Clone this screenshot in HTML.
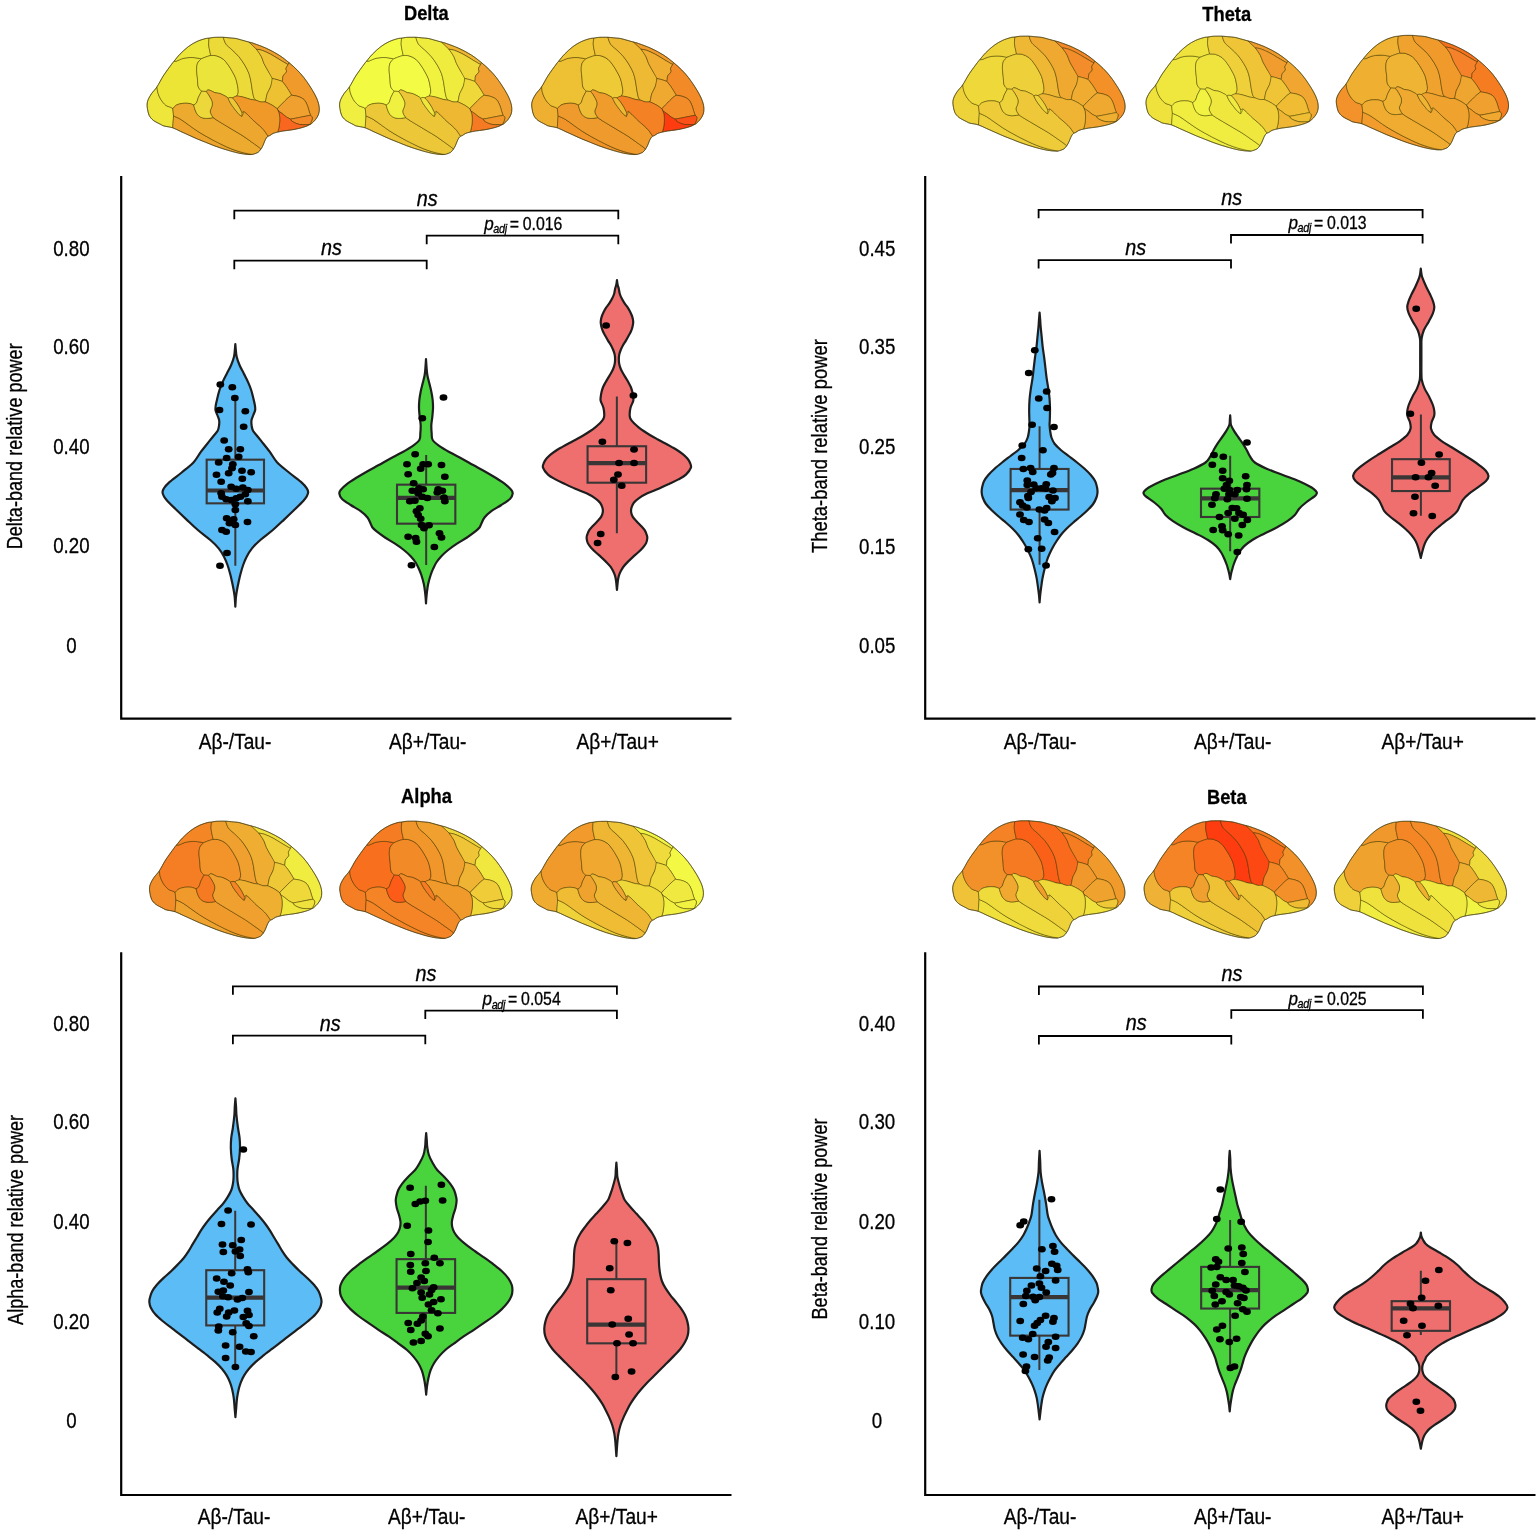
<!DOCTYPE html>
<html lang="en"><head><meta charset="utf-8"><title>Relative power by band</title>
<style>html,body{margin:0;padding:0;background:#fff}svg{display:block}text{font-family:"Liberation Sans",sans-serif;fill:#000;stroke:#000;stroke-width:0.3px;stroke-linejoin:round}</style></head><body>
<svg width="1536" height="1536" viewBox="0 0 1536 1536" style="filter:blur(0.45px)">
<rect width="1536" height="1536" fill="#fff"/>
<g>
<g transform="translate(139.93 28.26) scale(0.08333 0.08367)" stroke="#2c2a00" stroke-opacity="0.72" stroke-width="7.5" stroke-linejoin="round">
<path d="M90 960C86 937.5 84.33 923.33 86 905C87.67 886.67 91 870.83 100 850C109 829.17 122.5 805 140 780C157.5 755 181.67 735 205 700C228.33 665 250.83 615 280 570C309.17 525 358.33 459.5 380 430C401.67 400.5 393.33 413 410 393C426.67 373 451.67 338.83 480 310C508.33 281.17 546.67 245 580 220C613.33 195 646.67 175.83 680 160C713.33 144.17 755 132 780 125C805 118 813.33 120.5 830 118C846.67 115.5 865.33 111.67 880 110C894.67 108.33 898 108.33 918 108C938 107.67 975 107 1000 108C1025 109 1043 111.67 1068 114C1093 116.33 1125 117.67 1150 122C1175 126.33 1191.67 132.83 1218 140C1244.33 147.17 1283 158 1308 165C1333 172 1333 169.5 1368 182C1403 194.5 1468 217 1518 240C1568 263 1623 291.67 1668 320C1713 348.33 1751.33 380 1788 410C1824.67 440 1858 470 1888 500C1918 530 1943 558.33 1968 590C1993 621.67 2016.33 656.67 2038 690C2059.67 723.33 2081.33 758.33 2098 790C2114.67 821.67 2128.83 851.67 2138 880C2147.17 908.33 2152.17 935 2153 960C2153.83 985 2150.5 1008.33 2143 1030C2135.5 1051.67 2122.17 1071.67 2108 1090C2093.83 1108.33 2069.33 1130 2058 1140C2046.67 1150 2049.67 1145 2040 1150C2030.33 1155 2020.33 1162.5 2000 1170C1979.67 1177.5 1948.33 1187.5 1918 1195C1887.67 1202.5 1851.33 1209.5 1818 1215C1784.67 1220.5 1745.5 1223.67 1718 1228C1690.5 1232.33 1673 1236.17 1653 1241C1633 1245.83 1613.83 1250 1598 1257C1582.17 1264 1568 1277.5 1558 1283C1548 1288.5 1544.67 1285.5 1538 1290C1531.33 1294.5 1524.67 1300.33 1518 1310C1511.33 1319.67 1504.67 1333.33 1498 1348C1491.33 1362.67 1485.5 1382.17 1478 1398C1470.5 1413.83 1463 1428.83 1453 1443C1443 1457.17 1432.17 1473 1418 1483C1403.83 1493 1379.67 1498.83 1368 1503C1356.33 1507.17 1361.33 1507.17 1348 1508C1334.67 1508.83 1314.67 1510.5 1288 1508C1261.33 1505.5 1221.33 1499.67 1188 1493C1154.67 1486.33 1121.33 1477.17 1088 1468C1054.67 1458.83 1021.33 1448.83 988 1438C954.67 1427.17 921.33 1415.5 888 1403C854.67 1390.5 821.33 1376.33 788 1363C754.67 1349.67 721.33 1337.17 688 1323C654.67 1308.83 621.33 1293 588 1278C554.67 1263 520.5 1247.67 488 1233C455.5 1218.33 426.33 1200.83 393 1190C359.67 1179.17 311.83 1174.67 288 1168C264.17 1161.33 271.33 1161.33 250 1150C228.67 1138.67 183.33 1118.33 160 1100C136.67 1081.67 121.67 1063.33 110 1040C98.33 1016.67 94 982.5 90 960Z" fill="#eda62e" stroke="none"/>
<path d="M393 1190C359.67 1179.17 311.83 1174.67 288 1168C264.17 1161.33 271.33 1161.33 250 1150C228.67 1138.67 183.33 1118.33 160 1100C136.67 1081.67 121.67 1063.33 110 1040C98.33 1016.67 94 982.5 90 960C86 937.5 84.33 923.33 86 905C87.67 886.67 91 870.83 100 850C109 829.17 122.5 805 140 780C157.5 755 181.67 735 205 700L205 700C206.67 711.67 207.5 745 215 770C222.5 795 234.17 825 250 850C265.83 875 290 904.17 310 920C330 935.83 356 938.33 370 945C384 951.67 390 957.5 394 960L394 960C395.5 974.67 402.33 1021.33 403 1048C403.67 1074.67 399.67 1096.33 398 1120C396.33 1143.67 393.83 1178.33 393 1190Z" fill="#eee63a"/>
<path d="M205 700C228.33 665 250.83 615 280 570C309.17 525 358.33 459.5 380 430C401.67 400.5 393.33 413 410 393L410 393C415 392.83 425 396.5 440 392C455 387.5 480 372.5 500 366C520 359.5 536.67 355.67 560 353C583.33 350.33 610.83 348 640 350C669.17 352 719.17 362.5 735 365L735 365C727.5 374.17 699.17 397.5 690 420C680.83 442.5 680 470 680 500C680 530 686.67 566.67 690 600C693.33 633.33 691.67 674.67 700 700C708.33 725.33 733.33 743.33 740 752L740 752C733.33 765 710 807 700 830C690 853 689.17 875.5 680 890C670.83 904.5 650.83 912.5 645 917L645 917C635.5 913.83 610.83 901.17 588 898C565.17 894.83 533 894.67 508 898C483 901.33 457 907.67 438 918C419 928.33 401.33 953 394 960L394 960C390 957.5 384 951.67 370 945C356 938.33 330 935.83 310 920C290 904.17 265.83 875 250 850C234.17 825 222.5 795 215 770C207.5 745 206.67 711.67 205 700Z" fill="#ece536"/>
<path d="M410 393C426.67 373 451.67 338.83 480 310C508.33 281.17 546.67 245 580 220C613.33 195 646.67 175.83 680 160C713.33 144.17 755 132 780 125C805 118 813.33 120.5 830 118L830 118C829.17 131.67 823.33 173 825 200C826.67 227 835.83 259.17 840 280C844.17 300.83 848.33 317.5 850 325L850 325C841.67 327.5 819.17 333.33 800 340C780.83 346.67 745.83 360.83 735 365L735 365C719.17 362.5 669.17 352 640 350C610.83 348 583.33 350.33 560 353C536.67 355.67 520 359.5 500 366C480 372.5 455 387.5 440 392C425 396.5 415 392.83 410 393Z" fill="#ece63a"/>
<path d="M735 365C745.83 360.83 780.83 346.67 800 340C819.17 333.33 841.67 327.5 850 325L850 325C861.67 325.83 895 322.5 920 330C945 337.5 976.67 351.67 1000 370C1023.33 388.33 1041.67 415 1060 440C1078.33 465 1095 493.33 1110 520C1125 546.67 1140 573.33 1150 600C1160 626.67 1165 653.33 1170 680C1175 706.67 1181.17 738.33 1180 760C1178.83 781.67 1165.83 801.67 1163 810L1163 810C1153.83 813.67 1122.17 829 1108 832C1093.83 835 1086.33 827 1078 828C1069.67 829 1064.33 839.33 1058 838C1051.67 836.67 1056.33 829.67 1040 820C1023.67 810.33 983.33 788.33 960 780C936.67 771.67 918.33 775.83 900 770C881.67 764.17 864.17 750.5 850 745C835.83 739.5 824.17 735.33 815 737C805.83 738.67 807.5 752.5 795 755C782.5 757.5 749.17 752.5 740 752L740 752C733.33 743.33 708.33 725.33 700 700C691.67 674.67 693.33 633.33 690 600C686.67 566.67 680 530 680 500C680 470 680.83 442.5 690 420C699.17 397.5 727.5 374.17 735 365Z" fill="#ebe43a"/>
<path d="M830 118C846.67 115.5 865.33 111.67 880 110C894.67 108.33 898 108.33 918 108C938 107.67 975 107 1000 108L1000 108C1005.5 121.67 1015 164.67 1033 190C1051 215.33 1082.17 235 1108 260C1133.83 285 1163 310 1188 340C1213 370 1238 406.67 1258 440C1278 473.33 1295.5 506.67 1308 540C1320.5 573.33 1326.33 606.67 1333 640C1339.67 673.33 1342.17 708.33 1348 740C1353.83 771.67 1360.5 810 1368 830C1375.5 850 1388.83 855 1393 860L1393 860C1382.17 858.33 1352.17 855.83 1328 850C1303.83 844.17 1275.5 831.67 1248 825C1220.5 818.33 1177.17 812.5 1163 810L1163 810C1165.83 801.67 1178.83 781.67 1180 760C1181.17 738.33 1175 706.67 1170 680C1165 653.33 1160 626.67 1150 600C1140 573.33 1125 546.67 1110 520C1095 493.33 1078.33 465 1060 440C1041.67 415 1023.33 388.33 1000 370C976.67 351.67 945 337.5 920 330C895 322.5 861.67 325.83 850 325L850 325C848.33 317.5 844.17 300.83 840 280C835.83 259.17 826.67 227 825 200C823.33 173 829.17 131.67 830 118Z" fill="#ecda38"/>
<path d="M1000 108C1025 109 1043 111.67 1068 114C1093 116.33 1125 117.67 1150 122C1175 126.33 1191.67 132.83 1218 140C1244.33 147.17 1283 158 1308 165L1308 165C1323 179.17 1373 220.83 1398 250C1423 279.17 1443 311.67 1458 340C1473 368.33 1474.67 391.67 1488 420C1501.33 448.33 1521.33 480 1538 510C1554.67 540 1583 568.33 1588 600C1593 631.67 1578 670 1568 700C1558 730 1538 751.67 1528 780C1518 808.33 1513 853.33 1508 870C1503 886.67 1499.67 878.33 1498 880L1498 880C1489.67 880 1465.5 883.33 1448 880C1430.5 876.67 1402.17 863.33 1393 860L1393 860C1388.83 855 1375.5 850 1368 830C1360.5 810 1353.83 771.67 1348 740C1342.17 708.33 1339.67 673.33 1333 640C1326.33 606.67 1320.5 573.33 1308 540C1295.5 506.67 1278 473.33 1258 440C1238 406.67 1213 370 1188 340C1163 310 1133.83 285 1108 260C1082.17 235 1051 215.33 1033 190C1015 164.67 1005.5 121.67 1000 108Z" fill="#ecd437"/>
<path d="M1308 165C1333 172 1333 169.5 1368 182C1403 194.5 1468 217 1518 240C1568 263 1623 291.67 1668 320C1713 348.33 1751.33 380 1788 410L1778 435C1759.67 424.17 1703 390.83 1668 370C1633 349.17 1601.33 327.5 1568 310C1534.67 292.5 1496.33 275 1468 265C1439.67 255 1409.67 252.5 1398 250L1398 250L1308 165Z" fill="#ee9f30"/>
<path d="M1398 250C1409.67 252.5 1439.67 255 1468 265C1496.33 275 1534.67 292.5 1568 310C1601.33 327.5 1633 349.17 1668 370C1703 390.83 1759.67 424.17 1778 435L1778 435C1773.83 442.5 1756.33 465.83 1753 480C1749.67 494.17 1763.83 505 1758 520C1752.17 535 1725.5 555 1718 570C1710.5 585 1714.67 599.17 1713 610C1711.33 620.83 1708.83 630.83 1708 635L1708 635C1698 631.67 1668 620.83 1648 615C1628 609.17 1598 602.5 1588 600L1588 600C1579.67 585 1554.67 540 1538 510C1521.33 480 1501.33 448.33 1488 420C1474.67 391.67 1473 368.33 1458 340C1443 311.67 1408 265 1398 250Z" fill="#eec234"/>
<path d="M1778 435L1788 410L1788 410C1824.67 440 1858 470 1888 500C1918 530 1943 558.33 1968 590C1993 621.67 2016.33 656.67 2038 690C2059.67 723.33 2081.33 758.33 2098 790C2114.67 821.67 2128.83 851.67 2138 880C2147.17 908.33 2152.17 935 2153 960C2153.83 985 2150.5 1008.33 2143 1030C2135.5 1051.67 2122.17 1071.67 2108 1090C2093.83 1108.33 2069.33 1130 2058 1140C2046.67 1150 2049.67 1145 2040 1150L2040 1150C2043.83 1141.67 2058.33 1114.17 2063 1100C2067.67 1085.83 2070.5 1075 2068 1065C2065.5 1055 2051.33 1044.17 2048 1040L2048 1040C2045.5 1033.33 2039.67 1020 2033 1000C2026.33 980 2018.83 945 2008 920C1997.17 895 1986.33 867.5 1968 850C1949.67 832.5 1923 823.33 1898 815C1873 806.67 1831.33 802.5 1818 800L1818 800C1816.33 796.67 1818 796.67 1808 780C1798 763.33 1774.67 724.17 1758 700C1741.33 675.83 1716.33 645.83 1708 635L1708 635C1708.83 630.83 1711.33 620.83 1713 610C1714.67 599.17 1710.5 585 1718 570C1725.5 555 1752.17 535 1758 520C1763.83 505 1749.67 494.17 1753 480C1756.33 465.83 1773.83 442.5 1778 435Z" fill="#f09a2c"/>
<path d="M1588 600C1598 602.5 1628 609.17 1648 615C1668 620.83 1698 631.67 1708 635L1708 635C1716.33 645.83 1741.33 675.83 1758 700C1774.67 724.17 1798 763.33 1808 780C1818 796.67 1816.33 796.67 1818 800L1818 800C1809.67 806.67 1784.67 825 1768 840C1751.33 855 1734.67 873.33 1718 890C1701.33 906.67 1679.67 928 1668 940C1656.33 952 1651.33 958.33 1648 962L1648 962C1638 955 1608 932 1588 920C1568 908 1543 896.67 1528 890C1513 883.33 1503 881.67 1498 880L1498 880C1499.67 878.33 1503 886.67 1508 870C1513 853.33 1518 808.33 1528 780C1538 751.67 1558 730 1568 700C1578 670 1584.67 616.67 1588 600Z" fill="#eec133"/>
<path d="M1818 800C1831.33 802.5 1873 806.67 1898 815C1923 823.33 1949.67 832.5 1968 850C1986.33 867.5 1997.17 895 2008 920C2018.83 945 2026.33 980 2033 1000C2039.67 1020 2045.5 1033.33 2048 1040L2048 1040C2034.67 1042.5 1998 1049.17 1968 1055C1938 1060.83 1894.67 1070 1868 1075C1841.33 1080 1818 1083.33 1808 1085L1808 1085C1799.67 1080.83 1774.67 1070.83 1758 1060C1741.33 1049.17 1724.67 1032.5 1708 1020C1691.33 1007.5 1668 994.67 1658 985C1648 975.33 1649.67 965.83 1648 962L1648 962C1651.33 958.33 1656.33 952 1668 940C1679.67 928 1701.33 906.67 1718 890C1734.67 873.33 1751.33 855 1768 840C1784.67 825 1809.67 806.67 1818 800Z" fill="#f0a02e"/>
<path d="M1808 1085C1818 1083.33 1841.33 1080 1868 1075C1894.67 1070 1938 1060.83 1968 1055C1998 1049.17 2034.67 1042.5 2048 1040L2048 1040C2051.33 1044.17 2065.5 1055 2068 1065C2070.5 1075 2067.67 1085.83 2063 1100C2058.33 1114.17 2043.83 1141.67 2040 1150L2040 1150C2031.33 1150.33 2008.33 1152 1988 1152C1967.67 1152 1939.67 1153.67 1918 1150C1896.33 1146.33 1874.67 1137.5 1858 1130C1841.33 1122.5 1826.33 1112.5 1818 1105C1809.67 1097.5 1809.67 1088.33 1808 1085Z" fill="#f4892a"/>
<path d="M1648 962C1649.67 965.83 1648 975.33 1658 985C1668 994.67 1691.33 1007.5 1708 1020C1724.67 1032.5 1741.33 1049.17 1758 1060C1774.67 1070.83 1799.67 1080.83 1808 1085L1808 1085C1809.67 1088.33 1809.67 1097.5 1818 1105C1826.33 1112.5 1841.33 1122.5 1858 1130C1874.67 1137.5 1896.33 1146.33 1918 1150C1939.67 1153.67 1967.67 1152 1988 1152C2008.33 1152 2031.33 1150.33 2040 1150L2040 1150C2030.33 1155 2020.33 1162.5 2000 1170C1979.67 1177.5 1948.33 1187.5 1918 1195C1887.67 1202.5 1851.33 1209.5 1818 1215C1784.67 1220.5 1745.5 1223.67 1718 1228C1690.5 1232.33 1673 1236.17 1653 1241L1653 1241C1655.5 1232.17 1663.83 1210.17 1668 1188C1672.17 1165.83 1677.17 1134.67 1678 1108C1678.83 1081.33 1678 1052.33 1673 1028C1668 1003.67 1652.17 973 1648 962Z" fill="#f9661f"/>
<path d="M403 1048C417.17 1054.67 457.17 1069.67 488 1088C518.83 1106.33 554.67 1134.67 588 1158C621.33 1181.33 654.67 1206.33 688 1228C721.33 1249.67 754.67 1268.83 788 1288C821.33 1307.17 854.67 1325.5 888 1343C921.33 1360.5 954.67 1377.17 988 1393C1021.33 1408.83 1054.67 1424.67 1088 1438C1121.33 1451.33 1154.67 1463 1188 1473C1221.33 1483 1261.33 1492.17 1288 1498C1314.67 1503.83 1338 1506.33 1348 1508L1348 1508C1334.67 1508.83 1314.67 1510.5 1288 1508C1261.33 1505.5 1221.33 1499.67 1188 1493C1154.67 1486.33 1121.33 1477.17 1088 1468C1054.67 1458.83 1021.33 1448.83 988 1438C954.67 1427.17 921.33 1415.5 888 1403C854.67 1390.5 821.33 1376.33 788 1363C754.67 1349.67 721.33 1337.17 688 1323C654.67 1308.83 621.33 1293 588 1278C554.67 1263 520.5 1247.67 488 1233C455.5 1218.33 426.33 1200.83 393 1190L393 1190C393.83 1178.33 396.33 1143.67 398 1120C399.67 1096.33 402.17 1060 403 1048Z" fill="#eea42c"/>
<path d="M394 960C401.33 953 419 928.33 438 918C457 907.67 483 901.33 508 898C533 894.67 565.17 894.83 588 898C610.83 901.17 635.5 913.83 645 917L645 917C648 927.17 655.83 959.5 663 978C670.17 996.5 677.17 1013.83 688 1028C698.83 1042.17 711.33 1054.67 728 1063C744.67 1071.33 768 1076.33 788 1078C808 1079.67 833 1074.67 848 1073C863 1071.33 873 1068.83 878 1068L878 1068C888 1074.67 911.33 1091.33 938 1108C964.67 1124.67 1004.67 1148 1038 1168C1071.33 1188 1104.67 1208 1138 1228C1171.33 1248 1204.67 1266.33 1238 1288C1271.33 1309.67 1309.67 1338 1338 1358C1366.33 1378 1388.83 1393.83 1408 1408C1427.17 1422.17 1445.5 1437.17 1453 1443L1453 1443C1443 1457.17 1432.17 1473 1418 1483C1403.83 1493 1379.67 1498.83 1368 1503C1356.33 1507.17 1361.33 1507.17 1348 1508L1348 1508C1338 1506.33 1314.67 1503.83 1288 1498C1261.33 1492.17 1221.33 1483 1188 1473C1154.67 1463 1121.33 1451.33 1088 1438C1054.67 1424.67 1021.33 1408.83 988 1393C954.67 1377.17 921.33 1360.5 888 1343C854.67 1325.5 821.33 1307.17 788 1288C754.67 1268.83 721.33 1249.67 688 1228C654.67 1206.33 621.33 1181.33 588 1158C554.67 1134.67 518.83 1106.33 488 1088C457.17 1069.67 417.17 1054.67 403 1048L403 1048L394 960Z" fill="#ecaa2e"/>
<path d="M795 755C798.33 752 805.83 738.67 815 737C824.17 735.33 835.83 739.5 850 745C864.17 750.5 881.67 764.17 900 770C918.33 775.83 936.67 771.67 960 780C983.33 788.33 1023.67 810.33 1040 820C1056.33 829.67 1055 835 1058 838L1058 838C1063 848 1074.67 876.33 1088 898C1101.33 919.67 1121.33 946.33 1138 968C1154.67 989.67 1173.83 1013.83 1188 1028C1202.17 1042.17 1217.17 1048.83 1223 1053L1223 1053C1225.83 1047.5 1235.83 1030 1240 1020C1244.17 1010 1246.67 997.5 1248 993L1248 993C1254.67 998.83 1268 1008.83 1288 1028C1308 1047.17 1343 1084.67 1368 1108C1393 1131.33 1418 1149.67 1438 1168C1458 1186.33 1473.83 1201.33 1488 1218C1502.17 1234.67 1514.67 1256 1523 1268C1531.33 1280 1535.5 1286.33 1538 1290L1538 1290C1531.33 1294.5 1524.67 1300.33 1518 1310C1511.33 1319.67 1504.67 1333.33 1498 1348C1491.33 1362.67 1485.5 1382.17 1478 1398C1470.5 1413.83 1463 1428.83 1453 1443L1453 1443C1445.5 1437.17 1427.17 1422.17 1408 1408C1388.83 1393.83 1366.33 1378 1338 1358C1309.67 1338 1271.33 1309.67 1238 1288C1204.67 1266.33 1171.33 1248 1138 1228C1104.67 1208 1071.33 1188 1038 1168C1004.67 1148 964.67 1124.67 938 1108C911.33 1091.33 888 1074.67 878 1068L878 1068C873.83 1061.33 858.83 1041.33 853 1028C847.17 1014.67 841.33 1003 843 988C844.67 973 858.83 954.67 863 938C867.17 921.33 870.5 904.67 868 888C865.5 871.33 856.33 854.67 848 838C839.67 821.33 825.5 799.67 818 788C810.5 776.33 806.83 773.5 803 768C799.17 762.5 796.33 757.17 795 755Z" fill="#eda62e"/>
<path d="M1108 832C1117.17 828.33 1139.67 811.17 1163 810C1186.33 808.83 1220.5 818.33 1248 825C1275.5 831.67 1303.83 844.17 1328 850C1352.17 855.83 1373 855 1393 860C1413 865 1430.5 876.67 1448 880C1465.5 883.33 1484.67 878.33 1498 880C1511.33 881.67 1513 883.33 1528 890C1543 896.67 1568 908 1588 920C1608 932 1638 955 1648 962L1648 962C1652.17 973 1668 1003.67 1673 1028C1678 1052.33 1678.83 1081.33 1678 1108C1677.17 1134.67 1672.17 1165.83 1668 1188C1663.83 1210.17 1655.5 1232.17 1653 1241L1653 1241C1633 1245.83 1613.83 1250 1598 1257C1582.17 1264 1568 1277.5 1558 1283C1548 1288.5 1544.67 1285.5 1538 1290L1538 1290C1535.5 1286.33 1531.33 1280 1523 1268C1514.67 1256 1502.17 1234.67 1488 1218C1473.83 1201.33 1458 1186.33 1438 1168C1418 1149.67 1393 1131.33 1368 1108C1343 1084.67 1308 1047.17 1288 1028C1268 1008.83 1254.67 998.83 1248 993L1248 993L1223 1008L1223 1008C1217.17 996.33 1200.5 959.67 1188 938C1175.5 916.33 1161.33 895.67 1148 878C1134.67 860.33 1114.67 839.67 1108 832Z" fill="#f09828"/>
<path d="M740 752L795 755L795 755C796.33 757.17 799.17 762.5 803 768C806.83 773.5 810.5 776.33 818 788C825.5 799.67 839.67 821.33 848 838C856.33 854.67 865.5 871.33 868 888C870.5 904.67 867.17 921.33 863 938C858.83 954.67 844.67 973 843 988C841.33 1003 847.17 1014.67 853 1028C858.83 1041.33 873.83 1061.33 878 1068L878 1068C873 1068.83 863 1071.33 848 1073C833 1074.67 808 1079.67 788 1078C768 1076.33 744.67 1071.33 728 1063C711.33 1054.67 698.83 1042.17 688 1028C677.17 1013.83 670.17 996.5 663 978C655.83 959.5 648 927.17 645 917L645 917C650.83 912.5 670.83 904.5 680 890C689.17 875.5 690 853 700 830C710 807 733.33 765 740 752Z" fill="#ecd83a"/>
<path d="M1058 838C1063 848 1074.67 876.33 1088 898C1101.33 919.67 1121.33 946.33 1138 968C1154.67 989.67 1173.83 1013.83 1188 1028C1202.17 1042.17 1217.17 1048.83 1223 1053L1223 1053L1223 1008L1223 1008C1217.17 996.33 1200.5 959.67 1188 938C1175.5 916.33 1161.33 895.67 1148 878C1134.67 860.33 1114.67 839.67 1108 832L1108 832C1103 831.33 1086.33 827 1078 828C1069.67 829 1061.33 836.33 1058 838Z" fill="#ecc838"/>
<path d="M90 960C86 937.5 84.33 923.33 86 905C87.67 886.67 91 870.83 100 850C109 829.17 122.5 805 140 780C157.5 755 181.67 735 205 700C228.33 665 250.83 615 280 570C309.17 525 358.33 459.5 380 430C401.67 400.5 393.33 413 410 393C426.67 373 451.67 338.83 480 310C508.33 281.17 546.67 245 580 220C613.33 195 646.67 175.83 680 160C713.33 144.17 755 132 780 125C805 118 813.33 120.5 830 118C846.67 115.5 865.33 111.67 880 110C894.67 108.33 898 108.33 918 108C938 107.67 975 107 1000 108C1025 109 1043 111.67 1068 114C1093 116.33 1125 117.67 1150 122C1175 126.33 1191.67 132.83 1218 140C1244.33 147.17 1283 158 1308 165C1333 172 1333 169.5 1368 182C1403 194.5 1468 217 1518 240C1568 263 1623 291.67 1668 320C1713 348.33 1751.33 380 1788 410C1824.67 440 1858 470 1888 500C1918 530 1943 558.33 1968 590C1993 621.67 2016.33 656.67 2038 690C2059.67 723.33 2081.33 758.33 2098 790C2114.67 821.67 2128.83 851.67 2138 880C2147.17 908.33 2152.17 935 2153 960C2153.83 985 2150.5 1008.33 2143 1030C2135.5 1051.67 2122.17 1071.67 2108 1090C2093.83 1108.33 2069.33 1130 2058 1140C2046.67 1150 2049.67 1145 2040 1150C2030.33 1155 2020.33 1162.5 2000 1170C1979.67 1177.5 1948.33 1187.5 1918 1195C1887.67 1202.5 1851.33 1209.5 1818 1215C1784.67 1220.5 1745.5 1223.67 1718 1228C1690.5 1232.33 1673 1236.17 1653 1241C1633 1245.83 1613.83 1250 1598 1257C1582.17 1264 1568 1277.5 1558 1283C1548 1288.5 1544.67 1285.5 1538 1290C1531.33 1294.5 1524.67 1300.33 1518 1310C1511.33 1319.67 1504.67 1333.33 1498 1348C1491.33 1362.67 1485.5 1382.17 1478 1398C1470.5 1413.83 1463 1428.83 1453 1443C1443 1457.17 1432.17 1473 1418 1483C1403.83 1493 1379.67 1498.83 1368 1503C1356.33 1507.17 1361.33 1507.17 1348 1508C1334.67 1508.83 1314.67 1510.5 1288 1508C1261.33 1505.5 1221.33 1499.67 1188 1493C1154.67 1486.33 1121.33 1477.17 1088 1468C1054.67 1458.83 1021.33 1448.83 988 1438C954.67 1427.17 921.33 1415.5 888 1403C854.67 1390.5 821.33 1376.33 788 1363C754.67 1349.67 721.33 1337.17 688 1323C654.67 1308.83 621.33 1293 588 1278C554.67 1263 520.5 1247.67 488 1233C455.5 1218.33 426.33 1200.83 393 1190C359.67 1179.17 311.83 1174.67 288 1168C264.17 1161.33 271.33 1161.33 250 1150C228.67 1138.67 183.33 1118.33 160 1100C136.67 1081.67 121.67 1063.33 110 1040C98.33 1016.67 94 982.5 90 960Z" fill="none" stroke="#4a4420" stroke-opacity="0.8" stroke-width="9"/>
</g>
<g transform="translate(332.43 28.26) scale(0.08333 0.08367)" stroke="#2c2a00" stroke-opacity="0.72" stroke-width="7.5" stroke-linejoin="round">
<path d="M90 960C86 937.5 84.33 923.33 86 905C87.67 886.67 91 870.83 100 850C109 829.17 122.5 805 140 780C157.5 755 181.67 735 205 700C228.33 665 250.83 615 280 570C309.17 525 358.33 459.5 380 430C401.67 400.5 393.33 413 410 393C426.67 373 451.67 338.83 480 310C508.33 281.17 546.67 245 580 220C613.33 195 646.67 175.83 680 160C713.33 144.17 755 132 780 125C805 118 813.33 120.5 830 118C846.67 115.5 865.33 111.67 880 110C894.67 108.33 898 108.33 918 108C938 107.67 975 107 1000 108C1025 109 1043 111.67 1068 114C1093 116.33 1125 117.67 1150 122C1175 126.33 1191.67 132.83 1218 140C1244.33 147.17 1283 158 1308 165C1333 172 1333 169.5 1368 182C1403 194.5 1468 217 1518 240C1568 263 1623 291.67 1668 320C1713 348.33 1751.33 380 1788 410C1824.67 440 1858 470 1888 500C1918 530 1943 558.33 1968 590C1993 621.67 2016.33 656.67 2038 690C2059.67 723.33 2081.33 758.33 2098 790C2114.67 821.67 2128.83 851.67 2138 880C2147.17 908.33 2152.17 935 2153 960C2153.83 985 2150.5 1008.33 2143 1030C2135.5 1051.67 2122.17 1071.67 2108 1090C2093.83 1108.33 2069.33 1130 2058 1140C2046.67 1150 2049.67 1145 2040 1150C2030.33 1155 2020.33 1162.5 2000 1170C1979.67 1177.5 1948.33 1187.5 1918 1195C1887.67 1202.5 1851.33 1209.5 1818 1215C1784.67 1220.5 1745.5 1223.67 1718 1228C1690.5 1232.33 1673 1236.17 1653 1241C1633 1245.83 1613.83 1250 1598 1257C1582.17 1264 1568 1277.5 1558 1283C1548 1288.5 1544.67 1285.5 1538 1290C1531.33 1294.5 1524.67 1300.33 1518 1310C1511.33 1319.67 1504.67 1333.33 1498 1348C1491.33 1362.67 1485.5 1382.17 1478 1398C1470.5 1413.83 1463 1428.83 1453 1443C1443 1457.17 1432.17 1473 1418 1483C1403.83 1493 1379.67 1498.83 1368 1503C1356.33 1507.17 1361.33 1507.17 1348 1508C1334.67 1508.83 1314.67 1510.5 1288 1508C1261.33 1505.5 1221.33 1499.67 1188 1493C1154.67 1486.33 1121.33 1477.17 1088 1468C1054.67 1458.83 1021.33 1448.83 988 1438C954.67 1427.17 921.33 1415.5 888 1403C854.67 1390.5 821.33 1376.33 788 1363C754.67 1349.67 721.33 1337.17 688 1323C654.67 1308.83 621.33 1293 588 1278C554.67 1263 520.5 1247.67 488 1233C455.5 1218.33 426.33 1200.83 393 1190C359.67 1179.17 311.83 1174.67 288 1168C264.17 1161.33 271.33 1161.33 250 1150C228.67 1138.67 183.33 1118.33 160 1100C136.67 1081.67 121.67 1063.33 110 1040C98.33 1016.67 94 982.5 90 960Z" fill="#ecc636" stroke="none"/>
<path d="M393 1190C359.67 1179.17 311.83 1174.67 288 1168C264.17 1161.33 271.33 1161.33 250 1150C228.67 1138.67 183.33 1118.33 160 1100C136.67 1081.67 121.67 1063.33 110 1040C98.33 1016.67 94 982.5 90 960C86 937.5 84.33 923.33 86 905C87.67 886.67 91 870.83 100 850C109 829.17 122.5 805 140 780C157.5 755 181.67 735 205 700L205 700C206.67 711.67 207.5 745 215 770C222.5 795 234.17 825 250 850C265.83 875 290 904.17 310 920C330 935.83 356 938.33 370 945C384 951.67 390 957.5 394 960L394 960C395.5 974.67 402.33 1021.33 403 1048C403.67 1074.67 399.67 1096.33 398 1120C396.33 1143.67 393.83 1178.33 393 1190Z" fill="#f0ee40"/>
<path d="M205 700C228.33 665 250.83 615 280 570C309.17 525 358.33 459.5 380 430C401.67 400.5 393.33 413 410 393L410 393C415 392.83 425 396.5 440 392C455 387.5 480 372.5 500 366C520 359.5 536.67 355.67 560 353C583.33 350.33 610.83 348 640 350C669.17 352 719.17 362.5 735 365L735 365C727.5 374.17 699.17 397.5 690 420C680.83 442.5 680 470 680 500C680 530 686.67 566.67 690 600C693.33 633.33 691.67 674.67 700 700C708.33 725.33 733.33 743.33 740 752L740 752C733.33 765 710 807 700 830C690 853 689.17 875.5 680 890C670.83 904.5 650.83 912.5 645 917L645 917C635.5 913.83 610.83 901.17 588 898C565.17 894.83 533 894.67 508 898C483 901.33 457 907.67 438 918C419 928.33 401.33 953 394 960L394 960C390 957.5 384 951.67 370 945C356 938.33 330 935.83 310 920C290 904.17 265.83 875 250 850C234.17 825 222.5 795 215 770C207.5 745 206.67 711.67 205 700Z" fill="#f2fa42"/>
<path d="M410 393C426.67 373 451.67 338.83 480 310C508.33 281.17 546.67 245 580 220C613.33 195 646.67 175.83 680 160C713.33 144.17 755 132 780 125C805 118 813.33 120.5 830 118L830 118C829.17 131.67 823.33 173 825 200C826.67 227 835.83 259.17 840 280C844.17 300.83 848.33 317.5 850 325L850 325C841.67 327.5 819.17 333.33 800 340C780.83 346.67 745.83 360.83 735 365L735 365C719.17 362.5 669.17 352 640 350C610.83 348 583.33 350.33 560 353C536.67 355.67 520 359.5 500 366C480 372.5 455 387.5 440 392C425 396.5 415 392.83 410 393Z" fill="#f3fb42"/>
<path d="M735 365C745.83 360.83 780.83 346.67 800 340C819.17 333.33 841.67 327.5 850 325L850 325C861.67 325.83 895 322.5 920 330C945 337.5 976.67 351.67 1000 370C1023.33 388.33 1041.67 415 1060 440C1078.33 465 1095 493.33 1110 520C1125 546.67 1140 573.33 1150 600C1160 626.67 1165 653.33 1170 680C1175 706.67 1181.17 738.33 1180 760C1178.83 781.67 1165.83 801.67 1163 810L1163 810C1153.83 813.67 1122.17 829 1108 832C1093.83 835 1086.33 827 1078 828C1069.67 829 1064.33 839.33 1058 838C1051.67 836.67 1056.33 829.67 1040 820C1023.67 810.33 983.33 788.33 960 780C936.67 771.67 918.33 775.83 900 770C881.67 764.17 864.17 750.5 850 745C835.83 739.5 824.17 735.33 815 737C805.83 738.67 807.5 752.5 795 755C782.5 757.5 749.17 752.5 740 752L740 752C733.33 743.33 708.33 725.33 700 700C691.67 674.67 693.33 633.33 690 600C686.67 566.67 680 530 680 500C680 470 680.83 442.5 690 420C699.17 397.5 727.5 374.17 735 365Z" fill="#f3fb44"/>
<path d="M830 118C846.67 115.5 865.33 111.67 880 110C894.67 108.33 898 108.33 918 108C938 107.67 975 107 1000 108L1000 108C1005.5 121.67 1015 164.67 1033 190C1051 215.33 1082.17 235 1108 260C1133.83 285 1163 310 1188 340C1213 370 1238 406.67 1258 440C1278 473.33 1295.5 506.67 1308 540C1320.5 573.33 1326.33 606.67 1333 640C1339.67 673.33 1342.17 708.33 1348 740C1353.83 771.67 1360.5 810 1368 830C1375.5 850 1388.83 855 1393 860L1393 860C1382.17 858.33 1352.17 855.83 1328 850C1303.83 844.17 1275.5 831.67 1248 825C1220.5 818.33 1177.17 812.5 1163 810L1163 810C1165.83 801.67 1178.83 781.67 1180 760C1181.17 738.33 1175 706.67 1170 680C1165 653.33 1160 626.67 1150 600C1140 573.33 1125 546.67 1110 520C1095 493.33 1078.33 465 1060 440C1041.67 415 1023.33 388.33 1000 370C976.67 351.67 945 337.5 920 330C895 322.5 861.67 325.83 850 325L850 325C848.33 317.5 844.17 300.83 840 280C835.83 259.17 826.67 227 825 200C823.33 173 829.17 131.67 830 118Z" fill="#f1f240"/>
<path d="M1000 108C1025 109 1043 111.67 1068 114C1093 116.33 1125 117.67 1150 122C1175 126.33 1191.67 132.83 1218 140C1244.33 147.17 1283 158 1308 165L1308 165C1323 179.17 1373 220.83 1398 250C1423 279.17 1443 311.67 1458 340C1473 368.33 1474.67 391.67 1488 420C1501.33 448.33 1521.33 480 1538 510C1554.67 540 1583 568.33 1588 600C1593 631.67 1578 670 1568 700C1558 730 1538 751.67 1528 780C1518 808.33 1513 853.33 1508 870C1503 886.67 1499.67 878.33 1498 880L1498 880C1489.67 880 1465.5 883.33 1448 880C1430.5 876.67 1402.17 863.33 1393 860L1393 860C1388.83 855 1375.5 850 1368 830C1360.5 810 1353.83 771.67 1348 740C1342.17 708.33 1339.67 673.33 1333 640C1326.33 606.67 1320.5 573.33 1308 540C1295.5 506.67 1278 473.33 1258 440C1238 406.67 1213 370 1188 340C1163 310 1133.83 285 1108 260C1082.17 235 1051 215.33 1033 190C1015 164.67 1005.5 121.67 1000 108Z" fill="#f0ec3e"/>
<path d="M1308 165C1333 172 1333 169.5 1368 182C1403 194.5 1468 217 1518 240C1568 263 1623 291.67 1668 320C1713 348.33 1751.33 380 1788 410L1778 435C1759.67 424.17 1703 390.83 1668 370C1633 349.17 1601.33 327.5 1568 310C1534.67 292.5 1496.33 275 1468 265C1439.67 255 1409.67 252.5 1398 250L1398 250L1308 165Z" fill="#efb434"/>
<path d="M1398 250C1409.67 252.5 1439.67 255 1468 265C1496.33 275 1534.67 292.5 1568 310C1601.33 327.5 1633 349.17 1668 370C1703 390.83 1759.67 424.17 1778 435L1778 435C1773.83 442.5 1756.33 465.83 1753 480C1749.67 494.17 1763.83 505 1758 520C1752.17 535 1725.5 555 1718 570C1710.5 585 1714.67 599.17 1713 610C1711.33 620.83 1708.83 630.83 1708 635L1708 635C1698 631.67 1668 620.83 1648 615C1628 609.17 1598 602.5 1588 600L1588 600C1579.67 585 1554.67 540 1538 510C1521.33 480 1501.33 448.33 1488 420C1474.67 391.67 1473 368.33 1458 340C1443 311.67 1408 265 1398 250Z" fill="#efd83a"/>
<path d="M1778 435L1788 410L1788 410C1824.67 440 1858 470 1888 500C1918 530 1943 558.33 1968 590C1993 621.67 2016.33 656.67 2038 690C2059.67 723.33 2081.33 758.33 2098 790C2114.67 821.67 2128.83 851.67 2138 880C2147.17 908.33 2152.17 935 2153 960C2153.83 985 2150.5 1008.33 2143 1030C2135.5 1051.67 2122.17 1071.67 2108 1090C2093.83 1108.33 2069.33 1130 2058 1140C2046.67 1150 2049.67 1145 2040 1150L2040 1150C2043.83 1141.67 2058.33 1114.17 2063 1100C2067.67 1085.83 2070.5 1075 2068 1065C2065.5 1055 2051.33 1044.17 2048 1040L2048 1040C2045.5 1033.33 2039.67 1020 2033 1000C2026.33 980 2018.83 945 2008 920C1997.17 895 1986.33 867.5 1968 850C1949.67 832.5 1923 823.33 1898 815C1873 806.67 1831.33 802.5 1818 800L1818 800C1816.33 796.67 1818 796.67 1808 780C1798 763.33 1774.67 724.17 1758 700C1741.33 675.83 1716.33 645.83 1708 635L1708 635C1708.83 630.83 1711.33 620.83 1713 610C1714.67 599.17 1710.5 585 1718 570C1725.5 555 1752.17 535 1758 520C1763.83 505 1749.67 494.17 1753 480C1756.33 465.83 1773.83 442.5 1778 435Z" fill="#f0a030"/>
<path d="M1588 600C1598 602.5 1628 609.17 1648 615C1668 620.83 1698 631.67 1708 635L1708 635C1716.33 645.83 1741.33 675.83 1758 700C1774.67 724.17 1798 763.33 1808 780C1818 796.67 1816.33 796.67 1818 800L1818 800C1809.67 806.67 1784.67 825 1768 840C1751.33 855 1734.67 873.33 1718 890C1701.33 906.67 1679.67 928 1668 940C1656.33 952 1651.33 958.33 1648 962L1648 962C1638 955 1608 932 1588 920C1568 908 1543 896.67 1528 890C1513 883.33 1503 881.67 1498 880L1498 880C1499.67 878.33 1503 886.67 1508 870C1513 853.33 1518 808.33 1528 780C1538 751.67 1558 730 1568 700C1578 670 1584.67 616.67 1588 600Z" fill="#efd83a"/>
<path d="M1818 800C1831.33 802.5 1873 806.67 1898 815C1923 823.33 1949.67 832.5 1968 850C1986.33 867.5 1997.17 895 2008 920C2018.83 945 2026.33 980 2033 1000C2039.67 1020 2045.5 1033.33 2048 1040L2048 1040C2034.67 1042.5 1998 1049.17 1968 1055C1938 1060.83 1894.67 1070 1868 1075C1841.33 1080 1818 1083.33 1808 1085L1808 1085C1799.67 1080.83 1774.67 1070.83 1758 1060C1741.33 1049.17 1724.67 1032.5 1708 1020C1691.33 1007.5 1668 994.67 1658 985C1648 975.33 1649.67 965.83 1648 962L1648 962C1651.33 958.33 1656.33 952 1668 940C1679.67 928 1701.33 906.67 1718 890C1734.67 873.33 1751.33 855 1768 840C1784.67 825 1809.67 806.67 1818 800Z" fill="#f0ac30"/>
<path d="M1808 1085C1818 1083.33 1841.33 1080 1868 1075C1894.67 1070 1938 1060.83 1968 1055C1998 1049.17 2034.67 1042.5 2048 1040L2048 1040C2051.33 1044.17 2065.5 1055 2068 1065C2070.5 1075 2067.67 1085.83 2063 1100C2058.33 1114.17 2043.83 1141.67 2040 1150L2040 1150C2031.33 1150.33 2008.33 1152 1988 1152C1967.67 1152 1939.67 1153.67 1918 1150C1896.33 1146.33 1874.67 1137.5 1858 1130C1841.33 1122.5 1826.33 1112.5 1818 1105C1809.67 1097.5 1809.67 1088.33 1808 1085Z" fill="#f2962c"/>
<path d="M1648 962C1649.67 965.83 1648 975.33 1658 985C1668 994.67 1691.33 1007.5 1708 1020C1724.67 1032.5 1741.33 1049.17 1758 1060C1774.67 1070.83 1799.67 1080.83 1808 1085L1808 1085C1809.67 1088.33 1809.67 1097.5 1818 1105C1826.33 1112.5 1841.33 1122.5 1858 1130C1874.67 1137.5 1896.33 1146.33 1918 1150C1939.67 1153.67 1967.67 1152 1988 1152C2008.33 1152 2031.33 1150.33 2040 1150L2040 1150C2030.33 1155 2020.33 1162.5 2000 1170C1979.67 1177.5 1948.33 1187.5 1918 1195C1887.67 1202.5 1851.33 1209.5 1818 1215C1784.67 1220.5 1745.5 1223.67 1718 1228C1690.5 1232.33 1673 1236.17 1653 1241L1653 1241C1655.5 1232.17 1663.83 1210.17 1668 1188C1672.17 1165.83 1677.17 1134.67 1678 1108C1678.83 1081.33 1678 1052.33 1673 1028C1668 1003.67 1652.17 973 1648 962Z" fill="#f67a24"/>
<path d="M403 1048C417.17 1054.67 457.17 1069.67 488 1088C518.83 1106.33 554.67 1134.67 588 1158C621.33 1181.33 654.67 1206.33 688 1228C721.33 1249.67 754.67 1268.83 788 1288C821.33 1307.17 854.67 1325.5 888 1343C921.33 1360.5 954.67 1377.17 988 1393C1021.33 1408.83 1054.67 1424.67 1088 1438C1121.33 1451.33 1154.67 1463 1188 1473C1221.33 1483 1261.33 1492.17 1288 1498C1314.67 1503.83 1338 1506.33 1348 1508L1348 1508C1334.67 1508.83 1314.67 1510.5 1288 1508C1261.33 1505.5 1221.33 1499.67 1188 1493C1154.67 1486.33 1121.33 1477.17 1088 1468C1054.67 1458.83 1021.33 1448.83 988 1438C954.67 1427.17 921.33 1415.5 888 1403C854.67 1390.5 821.33 1376.33 788 1363C754.67 1349.67 721.33 1337.17 688 1323C654.67 1308.83 621.33 1293 588 1278C554.67 1263 520.5 1247.67 488 1233C455.5 1218.33 426.33 1200.83 393 1190L393 1190C393.83 1178.33 396.33 1143.67 398 1120C399.67 1096.33 402.17 1060 403 1048Z" fill="#ecc436"/>
<path d="M394 960C401.33 953 419 928.33 438 918C457 907.67 483 901.33 508 898C533 894.67 565.17 894.83 588 898C610.83 901.17 635.5 913.83 645 917L645 917C648 927.17 655.83 959.5 663 978C670.17 996.5 677.17 1013.83 688 1028C698.83 1042.17 711.33 1054.67 728 1063C744.67 1071.33 768 1076.33 788 1078C808 1079.67 833 1074.67 848 1073C863 1071.33 873 1068.83 878 1068L878 1068C888 1074.67 911.33 1091.33 938 1108C964.67 1124.67 1004.67 1148 1038 1168C1071.33 1188 1104.67 1208 1138 1228C1171.33 1248 1204.67 1266.33 1238 1288C1271.33 1309.67 1309.67 1338 1338 1358C1366.33 1378 1388.83 1393.83 1408 1408C1427.17 1422.17 1445.5 1437.17 1453 1443L1453 1443C1443 1457.17 1432.17 1473 1418 1483C1403.83 1493 1379.67 1498.83 1368 1503C1356.33 1507.17 1361.33 1507.17 1348 1508L1348 1508C1338 1506.33 1314.67 1503.83 1288 1498C1261.33 1492.17 1221.33 1483 1188 1473C1154.67 1463 1121.33 1451.33 1088 1438C1054.67 1424.67 1021.33 1408.83 988 1393C954.67 1377.17 921.33 1360.5 888 1343C854.67 1325.5 821.33 1307.17 788 1288C754.67 1268.83 721.33 1249.67 688 1228C654.67 1206.33 621.33 1181.33 588 1158C554.67 1134.67 518.83 1106.33 488 1088C457.17 1069.67 417.17 1054.67 403 1048L403 1048L394 960Z" fill="#ecc838"/>
<path d="M795 755C798.33 752 805.83 738.67 815 737C824.17 735.33 835.83 739.5 850 745C864.17 750.5 881.67 764.17 900 770C918.33 775.83 936.67 771.67 960 780C983.33 788.33 1023.67 810.33 1040 820C1056.33 829.67 1055 835 1058 838L1058 838C1063 848 1074.67 876.33 1088 898C1101.33 919.67 1121.33 946.33 1138 968C1154.67 989.67 1173.83 1013.83 1188 1028C1202.17 1042.17 1217.17 1048.83 1223 1053L1223 1053C1225.83 1047.5 1235.83 1030 1240 1020C1244.17 1010 1246.67 997.5 1248 993L1248 993C1254.67 998.83 1268 1008.83 1288 1028C1308 1047.17 1343 1084.67 1368 1108C1393 1131.33 1418 1149.67 1438 1168C1458 1186.33 1473.83 1201.33 1488 1218C1502.17 1234.67 1514.67 1256 1523 1268C1531.33 1280 1535.5 1286.33 1538 1290L1538 1290C1531.33 1294.5 1524.67 1300.33 1518 1310C1511.33 1319.67 1504.67 1333.33 1498 1348C1491.33 1362.67 1485.5 1382.17 1478 1398C1470.5 1413.83 1463 1428.83 1453 1443L1453 1443C1445.5 1437.17 1427.17 1422.17 1408 1408C1388.83 1393.83 1366.33 1378 1338 1358C1309.67 1338 1271.33 1309.67 1238 1288C1204.67 1266.33 1171.33 1248 1138 1228C1104.67 1208 1071.33 1188 1038 1168C1004.67 1148 964.67 1124.67 938 1108C911.33 1091.33 888 1074.67 878 1068L878 1068C873.83 1061.33 858.83 1041.33 853 1028C847.17 1014.67 841.33 1003 843 988C844.67 973 858.83 954.67 863 938C867.17 921.33 870.5 904.67 868 888C865.5 871.33 856.33 854.67 848 838C839.67 821.33 825.5 799.67 818 788C810.5 776.33 806.83 773.5 803 768C799.17 762.5 796.33 757.17 795 755Z" fill="#ecc636"/>
<path d="M1108 832C1117.17 828.33 1139.67 811.17 1163 810C1186.33 808.83 1220.5 818.33 1248 825C1275.5 831.67 1303.83 844.17 1328 850C1352.17 855.83 1373 855 1393 860C1413 865 1430.5 876.67 1448 880C1465.5 883.33 1484.67 878.33 1498 880C1511.33 881.67 1513 883.33 1528 890C1543 896.67 1568 908 1588 920C1608 932 1638 955 1648 962L1648 962C1652.17 973 1668 1003.67 1673 1028C1678 1052.33 1678.83 1081.33 1678 1108C1677.17 1134.67 1672.17 1165.83 1668 1188C1663.83 1210.17 1655.5 1232.17 1653 1241L1653 1241C1633 1245.83 1613.83 1250 1598 1257C1582.17 1264 1568 1277.5 1558 1283C1548 1288.5 1544.67 1285.5 1538 1290L1538 1290C1535.5 1286.33 1531.33 1280 1523 1268C1514.67 1256 1502.17 1234.67 1488 1218C1473.83 1201.33 1458 1186.33 1438 1168C1418 1149.67 1393 1131.33 1368 1108C1343 1084.67 1308 1047.17 1288 1028C1268 1008.83 1254.67 998.83 1248 993L1248 993L1223 1008L1223 1008C1217.17 996.33 1200.5 959.67 1188 938C1175.5 916.33 1161.33 895.67 1148 878C1134.67 860.33 1114.67 839.67 1108 832Z" fill="#eeb832"/>
<path d="M740 752L795 755L795 755C796.33 757.17 799.17 762.5 803 768C806.83 773.5 810.5 776.33 818 788C825.5 799.67 839.67 821.33 848 838C856.33 854.67 865.5 871.33 868 888C870.5 904.67 867.17 921.33 863 938C858.83 954.67 844.67 973 843 988C841.33 1003 847.17 1014.67 853 1028C858.83 1041.33 873.83 1061.33 878 1068L878 1068C873 1068.83 863 1071.33 848 1073C833 1074.67 808 1079.67 788 1078C768 1076.33 744.67 1071.33 728 1063C711.33 1054.67 698.83 1042.17 688 1028C677.17 1013.83 670.17 996.5 663 978C655.83 959.5 648 927.17 645 917L645 917C650.83 912.5 670.83 904.5 680 890C689.17 875.5 690 853 700 830C710 807 733.33 765 740 752Z" fill="#f0f040"/>
<path d="M1058 838C1063 848 1074.67 876.33 1088 898C1101.33 919.67 1121.33 946.33 1138 968C1154.67 989.67 1173.83 1013.83 1188 1028C1202.17 1042.17 1217.17 1048.83 1223 1053L1223 1053L1223 1008L1223 1008C1217.17 996.33 1200.5 959.67 1188 938C1175.5 916.33 1161.33 895.67 1148 878C1134.67 860.33 1114.67 839.67 1108 832L1108 832C1103 831.33 1086.33 827 1078 828C1069.67 829 1061.33 836.33 1058 838Z" fill="#efe63e"/>
<path d="M90 960C86 937.5 84.33 923.33 86 905C87.67 886.67 91 870.83 100 850C109 829.17 122.5 805 140 780C157.5 755 181.67 735 205 700C228.33 665 250.83 615 280 570C309.17 525 358.33 459.5 380 430C401.67 400.5 393.33 413 410 393C426.67 373 451.67 338.83 480 310C508.33 281.17 546.67 245 580 220C613.33 195 646.67 175.83 680 160C713.33 144.17 755 132 780 125C805 118 813.33 120.5 830 118C846.67 115.5 865.33 111.67 880 110C894.67 108.33 898 108.33 918 108C938 107.67 975 107 1000 108C1025 109 1043 111.67 1068 114C1093 116.33 1125 117.67 1150 122C1175 126.33 1191.67 132.83 1218 140C1244.33 147.17 1283 158 1308 165C1333 172 1333 169.5 1368 182C1403 194.5 1468 217 1518 240C1568 263 1623 291.67 1668 320C1713 348.33 1751.33 380 1788 410C1824.67 440 1858 470 1888 500C1918 530 1943 558.33 1968 590C1993 621.67 2016.33 656.67 2038 690C2059.67 723.33 2081.33 758.33 2098 790C2114.67 821.67 2128.83 851.67 2138 880C2147.17 908.33 2152.17 935 2153 960C2153.83 985 2150.5 1008.33 2143 1030C2135.5 1051.67 2122.17 1071.67 2108 1090C2093.83 1108.33 2069.33 1130 2058 1140C2046.67 1150 2049.67 1145 2040 1150C2030.33 1155 2020.33 1162.5 2000 1170C1979.67 1177.5 1948.33 1187.5 1918 1195C1887.67 1202.5 1851.33 1209.5 1818 1215C1784.67 1220.5 1745.5 1223.67 1718 1228C1690.5 1232.33 1673 1236.17 1653 1241C1633 1245.83 1613.83 1250 1598 1257C1582.17 1264 1568 1277.5 1558 1283C1548 1288.5 1544.67 1285.5 1538 1290C1531.33 1294.5 1524.67 1300.33 1518 1310C1511.33 1319.67 1504.67 1333.33 1498 1348C1491.33 1362.67 1485.5 1382.17 1478 1398C1470.5 1413.83 1463 1428.83 1453 1443C1443 1457.17 1432.17 1473 1418 1483C1403.83 1493 1379.67 1498.83 1368 1503C1356.33 1507.17 1361.33 1507.17 1348 1508C1334.67 1508.83 1314.67 1510.5 1288 1508C1261.33 1505.5 1221.33 1499.67 1188 1493C1154.67 1486.33 1121.33 1477.17 1088 1468C1054.67 1458.83 1021.33 1448.83 988 1438C954.67 1427.17 921.33 1415.5 888 1403C854.67 1390.5 821.33 1376.33 788 1363C754.67 1349.67 721.33 1337.17 688 1323C654.67 1308.83 621.33 1293 588 1278C554.67 1263 520.5 1247.67 488 1233C455.5 1218.33 426.33 1200.83 393 1190C359.67 1179.17 311.83 1174.67 288 1168C264.17 1161.33 271.33 1161.33 250 1150C228.67 1138.67 183.33 1118.33 160 1100C136.67 1081.67 121.67 1063.33 110 1040C98.33 1016.67 94 982.5 90 960Z" fill="none" stroke="#4a4420" stroke-opacity="0.8" stroke-width="9"/>
</g>
<g transform="translate(524.53 28.26) scale(0.08333 0.08367)" stroke="#2c2a00" stroke-opacity="0.72" stroke-width="7.5" stroke-linejoin="round">
<path d="M90 960C86 937.5 84.33 923.33 86 905C87.67 886.67 91 870.83 100 850C109 829.17 122.5 805 140 780C157.5 755 181.67 735 205 700C228.33 665 250.83 615 280 570C309.17 525 358.33 459.5 380 430C401.67 400.5 393.33 413 410 393C426.67 373 451.67 338.83 480 310C508.33 281.17 546.67 245 580 220C613.33 195 646.67 175.83 680 160C713.33 144.17 755 132 780 125C805 118 813.33 120.5 830 118C846.67 115.5 865.33 111.67 880 110C894.67 108.33 898 108.33 918 108C938 107.67 975 107 1000 108C1025 109 1043 111.67 1068 114C1093 116.33 1125 117.67 1150 122C1175 126.33 1191.67 132.83 1218 140C1244.33 147.17 1283 158 1308 165C1333 172 1333 169.5 1368 182C1403 194.5 1468 217 1518 240C1568 263 1623 291.67 1668 320C1713 348.33 1751.33 380 1788 410C1824.67 440 1858 470 1888 500C1918 530 1943 558.33 1968 590C1993 621.67 2016.33 656.67 2038 690C2059.67 723.33 2081.33 758.33 2098 790C2114.67 821.67 2128.83 851.67 2138 880C2147.17 908.33 2152.17 935 2153 960C2153.83 985 2150.5 1008.33 2143 1030C2135.5 1051.67 2122.17 1071.67 2108 1090C2093.83 1108.33 2069.33 1130 2058 1140C2046.67 1150 2049.67 1145 2040 1150C2030.33 1155 2020.33 1162.5 2000 1170C1979.67 1177.5 1948.33 1187.5 1918 1195C1887.67 1202.5 1851.33 1209.5 1818 1215C1784.67 1220.5 1745.5 1223.67 1718 1228C1690.5 1232.33 1673 1236.17 1653 1241C1633 1245.83 1613.83 1250 1598 1257C1582.17 1264 1568 1277.5 1558 1283C1548 1288.5 1544.67 1285.5 1538 1290C1531.33 1294.5 1524.67 1300.33 1518 1310C1511.33 1319.67 1504.67 1333.33 1498 1348C1491.33 1362.67 1485.5 1382.17 1478 1398C1470.5 1413.83 1463 1428.83 1453 1443C1443 1457.17 1432.17 1473 1418 1483C1403.83 1493 1379.67 1498.83 1368 1503C1356.33 1507.17 1361.33 1507.17 1348 1508C1334.67 1508.83 1314.67 1510.5 1288 1508C1261.33 1505.5 1221.33 1499.67 1188 1493C1154.67 1486.33 1121.33 1477.17 1088 1468C1054.67 1458.83 1021.33 1448.83 988 1438C954.67 1427.17 921.33 1415.5 888 1403C854.67 1390.5 821.33 1376.33 788 1363C754.67 1349.67 721.33 1337.17 688 1323C654.67 1308.83 621.33 1293 588 1278C554.67 1263 520.5 1247.67 488 1233C455.5 1218.33 426.33 1200.83 393 1190C359.67 1179.17 311.83 1174.67 288 1168C264.17 1161.33 271.33 1161.33 250 1150C228.67 1138.67 183.33 1118.33 160 1100C136.67 1081.67 121.67 1063.33 110 1040C98.33 1016.67 94 982.5 90 960Z" fill="#ef9c2c" stroke="none"/>
<path d="M393 1190C359.67 1179.17 311.83 1174.67 288 1168C264.17 1161.33 271.33 1161.33 250 1150C228.67 1138.67 183.33 1118.33 160 1100C136.67 1081.67 121.67 1063.33 110 1040C98.33 1016.67 94 982.5 90 960C86 937.5 84.33 923.33 86 905C87.67 886.67 91 870.83 100 850C109 829.17 122.5 805 140 780C157.5 755 181.67 735 205 700L205 700C206.67 711.67 207.5 745 215 770C222.5 795 234.17 825 250 850C265.83 875 290 904.17 310 920C330 935.83 356 938.33 370 945C384 951.67 390 957.5 394 960L394 960C395.5 974.67 402.33 1021.33 403 1048C403.67 1074.67 399.67 1096.33 398 1120C396.33 1143.67 393.83 1178.33 393 1190Z" fill="#efb032"/>
<path d="M205 700C228.33 665 250.83 615 280 570C309.17 525 358.33 459.5 380 430C401.67 400.5 393.33 413 410 393L410 393C415 392.83 425 396.5 440 392C455 387.5 480 372.5 500 366C520 359.5 536.67 355.67 560 353C583.33 350.33 610.83 348 640 350C669.17 352 719.17 362.5 735 365L735 365C727.5 374.17 699.17 397.5 690 420C680.83 442.5 680 470 680 500C680 530 686.67 566.67 690 600C693.33 633.33 691.67 674.67 700 700C708.33 725.33 733.33 743.33 740 752L740 752C733.33 765 710 807 700 830C690 853 689.17 875.5 680 890C670.83 904.5 650.83 912.5 645 917L645 917C635.5 913.83 610.83 901.17 588 898C565.17 894.83 533 894.67 508 898C483 901.33 457 907.67 438 918C419 928.33 401.33 953 394 960L394 960C390 957.5 384 951.67 370 945C356 938.33 330 935.83 310 920C290 904.17 265.83 875 250 850C234.17 825 222.5 795 215 770C207.5 745 206.67 711.67 205 700Z" fill="#eec034"/>
<path d="M410 393C426.67 373 451.67 338.83 480 310C508.33 281.17 546.67 245 580 220C613.33 195 646.67 175.83 680 160C713.33 144.17 755 132 780 125C805 118 813.33 120.5 830 118L830 118C829.17 131.67 823.33 173 825 200C826.67 227 835.83 259.17 840 280C844.17 300.83 848.33 317.5 850 325L850 325C841.67 327.5 819.17 333.33 800 340C780.83 346.67 745.83 360.83 735 365L735 365C719.17 362.5 669.17 352 640 350C610.83 348 583.33 350.33 560 353C536.67 355.67 520 359.5 500 366C480 372.5 455 387.5 440 392C425 396.5 415 392.83 410 393Z" fill="#eec636"/>
<path d="M735 365C745.83 360.83 780.83 346.67 800 340C819.17 333.33 841.67 327.5 850 325L850 325C861.67 325.83 895 322.5 920 330C945 337.5 976.67 351.67 1000 370C1023.33 388.33 1041.67 415 1060 440C1078.33 465 1095 493.33 1110 520C1125 546.67 1140 573.33 1150 600C1160 626.67 1165 653.33 1170 680C1175 706.67 1181.17 738.33 1180 760C1178.83 781.67 1165.83 801.67 1163 810L1163 810C1153.83 813.67 1122.17 829 1108 832C1093.83 835 1086.33 827 1078 828C1069.67 829 1064.33 839.33 1058 838C1051.67 836.67 1056.33 829.67 1040 820C1023.67 810.33 983.33 788.33 960 780C936.67 771.67 918.33 775.83 900 770C881.67 764.17 864.17 750.5 850 745C835.83 739.5 824.17 735.33 815 737C805.83 738.67 807.5 752.5 795 755C782.5 757.5 749.17 752.5 740 752L740 752C733.33 743.33 708.33 725.33 700 700C691.67 674.67 693.33 633.33 690 600C686.67 566.67 680 530 680 500C680 470 680.83 442.5 690 420C699.17 397.5 727.5 374.17 735 365Z" fill="#eeca36"/>
<path d="M830 118C846.67 115.5 865.33 111.67 880 110C894.67 108.33 898 108.33 918 108C938 107.67 975 107 1000 108L1000 108C1005.5 121.67 1015 164.67 1033 190C1051 215.33 1082.17 235 1108 260C1133.83 285 1163 310 1188 340C1213 370 1238 406.67 1258 440C1278 473.33 1295.5 506.67 1308 540C1320.5 573.33 1326.33 606.67 1333 640C1339.67 673.33 1342.17 708.33 1348 740C1353.83 771.67 1360.5 810 1368 830C1375.5 850 1388.83 855 1393 860L1393 860C1382.17 858.33 1352.17 855.83 1328 850C1303.83 844.17 1275.5 831.67 1248 825C1220.5 818.33 1177.17 812.5 1163 810L1163 810C1165.83 801.67 1178.83 781.67 1180 760C1181.17 738.33 1175 706.67 1170 680C1165 653.33 1160 626.67 1150 600C1140 573.33 1125 546.67 1110 520C1095 493.33 1078.33 465 1060 440C1041.67 415 1023.33 388.33 1000 370C976.67 351.67 945 337.5 920 330C895 322.5 861.67 325.83 850 325L850 325C848.33 317.5 844.17 300.83 840 280C835.83 259.17 826.67 227 825 200C823.33 173 829.17 131.67 830 118Z" fill="#eec234"/>
<path d="M1000 108C1025 109 1043 111.67 1068 114C1093 116.33 1125 117.67 1150 122C1175 126.33 1191.67 132.83 1218 140C1244.33 147.17 1283 158 1308 165L1308 165C1323 179.17 1373 220.83 1398 250C1423 279.17 1443 311.67 1458 340C1473 368.33 1474.67 391.67 1488 420C1501.33 448.33 1521.33 480 1538 510C1554.67 540 1583 568.33 1588 600C1593 631.67 1578 670 1568 700C1558 730 1538 751.67 1528 780C1518 808.33 1513 853.33 1508 870C1503 886.67 1499.67 878.33 1498 880L1498 880C1489.67 880 1465.5 883.33 1448 880C1430.5 876.67 1402.17 863.33 1393 860L1393 860C1388.83 855 1375.5 850 1368 830C1360.5 810 1353.83 771.67 1348 740C1342.17 708.33 1339.67 673.33 1333 640C1326.33 606.67 1320.5 573.33 1308 540C1295.5 506.67 1278 473.33 1258 440C1238 406.67 1213 370 1188 340C1163 310 1133.83 285 1108 260C1082.17 235 1051 215.33 1033 190C1015 164.67 1005.5 121.67 1000 108Z" fill="#eeba34"/>
<path d="M1308 165C1333 172 1333 169.5 1368 182C1403 194.5 1468 217 1518 240C1568 263 1623 291.67 1668 320C1713 348.33 1751.33 380 1788 410L1778 435C1759.67 424.17 1703 390.83 1668 370C1633 349.17 1601.33 327.5 1568 310C1534.67 292.5 1496.33 275 1468 265C1439.67 255 1409.67 252.5 1398 250L1398 250L1308 165Z" fill="#f09a2e"/>
<path d="M1398 250C1409.67 252.5 1439.67 255 1468 265C1496.33 275 1534.67 292.5 1568 310C1601.33 327.5 1633 349.17 1668 370C1703 390.83 1759.67 424.17 1778 435L1778 435C1773.83 442.5 1756.33 465.83 1753 480C1749.67 494.17 1763.83 505 1758 520C1752.17 535 1725.5 555 1718 570C1710.5 585 1714.67 599.17 1713 610C1711.33 620.83 1708.83 630.83 1708 635L1708 635C1698 631.67 1668 620.83 1648 615C1628 609.17 1598 602.5 1588 600L1588 600C1579.67 585 1554.67 540 1538 510C1521.33 480 1501.33 448.33 1488 420C1474.67 391.67 1473 368.33 1458 340C1443 311.67 1408 265 1398 250Z" fill="#efae32"/>
<path d="M1778 435L1788 410L1788 410C1824.67 440 1858 470 1888 500C1918 530 1943 558.33 1968 590C1993 621.67 2016.33 656.67 2038 690C2059.67 723.33 2081.33 758.33 2098 790C2114.67 821.67 2128.83 851.67 2138 880C2147.17 908.33 2152.17 935 2153 960C2153.83 985 2150.5 1008.33 2143 1030C2135.5 1051.67 2122.17 1071.67 2108 1090C2093.83 1108.33 2069.33 1130 2058 1140C2046.67 1150 2049.67 1145 2040 1150L2040 1150C2043.83 1141.67 2058.33 1114.17 2063 1100C2067.67 1085.83 2070.5 1075 2068 1065C2065.5 1055 2051.33 1044.17 2048 1040L2048 1040C2045.5 1033.33 2039.67 1020 2033 1000C2026.33 980 2018.83 945 2008 920C1997.17 895 1986.33 867.5 1968 850C1949.67 832.5 1923 823.33 1898 815C1873 806.67 1831.33 802.5 1818 800L1818 800C1816.33 796.67 1818 796.67 1808 780C1798 763.33 1774.67 724.17 1758 700C1741.33 675.83 1716.33 645.83 1708 635L1708 635C1708.83 630.83 1711.33 620.83 1713 610C1714.67 599.17 1710.5 585 1718 570C1725.5 555 1752.17 535 1758 520C1763.83 505 1749.67 494.17 1753 480C1756.33 465.83 1773.83 442.5 1778 435Z" fill="#f28a28"/>
<path d="M1588 600C1598 602.5 1628 609.17 1648 615C1668 620.83 1698 631.67 1708 635L1708 635C1716.33 645.83 1741.33 675.83 1758 700C1774.67 724.17 1798 763.33 1808 780C1818 796.67 1816.33 796.67 1818 800L1818 800C1809.67 806.67 1784.67 825 1768 840C1751.33 855 1734.67 873.33 1718 890C1701.33 906.67 1679.67 928 1668 940C1656.33 952 1651.33 958.33 1648 962L1648 962C1638 955 1608 932 1588 920C1568 908 1543 896.67 1528 890C1513 883.33 1503 881.67 1498 880L1498 880C1499.67 878.33 1503 886.67 1508 870C1513 853.33 1518 808.33 1528 780C1538 751.67 1558 730 1568 700C1578 670 1584.67 616.67 1588 600Z" fill="#efa830"/>
<path d="M1818 800C1831.33 802.5 1873 806.67 1898 815C1923 823.33 1949.67 832.5 1968 850C1986.33 867.5 1997.17 895 2008 920C2018.83 945 2026.33 980 2033 1000C2039.67 1020 2045.5 1033.33 2048 1040L2048 1040C2034.67 1042.5 1998 1049.17 1968 1055C1938 1060.83 1894.67 1070 1868 1075C1841.33 1080 1818 1083.33 1808 1085L1808 1085C1799.67 1080.83 1774.67 1070.83 1758 1060C1741.33 1049.17 1724.67 1032.5 1708 1020C1691.33 1007.5 1668 994.67 1658 985C1648 975.33 1649.67 965.83 1648 962L1648 962C1651.33 958.33 1656.33 952 1668 940C1679.67 928 1701.33 906.67 1718 890C1734.67 873.33 1751.33 855 1768 840C1784.67 825 1809.67 806.67 1818 800Z" fill="#f28c28"/>
<path d="M1808 1085C1818 1083.33 1841.33 1080 1868 1075C1894.67 1070 1938 1060.83 1968 1055C1998 1049.17 2034.67 1042.5 2048 1040L2048 1040C2051.33 1044.17 2065.5 1055 2068 1065C2070.5 1075 2067.67 1085.83 2063 1100C2058.33 1114.17 2043.83 1141.67 2040 1150L2040 1150C2031.33 1150.33 2008.33 1152 1988 1152C1967.67 1152 1939.67 1153.67 1918 1150C1896.33 1146.33 1874.67 1137.5 1858 1130C1841.33 1122.5 1826.33 1112.5 1818 1105C1809.67 1097.5 1809.67 1088.33 1808 1085Z" fill="#fb5018"/>
<path d="M1648 962C1649.67 965.83 1648 975.33 1658 985C1668 994.67 1691.33 1007.5 1708 1020C1724.67 1032.5 1741.33 1049.17 1758 1060C1774.67 1070.83 1799.67 1080.83 1808 1085L1808 1085C1809.67 1088.33 1809.67 1097.5 1818 1105C1826.33 1112.5 1841.33 1122.5 1858 1130C1874.67 1137.5 1896.33 1146.33 1918 1150C1939.67 1153.67 1967.67 1152 1988 1152C2008.33 1152 2031.33 1150.33 2040 1150L2040 1150C2030.33 1155 2020.33 1162.5 2000 1170C1979.67 1177.5 1948.33 1187.5 1918 1195C1887.67 1202.5 1851.33 1209.5 1818 1215C1784.67 1220.5 1745.5 1223.67 1718 1228C1690.5 1232.33 1673 1236.17 1653 1241L1653 1241C1655.5 1232.17 1663.83 1210.17 1668 1188C1672.17 1165.83 1677.17 1134.67 1678 1108C1678.83 1081.33 1678 1052.33 1673 1028C1668 1003.67 1652.17 973 1648 962Z" fill="#ff3c10"/>
<path d="M403 1048C417.17 1054.67 457.17 1069.67 488 1088C518.83 1106.33 554.67 1134.67 588 1158C621.33 1181.33 654.67 1206.33 688 1228C721.33 1249.67 754.67 1268.83 788 1288C821.33 1307.17 854.67 1325.5 888 1343C921.33 1360.5 954.67 1377.17 988 1393C1021.33 1408.83 1054.67 1424.67 1088 1438C1121.33 1451.33 1154.67 1463 1188 1473C1221.33 1483 1261.33 1492.17 1288 1498C1314.67 1503.83 1338 1506.33 1348 1508L1348 1508C1334.67 1508.83 1314.67 1510.5 1288 1508C1261.33 1505.5 1221.33 1499.67 1188 1493C1154.67 1486.33 1121.33 1477.17 1088 1468C1054.67 1458.83 1021.33 1448.83 988 1438C954.67 1427.17 921.33 1415.5 888 1403C854.67 1390.5 821.33 1376.33 788 1363C754.67 1349.67 721.33 1337.17 688 1323C654.67 1308.83 621.33 1293 588 1278C554.67 1263 520.5 1247.67 488 1233C455.5 1218.33 426.33 1200.83 393 1190L393 1190C393.83 1178.33 396.33 1143.67 398 1120C399.67 1096.33 402.17 1060 403 1048Z" fill="#f0942a"/>
<path d="M394 960C401.33 953 419 928.33 438 918C457 907.67 483 901.33 508 898C533 894.67 565.17 894.83 588 898C610.83 901.17 635.5 913.83 645 917L645 917C648 927.17 655.83 959.5 663 978C670.17 996.5 677.17 1013.83 688 1028C698.83 1042.17 711.33 1054.67 728 1063C744.67 1071.33 768 1076.33 788 1078C808 1079.67 833 1074.67 848 1073C863 1071.33 873 1068.83 878 1068L878 1068C888 1074.67 911.33 1091.33 938 1108C964.67 1124.67 1004.67 1148 1038 1168C1071.33 1188 1104.67 1208 1138 1228C1171.33 1248 1204.67 1266.33 1238 1288C1271.33 1309.67 1309.67 1338 1338 1358C1366.33 1378 1388.83 1393.83 1408 1408C1427.17 1422.17 1445.5 1437.17 1453 1443L1453 1443C1443 1457.17 1432.17 1473 1418 1483C1403.83 1493 1379.67 1498.83 1368 1503C1356.33 1507.17 1361.33 1507.17 1348 1508L1348 1508C1338 1506.33 1314.67 1503.83 1288 1498C1261.33 1492.17 1221.33 1483 1188 1473C1154.67 1463 1121.33 1451.33 1088 1438C1054.67 1424.67 1021.33 1408.83 988 1393C954.67 1377.17 921.33 1360.5 888 1343C854.67 1325.5 821.33 1307.17 788 1288C754.67 1268.83 721.33 1249.67 688 1228C654.67 1206.33 621.33 1181.33 588 1158C554.67 1134.67 518.83 1106.33 488 1088C457.17 1069.67 417.17 1054.67 403 1048L403 1048L394 960Z" fill="#ef9a2c"/>
<path d="M795 755C798.33 752 805.83 738.67 815 737C824.17 735.33 835.83 739.5 850 745C864.17 750.5 881.67 764.17 900 770C918.33 775.83 936.67 771.67 960 780C983.33 788.33 1023.67 810.33 1040 820C1056.33 829.67 1055 835 1058 838L1058 838C1063 848 1074.67 876.33 1088 898C1101.33 919.67 1121.33 946.33 1138 968C1154.67 989.67 1173.83 1013.83 1188 1028C1202.17 1042.17 1217.17 1048.83 1223 1053L1223 1053C1225.83 1047.5 1235.83 1030 1240 1020C1244.17 1010 1246.67 997.5 1248 993L1248 993C1254.67 998.83 1268 1008.83 1288 1028C1308 1047.17 1343 1084.67 1368 1108C1393 1131.33 1418 1149.67 1438 1168C1458 1186.33 1473.83 1201.33 1488 1218C1502.17 1234.67 1514.67 1256 1523 1268C1531.33 1280 1535.5 1286.33 1538 1290L1538 1290C1531.33 1294.5 1524.67 1300.33 1518 1310C1511.33 1319.67 1504.67 1333.33 1498 1348C1491.33 1362.67 1485.5 1382.17 1478 1398C1470.5 1413.83 1463 1428.83 1453 1443L1453 1443C1445.5 1437.17 1427.17 1422.17 1408 1408C1388.83 1393.83 1366.33 1378 1338 1358C1309.67 1338 1271.33 1309.67 1238 1288C1204.67 1266.33 1171.33 1248 1138 1228C1104.67 1208 1071.33 1188 1038 1168C1004.67 1148 964.67 1124.67 938 1108C911.33 1091.33 888 1074.67 878 1068L878 1068C873.83 1061.33 858.83 1041.33 853 1028C847.17 1014.67 841.33 1003 843 988C844.67 973 858.83 954.67 863 938C867.17 921.33 870.5 904.67 868 888C865.5 871.33 856.33 854.67 848 838C839.67 821.33 825.5 799.67 818 788C810.5 776.33 806.83 773.5 803 768C799.17 762.5 796.33 757.17 795 755Z" fill="#ef9c2c"/>
<path d="M1108 832C1117.17 828.33 1139.67 811.17 1163 810C1186.33 808.83 1220.5 818.33 1248 825C1275.5 831.67 1303.83 844.17 1328 850C1352.17 855.83 1373 855 1393 860C1413 865 1430.5 876.67 1448 880C1465.5 883.33 1484.67 878.33 1498 880C1511.33 881.67 1513 883.33 1528 890C1543 896.67 1568 908 1588 920C1608 932 1638 955 1648 962L1648 962C1652.17 973 1668 1003.67 1673 1028C1678 1052.33 1678.83 1081.33 1678 1108C1677.17 1134.67 1672.17 1165.83 1668 1188C1663.83 1210.17 1655.5 1232.17 1653 1241L1653 1241C1633 1245.83 1613.83 1250 1598 1257C1582.17 1264 1568 1277.5 1558 1283C1548 1288.5 1544.67 1285.5 1538 1290L1538 1290C1535.5 1286.33 1531.33 1280 1523 1268C1514.67 1256 1502.17 1234.67 1488 1218C1473.83 1201.33 1458 1186.33 1438 1168C1418 1149.67 1393 1131.33 1368 1108C1343 1084.67 1308 1047.17 1288 1028C1268 1008.83 1254.67 998.83 1248 993L1248 993L1223 1008L1223 1008C1217.17 996.33 1200.5 959.67 1188 938C1175.5 916.33 1161.33 895.67 1148 878C1134.67 860.33 1114.67 839.67 1108 832Z" fill="#f48224"/>
<path d="M740 752L795 755L795 755C796.33 757.17 799.17 762.5 803 768C806.83 773.5 810.5 776.33 818 788C825.5 799.67 839.67 821.33 848 838C856.33 854.67 865.5 871.33 868 888C870.5 904.67 867.17 921.33 863 938C858.83 954.67 844.67 973 843 988C841.33 1003 847.17 1014.67 853 1028C858.83 1041.33 873.83 1061.33 878 1068L878 1068C873 1068.83 863 1071.33 848 1073C833 1074.67 808 1079.67 788 1078C768 1076.33 744.67 1071.33 728 1063C711.33 1054.67 698.83 1042.17 688 1028C677.17 1013.83 670.17 996.5 663 978C655.83 959.5 648 927.17 645 917L645 917C650.83 912.5 670.83 904.5 680 890C689.17 875.5 690 853 700 830C710 807 733.33 765 740 752Z" fill="#eebc34"/>
<path d="M1058 838C1063 848 1074.67 876.33 1088 898C1101.33 919.67 1121.33 946.33 1138 968C1154.67 989.67 1173.83 1013.83 1188 1028C1202.17 1042.17 1217.17 1048.83 1223 1053L1223 1053L1223 1008L1223 1008C1217.17 996.33 1200.5 959.67 1188 938C1175.5 916.33 1161.33 895.67 1148 878C1134.67 860.33 1114.67 839.67 1108 832L1108 832C1103 831.33 1086.33 827 1078 828C1069.67 829 1061.33 836.33 1058 838Z" fill="#eeba34"/>
<path d="M90 960C86 937.5 84.33 923.33 86 905C87.67 886.67 91 870.83 100 850C109 829.17 122.5 805 140 780C157.5 755 181.67 735 205 700C228.33 665 250.83 615 280 570C309.17 525 358.33 459.5 380 430C401.67 400.5 393.33 413 410 393C426.67 373 451.67 338.83 480 310C508.33 281.17 546.67 245 580 220C613.33 195 646.67 175.83 680 160C713.33 144.17 755 132 780 125C805 118 813.33 120.5 830 118C846.67 115.5 865.33 111.67 880 110C894.67 108.33 898 108.33 918 108C938 107.67 975 107 1000 108C1025 109 1043 111.67 1068 114C1093 116.33 1125 117.67 1150 122C1175 126.33 1191.67 132.83 1218 140C1244.33 147.17 1283 158 1308 165C1333 172 1333 169.5 1368 182C1403 194.5 1468 217 1518 240C1568 263 1623 291.67 1668 320C1713 348.33 1751.33 380 1788 410C1824.67 440 1858 470 1888 500C1918 530 1943 558.33 1968 590C1993 621.67 2016.33 656.67 2038 690C2059.67 723.33 2081.33 758.33 2098 790C2114.67 821.67 2128.83 851.67 2138 880C2147.17 908.33 2152.17 935 2153 960C2153.83 985 2150.5 1008.33 2143 1030C2135.5 1051.67 2122.17 1071.67 2108 1090C2093.83 1108.33 2069.33 1130 2058 1140C2046.67 1150 2049.67 1145 2040 1150C2030.33 1155 2020.33 1162.5 2000 1170C1979.67 1177.5 1948.33 1187.5 1918 1195C1887.67 1202.5 1851.33 1209.5 1818 1215C1784.67 1220.5 1745.5 1223.67 1718 1228C1690.5 1232.33 1673 1236.17 1653 1241C1633 1245.83 1613.83 1250 1598 1257C1582.17 1264 1568 1277.5 1558 1283C1548 1288.5 1544.67 1285.5 1538 1290C1531.33 1294.5 1524.67 1300.33 1518 1310C1511.33 1319.67 1504.67 1333.33 1498 1348C1491.33 1362.67 1485.5 1382.17 1478 1398C1470.5 1413.83 1463 1428.83 1453 1443C1443 1457.17 1432.17 1473 1418 1483C1403.83 1493 1379.67 1498.83 1368 1503C1356.33 1507.17 1361.33 1507.17 1348 1508C1334.67 1508.83 1314.67 1510.5 1288 1508C1261.33 1505.5 1221.33 1499.67 1188 1493C1154.67 1486.33 1121.33 1477.17 1088 1468C1054.67 1458.83 1021.33 1448.83 988 1438C954.67 1427.17 921.33 1415.5 888 1403C854.67 1390.5 821.33 1376.33 788 1363C754.67 1349.67 721.33 1337.17 688 1323C654.67 1308.83 621.33 1293 588 1278C554.67 1263 520.5 1247.67 488 1233C455.5 1218.33 426.33 1200.83 393 1190C359.67 1179.17 311.83 1174.67 288 1168C264.17 1161.33 271.33 1161.33 250 1150C228.67 1138.67 183.33 1118.33 160 1100C136.67 1081.67 121.67 1063.33 110 1040C98.33 1016.67 94 982.5 90 960Z" fill="none" stroke="#4a4420" stroke-opacity="0.8" stroke-width="9"/>
</g>
<text transform="translate(426.3 20.3) scale(0.88 1)" font-size="20.8" text-anchor="middle" font-weight="bold">Delta</text>
<path d="M121.2 176V718.7H731.5" fill="none" stroke="#000" stroke-width="2.2" stroke-linejoin="miter"/>
<text transform="translate(71.4 256) scale(0.85 1)" font-size="22" text-anchor="middle" >0.80</text>
<text transform="translate(71.4 354.2) scale(0.85 1)" font-size="22" text-anchor="middle" >0.60</text>
<text transform="translate(71.4 454) scale(0.85 1)" font-size="22" text-anchor="middle" >0.40</text>
<text transform="translate(71.4 553) scale(0.85 1)" font-size="22" text-anchor="middle" >0.20</text>
<text transform="translate(71.4 652.5) scale(0.85 1)" font-size="22" text-anchor="middle" >0</text>
<text transform="translate(21.9 446.3) rotate(-90) scale(0.841 1)" font-size="21.5" text-anchor="middle">Delta-band relative power</text>
<text transform="translate(235 749.4) scale(0.882 1)" font-size="21.7" text-anchor="middle" >Aβ-/Tau-</text>
<text transform="translate(427.7 749.4) scale(0.882 1)" font-size="21.7" text-anchor="middle" >Aβ+/Tau-</text>
<text transform="translate(617.7 749.4) scale(0.882 1)" font-size="21.7" text-anchor="middle" >Aβ+/Tau+</text>
<path d="M234.3 219.2V210.7H618.3V219.2" fill="none" stroke="#000" stroke-width="1.8"/>
<path d="M426.7 244.2V235.7H618.3V244.2" fill="none" stroke="#000" stroke-width="1.8"/>
<path d="M234.3 269.2V260.7H426.7V269.2" fill="none" stroke="#000" stroke-width="1.8"/>
<text transform="translate(427.3 205.9) scale(0.88 1)" font-size="22.5" text-anchor="middle" font-style="italic">ns</text>
<text transform="translate(331.5 255.4) scale(0.88 1)" font-size="22.5" text-anchor="middle" font-style="italic">ns</text>
<text transform="translate(484.2 229.8) scale(0.9 1)" font-size="17.6"><tspan font-style="italic" font-size="19">p</tspan><tspan font-style="italic" font-size="12" dy="3.4" dx="-0.4" letter-spacing="-0.35">adj</tspan><tspan dy="-3.4" dx="3.3">=</tspan><tspan dx="4.2">0.016</tspan></text>
<path d="M235.33 344.17C235.42 345.14 235.61 347.92 235.83 350C236.06 352.08 236.06 354.17 236.67 356.67C237.28 359.17 238.33 362.22 239.5 365C240.67 367.78 242.28 370.56 243.67 373.33C245.06 376.11 246.58 378.89 247.83 381.67C249.08 384.44 250.25 387.22 251.17 390C252.08 392.78 252.72 395.83 253.33 398.33C253.94 400.83 254.53 403.06 254.83 405C255.14 406.94 255.42 408.33 255.17 410C254.92 411.67 253.94 413.28 253.33 415C252.72 416.72 251.78 418.53 251.5 420.33C251.22 422.14 251.42 424.08 251.67 425.83C251.92 427.58 252.08 429.14 253 430.83C253.92 432.53 255.78 434.28 257.17 436C258.56 437.72 259.25 438.56 261.33 441.17C263.42 443.78 267.06 448.17 269.67 451.67C272.28 455.17 273.78 458.69 277 462.17C280.22 465.64 284.83 469.06 289 472.5C293.17 475.94 299.06 480.22 302 482.83C304.94 485.44 305.64 486.58 306.67 488.17C307.69 489.75 308.17 490.94 308.17 492.33C308.17 493.72 307.44 495.11 306.67 496.5C305.89 497.89 305.42 498.58 303.5 500.67C301.58 502.75 298.36 505.89 295.17 509C291.97 512.11 288.06 515.83 284.33 519.33C280.61 522.83 276.83 526.56 272.83 530C268.83 533.44 263.81 536.94 260.33 540C256.86 543.06 254.28 545.56 252 548.33C249.72 551.11 248.14 553.89 246.67 556.67C245.19 559.44 244.17 562.22 243.17 565C242.17 567.78 241.42 570.56 240.67 573.33C239.92 576.11 239.28 578.89 238.67 581.67C238.06 584.44 237.44 587.5 237 590C236.56 592.5 236.28 593.89 236 596.67C235.72 599.44 235.44 605 235.33 606.67C235.22 605 234.94 599.44 234.67 596.67C234.39 593.89 234.11 592.5 233.67 590C233.22 587.5 232.61 584.44 232 581.67C231.39 578.89 230.75 576.11 230 573.33C229.25 570.56 228.5 567.78 227.5 565C226.5 562.22 225.47 559.44 224 556.67C222.53 553.89 220.94 551.11 218.67 548.33C216.39 545.56 213.81 543.06 210.33 540C206.86 536.94 201.83 533.44 197.83 530C193.83 526.56 190.06 522.83 186.33 519.33C182.61 515.83 178.69 512.11 175.5 509C172.31 505.89 169.08 502.75 167.17 500.67C165.25 498.58 164.78 497.89 164 496.5C163.22 495.11 162.5 493.72 162.5 492.33C162.5 490.94 162.97 489.75 164 488.17C165.03 486.58 165.72 485.44 168.67 482.83C171.61 480.22 177.5 475.94 181.67 472.5C185.83 469.06 190.44 465.64 193.67 462.17C196.89 458.69 198.39 455.17 201 451.67C203.61 448.17 207.25 443.78 209.33 441.17C211.42 438.56 212.11 437.72 213.5 436C214.89 434.28 216.75 432.53 217.67 430.83C218.58 429.14 218.75 427.58 219 425.83C219.25 424.08 219.44 422.14 219.17 420.33C218.89 418.53 217.94 416.72 217.33 415C216.72 413.28 215.75 411.67 215.5 410C215.25 408.33 215.53 406.94 215.83 405C216.14 403.06 216.72 400.83 217.33 398.33C217.94 395.83 218.58 392.78 219.5 390C220.42 387.22 221.58 384.44 222.83 381.67C224.08 378.89 225.61 376.11 227 373.33C228.39 370.56 230 367.78 231.17 365C232.33 362.22 233.39 359.17 234 356.67C234.61 354.17 234.61 352.08 234.83 350C235.06 347.92 235.25 345.14 235.33 344.17Z" fill="#5cbcf5" stroke="#1e1e1e" stroke-width="2.2" stroke-linejoin="round"/>
<path d="M235.33 400.83V459.67M235.33 503.33V565.83" stroke="#3a3636" stroke-width="2" fill="none"/>
<rect x="206.67" y="459.67" width="57.33" height="43.67" fill="none" stroke="#3a3636" stroke-width="2.1"/>
<path d="M206.67 490.5H264" stroke="#3a3636" stroke-width="4.2"/>
<g fill="#000"><ellipse cx="220.33" cy="384.5" rx="3.9" ry="3.25"/><ellipse cx="232.33" cy="387.17" rx="3.9" ry="3.25"/><ellipse cx="234.83" cy="398" rx="3.9" ry="3.25"/><ellipse cx="219.5" cy="410" rx="3.9" ry="3.25"/><ellipse cx="245.33" cy="411.33" rx="3.9" ry="3.25"/><ellipse cx="243.67" cy="426.67" rx="3.9" ry="3.25"/><ellipse cx="224.17" cy="440.5" rx="3.9" ry="3.25"/><ellipse cx="228.67" cy="449.17" rx="3.9" ry="3.25"/><ellipse cx="240.33" cy="449.17" rx="3.9" ry="3.25"/><ellipse cx="226.67" cy="458" rx="3.9" ry="3.25"/><ellipse cx="238.67" cy="456.67" rx="3.9" ry="3.25"/><ellipse cx="218.67" cy="462.5" rx="3.9" ry="3.25"/><ellipse cx="232.83" cy="464.17" rx="3.9" ry="3.25"/><ellipse cx="232" cy="468.33" rx="3.9" ry="3.25"/><ellipse cx="242" cy="470.83" rx="3.9" ry="3.25"/><ellipse cx="251.17" cy="472.17" rx="3.9" ry="3.25"/><ellipse cx="228.67" cy="473.33" rx="3.9" ry="3.25"/><ellipse cx="216.5" cy="474.67" rx="3.9" ry="3.25"/><ellipse cx="242.33" cy="478.67" rx="3.9" ry="3.25"/><ellipse cx="221.17" cy="481.67" rx="3.9" ry="3.25"/><ellipse cx="231.17" cy="486.67" rx="3.9" ry="3.25"/><ellipse cx="236.17" cy="488.83" rx="3.9" ry="3.25"/><ellipse cx="242.83" cy="487.5" rx="3.9" ry="3.25"/><ellipse cx="247.83" cy="490" rx="3.9" ry="3.25"/><ellipse cx="221.17" cy="493.33" rx="3.9" ry="3.25"/><ellipse cx="222" cy="496.67" rx="3.9" ry="3.25"/><ellipse cx="226.17" cy="499.17" rx="3.9" ry="3.25"/><ellipse cx="231.17" cy="500" rx="3.9" ry="3.25"/><ellipse cx="236.17" cy="498.33" rx="3.9" ry="3.25"/><ellipse cx="240.33" cy="496.67" rx="3.9" ry="3.25"/><ellipse cx="245.33" cy="494.17" rx="3.9" ry="3.25"/><ellipse cx="247.83" cy="501.33" rx="3.9" ry="3.25"/><ellipse cx="235.33" cy="504.17" rx="3.9" ry="3.25"/><ellipse cx="235.33" cy="510" rx="3.9" ry="3.25"/><ellipse cx="226.67" cy="518.33" rx="3.9" ry="3.25"/><ellipse cx="233.67" cy="519.17" rx="3.9" ry="3.25"/><ellipse cx="229.5" cy="523.33" rx="3.9" ry="3.25"/><ellipse cx="235.33" cy="525" rx="3.9" ry="3.25"/><ellipse cx="247.5" cy="522" rx="3.9" ry="3.25"/><ellipse cx="222" cy="530" rx="3.9" ry="3.25"/><ellipse cx="226.17" cy="531.67" rx="3.9" ry="3.25"/><ellipse cx="227" cy="553" rx="3.9" ry="3.25"/><ellipse cx="220" cy="565.83" rx="3.9" ry="3.25"/></g>
<path d="M426 359.17C426.08 360.42 426.28 364.03 426.5 366.67C426.72 369.31 426.86 372.22 427.33 375C427.81 377.78 428.67 380.56 429.33 383.33C430 386.11 430.78 388.89 431.33 391.67C431.89 394.44 432.39 397.22 432.67 400C432.94 402.78 433.06 405.56 433 408.33C432.94 411.11 432.61 413.89 432.33 416.67C432.06 419.44 431.44 422.22 431.33 425C431.22 427.78 431.44 430.83 431.67 433.33C431.89 435.83 431.36 437.86 432.67 440C433.97 442.14 436.58 444.08 439.5 446.17C442.42 448.25 446.42 450.42 450.17 452.5C453.92 454.58 458.17 456.58 462 458.67C465.83 460.75 469.42 462.92 473.17 465C476.92 467.08 480.83 469.08 484.5 471.17C488.17 473.25 491.83 475.42 495.17 477.5C498.5 479.58 501.81 481.58 504.5 483.67C507.19 485.75 509.97 488.33 511.33 490C512.69 491.67 512.86 492.22 512.67 493.67C512.47 495.11 512.06 496.78 510.17 498.67C508.28 500.56 504.47 502.92 501.33 505C498.19 507.08 494.14 509.08 491.33 511.17C488.53 513.25 486.17 515.42 484.5 517.5C482.83 519.58 482.17 522 481.33 523.67C480.5 525.33 480.44 526.25 479.5 527.5C478.56 528.75 477.75 529.5 475.67 531.17C473.58 532.83 470.11 535.42 467 537.5C463.89 539.58 460.14 541.58 457 543.67C453.86 545.75 450.78 547.92 448.17 550C445.56 552.08 443.31 554.08 441.33 556.17C439.36 558.25 437.69 560.42 436.33 562.5C434.97 564.58 434.11 566.58 433.17 568.67C432.22 570.75 431.5 572.44 430.67 575C429.83 577.56 428.78 581.22 428.17 584C427.56 586.78 427.31 589.28 427 591.67C426.69 594.06 426.5 596.39 426.33 598.33C426.17 600.28 426.06 602.5 426 603.33C425.94 602.5 425.83 600.28 425.67 598.33C425.5 596.39 425.31 594.06 425 591.67C424.69 589.28 424.44 586.78 423.83 584C423.22 581.22 422.17 577.56 421.33 575C420.5 572.44 419.78 570.75 418.83 568.67C417.89 566.58 417.03 564.58 415.67 562.5C414.31 560.42 412.64 558.25 410.67 556.17C408.69 554.08 406.44 552.08 403.83 550C401.22 547.92 398.14 545.75 395 543.67C391.86 541.58 388.11 539.58 385 537.5C381.89 535.42 378.42 532.83 376.33 531.17C374.25 529.5 373.44 528.75 372.5 527.5C371.56 526.25 371.5 525.33 370.67 523.67C369.83 522 369.17 519.58 367.5 517.5C365.83 515.42 363.47 513.25 360.67 511.17C357.86 509.08 353.81 507.08 350.67 505C347.53 502.92 343.72 500.56 341.83 498.67C339.94 496.78 339.53 495.11 339.33 493.67C339.14 492.22 339.31 491.67 340.67 490C342.03 488.33 344.81 485.75 347.5 483.67C350.19 481.58 353.5 479.58 356.83 477.5C360.17 475.42 363.83 473.25 367.5 471.17C371.17 469.08 375.08 467.08 378.83 465C382.58 462.92 386.17 460.75 390 458.67C393.83 456.58 398.08 454.58 401.83 452.5C405.58 450.42 409.58 448.25 412.5 446.17C415.42 444.08 418.03 442.14 419.33 440C420.64 437.86 420.11 435.83 420.33 433.33C420.56 430.83 420.78 427.78 420.67 425C420.56 422.22 419.94 419.44 419.67 416.67C419.39 413.89 419.06 411.11 419 408.33C418.94 405.56 419.06 402.78 419.33 400C419.61 397.22 420.11 394.44 420.67 391.67C421.22 388.89 422 386.11 422.67 383.33C423.33 380.56 424.19 377.78 424.67 375C425.14 372.22 425.28 369.31 425.5 366.67C425.72 364.03 425.92 360.42 426 359.17Z" fill="#49d43e" stroke="#1e1e1e" stroke-width="2.2" stroke-linejoin="round"/>
<path d="M426.17 455V484.67M426.17 523.67V565" stroke="#3a3636" stroke-width="2" fill="none"/>
<rect x="397" y="484.67" width="58.33" height="39" fill="none" stroke="#3a3636" stroke-width="2.1"/>
<path d="M397 497.83H455.33" stroke="#3a3636" stroke-width="4.2"/>
<g fill="#000"><ellipse cx="443.5" cy="397.5" rx="3.9" ry="3.25"/><ellipse cx="422.33" cy="418.33" rx="3.9" ry="3.25"/><ellipse cx="415.17" cy="454.17" rx="3.9" ry="3.25"/><ellipse cx="407" cy="464.17" rx="3.9" ry="3.25"/><ellipse cx="423.17" cy="464.17" rx="3.9" ry="3.25"/><ellipse cx="428.17" cy="464.17" rx="3.9" ry="3.25"/><ellipse cx="441.5" cy="465" rx="3.9" ry="3.25"/><ellipse cx="420.67" cy="468.67" rx="3.9" ry="3.25"/><ellipse cx="408.17" cy="474.17" rx="3.9" ry="3.25"/><ellipse cx="444.83" cy="476.67" rx="3.9" ry="3.25"/><ellipse cx="413.67" cy="483.33" rx="3.9" ry="3.25"/><ellipse cx="419" cy="488.33" rx="3.9" ry="3.25"/><ellipse cx="423.17" cy="489.17" rx="3.9" ry="3.25"/><ellipse cx="412.33" cy="490.83" rx="3.9" ry="3.25"/><ellipse cx="438.17" cy="489.17" rx="3.9" ry="3.25"/><ellipse cx="442.33" cy="490.83" rx="3.9" ry="3.25"/><ellipse cx="437.33" cy="492.5" rx="3.9" ry="3.25"/><ellipse cx="418.17" cy="493.33" rx="3.9" ry="3.25"/><ellipse cx="422.33" cy="496.67" rx="3.9" ry="3.25"/><ellipse cx="427.33" cy="498" rx="3.9" ry="3.25"/><ellipse cx="444" cy="497.5" rx="3.9" ry="3.25"/><ellipse cx="444.83" cy="501.33" rx="3.9" ry="3.25"/><ellipse cx="409.83" cy="501.33" rx="3.9" ry="3.25"/><ellipse cx="414.83" cy="500.83" rx="3.9" ry="3.25"/><ellipse cx="419.83" cy="508.33" rx="3.9" ry="3.25"/><ellipse cx="416.5" cy="511.33" rx="3.9" ry="3.25"/><ellipse cx="418.17" cy="515" rx="3.9" ry="3.25"/><ellipse cx="420.67" cy="518.67" rx="3.9" ry="3.25"/><ellipse cx="421.5" cy="525" rx="3.9" ry="3.25"/><ellipse cx="429" cy="525.33" rx="3.9" ry="3.25"/><ellipse cx="424" cy="528.33" rx="3.9" ry="3.25"/><ellipse cx="439.5" cy="533.33" rx="3.9" ry="3.25"/><ellipse cx="441.5" cy="537.5" rx="3.9" ry="3.25"/><ellipse cx="408.17" cy="536.67" rx="3.9" ry="3.25"/><ellipse cx="415.67" cy="538" rx="3.9" ry="3.25"/><ellipse cx="416.5" cy="541.67" rx="3.9" ry="3.25"/><ellipse cx="434.33" cy="547" rx="3.9" ry="3.25"/><ellipse cx="411.5" cy="565.33" rx="3.9" ry="3.25"/></g>
<path d="M616.96 280.21C617.06 280.9 617.27 282.92 617.58 284.38C617.9 285.83 618.47 287.4 618.83 288.96C619.2 290.52 619.3 292.19 619.77 293.75C620.24 295.31 620.86 296.77 621.65 298.33C622.43 299.9 623.43 301.56 624.46 303.12C625.48 304.69 626.78 306.15 627.79 307.71C628.8 309.27 629.74 310.94 630.5 312.5C631.26 314.06 631.92 315.52 632.38 317.08C632.83 318.65 633.17 320.31 633.21 321.88C633.24 323.44 632.95 324.9 632.58 326.46C632.22 328.02 631.68 329.69 631.02 331.25C630.36 332.81 629.48 334.27 628.62 335.83C627.77 337.4 626.85 339.06 625.92 340.62C624.98 342.19 623.87 343.65 623 345.21C622.13 346.77 621.33 348.44 620.71 350C620.08 351.56 619.56 353.02 619.25 354.58C618.94 356.15 618.83 357.81 618.83 359.38C618.83 360.94 618.94 362.4 619.25 363.96C619.56 365.52 620.08 367.19 620.71 368.75C621.33 370.31 622.13 371.77 623 373.33C623.87 374.9 624.98 376.56 625.92 378.12C626.85 379.69 627.77 381.15 628.62 382.71C629.48 384.27 630.4 385.94 631.02 387.5C631.65 389.06 632.01 390.52 632.38 392.08C632.74 393.65 633.07 395.38 633.21 396.88C633.35 398.37 633.66 399.24 633.21 401.04C632.76 402.85 631.09 405.28 630.5 407.71C629.91 410.14 629.6 413.65 629.67 415.62C629.74 417.6 630.19 418.3 630.92 419.58C631.65 420.87 632.76 422.05 634.04 423.33C635.33 424.62 636.96 425.97 638.62 427.29C640.29 428.61 642.1 429.93 644.04 431.25C645.99 432.57 648.07 433.89 650.29 435.21C652.51 436.53 655.01 437.88 657.38 439.17C659.74 440.45 662.1 441.63 664.46 442.92C666.82 444.2 669.46 445.69 671.54 446.88C673.63 448.06 675.08 448.78 676.96 450C678.83 451.22 681.09 452.78 682.79 454.17C684.49 455.56 685.99 456.94 687.17 458.33C688.35 459.72 689.25 460.94 689.88 462.5C690.5 464.06 691.58 465.69 690.92 467.71C690.26 469.72 688 472.64 685.92 474.58C683.83 476.53 681.23 477.81 678.42 479.38C675.6 480.94 672.34 482.4 669.04 483.96C665.74 485.52 662.24 487.19 658.62 488.75C655.01 490.31 650.64 491.77 647.38 493.33C644.11 494.9 641.3 496.56 639.04 498.12C636.78 499.69 635.08 501.15 633.83 502.71C632.58 504.27 631.99 505.94 631.54 507.5C631.09 509.06 630.92 510.52 631.12 512.08C631.33 513.65 631.85 515.31 632.79 516.88C633.73 518.44 635.33 519.9 636.75 521.46C638.17 523.02 639.94 524.69 641.33 526.25C642.72 527.81 644.15 529.27 645.08 530.83C646.02 532.4 646.59 534.38 646.96 535.62C647.32 536.88 647.41 537.08 647.27 538.33C647.13 539.58 646.87 541.56 646.12 543.12C645.38 544.69 644.15 546.15 642.79 547.71C641.44 549.27 639.67 550.94 638 552.5C636.33 554.06 634.49 555.52 632.79 557.08C631.09 558.65 629.32 560.31 627.79 561.88C626.26 563.44 624.81 564.9 623.62 566.46C622.44 568.02 621.51 569.69 620.71 571.25C619.91 572.81 619.3 574.27 618.83 575.83C618.36 577.4 618.21 578.26 617.9 580.62C617.58 582.99 617.11 588.44 616.96 590C616.8 588.44 616.33 582.99 616.02 580.62C615.71 578.26 615.55 577.4 615.08 575.83C614.61 574.27 614.01 572.81 613.21 571.25C612.41 569.69 611.47 568.02 610.29 566.46C609.11 564.9 607.65 563.44 606.12 561.88C604.6 560.31 602.83 558.65 601.12 557.08C599.42 555.52 597.58 554.06 595.92 552.5C594.25 550.94 592.48 549.27 591.12 547.71C589.77 546.15 588.54 544.69 587.79 543.12C587.05 541.56 586.78 539.58 586.65 538.33C586.51 537.08 586.59 536.88 586.96 535.62C587.32 534.38 587.9 532.4 588.83 530.83C589.77 529.27 591.19 527.81 592.58 526.25C593.97 524.69 595.74 523.02 597.17 521.46C598.59 519.9 600.19 518.44 601.12 516.88C602.06 515.31 602.58 513.65 602.79 512.08C603 510.52 602.83 509.06 602.38 507.5C601.92 505.94 601.33 504.27 600.08 502.71C598.83 501.15 597.13 499.69 594.88 498.12C592.62 496.56 589.81 494.9 586.54 493.33C583.28 491.77 578.9 490.31 575.29 488.75C571.68 487.19 568.17 485.52 564.88 483.96C561.58 482.4 558.31 480.94 555.5 479.38C552.69 477.81 550.08 476.53 548 474.58C545.92 472.64 543.66 469.72 543 467.71C542.34 465.69 543.42 464.06 544.04 462.5C544.67 460.94 545.57 459.72 546.75 458.33C547.93 456.94 549.42 455.56 551.12 454.17C552.83 452.78 555.08 451.22 556.96 450C558.83 448.78 560.29 448.06 562.38 446.88C564.46 445.69 567.1 444.2 569.46 442.92C571.82 441.63 574.18 440.45 576.54 439.17C578.9 437.88 581.4 436.53 583.62 435.21C585.85 433.89 587.93 432.57 589.88 431.25C591.82 429.93 593.63 428.61 595.29 427.29C596.96 425.97 598.59 424.62 599.88 423.33C601.16 422.05 602.27 420.87 603 419.58C603.73 418.3 604.18 417.6 604.25 415.62C604.32 413.65 604.01 410.14 603.42 407.71C602.83 405.28 601.16 402.85 600.71 401.04C600.26 399.24 600.57 398.37 600.71 396.88C600.85 395.38 601.18 393.65 601.54 392.08C601.91 390.52 602.27 389.06 602.9 387.5C603.52 385.94 604.44 384.27 605.29 382.71C606.14 381.15 607.06 379.69 608 378.12C608.94 376.56 610.05 374.9 610.92 373.33C611.78 371.77 612.58 370.31 613.21 368.75C613.83 367.19 614.35 365.52 614.67 363.96C614.98 362.4 615.08 360.94 615.08 359.38C615.08 357.81 614.98 356.15 614.67 354.58C614.35 353.02 613.83 351.56 613.21 350C612.58 348.44 611.78 346.77 610.92 345.21C610.05 343.65 608.94 342.19 608 340.62C607.06 339.06 606.14 337.4 605.29 335.83C604.44 334.27 603.56 332.81 602.9 331.25C602.24 329.69 601.7 328.02 601.33 326.46C600.97 324.9 600.67 323.44 600.71 321.88C600.74 320.31 601.09 318.65 601.54 317.08C601.99 315.52 602.65 314.06 603.42 312.5C604.18 310.94 605.12 309.27 606.12 307.71C607.13 306.15 608.43 304.69 609.46 303.12C610.48 301.56 611.49 299.9 612.27 298.33C613.05 296.77 613.68 295.31 614.15 293.75C614.61 292.19 614.72 290.52 615.08 288.96C615.45 287.4 616.02 285.83 616.33 284.38C616.65 282.92 616.85 280.9 616.96 280.21Z" fill="#ef6f6f" stroke="#1e1e1e" stroke-width="2.2" stroke-linejoin="round"/>
<path d="M616.85 396.46V446.25M616.85 482.71V533.33" stroke="#3a3636" stroke-width="2" fill="none"/>
<rect x="587.58" y="446.25" width="58.54" height="36.46" fill="none" stroke="#3a3636" stroke-width="2.1"/>
<path d="M587.58 463.12H646.12" stroke="#3a3636" stroke-width="4.2"/>
<g fill="#000"><ellipse cx="606.12" cy="325.62" rx="3.9" ry="3.25"/><ellipse cx="633.42" cy="395.42" rx="3.9" ry="3.25"/><ellipse cx="602.38" cy="441.67" rx="3.9" ry="3.25"/><ellipse cx="634.04" cy="449.58" rx="3.9" ry="3.25"/><ellipse cx="619.04" cy="463.12" rx="3.9" ry="3.25"/><ellipse cx="634.04" cy="463.12" rx="3.9" ry="3.25"/><ellipse cx="618" cy="474.38" rx="3.9" ry="3.25"/><ellipse cx="613.83" cy="479.79" rx="3.9" ry="3.25"/><ellipse cx="621.75" cy="485.83" rx="3.9" ry="3.25"/><ellipse cx="600.71" cy="533.96" rx="3.9" ry="3.25"/><ellipse cx="597.58" cy="543.12" rx="3.9" ry="3.25"/></g>
</g>
<g>
<g transform="translate(945.73 27.34) scale(0.08333 0.08200)" stroke="#2c2a00" stroke-opacity="0.72" stroke-width="7.5" stroke-linejoin="round">
<path d="M90 960C86 937.5 84.33 923.33 86 905C87.67 886.67 91 870.83 100 850C109 829.17 122.5 805 140 780C157.5 755 181.67 735 205 700C228.33 665 250.83 615 280 570C309.17 525 358.33 459.5 380 430C401.67 400.5 393.33 413 410 393C426.67 373 451.67 338.83 480 310C508.33 281.17 546.67 245 580 220C613.33 195 646.67 175.83 680 160C713.33 144.17 755 132 780 125C805 118 813.33 120.5 830 118C846.67 115.5 865.33 111.67 880 110C894.67 108.33 898 108.33 918 108C938 107.67 975 107 1000 108C1025 109 1043 111.67 1068 114C1093 116.33 1125 117.67 1150 122C1175 126.33 1191.67 132.83 1218 140C1244.33 147.17 1283 158 1308 165C1333 172 1333 169.5 1368 182C1403 194.5 1468 217 1518 240C1568 263 1623 291.67 1668 320C1713 348.33 1751.33 380 1788 410C1824.67 440 1858 470 1888 500C1918 530 1943 558.33 1968 590C1993 621.67 2016.33 656.67 2038 690C2059.67 723.33 2081.33 758.33 2098 790C2114.67 821.67 2128.83 851.67 2138 880C2147.17 908.33 2152.17 935 2153 960C2153.83 985 2150.5 1008.33 2143 1030C2135.5 1051.67 2122.17 1071.67 2108 1090C2093.83 1108.33 2069.33 1130 2058 1140C2046.67 1150 2049.67 1145 2040 1150C2030.33 1155 2020.33 1162.5 2000 1170C1979.67 1177.5 1948.33 1187.5 1918 1195C1887.67 1202.5 1851.33 1209.5 1818 1215C1784.67 1220.5 1745.5 1223.67 1718 1228C1690.5 1232.33 1673 1236.17 1653 1241C1633 1245.83 1613.83 1250 1598 1257C1582.17 1264 1568 1277.5 1558 1283C1548 1288.5 1544.67 1285.5 1538 1290C1531.33 1294.5 1524.67 1300.33 1518 1310C1511.33 1319.67 1504.67 1333.33 1498 1348C1491.33 1362.67 1485.5 1382.17 1478 1398C1470.5 1413.83 1463 1428.83 1453 1443C1443 1457.17 1432.17 1473 1418 1483C1403.83 1493 1379.67 1498.83 1368 1503C1356.33 1507.17 1361.33 1507.17 1348 1508C1334.67 1508.83 1314.67 1510.5 1288 1508C1261.33 1505.5 1221.33 1499.67 1188 1493C1154.67 1486.33 1121.33 1477.17 1088 1468C1054.67 1458.83 1021.33 1448.83 988 1438C954.67 1427.17 921.33 1415.5 888 1403C854.67 1390.5 821.33 1376.33 788 1363C754.67 1349.67 721.33 1337.17 688 1323C654.67 1308.83 621.33 1293 588 1278C554.67 1263 520.5 1247.67 488 1233C455.5 1218.33 426.33 1200.83 393 1190C359.67 1179.17 311.83 1174.67 288 1168C264.17 1161.33 271.33 1161.33 250 1150C228.67 1138.67 183.33 1118.33 160 1100C136.67 1081.67 121.67 1063.33 110 1040C98.33 1016.67 94 982.5 90 960Z" fill="#eec838" stroke="none"/>
<path d="M393 1190C359.67 1179.17 311.83 1174.67 288 1168C264.17 1161.33 271.33 1161.33 250 1150C228.67 1138.67 183.33 1118.33 160 1100C136.67 1081.67 121.67 1063.33 110 1040C98.33 1016.67 94 982.5 90 960C86 937.5 84.33 923.33 86 905C87.67 886.67 91 870.83 100 850C109 829.17 122.5 805 140 780C157.5 755 181.67 735 205 700L205 700C206.67 711.67 207.5 745 215 770C222.5 795 234.17 825 250 850C265.83 875 290 904.17 310 920C330 935.83 356 938.33 370 945C384 951.67 390 957.5 394 960L394 960C395.5 974.67 402.33 1021.33 403 1048C403.67 1074.67 399.67 1096.33 398 1120C396.33 1143.67 393.83 1178.33 393 1190Z" fill="#eed23a"/>
<path d="M205 700C228.33 665 250.83 615 280 570C309.17 525 358.33 459.5 380 430C401.67 400.5 393.33 413 410 393L410 393C415 392.83 425 396.5 440 392C455 387.5 480 372.5 500 366C520 359.5 536.67 355.67 560 353C583.33 350.33 610.83 348 640 350C669.17 352 719.17 362.5 735 365L735 365C727.5 374.17 699.17 397.5 690 420C680.83 442.5 680 470 680 500C680 530 686.67 566.67 690 600C693.33 633.33 691.67 674.67 700 700C708.33 725.33 733.33 743.33 740 752L740 752C733.33 765 710 807 700 830C690 853 689.17 875.5 680 890C670.83 904.5 650.83 912.5 645 917L645 917C635.5 913.83 610.83 901.17 588 898C565.17 894.83 533 894.67 508 898C483 901.33 457 907.67 438 918C419 928.33 401.33 953 394 960L394 960C390 957.5 384 951.67 370 945C356 938.33 330 935.83 310 920C290 904.17 265.83 875 250 850C234.17 825 222.5 795 215 770C207.5 745 206.67 711.67 205 700Z" fill="#eed83a"/>
<path d="M410 393C426.67 373 451.67 338.83 480 310C508.33 281.17 546.67 245 580 220C613.33 195 646.67 175.83 680 160C713.33 144.17 755 132 780 125C805 118 813.33 120.5 830 118L830 118C829.17 131.67 823.33 173 825 200C826.67 227 835.83 259.17 840 280C844.17 300.83 848.33 317.5 850 325L850 325C841.67 327.5 819.17 333.33 800 340C780.83 346.67 745.83 360.83 735 365L735 365C719.17 362.5 669.17 352 640 350C610.83 348 583.33 350.33 560 353C536.67 355.67 520 359.5 500 366C480 372.5 455 387.5 440 392C425 396.5 415 392.83 410 393Z" fill="#eed23a"/>
<path d="M735 365C745.83 360.83 780.83 346.67 800 340C819.17 333.33 841.67 327.5 850 325L850 325C861.67 325.83 895 322.5 920 330C945 337.5 976.67 351.67 1000 370C1023.33 388.33 1041.67 415 1060 440C1078.33 465 1095 493.33 1110 520C1125 546.67 1140 573.33 1150 600C1160 626.67 1165 653.33 1170 680C1175 706.67 1181.17 738.33 1180 760C1178.83 781.67 1165.83 801.67 1163 810L1163 810C1153.83 813.67 1122.17 829 1108 832C1093.83 835 1086.33 827 1078 828C1069.67 829 1064.33 839.33 1058 838C1051.67 836.67 1056.33 829.67 1040 820C1023.67 810.33 983.33 788.33 960 780C936.67 771.67 918.33 775.83 900 770C881.67 764.17 864.17 750.5 850 745C835.83 739.5 824.17 735.33 815 737C805.83 738.67 807.5 752.5 795 755C782.5 757.5 749.17 752.5 740 752L740 752C733.33 743.33 708.33 725.33 700 700C691.67 674.67 693.33 633.33 690 600C686.67 566.67 680 530 680 500C680 470 680.83 442.5 690 420C699.17 397.5 727.5 374.17 735 365Z" fill="#eed03a"/>
<path d="M830 118C846.67 115.5 865.33 111.67 880 110C894.67 108.33 898 108.33 918 108C938 107.67 975 107 1000 108L1000 108C1005.5 121.67 1015 164.67 1033 190C1051 215.33 1082.17 235 1108 260C1133.83 285 1163 310 1188 340C1213 370 1238 406.67 1258 440C1278 473.33 1295.5 506.67 1308 540C1320.5 573.33 1326.33 606.67 1333 640C1339.67 673.33 1342.17 708.33 1348 740C1353.83 771.67 1360.5 810 1368 830C1375.5 850 1388.83 855 1393 860L1393 860C1382.17 858.33 1352.17 855.83 1328 850C1303.83 844.17 1275.5 831.67 1248 825C1220.5 818.33 1177.17 812.5 1163 810L1163 810C1165.83 801.67 1178.83 781.67 1180 760C1181.17 738.33 1175 706.67 1170 680C1165 653.33 1160 626.67 1150 600C1140 573.33 1125 546.67 1110 520C1095 493.33 1078.33 465 1060 440C1041.67 415 1023.33 388.33 1000 370C976.67 351.67 945 337.5 920 330C895 322.5 861.67 325.83 850 325L850 325C848.33 317.5 844.17 300.83 840 280C835.83 259.17 826.67 227 825 200C823.33 173 829.17 131.67 830 118Z" fill="#efb834"/>
<path d="M1000 108C1025 109 1043 111.67 1068 114C1093 116.33 1125 117.67 1150 122C1175 126.33 1191.67 132.83 1218 140C1244.33 147.17 1283 158 1308 165L1308 165C1323 179.17 1373 220.83 1398 250C1423 279.17 1443 311.67 1458 340C1473 368.33 1474.67 391.67 1488 420C1501.33 448.33 1521.33 480 1538 510C1554.67 540 1583 568.33 1588 600C1593 631.67 1578 670 1568 700C1558 730 1538 751.67 1528 780C1518 808.33 1513 853.33 1508 870C1503 886.67 1499.67 878.33 1498 880L1498 880C1489.67 880 1465.5 883.33 1448 880C1430.5 876.67 1402.17 863.33 1393 860L1393 860C1388.83 855 1375.5 850 1368 830C1360.5 810 1353.83 771.67 1348 740C1342.17 708.33 1339.67 673.33 1333 640C1326.33 606.67 1320.5 573.33 1308 540C1295.5 506.67 1278 473.33 1258 440C1238 406.67 1213 370 1188 340C1163 310 1133.83 285 1108 260C1082.17 235 1051 215.33 1033 190C1015 164.67 1005.5 121.67 1000 108Z" fill="#efa830"/>
<path d="M1308 165C1333 172 1333 169.5 1368 182C1403 194.5 1468 217 1518 240C1568 263 1623 291.67 1668 320C1713 348.33 1751.33 380 1788 410L1778 435C1759.67 424.17 1703 390.83 1668 370C1633 349.17 1601.33 327.5 1568 310C1534.67 292.5 1496.33 275 1468 265C1439.67 255 1409.67 252.5 1398 250L1398 250L1308 165Z" fill="#f4862a"/>
<path d="M1398 250C1409.67 252.5 1439.67 255 1468 265C1496.33 275 1534.67 292.5 1568 310C1601.33 327.5 1633 349.17 1668 370C1703 390.83 1759.67 424.17 1778 435L1778 435C1773.83 442.5 1756.33 465.83 1753 480C1749.67 494.17 1763.83 505 1758 520C1752.17 535 1725.5 555 1718 570C1710.5 585 1714.67 599.17 1713 610C1711.33 620.83 1708.83 630.83 1708 635L1708 635C1698 631.67 1668 620.83 1648 615C1628 609.17 1598 602.5 1588 600L1588 600C1579.67 585 1554.67 540 1538 510C1521.33 480 1501.33 448.33 1488 420C1474.67 391.67 1473 368.33 1458 340C1443 311.67 1408 265 1398 250Z" fill="#f38c2a"/>
<path d="M1778 435L1788 410L1788 410C1824.67 440 1858 470 1888 500C1918 530 1943 558.33 1968 590C1993 621.67 2016.33 656.67 2038 690C2059.67 723.33 2081.33 758.33 2098 790C2114.67 821.67 2128.83 851.67 2138 880C2147.17 908.33 2152.17 935 2153 960C2153.83 985 2150.5 1008.33 2143 1030C2135.5 1051.67 2122.17 1071.67 2108 1090C2093.83 1108.33 2069.33 1130 2058 1140C2046.67 1150 2049.67 1145 2040 1150L2040 1150C2043.83 1141.67 2058.33 1114.17 2063 1100C2067.67 1085.83 2070.5 1075 2068 1065C2065.5 1055 2051.33 1044.17 2048 1040L2048 1040C2045.5 1033.33 2039.67 1020 2033 1000C2026.33 980 2018.83 945 2008 920C1997.17 895 1986.33 867.5 1968 850C1949.67 832.5 1923 823.33 1898 815C1873 806.67 1831.33 802.5 1818 800L1818 800C1816.33 796.67 1818 796.67 1808 780C1798 763.33 1774.67 724.17 1758 700C1741.33 675.83 1716.33 645.83 1708 635L1708 635C1708.83 630.83 1711.33 620.83 1713 610C1714.67 599.17 1710.5 585 1718 570C1725.5 555 1752.17 535 1758 520C1763.83 505 1749.67 494.17 1753 480C1756.33 465.83 1773.83 442.5 1778 435Z" fill="#f39028"/>
<path d="M1588 600C1598 602.5 1628 609.17 1648 615C1668 620.83 1698 631.67 1708 635L1708 635C1716.33 645.83 1741.33 675.83 1758 700C1774.67 724.17 1798 763.33 1808 780C1818 796.67 1816.33 796.67 1818 800L1818 800C1809.67 806.67 1784.67 825 1768 840C1751.33 855 1734.67 873.33 1718 890C1701.33 906.67 1679.67 928 1668 940C1656.33 952 1651.33 958.33 1648 962L1648 962C1638 955 1608 932 1588 920C1568 908 1543 896.67 1528 890C1513 883.33 1503 881.67 1498 880L1498 880C1499.67 878.33 1503 886.67 1508 870C1513 853.33 1518 808.33 1528 780C1538 751.67 1558 730 1568 700C1578 670 1584.67 616.67 1588 600Z" fill="#efac30"/>
<path d="M1818 800C1831.33 802.5 1873 806.67 1898 815C1923 823.33 1949.67 832.5 1968 850C1986.33 867.5 1997.17 895 2008 920C2018.83 945 2026.33 980 2033 1000C2039.67 1020 2045.5 1033.33 2048 1040L2048 1040C2034.67 1042.5 1998 1049.17 1968 1055C1938 1060.83 1894.67 1070 1868 1075C1841.33 1080 1818 1083.33 1808 1085L1808 1085C1799.67 1080.83 1774.67 1070.83 1758 1060C1741.33 1049.17 1724.67 1032.5 1708 1020C1691.33 1007.5 1668 994.67 1658 985C1648 975.33 1649.67 965.83 1648 962L1648 962C1651.33 958.33 1656.33 952 1668 940C1679.67 928 1701.33 906.67 1718 890C1734.67 873.33 1751.33 855 1768 840C1784.67 825 1809.67 806.67 1818 800Z" fill="#efa830"/>
<path d="M1808 1085C1818 1083.33 1841.33 1080 1868 1075C1894.67 1070 1938 1060.83 1968 1055C1998 1049.17 2034.67 1042.5 2048 1040L2048 1040C2051.33 1044.17 2065.5 1055 2068 1065C2070.5 1075 2067.67 1085.83 2063 1100C2058.33 1114.17 2043.83 1141.67 2040 1150L2040 1150C2031.33 1150.33 2008.33 1152 1988 1152C1967.67 1152 1939.67 1153.67 1918 1150C1896.33 1146.33 1874.67 1137.5 1858 1130C1841.33 1122.5 1826.33 1112.5 1818 1105C1809.67 1097.5 1809.67 1088.33 1808 1085Z" fill="#efb032"/>
<path d="M1648 962C1649.67 965.83 1648 975.33 1658 985C1668 994.67 1691.33 1007.5 1708 1020C1724.67 1032.5 1741.33 1049.17 1758 1060C1774.67 1070.83 1799.67 1080.83 1808 1085L1808 1085C1809.67 1088.33 1809.67 1097.5 1818 1105C1826.33 1112.5 1841.33 1122.5 1858 1130C1874.67 1137.5 1896.33 1146.33 1918 1150C1939.67 1153.67 1967.67 1152 1988 1152C2008.33 1152 2031.33 1150.33 2040 1150L2040 1150C2030.33 1155 2020.33 1162.5 2000 1170C1979.67 1177.5 1948.33 1187.5 1918 1195C1887.67 1202.5 1851.33 1209.5 1818 1215C1784.67 1220.5 1745.5 1223.67 1718 1228C1690.5 1232.33 1673 1236.17 1653 1241L1653 1241C1655.5 1232.17 1663.83 1210.17 1668 1188C1672.17 1165.83 1677.17 1134.67 1678 1108C1678.83 1081.33 1678 1052.33 1673 1028C1668 1003.67 1652.17 973 1648 962Z" fill="#efa42e"/>
<path d="M403 1048C417.17 1054.67 457.17 1069.67 488 1088C518.83 1106.33 554.67 1134.67 588 1158C621.33 1181.33 654.67 1206.33 688 1228C721.33 1249.67 754.67 1268.83 788 1288C821.33 1307.17 854.67 1325.5 888 1343C921.33 1360.5 954.67 1377.17 988 1393C1021.33 1408.83 1054.67 1424.67 1088 1438C1121.33 1451.33 1154.67 1463 1188 1473C1221.33 1483 1261.33 1492.17 1288 1498C1314.67 1503.83 1338 1506.33 1348 1508L1348 1508C1334.67 1508.83 1314.67 1510.5 1288 1508C1261.33 1505.5 1221.33 1499.67 1188 1493C1154.67 1486.33 1121.33 1477.17 1088 1468C1054.67 1458.83 1021.33 1448.83 988 1438C954.67 1427.17 921.33 1415.5 888 1403C854.67 1390.5 821.33 1376.33 788 1363C754.67 1349.67 721.33 1337.17 688 1323C654.67 1308.83 621.33 1293 588 1278C554.67 1263 520.5 1247.67 488 1233C455.5 1218.33 426.33 1200.83 393 1190L393 1190C393.83 1178.33 396.33 1143.67 398 1120C399.67 1096.33 402.17 1060 403 1048Z" fill="#eed03a"/>
<path d="M394 960C401.33 953 419 928.33 438 918C457 907.67 483 901.33 508 898C533 894.67 565.17 894.83 588 898C610.83 901.17 635.5 913.83 645 917L645 917C648 927.17 655.83 959.5 663 978C670.17 996.5 677.17 1013.83 688 1028C698.83 1042.17 711.33 1054.67 728 1063C744.67 1071.33 768 1076.33 788 1078C808 1079.67 833 1074.67 848 1073C863 1071.33 873 1068.83 878 1068L878 1068C888 1074.67 911.33 1091.33 938 1108C964.67 1124.67 1004.67 1148 1038 1168C1071.33 1188 1104.67 1208 1138 1228C1171.33 1248 1204.67 1266.33 1238 1288C1271.33 1309.67 1309.67 1338 1338 1358C1366.33 1378 1388.83 1393.83 1408 1408C1427.17 1422.17 1445.5 1437.17 1453 1443L1453 1443C1443 1457.17 1432.17 1473 1418 1483C1403.83 1493 1379.67 1498.83 1368 1503C1356.33 1507.17 1361.33 1507.17 1348 1508L1348 1508C1338 1506.33 1314.67 1503.83 1288 1498C1261.33 1492.17 1221.33 1483 1188 1473C1154.67 1463 1121.33 1451.33 1088 1438C1054.67 1424.67 1021.33 1408.83 988 1393C954.67 1377.17 921.33 1360.5 888 1343C854.67 1325.5 821.33 1307.17 788 1288C754.67 1268.83 721.33 1249.67 688 1228C654.67 1206.33 621.33 1181.33 588 1158C554.67 1134.67 518.83 1106.33 488 1088C457.17 1069.67 417.17 1054.67 403 1048L403 1048L394 960Z" fill="#eecb38"/>
<path d="M795 755C798.33 752 805.83 738.67 815 737C824.17 735.33 835.83 739.5 850 745C864.17 750.5 881.67 764.17 900 770C918.33 775.83 936.67 771.67 960 780C983.33 788.33 1023.67 810.33 1040 820C1056.33 829.67 1055 835 1058 838L1058 838C1063 848 1074.67 876.33 1088 898C1101.33 919.67 1121.33 946.33 1138 968C1154.67 989.67 1173.83 1013.83 1188 1028C1202.17 1042.17 1217.17 1048.83 1223 1053L1223 1053C1225.83 1047.5 1235.83 1030 1240 1020C1244.17 1010 1246.67 997.5 1248 993L1248 993C1254.67 998.83 1268 1008.83 1288 1028C1308 1047.17 1343 1084.67 1368 1108C1393 1131.33 1418 1149.67 1438 1168C1458 1186.33 1473.83 1201.33 1488 1218C1502.17 1234.67 1514.67 1256 1523 1268C1531.33 1280 1535.5 1286.33 1538 1290L1538 1290C1531.33 1294.5 1524.67 1300.33 1518 1310C1511.33 1319.67 1504.67 1333.33 1498 1348C1491.33 1362.67 1485.5 1382.17 1478 1398C1470.5 1413.83 1463 1428.83 1453 1443L1453 1443C1445.5 1437.17 1427.17 1422.17 1408 1408C1388.83 1393.83 1366.33 1378 1338 1358C1309.67 1338 1271.33 1309.67 1238 1288C1204.67 1266.33 1171.33 1248 1138 1228C1104.67 1208 1071.33 1188 1038 1168C1004.67 1148 964.67 1124.67 938 1108C911.33 1091.33 888 1074.67 878 1068L878 1068C873.83 1061.33 858.83 1041.33 853 1028C847.17 1014.67 841.33 1003 843 988C844.67 973 858.83 954.67 863 938C867.17 921.33 870.5 904.67 868 888C865.5 871.33 856.33 854.67 848 838C839.67 821.33 825.5 799.67 818 788C810.5 776.33 806.83 773.5 803 768C799.17 762.5 796.33 757.17 795 755Z" fill="#eec838"/>
<path d="M1108 832C1117.17 828.33 1139.67 811.17 1163 810C1186.33 808.83 1220.5 818.33 1248 825C1275.5 831.67 1303.83 844.17 1328 850C1352.17 855.83 1373 855 1393 860C1413 865 1430.5 876.67 1448 880C1465.5 883.33 1484.67 878.33 1498 880C1511.33 881.67 1513 883.33 1528 890C1543 896.67 1568 908 1588 920C1608 932 1638 955 1648 962L1648 962C1652.17 973 1668 1003.67 1673 1028C1678 1052.33 1678.83 1081.33 1678 1108C1677.17 1134.67 1672.17 1165.83 1668 1188C1663.83 1210.17 1655.5 1232.17 1653 1241L1653 1241C1633 1245.83 1613.83 1250 1598 1257C1582.17 1264 1568 1277.5 1558 1283C1548 1288.5 1544.67 1285.5 1538 1290L1538 1290C1535.5 1286.33 1531.33 1280 1523 1268C1514.67 1256 1502.17 1234.67 1488 1218C1473.83 1201.33 1458 1186.33 1438 1168C1418 1149.67 1393 1131.33 1368 1108C1343 1084.67 1308 1047.17 1288 1028C1268 1008.83 1254.67 998.83 1248 993L1248 993L1223 1008L1223 1008C1217.17 996.33 1200.5 959.67 1188 938C1175.5 916.33 1161.33 895.67 1148 878C1134.67 860.33 1114.67 839.67 1108 832Z" fill="#efb434"/>
<path d="M740 752L795 755L795 755C796.33 757.17 799.17 762.5 803 768C806.83 773.5 810.5 776.33 818 788C825.5 799.67 839.67 821.33 848 838C856.33 854.67 865.5 871.33 868 888C870.5 904.67 867.17 921.33 863 938C858.83 954.67 844.67 973 843 988C841.33 1003 847.17 1014.67 853 1028C858.83 1041.33 873.83 1061.33 878 1068L878 1068C873 1068.83 863 1071.33 848 1073C833 1074.67 808 1079.67 788 1078C768 1076.33 744.67 1071.33 728 1063C711.33 1054.67 698.83 1042.17 688 1028C677.17 1013.83 670.17 996.5 663 978C655.83 959.5 648 927.17 645 917L645 917C650.83 912.5 670.83 904.5 680 890C689.17 875.5 690 853 700 830C710 807 733.33 765 740 752Z" fill="#eed23a"/>
<path d="M1058 838C1063 848 1074.67 876.33 1088 898C1101.33 919.67 1121.33 946.33 1138 968C1154.67 989.67 1173.83 1013.83 1188 1028C1202.17 1042.17 1217.17 1048.83 1223 1053L1223 1053L1223 1008L1223 1008C1217.17 996.33 1200.5 959.67 1188 938C1175.5 916.33 1161.33 895.67 1148 878C1134.67 860.33 1114.67 839.67 1108 832L1108 832C1103 831.33 1086.33 827 1078 828C1069.67 829 1061.33 836.33 1058 838Z" fill="#eed23a"/>
<path d="M90 960C86 937.5 84.33 923.33 86 905C87.67 886.67 91 870.83 100 850C109 829.17 122.5 805 140 780C157.5 755 181.67 735 205 700C228.33 665 250.83 615 280 570C309.17 525 358.33 459.5 380 430C401.67 400.5 393.33 413 410 393C426.67 373 451.67 338.83 480 310C508.33 281.17 546.67 245 580 220C613.33 195 646.67 175.83 680 160C713.33 144.17 755 132 780 125C805 118 813.33 120.5 830 118C846.67 115.5 865.33 111.67 880 110C894.67 108.33 898 108.33 918 108C938 107.67 975 107 1000 108C1025 109 1043 111.67 1068 114C1093 116.33 1125 117.67 1150 122C1175 126.33 1191.67 132.83 1218 140C1244.33 147.17 1283 158 1308 165C1333 172 1333 169.5 1368 182C1403 194.5 1468 217 1518 240C1568 263 1623 291.67 1668 320C1713 348.33 1751.33 380 1788 410C1824.67 440 1858 470 1888 500C1918 530 1943 558.33 1968 590C1993 621.67 2016.33 656.67 2038 690C2059.67 723.33 2081.33 758.33 2098 790C2114.67 821.67 2128.83 851.67 2138 880C2147.17 908.33 2152.17 935 2153 960C2153.83 985 2150.5 1008.33 2143 1030C2135.5 1051.67 2122.17 1071.67 2108 1090C2093.83 1108.33 2069.33 1130 2058 1140C2046.67 1150 2049.67 1145 2040 1150C2030.33 1155 2020.33 1162.5 2000 1170C1979.67 1177.5 1948.33 1187.5 1918 1195C1887.67 1202.5 1851.33 1209.5 1818 1215C1784.67 1220.5 1745.5 1223.67 1718 1228C1690.5 1232.33 1673 1236.17 1653 1241C1633 1245.83 1613.83 1250 1598 1257C1582.17 1264 1568 1277.5 1558 1283C1548 1288.5 1544.67 1285.5 1538 1290C1531.33 1294.5 1524.67 1300.33 1518 1310C1511.33 1319.67 1504.67 1333.33 1498 1348C1491.33 1362.67 1485.5 1382.17 1478 1398C1470.5 1413.83 1463 1428.83 1453 1443C1443 1457.17 1432.17 1473 1418 1483C1403.83 1493 1379.67 1498.83 1368 1503C1356.33 1507.17 1361.33 1507.17 1348 1508C1334.67 1508.83 1314.67 1510.5 1288 1508C1261.33 1505.5 1221.33 1499.67 1188 1493C1154.67 1486.33 1121.33 1477.17 1088 1468C1054.67 1458.83 1021.33 1448.83 988 1438C954.67 1427.17 921.33 1415.5 888 1403C854.67 1390.5 821.33 1376.33 788 1363C754.67 1349.67 721.33 1337.17 688 1323C654.67 1308.83 621.33 1293 588 1278C554.67 1263 520.5 1247.67 488 1233C455.5 1218.33 426.33 1200.83 393 1190C359.67 1179.17 311.83 1174.67 288 1168C264.17 1161.33 271.33 1161.33 250 1150C228.67 1138.67 183.33 1118.33 160 1100C136.67 1081.67 121.67 1063.33 110 1040C98.33 1016.67 94 982.5 90 960Z" fill="none" stroke="#4a4420" stroke-opacity="0.8" stroke-width="9"/>
</g>
<g transform="translate(1138.83 27.34) scale(0.08333 0.08200)" stroke="#2c2a00" stroke-opacity="0.72" stroke-width="7.5" stroke-linejoin="round">
<path d="M90 960C86 937.5 84.33 923.33 86 905C87.67 886.67 91 870.83 100 850C109 829.17 122.5 805 140 780C157.5 755 181.67 735 205 700C228.33 665 250.83 615 280 570C309.17 525 358.33 459.5 380 430C401.67 400.5 393.33 413 410 393C426.67 373 451.67 338.83 480 310C508.33 281.17 546.67 245 580 220C613.33 195 646.67 175.83 680 160C713.33 144.17 755 132 780 125C805 118 813.33 120.5 830 118C846.67 115.5 865.33 111.67 880 110C894.67 108.33 898 108.33 918 108C938 107.67 975 107 1000 108C1025 109 1043 111.67 1068 114C1093 116.33 1125 117.67 1150 122C1175 126.33 1191.67 132.83 1218 140C1244.33 147.17 1283 158 1308 165C1333 172 1333 169.5 1368 182C1403 194.5 1468 217 1518 240C1568 263 1623 291.67 1668 320C1713 348.33 1751.33 380 1788 410C1824.67 440 1858 470 1888 500C1918 530 1943 558.33 1968 590C1993 621.67 2016.33 656.67 2038 690C2059.67 723.33 2081.33 758.33 2098 790C2114.67 821.67 2128.83 851.67 2138 880C2147.17 908.33 2152.17 935 2153 960C2153.83 985 2150.5 1008.33 2143 1030C2135.5 1051.67 2122.17 1071.67 2108 1090C2093.83 1108.33 2069.33 1130 2058 1140C2046.67 1150 2049.67 1145 2040 1150C2030.33 1155 2020.33 1162.5 2000 1170C1979.67 1177.5 1948.33 1187.5 1918 1195C1887.67 1202.5 1851.33 1209.5 1818 1215C1784.67 1220.5 1745.5 1223.67 1718 1228C1690.5 1232.33 1673 1236.17 1653 1241C1633 1245.83 1613.83 1250 1598 1257C1582.17 1264 1568 1277.5 1558 1283C1548 1288.5 1544.67 1285.5 1538 1290C1531.33 1294.5 1524.67 1300.33 1518 1310C1511.33 1319.67 1504.67 1333.33 1498 1348C1491.33 1362.67 1485.5 1382.17 1478 1398C1470.5 1413.83 1463 1428.83 1453 1443C1443 1457.17 1432.17 1473 1418 1483C1403.83 1493 1379.67 1498.83 1368 1503C1356.33 1507.17 1361.33 1507.17 1348 1508C1334.67 1508.83 1314.67 1510.5 1288 1508C1261.33 1505.5 1221.33 1499.67 1188 1493C1154.67 1486.33 1121.33 1477.17 1088 1468C1054.67 1458.83 1021.33 1448.83 988 1438C954.67 1427.17 921.33 1415.5 888 1403C854.67 1390.5 821.33 1376.33 788 1363C754.67 1349.67 721.33 1337.17 688 1323C654.67 1308.83 621.33 1293 588 1278C554.67 1263 520.5 1247.67 488 1233C455.5 1218.33 426.33 1200.83 393 1190C359.67 1179.17 311.83 1174.67 288 1168C264.17 1161.33 271.33 1161.33 250 1150C228.67 1138.67 183.33 1118.33 160 1100C136.67 1081.67 121.67 1063.33 110 1040C98.33 1016.67 94 982.5 90 960Z" fill="#efe63e" stroke="none"/>
<path d="M393 1190C359.67 1179.17 311.83 1174.67 288 1168C264.17 1161.33 271.33 1161.33 250 1150C228.67 1138.67 183.33 1118.33 160 1100C136.67 1081.67 121.67 1063.33 110 1040C98.33 1016.67 94 982.5 90 960C86 937.5 84.33 923.33 86 905C87.67 886.67 91 870.83 100 850C109 829.17 122.5 805 140 780C157.5 755 181.67 735 205 700L205 700C206.67 711.67 207.5 745 215 770C222.5 795 234.17 825 250 850C265.83 875 290 904.17 310 920C330 935.83 356 938.33 370 945C384 951.67 390 957.5 394 960L394 960C395.5 974.67 402.33 1021.33 403 1048C403.67 1074.67 399.67 1096.33 398 1120C396.33 1143.67 393.83 1178.33 393 1190Z" fill="#efe23c"/>
<path d="M205 700C228.33 665 250.83 615 280 570C309.17 525 358.33 459.5 380 430C401.67 400.5 393.33 413 410 393L410 393C415 392.83 425 396.5 440 392C455 387.5 480 372.5 500 366C520 359.5 536.67 355.67 560 353C583.33 350.33 610.83 348 640 350C669.17 352 719.17 362.5 735 365L735 365C727.5 374.17 699.17 397.5 690 420C680.83 442.5 680 470 680 500C680 530 686.67 566.67 690 600C693.33 633.33 691.67 674.67 700 700C708.33 725.33 733.33 743.33 740 752L740 752C733.33 765 710 807 700 830C690 853 689.17 875.5 680 890C670.83 904.5 650.83 912.5 645 917L645 917C635.5 913.83 610.83 901.17 588 898C565.17 894.83 533 894.67 508 898C483 901.33 457 907.67 438 918C419 928.33 401.33 953 394 960L394 960C390 957.5 384 951.67 370 945C356 938.33 330 935.83 310 920C290 904.17 265.83 875 250 850C234.17 825 222.5 795 215 770C207.5 745 206.67 711.67 205 700Z" fill="#efe63e"/>
<path d="M410 393C426.67 373 451.67 338.83 480 310C508.33 281.17 546.67 245 580 220C613.33 195 646.67 175.83 680 160C713.33 144.17 755 132 780 125C805 118 813.33 120.5 830 118L830 118C829.17 131.67 823.33 173 825 200C826.67 227 835.83 259.17 840 280C844.17 300.83 848.33 317.5 850 325L850 325C841.67 327.5 819.17 333.33 800 340C780.83 346.67 745.83 360.83 735 365L735 365C719.17 362.5 669.17 352 640 350C610.83 348 583.33 350.33 560 353C536.67 355.67 520 359.5 500 366C480 372.5 455 387.5 440 392C425 396.5 415 392.83 410 393Z" fill="#efe23c"/>
<path d="M735 365C745.83 360.83 780.83 346.67 800 340C819.17 333.33 841.67 327.5 850 325L850 325C861.67 325.83 895 322.5 920 330C945 337.5 976.67 351.67 1000 370C1023.33 388.33 1041.67 415 1060 440C1078.33 465 1095 493.33 1110 520C1125 546.67 1140 573.33 1150 600C1160 626.67 1165 653.33 1170 680C1175 706.67 1181.17 738.33 1180 760C1178.83 781.67 1165.83 801.67 1163 810L1163 810C1153.83 813.67 1122.17 829 1108 832C1093.83 835 1086.33 827 1078 828C1069.67 829 1064.33 839.33 1058 838C1051.67 836.67 1056.33 829.67 1040 820C1023.67 810.33 983.33 788.33 960 780C936.67 771.67 918.33 775.83 900 770C881.67 764.17 864.17 750.5 850 745C835.83 739.5 824.17 735.33 815 737C805.83 738.67 807.5 752.5 795 755C782.5 757.5 749.17 752.5 740 752L740 752C733.33 743.33 708.33 725.33 700 700C691.67 674.67 693.33 633.33 690 600C686.67 566.67 680 530 680 500C680 470 680.83 442.5 690 420C699.17 397.5 727.5 374.17 735 365Z" fill="#efe43e"/>
<path d="M830 118C846.67 115.5 865.33 111.67 880 110C894.67 108.33 898 108.33 918 108C938 107.67 975 107 1000 108L1000 108C1005.5 121.67 1015 164.67 1033 190C1051 215.33 1082.17 235 1108 260C1133.83 285 1163 310 1188 340C1213 370 1238 406.67 1258 440C1278 473.33 1295.5 506.67 1308 540C1320.5 573.33 1326.33 606.67 1333 640C1339.67 673.33 1342.17 708.33 1348 740C1353.83 771.67 1360.5 810 1368 830C1375.5 850 1388.83 855 1393 860L1393 860C1382.17 858.33 1352.17 855.83 1328 850C1303.83 844.17 1275.5 831.67 1248 825C1220.5 818.33 1177.17 812.5 1163 810L1163 810C1165.83 801.67 1178.83 781.67 1180 760C1181.17 738.33 1175 706.67 1170 680C1165 653.33 1160 626.67 1150 600C1140 573.33 1125 546.67 1110 520C1095 493.33 1078.33 465 1060 440C1041.67 415 1023.33 388.33 1000 370C976.67 351.67 945 337.5 920 330C895 322.5 861.67 325.83 850 325L850 325C848.33 317.5 844.17 300.83 840 280C835.83 259.17 826.67 227 825 200C823.33 173 829.17 131.67 830 118Z" fill="#efd03a"/>
<path d="M1000 108C1025 109 1043 111.67 1068 114C1093 116.33 1125 117.67 1150 122C1175 126.33 1191.67 132.83 1218 140C1244.33 147.17 1283 158 1308 165L1308 165C1323 179.17 1373 220.83 1398 250C1423 279.17 1443 311.67 1458 340C1473 368.33 1474.67 391.67 1488 420C1501.33 448.33 1521.33 480 1538 510C1554.67 540 1583 568.33 1588 600C1593 631.67 1578 670 1568 700C1558 730 1538 751.67 1528 780C1518 808.33 1513 853.33 1508 870C1503 886.67 1499.67 878.33 1498 880L1498 880C1489.67 880 1465.5 883.33 1448 880C1430.5 876.67 1402.17 863.33 1393 860L1393 860C1388.83 855 1375.5 850 1368 830C1360.5 810 1353.83 771.67 1348 740C1342.17 708.33 1339.67 673.33 1333 640C1326.33 606.67 1320.5 573.33 1308 540C1295.5 506.67 1278 473.33 1258 440C1238 406.67 1213 370 1188 340C1163 310 1133.83 285 1108 260C1082.17 235 1051 215.33 1033 190C1015 164.67 1005.5 121.67 1000 108Z" fill="#efc436"/>
<path d="M1308 165C1333 172 1333 169.5 1368 182C1403 194.5 1468 217 1518 240C1568 263 1623 291.67 1668 320C1713 348.33 1751.33 380 1788 410L1778 435C1759.67 424.17 1703 390.83 1668 370C1633 349.17 1601.33 327.5 1568 310C1534.67 292.5 1496.33 275 1468 265C1439.67 255 1409.67 252.5 1398 250L1398 250L1308 165Z" fill="#f19a2e"/>
<path d="M1398 250C1409.67 252.5 1439.67 255 1468 265C1496.33 275 1534.67 292.5 1568 310C1601.33 327.5 1633 349.17 1668 370C1703 390.83 1759.67 424.17 1778 435L1778 435C1773.83 442.5 1756.33 465.83 1753 480C1749.67 494.17 1763.83 505 1758 520C1752.17 535 1725.5 555 1718 570C1710.5 585 1714.67 599.17 1713 610C1711.33 620.83 1708.83 630.83 1708 635L1708 635C1698 631.67 1668 620.83 1648 615C1628 609.17 1598 602.5 1588 600L1588 600C1579.67 585 1554.67 540 1538 510C1521.33 480 1501.33 448.33 1488 420C1474.67 391.67 1473 368.33 1458 340C1443 311.67 1408 265 1398 250Z" fill="#f19c2e"/>
<path d="M1778 435L1788 410L1788 410C1824.67 440 1858 470 1888 500C1918 530 1943 558.33 1968 590C1993 621.67 2016.33 656.67 2038 690C2059.67 723.33 2081.33 758.33 2098 790C2114.67 821.67 2128.83 851.67 2138 880C2147.17 908.33 2152.17 935 2153 960C2153.83 985 2150.5 1008.33 2143 1030C2135.5 1051.67 2122.17 1071.67 2108 1090C2093.83 1108.33 2069.33 1130 2058 1140C2046.67 1150 2049.67 1145 2040 1150L2040 1150C2043.83 1141.67 2058.33 1114.17 2063 1100C2067.67 1085.83 2070.5 1075 2068 1065C2065.5 1055 2051.33 1044.17 2048 1040L2048 1040C2045.5 1033.33 2039.67 1020 2033 1000C2026.33 980 2018.83 945 2008 920C1997.17 895 1986.33 867.5 1968 850C1949.67 832.5 1923 823.33 1898 815C1873 806.67 1831.33 802.5 1818 800L1818 800C1816.33 796.67 1818 796.67 1808 780C1798 763.33 1774.67 724.17 1758 700C1741.33 675.83 1716.33 645.83 1708 635L1708 635C1708.83 630.83 1711.33 620.83 1713 610C1714.67 599.17 1710.5 585 1718 570C1725.5 555 1752.17 535 1758 520C1763.83 505 1749.67 494.17 1753 480C1756.33 465.83 1773.83 442.5 1778 435Z" fill="#f0a630"/>
<path d="M1588 600C1598 602.5 1628 609.17 1648 615C1668 620.83 1698 631.67 1708 635L1708 635C1716.33 645.83 1741.33 675.83 1758 700C1774.67 724.17 1798 763.33 1808 780C1818 796.67 1816.33 796.67 1818 800L1818 800C1809.67 806.67 1784.67 825 1768 840C1751.33 855 1734.67 873.33 1718 890C1701.33 906.67 1679.67 928 1668 940C1656.33 952 1651.33 958.33 1648 962L1648 962C1638 955 1608 932 1588 920C1568 908 1543 896.67 1528 890C1513 883.33 1503 881.67 1498 880L1498 880C1499.67 878.33 1503 886.67 1508 870C1513 853.33 1518 808.33 1528 780C1538 751.67 1558 730 1568 700C1578 670 1584.67 616.67 1588 600Z" fill="#efc436"/>
<path d="M1818 800C1831.33 802.5 1873 806.67 1898 815C1923 823.33 1949.67 832.5 1968 850C1986.33 867.5 1997.17 895 2008 920C2018.83 945 2026.33 980 2033 1000C2039.67 1020 2045.5 1033.33 2048 1040L2048 1040C2034.67 1042.5 1998 1049.17 1968 1055C1938 1060.83 1894.67 1070 1868 1075C1841.33 1080 1818 1083.33 1808 1085L1808 1085C1799.67 1080.83 1774.67 1070.83 1758 1060C1741.33 1049.17 1724.67 1032.5 1708 1020C1691.33 1007.5 1668 994.67 1658 985C1648 975.33 1649.67 965.83 1648 962L1648 962C1651.33 958.33 1656.33 952 1668 940C1679.67 928 1701.33 906.67 1718 890C1734.67 873.33 1751.33 855 1768 840C1784.67 825 1809.67 806.67 1818 800Z" fill="#efbc34"/>
<path d="M1808 1085C1818 1083.33 1841.33 1080 1868 1075C1894.67 1070 1938 1060.83 1968 1055C1998 1049.17 2034.67 1042.5 2048 1040L2048 1040C2051.33 1044.17 2065.5 1055 2068 1065C2070.5 1075 2067.67 1085.83 2063 1100C2058.33 1114.17 2043.83 1141.67 2040 1150L2040 1150C2031.33 1150.33 2008.33 1152 1988 1152C1967.67 1152 1939.67 1153.67 1918 1150C1896.33 1146.33 1874.67 1137.5 1858 1130C1841.33 1122.5 1826.33 1112.5 1818 1105C1809.67 1097.5 1809.67 1088.33 1808 1085Z" fill="#efbe34"/>
<path d="M1648 962C1649.67 965.83 1648 975.33 1658 985C1668 994.67 1691.33 1007.5 1708 1020C1724.67 1032.5 1741.33 1049.17 1758 1060C1774.67 1070.83 1799.67 1080.83 1808 1085L1808 1085C1809.67 1088.33 1809.67 1097.5 1818 1105C1826.33 1112.5 1841.33 1122.5 1858 1130C1874.67 1137.5 1896.33 1146.33 1918 1150C1939.67 1153.67 1967.67 1152 1988 1152C2008.33 1152 2031.33 1150.33 2040 1150L2040 1150C2030.33 1155 2020.33 1162.5 2000 1170C1979.67 1177.5 1948.33 1187.5 1918 1195C1887.67 1202.5 1851.33 1209.5 1818 1215C1784.67 1220.5 1745.5 1223.67 1718 1228C1690.5 1232.33 1673 1236.17 1653 1241L1653 1241C1655.5 1232.17 1663.83 1210.17 1668 1188C1672.17 1165.83 1677.17 1134.67 1678 1108C1678.83 1081.33 1678 1052.33 1673 1028C1668 1003.67 1652.17 973 1648 962Z" fill="#efb634"/>
<path d="M403 1048C417.17 1054.67 457.17 1069.67 488 1088C518.83 1106.33 554.67 1134.67 588 1158C621.33 1181.33 654.67 1206.33 688 1228C721.33 1249.67 754.67 1268.83 788 1288C821.33 1307.17 854.67 1325.5 888 1343C921.33 1360.5 954.67 1377.17 988 1393C1021.33 1408.83 1054.67 1424.67 1088 1438C1121.33 1451.33 1154.67 1463 1188 1473C1221.33 1483 1261.33 1492.17 1288 1498C1314.67 1503.83 1338 1506.33 1348 1508L1348 1508C1334.67 1508.83 1314.67 1510.5 1288 1508C1261.33 1505.5 1221.33 1499.67 1188 1493C1154.67 1486.33 1121.33 1477.17 1088 1468C1054.67 1458.83 1021.33 1448.83 988 1438C954.67 1427.17 921.33 1415.5 888 1403C854.67 1390.5 821.33 1376.33 788 1363C754.67 1349.67 721.33 1337.17 688 1323C654.67 1308.83 621.33 1293 588 1278C554.67 1263 520.5 1247.67 488 1233C455.5 1218.33 426.33 1200.83 393 1190L393 1190C393.83 1178.33 396.33 1143.67 398 1120C399.67 1096.33 402.17 1060 403 1048Z" fill="#f0ee40"/>
<path d="M394 960C401.33 953 419 928.33 438 918C457 907.67 483 901.33 508 898C533 894.67 565.17 894.83 588 898C610.83 901.17 635.5 913.83 645 917L645 917C648 927.17 655.83 959.5 663 978C670.17 996.5 677.17 1013.83 688 1028C698.83 1042.17 711.33 1054.67 728 1063C744.67 1071.33 768 1076.33 788 1078C808 1079.67 833 1074.67 848 1073C863 1071.33 873 1068.83 878 1068L878 1068C888 1074.67 911.33 1091.33 938 1108C964.67 1124.67 1004.67 1148 1038 1168C1071.33 1188 1104.67 1208 1138 1228C1171.33 1248 1204.67 1266.33 1238 1288C1271.33 1309.67 1309.67 1338 1338 1358C1366.33 1378 1388.83 1393.83 1408 1408C1427.17 1422.17 1445.5 1437.17 1453 1443L1453 1443C1443 1457.17 1432.17 1473 1418 1483C1403.83 1493 1379.67 1498.83 1368 1503C1356.33 1507.17 1361.33 1507.17 1348 1508L1348 1508C1338 1506.33 1314.67 1503.83 1288 1498C1261.33 1492.17 1221.33 1483 1188 1473C1154.67 1463 1121.33 1451.33 1088 1438C1054.67 1424.67 1021.33 1408.83 988 1393C954.67 1377.17 921.33 1360.5 888 1343C854.67 1325.5 821.33 1307.17 788 1288C754.67 1268.83 721.33 1249.67 688 1228C654.67 1206.33 621.33 1181.33 588 1158C554.67 1134.67 518.83 1106.33 488 1088C457.17 1069.67 417.17 1054.67 403 1048L403 1048L394 960Z" fill="#f0ec40"/>
<path d="M795 755C798.33 752 805.83 738.67 815 737C824.17 735.33 835.83 739.5 850 745C864.17 750.5 881.67 764.17 900 770C918.33 775.83 936.67 771.67 960 780C983.33 788.33 1023.67 810.33 1040 820C1056.33 829.67 1055 835 1058 838L1058 838C1063 848 1074.67 876.33 1088 898C1101.33 919.67 1121.33 946.33 1138 968C1154.67 989.67 1173.83 1013.83 1188 1028C1202.17 1042.17 1217.17 1048.83 1223 1053L1223 1053C1225.83 1047.5 1235.83 1030 1240 1020C1244.17 1010 1246.67 997.5 1248 993L1248 993C1254.67 998.83 1268 1008.83 1288 1028C1308 1047.17 1343 1084.67 1368 1108C1393 1131.33 1418 1149.67 1438 1168C1458 1186.33 1473.83 1201.33 1488 1218C1502.17 1234.67 1514.67 1256 1523 1268C1531.33 1280 1535.5 1286.33 1538 1290L1538 1290C1531.33 1294.5 1524.67 1300.33 1518 1310C1511.33 1319.67 1504.67 1333.33 1498 1348C1491.33 1362.67 1485.5 1382.17 1478 1398C1470.5 1413.83 1463 1428.83 1453 1443L1453 1443C1445.5 1437.17 1427.17 1422.17 1408 1408C1388.83 1393.83 1366.33 1378 1338 1358C1309.67 1338 1271.33 1309.67 1238 1288C1204.67 1266.33 1171.33 1248 1138 1228C1104.67 1208 1071.33 1188 1038 1168C1004.67 1148 964.67 1124.67 938 1108C911.33 1091.33 888 1074.67 878 1068L878 1068C873.83 1061.33 858.83 1041.33 853 1028C847.17 1014.67 841.33 1003 843 988C844.67 973 858.83 954.67 863 938C867.17 921.33 870.5 904.67 868 888C865.5 871.33 856.33 854.67 848 838C839.67 821.33 825.5 799.67 818 788C810.5 776.33 806.83 773.5 803 768C799.17 762.5 796.33 757.17 795 755Z" fill="#efe63e"/>
<path d="M1108 832C1117.17 828.33 1139.67 811.17 1163 810C1186.33 808.83 1220.5 818.33 1248 825C1275.5 831.67 1303.83 844.17 1328 850C1352.17 855.83 1373 855 1393 860C1413 865 1430.5 876.67 1448 880C1465.5 883.33 1484.67 878.33 1498 880C1511.33 881.67 1513 883.33 1528 890C1543 896.67 1568 908 1588 920C1608 932 1638 955 1648 962L1648 962C1652.17 973 1668 1003.67 1673 1028C1678 1052.33 1678.83 1081.33 1678 1108C1677.17 1134.67 1672.17 1165.83 1668 1188C1663.83 1210.17 1655.5 1232.17 1653 1241L1653 1241C1633 1245.83 1613.83 1250 1598 1257C1582.17 1264 1568 1277.5 1558 1283C1548 1288.5 1544.67 1285.5 1538 1290L1538 1290C1535.5 1286.33 1531.33 1280 1523 1268C1514.67 1256 1502.17 1234.67 1488 1218C1473.83 1201.33 1458 1186.33 1438 1168C1418 1149.67 1393 1131.33 1368 1108C1343 1084.67 1308 1047.17 1288 1028C1268 1008.83 1254.67 998.83 1248 993L1248 993L1223 1008L1223 1008C1217.17 996.33 1200.5 959.67 1188 938C1175.5 916.33 1161.33 895.67 1148 878C1134.67 860.33 1114.67 839.67 1108 832Z" fill="#efcc38"/>
<path d="M740 752L795 755L795 755C796.33 757.17 799.17 762.5 803 768C806.83 773.5 810.5 776.33 818 788C825.5 799.67 839.67 821.33 848 838C856.33 854.67 865.5 871.33 868 888C870.5 904.67 867.17 921.33 863 938C858.83 954.67 844.67 973 843 988C841.33 1003 847.17 1014.67 853 1028C858.83 1041.33 873.83 1061.33 878 1068L878 1068C873 1068.83 863 1071.33 848 1073C833 1074.67 808 1079.67 788 1078C768 1076.33 744.67 1071.33 728 1063C711.33 1054.67 698.83 1042.17 688 1028C677.17 1013.83 670.17 996.5 663 978C655.83 959.5 648 927.17 645 917L645 917C650.83 912.5 670.83 904.5 680 890C689.17 875.5 690 853 700 830C710 807 733.33 765 740 752Z" fill="#f1f242"/>
<path d="M1058 838C1063 848 1074.67 876.33 1088 898C1101.33 919.67 1121.33 946.33 1138 968C1154.67 989.67 1173.83 1013.83 1188 1028C1202.17 1042.17 1217.17 1048.83 1223 1053L1223 1053L1223 1008L1223 1008C1217.17 996.33 1200.5 959.67 1188 938C1175.5 916.33 1161.33 895.67 1148 878C1134.67 860.33 1114.67 839.67 1108 832L1108 832C1103 831.33 1086.33 827 1078 828C1069.67 829 1061.33 836.33 1058 838Z" fill="#f0ea40"/>
<path d="M90 960C86 937.5 84.33 923.33 86 905C87.67 886.67 91 870.83 100 850C109 829.17 122.5 805 140 780C157.5 755 181.67 735 205 700C228.33 665 250.83 615 280 570C309.17 525 358.33 459.5 380 430C401.67 400.5 393.33 413 410 393C426.67 373 451.67 338.83 480 310C508.33 281.17 546.67 245 580 220C613.33 195 646.67 175.83 680 160C713.33 144.17 755 132 780 125C805 118 813.33 120.5 830 118C846.67 115.5 865.33 111.67 880 110C894.67 108.33 898 108.33 918 108C938 107.67 975 107 1000 108C1025 109 1043 111.67 1068 114C1093 116.33 1125 117.67 1150 122C1175 126.33 1191.67 132.83 1218 140C1244.33 147.17 1283 158 1308 165C1333 172 1333 169.5 1368 182C1403 194.5 1468 217 1518 240C1568 263 1623 291.67 1668 320C1713 348.33 1751.33 380 1788 410C1824.67 440 1858 470 1888 500C1918 530 1943 558.33 1968 590C1993 621.67 2016.33 656.67 2038 690C2059.67 723.33 2081.33 758.33 2098 790C2114.67 821.67 2128.83 851.67 2138 880C2147.17 908.33 2152.17 935 2153 960C2153.83 985 2150.5 1008.33 2143 1030C2135.5 1051.67 2122.17 1071.67 2108 1090C2093.83 1108.33 2069.33 1130 2058 1140C2046.67 1150 2049.67 1145 2040 1150C2030.33 1155 2020.33 1162.5 2000 1170C1979.67 1177.5 1948.33 1187.5 1918 1195C1887.67 1202.5 1851.33 1209.5 1818 1215C1784.67 1220.5 1745.5 1223.67 1718 1228C1690.5 1232.33 1673 1236.17 1653 1241C1633 1245.83 1613.83 1250 1598 1257C1582.17 1264 1568 1277.5 1558 1283C1548 1288.5 1544.67 1285.5 1538 1290C1531.33 1294.5 1524.67 1300.33 1518 1310C1511.33 1319.67 1504.67 1333.33 1498 1348C1491.33 1362.67 1485.5 1382.17 1478 1398C1470.5 1413.83 1463 1428.83 1453 1443C1443 1457.17 1432.17 1473 1418 1483C1403.83 1493 1379.67 1498.83 1368 1503C1356.33 1507.17 1361.33 1507.17 1348 1508C1334.67 1508.83 1314.67 1510.5 1288 1508C1261.33 1505.5 1221.33 1499.67 1188 1493C1154.67 1486.33 1121.33 1477.17 1088 1468C1054.67 1458.83 1021.33 1448.83 988 1438C954.67 1427.17 921.33 1415.5 888 1403C854.67 1390.5 821.33 1376.33 788 1363C754.67 1349.67 721.33 1337.17 688 1323C654.67 1308.83 621.33 1293 588 1278C554.67 1263 520.5 1247.67 488 1233C455.5 1218.33 426.33 1200.83 393 1190C359.67 1179.17 311.83 1174.67 288 1168C264.17 1161.33 271.33 1161.33 250 1150C228.67 1138.67 183.33 1118.33 160 1100C136.67 1081.67 121.67 1063.33 110 1040C98.33 1016.67 94 982.5 90 960Z" fill="none" stroke="#4a4420" stroke-opacity="0.8" stroke-width="9"/>
</g>
<g transform="translate(1329.13 26.58) scale(0.08333 0.08167)" stroke="#2c2a00" stroke-opacity="0.72" stroke-width="7.5" stroke-linejoin="round">
<path d="M90 960C86 937.5 84.33 923.33 86 905C87.67 886.67 91 870.83 100 850C109 829.17 122.5 805 140 780C157.5 755 181.67 735 205 700C228.33 665 250.83 615 280 570C309.17 525 358.33 459.5 380 430C401.67 400.5 393.33 413 410 393C426.67 373 451.67 338.83 480 310C508.33 281.17 546.67 245 580 220C613.33 195 646.67 175.83 680 160C713.33 144.17 755 132 780 125C805 118 813.33 120.5 830 118C846.67 115.5 865.33 111.67 880 110C894.67 108.33 898 108.33 918 108C938 107.67 975 107 1000 108C1025 109 1043 111.67 1068 114C1093 116.33 1125 117.67 1150 122C1175 126.33 1191.67 132.83 1218 140C1244.33 147.17 1283 158 1308 165C1333 172 1333 169.5 1368 182C1403 194.5 1468 217 1518 240C1568 263 1623 291.67 1668 320C1713 348.33 1751.33 380 1788 410C1824.67 440 1858 470 1888 500C1918 530 1943 558.33 1968 590C1993 621.67 2016.33 656.67 2038 690C2059.67 723.33 2081.33 758.33 2098 790C2114.67 821.67 2128.83 851.67 2138 880C2147.17 908.33 2152.17 935 2153 960C2153.83 985 2150.5 1008.33 2143 1030C2135.5 1051.67 2122.17 1071.67 2108 1090C2093.83 1108.33 2069.33 1130 2058 1140C2046.67 1150 2049.67 1145 2040 1150C2030.33 1155 2020.33 1162.5 2000 1170C1979.67 1177.5 1948.33 1187.5 1918 1195C1887.67 1202.5 1851.33 1209.5 1818 1215C1784.67 1220.5 1745.5 1223.67 1718 1228C1690.5 1232.33 1673 1236.17 1653 1241C1633 1245.83 1613.83 1250 1598 1257C1582.17 1264 1568 1277.5 1558 1283C1548 1288.5 1544.67 1285.5 1538 1290C1531.33 1294.5 1524.67 1300.33 1518 1310C1511.33 1319.67 1504.67 1333.33 1498 1348C1491.33 1362.67 1485.5 1382.17 1478 1398C1470.5 1413.83 1463 1428.83 1453 1443C1443 1457.17 1432.17 1473 1418 1483C1403.83 1493 1379.67 1498.83 1368 1503C1356.33 1507.17 1361.33 1507.17 1348 1508C1334.67 1508.83 1314.67 1510.5 1288 1508C1261.33 1505.5 1221.33 1499.67 1188 1493C1154.67 1486.33 1121.33 1477.17 1088 1468C1054.67 1458.83 1021.33 1448.83 988 1438C954.67 1427.17 921.33 1415.5 888 1403C854.67 1390.5 821.33 1376.33 788 1363C754.67 1349.67 721.33 1337.17 688 1323C654.67 1308.83 621.33 1293 588 1278C554.67 1263 520.5 1247.67 488 1233C455.5 1218.33 426.33 1200.83 393 1190C359.67 1179.17 311.83 1174.67 288 1168C264.17 1161.33 271.33 1161.33 250 1150C228.67 1138.67 183.33 1118.33 160 1100C136.67 1081.67 121.67 1063.33 110 1040C98.33 1016.67 94 982.5 90 960Z" fill="#efa830" stroke="none"/>
<path d="M393 1190C359.67 1179.17 311.83 1174.67 288 1168C264.17 1161.33 271.33 1161.33 250 1150C228.67 1138.67 183.33 1118.33 160 1100C136.67 1081.67 121.67 1063.33 110 1040C98.33 1016.67 94 982.5 90 960C86 937.5 84.33 923.33 86 905C87.67 886.67 91 870.83 100 850C109 829.17 122.5 805 140 780C157.5 755 181.67 735 205 700L205 700C206.67 711.67 207.5 745 215 770C222.5 795 234.17 825 250 850C265.83 875 290 904.17 310 920C330 935.83 356 938.33 370 945C384 951.67 390 957.5 394 960L394 960C395.5 974.67 402.33 1021.33 403 1048C403.67 1074.67 399.67 1096.33 398 1120C396.33 1143.67 393.83 1178.33 393 1190Z" fill="#f3922a"/>
<path d="M205 700C228.33 665 250.83 615 280 570C309.17 525 358.33 459.5 380 430C401.67 400.5 393.33 413 410 393L410 393C415 392.83 425 396.5 440 392C455 387.5 480 372.5 500 366C520 359.5 536.67 355.67 560 353C583.33 350.33 610.83 348 640 350C669.17 352 719.17 362.5 735 365L735 365C727.5 374.17 699.17 397.5 690 420C680.83 442.5 680 470 680 500C680 530 686.67 566.67 690 600C693.33 633.33 691.67 674.67 700 700C708.33 725.33 733.33 743.33 740 752L740 752C733.33 765 710 807 700 830C690 853 689.17 875.5 680 890C670.83 904.5 650.83 912.5 645 917L645 917C635.5 913.83 610.83 901.17 588 898C565.17 894.83 533 894.67 508 898C483 901.33 457 907.67 438 918C419 928.33 401.33 953 394 960L394 960C390 957.5 384 951.67 370 945C356 938.33 330 935.83 310 920C290 904.17 265.83 875 250 850C234.17 825 222.5 795 215 770C207.5 745 206.67 711.67 205 700Z" fill="#efb032"/>
<path d="M410 393C426.67 373 451.67 338.83 480 310C508.33 281.17 546.67 245 580 220C613.33 195 646.67 175.83 680 160C713.33 144.17 755 132 780 125C805 118 813.33 120.5 830 118L830 118C829.17 131.67 823.33 173 825 200C826.67 227 835.83 259.17 840 280C844.17 300.83 848.33 317.5 850 325L850 325C841.67 327.5 819.17 333.33 800 340C780.83 346.67 745.83 360.83 735 365L735 365C719.17 362.5 669.17 352 640 350C610.83 348 583.33 350.33 560 353C536.67 355.67 520 359.5 500 366C480 372.5 455 387.5 440 392C425 396.5 415 392.83 410 393Z" fill="#efb232"/>
<path d="M735 365C745.83 360.83 780.83 346.67 800 340C819.17 333.33 841.67 327.5 850 325L850 325C861.67 325.83 895 322.5 920 330C945 337.5 976.67 351.67 1000 370C1023.33 388.33 1041.67 415 1060 440C1078.33 465 1095 493.33 1110 520C1125 546.67 1140 573.33 1150 600C1160 626.67 1165 653.33 1170 680C1175 706.67 1181.17 738.33 1180 760C1178.83 781.67 1165.83 801.67 1163 810L1163 810C1153.83 813.67 1122.17 829 1108 832C1093.83 835 1086.33 827 1078 828C1069.67 829 1064.33 839.33 1058 838C1051.67 836.67 1056.33 829.67 1040 820C1023.67 810.33 983.33 788.33 960 780C936.67 771.67 918.33 775.83 900 770C881.67 764.17 864.17 750.5 850 745C835.83 739.5 824.17 735.33 815 737C805.83 738.67 807.5 752.5 795 755C782.5 757.5 749.17 752.5 740 752L740 752C733.33 743.33 708.33 725.33 700 700C691.67 674.67 693.33 633.33 690 600C686.67 566.67 680 530 680 500C680 470 680.83 442.5 690 420C699.17 397.5 727.5 374.17 735 365Z" fill="#efb434"/>
<path d="M830 118C846.67 115.5 865.33 111.67 880 110C894.67 108.33 898 108.33 918 108C938 107.67 975 107 1000 108L1000 108C1005.5 121.67 1015 164.67 1033 190C1051 215.33 1082.17 235 1108 260C1133.83 285 1163 310 1188 340C1213 370 1238 406.67 1258 440C1278 473.33 1295.5 506.67 1308 540C1320.5 573.33 1326.33 606.67 1333 640C1339.67 673.33 1342.17 708.33 1348 740C1353.83 771.67 1360.5 810 1368 830C1375.5 850 1388.83 855 1393 860L1393 860C1382.17 858.33 1352.17 855.83 1328 850C1303.83 844.17 1275.5 831.67 1248 825C1220.5 818.33 1177.17 812.5 1163 810L1163 810C1165.83 801.67 1178.83 781.67 1180 760C1181.17 738.33 1175 706.67 1170 680C1165 653.33 1160 626.67 1150 600C1140 573.33 1125 546.67 1110 520C1095 493.33 1078.33 465 1060 440C1041.67 415 1023.33 388.33 1000 370C976.67 351.67 945 337.5 920 330C895 322.5 861.67 325.83 850 325L850 325C848.33 317.5 844.17 300.83 840 280C835.83 259.17 826.67 227 825 200C823.33 173 829.17 131.67 830 118Z" fill="#f0a22e"/>
<path d="M1000 108C1025 109 1043 111.67 1068 114C1093 116.33 1125 117.67 1150 122C1175 126.33 1191.67 132.83 1218 140C1244.33 147.17 1283 158 1308 165L1308 165C1323 179.17 1373 220.83 1398 250C1423 279.17 1443 311.67 1458 340C1473 368.33 1474.67 391.67 1488 420C1501.33 448.33 1521.33 480 1538 510C1554.67 540 1583 568.33 1588 600C1593 631.67 1578 670 1568 700C1558 730 1538 751.67 1528 780C1518 808.33 1513 853.33 1508 870C1503 886.67 1499.67 878.33 1498 880L1498 880C1489.67 880 1465.5 883.33 1448 880C1430.5 876.67 1402.17 863.33 1393 860L1393 860C1388.83 855 1375.5 850 1368 830C1360.5 810 1353.83 771.67 1348 740C1342.17 708.33 1339.67 673.33 1333 640C1326.33 606.67 1320.5 573.33 1308 540C1295.5 506.67 1278 473.33 1258 440C1238 406.67 1213 370 1188 340C1163 310 1133.83 285 1108 260C1082.17 235 1051 215.33 1033 190C1015 164.67 1005.5 121.67 1000 108Z" fill="#f19a2c"/>
<path d="M1308 165C1333 172 1333 169.5 1368 182C1403 194.5 1468 217 1518 240C1568 263 1623 291.67 1668 320C1713 348.33 1751.33 380 1788 410L1778 435C1759.67 424.17 1703 390.83 1668 370C1633 349.17 1601.33 327.5 1568 310C1534.67 292.5 1496.33 275 1468 265C1439.67 255 1409.67 252.5 1398 250L1398 250L1308 165Z" fill="#f7701e"/>
<path d="M1398 250C1409.67 252.5 1439.67 255 1468 265C1496.33 275 1534.67 292.5 1568 310C1601.33 327.5 1633 349.17 1668 370C1703 390.83 1759.67 424.17 1778 435L1778 435C1773.83 442.5 1756.33 465.83 1753 480C1749.67 494.17 1763.83 505 1758 520C1752.17 535 1725.5 555 1718 570C1710.5 585 1714.67 599.17 1713 610C1711.33 620.83 1708.83 630.83 1708 635L1708 635C1698 631.67 1668 620.83 1648 615C1628 609.17 1598 602.5 1588 600L1588 600C1579.67 585 1554.67 540 1538 510C1521.33 480 1501.33 448.33 1488 420C1474.67 391.67 1473 368.33 1458 340C1443 311.67 1408 265 1398 250Z" fill="#f5822a"/>
<path d="M1778 435L1788 410L1788 410C1824.67 440 1858 470 1888 500C1918 530 1943 558.33 1968 590C1993 621.67 2016.33 656.67 2038 690C2059.67 723.33 2081.33 758.33 2098 790C2114.67 821.67 2128.83 851.67 2138 880C2147.17 908.33 2152.17 935 2153 960C2153.83 985 2150.5 1008.33 2143 1030C2135.5 1051.67 2122.17 1071.67 2108 1090C2093.83 1108.33 2069.33 1130 2058 1140C2046.67 1150 2049.67 1145 2040 1150L2040 1150C2043.83 1141.67 2058.33 1114.17 2063 1100C2067.67 1085.83 2070.5 1075 2068 1065C2065.5 1055 2051.33 1044.17 2048 1040L2048 1040C2045.5 1033.33 2039.67 1020 2033 1000C2026.33 980 2018.83 945 2008 920C1997.17 895 1986.33 867.5 1968 850C1949.67 832.5 1923 823.33 1898 815C1873 806.67 1831.33 802.5 1818 800L1818 800C1816.33 796.67 1818 796.67 1808 780C1798 763.33 1774.67 724.17 1758 700C1741.33 675.83 1716.33 645.83 1708 635L1708 635C1708.83 630.83 1711.33 620.83 1713 610C1714.67 599.17 1710.5 585 1718 570C1725.5 555 1752.17 535 1758 520C1763.83 505 1749.67 494.17 1753 480C1756.33 465.83 1773.83 442.5 1778 435Z" fill="#f67c22"/>
<path d="M1588 600C1598 602.5 1628 609.17 1648 615C1668 620.83 1698 631.67 1708 635L1708 635C1716.33 645.83 1741.33 675.83 1758 700C1774.67 724.17 1798 763.33 1808 780C1818 796.67 1816.33 796.67 1818 800L1818 800C1809.67 806.67 1784.67 825 1768 840C1751.33 855 1734.67 873.33 1718 890C1701.33 906.67 1679.67 928 1668 940C1656.33 952 1651.33 958.33 1648 962L1648 962C1638 955 1608 932 1588 920C1568 908 1543 896.67 1528 890C1513 883.33 1503 881.67 1498 880L1498 880C1499.67 878.33 1503 886.67 1508 870C1513 853.33 1518 808.33 1528 780C1538 751.67 1558 730 1568 700C1578 670 1584.67 616.67 1588 600Z" fill="#efa630"/>
<path d="M1818 800C1831.33 802.5 1873 806.67 1898 815C1923 823.33 1949.67 832.5 1968 850C1986.33 867.5 1997.17 895 2008 920C2018.83 945 2026.33 980 2033 1000C2039.67 1020 2045.5 1033.33 2048 1040L2048 1040C2034.67 1042.5 1998 1049.17 1968 1055C1938 1060.83 1894.67 1070 1868 1075C1841.33 1080 1818 1083.33 1808 1085L1808 1085C1799.67 1080.83 1774.67 1070.83 1758 1060C1741.33 1049.17 1724.67 1032.5 1708 1020C1691.33 1007.5 1668 994.67 1658 985C1648 975.33 1649.67 965.83 1648 962L1648 962C1651.33 958.33 1656.33 952 1668 940C1679.67 928 1701.33 906.67 1718 890C1734.67 873.33 1751.33 855 1768 840C1784.67 825 1809.67 806.67 1818 800Z" fill="#f0a02e"/>
<path d="M1808 1085C1818 1083.33 1841.33 1080 1868 1075C1894.67 1070 1938 1060.83 1968 1055C1998 1049.17 2034.67 1042.5 2048 1040L2048 1040C2051.33 1044.17 2065.5 1055 2068 1065C2070.5 1075 2067.67 1085.83 2063 1100C2058.33 1114.17 2043.83 1141.67 2040 1150L2040 1150C2031.33 1150.33 2008.33 1152 1988 1152C1967.67 1152 1939.67 1153.67 1918 1150C1896.33 1146.33 1874.67 1137.5 1858 1130C1841.33 1122.5 1826.33 1112.5 1818 1105C1809.67 1097.5 1809.67 1088.33 1808 1085Z" fill="#f0a830"/>
<path d="M1648 962C1649.67 965.83 1648 975.33 1658 985C1668 994.67 1691.33 1007.5 1708 1020C1724.67 1032.5 1741.33 1049.17 1758 1060C1774.67 1070.83 1799.67 1080.83 1808 1085L1808 1085C1809.67 1088.33 1809.67 1097.5 1818 1105C1826.33 1112.5 1841.33 1122.5 1858 1130C1874.67 1137.5 1896.33 1146.33 1918 1150C1939.67 1153.67 1967.67 1152 1988 1152C2008.33 1152 2031.33 1150.33 2040 1150L2040 1150C2030.33 1155 2020.33 1162.5 2000 1170C1979.67 1177.5 1948.33 1187.5 1918 1195C1887.67 1202.5 1851.33 1209.5 1818 1215C1784.67 1220.5 1745.5 1223.67 1718 1228C1690.5 1232.33 1673 1236.17 1653 1241L1653 1241C1655.5 1232.17 1663.83 1210.17 1668 1188C1672.17 1165.83 1677.17 1134.67 1678 1108C1678.83 1081.33 1678 1052.33 1673 1028C1668 1003.67 1652.17 973 1648 962Z" fill="#f19a2c"/>
<path d="M403 1048C417.17 1054.67 457.17 1069.67 488 1088C518.83 1106.33 554.67 1134.67 588 1158C621.33 1181.33 654.67 1206.33 688 1228C721.33 1249.67 754.67 1268.83 788 1288C821.33 1307.17 854.67 1325.5 888 1343C921.33 1360.5 954.67 1377.17 988 1393C1021.33 1408.83 1054.67 1424.67 1088 1438C1121.33 1451.33 1154.67 1463 1188 1473C1221.33 1483 1261.33 1492.17 1288 1498C1314.67 1503.83 1338 1506.33 1348 1508L1348 1508C1334.67 1508.83 1314.67 1510.5 1288 1508C1261.33 1505.5 1221.33 1499.67 1188 1493C1154.67 1486.33 1121.33 1477.17 1088 1468C1054.67 1458.83 1021.33 1448.83 988 1438C954.67 1427.17 921.33 1415.5 888 1403C854.67 1390.5 821.33 1376.33 788 1363C754.67 1349.67 721.33 1337.17 688 1323C654.67 1308.83 621.33 1293 588 1278C554.67 1263 520.5 1247.67 488 1233C455.5 1218.33 426.33 1200.83 393 1190L393 1190C393.83 1178.33 396.33 1143.67 398 1120C399.67 1096.33 402.17 1060 403 1048Z" fill="#f19c2c"/>
<path d="M394 960C401.33 953 419 928.33 438 918C457 907.67 483 901.33 508 898C533 894.67 565.17 894.83 588 898C610.83 901.17 635.5 913.83 645 917L645 917C648 927.17 655.83 959.5 663 978C670.17 996.5 677.17 1013.83 688 1028C698.83 1042.17 711.33 1054.67 728 1063C744.67 1071.33 768 1076.33 788 1078C808 1079.67 833 1074.67 848 1073C863 1071.33 873 1068.83 878 1068L878 1068C888 1074.67 911.33 1091.33 938 1108C964.67 1124.67 1004.67 1148 1038 1168C1071.33 1188 1104.67 1208 1138 1228C1171.33 1248 1204.67 1266.33 1238 1288C1271.33 1309.67 1309.67 1338 1338 1358C1366.33 1378 1388.83 1393.83 1408 1408C1427.17 1422.17 1445.5 1437.17 1453 1443L1453 1443C1443 1457.17 1432.17 1473 1418 1483C1403.83 1493 1379.67 1498.83 1368 1503C1356.33 1507.17 1361.33 1507.17 1348 1508L1348 1508C1338 1506.33 1314.67 1503.83 1288 1498C1261.33 1492.17 1221.33 1483 1188 1473C1154.67 1463 1121.33 1451.33 1088 1438C1054.67 1424.67 1021.33 1408.83 988 1393C954.67 1377.17 921.33 1360.5 888 1343C854.67 1325.5 821.33 1307.17 788 1288C754.67 1268.83 721.33 1249.67 688 1228C654.67 1206.33 621.33 1181.33 588 1158C554.67 1134.67 518.83 1106.33 488 1088C457.17 1069.67 417.17 1054.67 403 1048L403 1048L394 960Z" fill="#efac30"/>
<path d="M795 755C798.33 752 805.83 738.67 815 737C824.17 735.33 835.83 739.5 850 745C864.17 750.5 881.67 764.17 900 770C918.33 775.83 936.67 771.67 960 780C983.33 788.33 1023.67 810.33 1040 820C1056.33 829.67 1055 835 1058 838L1058 838C1063 848 1074.67 876.33 1088 898C1101.33 919.67 1121.33 946.33 1138 968C1154.67 989.67 1173.83 1013.83 1188 1028C1202.17 1042.17 1217.17 1048.83 1223 1053L1223 1053C1225.83 1047.5 1235.83 1030 1240 1020C1244.17 1010 1246.67 997.5 1248 993L1248 993C1254.67 998.83 1268 1008.83 1288 1028C1308 1047.17 1343 1084.67 1368 1108C1393 1131.33 1418 1149.67 1438 1168C1458 1186.33 1473.83 1201.33 1488 1218C1502.17 1234.67 1514.67 1256 1523 1268C1531.33 1280 1535.5 1286.33 1538 1290L1538 1290C1531.33 1294.5 1524.67 1300.33 1518 1310C1511.33 1319.67 1504.67 1333.33 1498 1348C1491.33 1362.67 1485.5 1382.17 1478 1398C1470.5 1413.83 1463 1428.83 1453 1443L1453 1443C1445.5 1437.17 1427.17 1422.17 1408 1408C1388.83 1393.83 1366.33 1378 1338 1358C1309.67 1338 1271.33 1309.67 1238 1288C1204.67 1266.33 1171.33 1248 1138 1228C1104.67 1208 1071.33 1188 1038 1168C1004.67 1148 964.67 1124.67 938 1108C911.33 1091.33 888 1074.67 878 1068L878 1068C873.83 1061.33 858.83 1041.33 853 1028C847.17 1014.67 841.33 1003 843 988C844.67 973 858.83 954.67 863 938C867.17 921.33 870.5 904.67 868 888C865.5 871.33 856.33 854.67 848 838C839.67 821.33 825.5 799.67 818 788C810.5 776.33 806.83 773.5 803 768C799.17 762.5 796.33 757.17 795 755Z" fill="#efa830"/>
<path d="M1108 832C1117.17 828.33 1139.67 811.17 1163 810C1186.33 808.83 1220.5 818.33 1248 825C1275.5 831.67 1303.83 844.17 1328 850C1352.17 855.83 1373 855 1393 860C1413 865 1430.5 876.67 1448 880C1465.5 883.33 1484.67 878.33 1498 880C1511.33 881.67 1513 883.33 1528 890C1543 896.67 1568 908 1588 920C1608 932 1638 955 1648 962L1648 962C1652.17 973 1668 1003.67 1673 1028C1678 1052.33 1678.83 1081.33 1678 1108C1677.17 1134.67 1672.17 1165.83 1668 1188C1663.83 1210.17 1655.5 1232.17 1653 1241L1653 1241C1633 1245.83 1613.83 1250 1598 1257C1582.17 1264 1568 1277.5 1558 1283C1548 1288.5 1544.67 1285.5 1538 1290L1538 1290C1535.5 1286.33 1531.33 1280 1523 1268C1514.67 1256 1502.17 1234.67 1488 1218C1473.83 1201.33 1458 1186.33 1438 1168C1418 1149.67 1393 1131.33 1368 1108C1343 1084.67 1308 1047.17 1288 1028C1268 1008.83 1254.67 998.83 1248 993L1248 993L1223 1008L1223 1008C1217.17 996.33 1200.5 959.67 1188 938C1175.5 916.33 1161.33 895.67 1148 878C1134.67 860.33 1114.67 839.67 1108 832Z" fill="#f0a22e"/>
<path d="M740 752L795 755L795 755C796.33 757.17 799.17 762.5 803 768C806.83 773.5 810.5 776.33 818 788C825.5 799.67 839.67 821.33 848 838C856.33 854.67 865.5 871.33 868 888C870.5 904.67 867.17 921.33 863 938C858.83 954.67 844.67 973 843 988C841.33 1003 847.17 1014.67 853 1028C858.83 1041.33 873.83 1061.33 878 1068L878 1068C873 1068.83 863 1071.33 848 1073C833 1074.67 808 1079.67 788 1078C768 1076.33 744.67 1071.33 728 1063C711.33 1054.67 698.83 1042.17 688 1028C677.17 1013.83 670.17 996.5 663 978C655.83 959.5 648 927.17 645 917L645 917C650.83 912.5 670.83 904.5 680 890C689.17 875.5 690 853 700 830C710 807 733.33 765 740 752Z" fill="#efb232"/>
<path d="M1058 838C1063 848 1074.67 876.33 1088 898C1101.33 919.67 1121.33 946.33 1138 968C1154.67 989.67 1173.83 1013.83 1188 1028C1202.17 1042.17 1217.17 1048.83 1223 1053L1223 1053L1223 1008L1223 1008C1217.17 996.33 1200.5 959.67 1188 938C1175.5 916.33 1161.33 895.67 1148 878C1134.67 860.33 1114.67 839.67 1108 832L1108 832C1103 831.33 1086.33 827 1078 828C1069.67 829 1061.33 836.33 1058 838Z" fill="#efb434"/>
<path d="M90 960C86 937.5 84.33 923.33 86 905C87.67 886.67 91 870.83 100 850C109 829.17 122.5 805 140 780C157.5 755 181.67 735 205 700C228.33 665 250.83 615 280 570C309.17 525 358.33 459.5 380 430C401.67 400.5 393.33 413 410 393C426.67 373 451.67 338.83 480 310C508.33 281.17 546.67 245 580 220C613.33 195 646.67 175.83 680 160C713.33 144.17 755 132 780 125C805 118 813.33 120.5 830 118C846.67 115.5 865.33 111.67 880 110C894.67 108.33 898 108.33 918 108C938 107.67 975 107 1000 108C1025 109 1043 111.67 1068 114C1093 116.33 1125 117.67 1150 122C1175 126.33 1191.67 132.83 1218 140C1244.33 147.17 1283 158 1308 165C1333 172 1333 169.5 1368 182C1403 194.5 1468 217 1518 240C1568 263 1623 291.67 1668 320C1713 348.33 1751.33 380 1788 410C1824.67 440 1858 470 1888 500C1918 530 1943 558.33 1968 590C1993 621.67 2016.33 656.67 2038 690C2059.67 723.33 2081.33 758.33 2098 790C2114.67 821.67 2128.83 851.67 2138 880C2147.17 908.33 2152.17 935 2153 960C2153.83 985 2150.5 1008.33 2143 1030C2135.5 1051.67 2122.17 1071.67 2108 1090C2093.83 1108.33 2069.33 1130 2058 1140C2046.67 1150 2049.67 1145 2040 1150C2030.33 1155 2020.33 1162.5 2000 1170C1979.67 1177.5 1948.33 1187.5 1918 1195C1887.67 1202.5 1851.33 1209.5 1818 1215C1784.67 1220.5 1745.5 1223.67 1718 1228C1690.5 1232.33 1673 1236.17 1653 1241C1633 1245.83 1613.83 1250 1598 1257C1582.17 1264 1568 1277.5 1558 1283C1548 1288.5 1544.67 1285.5 1538 1290C1531.33 1294.5 1524.67 1300.33 1518 1310C1511.33 1319.67 1504.67 1333.33 1498 1348C1491.33 1362.67 1485.5 1382.17 1478 1398C1470.5 1413.83 1463 1428.83 1453 1443C1443 1457.17 1432.17 1473 1418 1483C1403.83 1493 1379.67 1498.83 1368 1503C1356.33 1507.17 1361.33 1507.17 1348 1508C1334.67 1508.83 1314.67 1510.5 1288 1508C1261.33 1505.5 1221.33 1499.67 1188 1493C1154.67 1486.33 1121.33 1477.17 1088 1468C1054.67 1458.83 1021.33 1448.83 988 1438C954.67 1427.17 921.33 1415.5 888 1403C854.67 1390.5 821.33 1376.33 788 1363C754.67 1349.67 721.33 1337.17 688 1323C654.67 1308.83 621.33 1293 588 1278C554.67 1263 520.5 1247.67 488 1233C455.5 1218.33 426.33 1200.83 393 1190C359.67 1179.17 311.83 1174.67 288 1168C264.17 1161.33 271.33 1161.33 250 1150C228.67 1138.67 183.33 1118.33 160 1100C136.67 1081.67 121.67 1063.33 110 1040C98.33 1016.67 94 982.5 90 960Z" fill="none" stroke="#4a4420" stroke-opacity="0.8" stroke-width="9"/>
</g>
<text transform="translate(1226.7 20.6) scale(0.88 1)" font-size="20.8" text-anchor="middle" font-weight="bold">Theta</text>
<path d="M925.2 176V718.7H1535.5" fill="none" stroke="#000" stroke-width="2.2" stroke-linejoin="miter"/>
<text transform="translate(877.2 256.3) scale(0.85 1)" font-size="22" text-anchor="middle" >0.45</text>
<text transform="translate(877.2 354.1) scale(0.85 1)" font-size="22" text-anchor="middle" >0.35</text>
<text transform="translate(877.2 453.9) scale(0.85 1)" font-size="22" text-anchor="middle" >0.25</text>
<text transform="translate(877.2 553.8) scale(0.85 1)" font-size="22" text-anchor="middle" >0.15</text>
<text transform="translate(877.2 652.8) scale(0.85 1)" font-size="22" text-anchor="middle" >0.05</text>
<text transform="translate(827.1 446.1) rotate(-90) scale(0.857 1)" font-size="21.5" text-anchor="middle">Theta-band relative power</text>
<text transform="translate(1040 748.6) scale(0.882 1)" font-size="21.7" text-anchor="middle" >Aβ-/Tau-</text>
<text transform="translate(1232.7 748.6) scale(0.882 1)" font-size="21.7" text-anchor="middle" >Aβ+/Tau-</text>
<text transform="translate(1422.7 748.6) scale(0.882 1)" font-size="21.7" text-anchor="middle" >Aβ+/Tau+</text>
<path d="M1038.6 218.3V209.8H1422.6V218.3" fill="none" stroke="#000" stroke-width="1.8"/>
<path d="M1231 243.5V235H1422.6V243.5" fill="none" stroke="#000" stroke-width="1.8"/>
<path d="M1038.6 268.6V260.1H1231V268.6" fill="none" stroke="#000" stroke-width="1.8"/>
<text transform="translate(1231.6 205) scale(0.88 1)" font-size="22.5" text-anchor="middle" font-style="italic">ns</text>
<text transform="translate(1135.8 254.6) scale(0.88 1)" font-size="22.5" text-anchor="middle" font-style="italic">ns</text>
<text transform="translate(1288.4 228.6) scale(0.9 1)" font-size="17.6"><tspan font-style="italic" font-size="19">p</tspan><tspan font-style="italic" font-size="12" dy="3.4" dx="-0.4" letter-spacing="-0.35">adj</tspan><tspan dy="-3.4" dx="3.3">=</tspan><tspan dx="4.2">0.013</tspan></text>
<path d="M1039.58 312.71C1039.69 313.92 1040.03 317.74 1040.21 320C1040.38 322.26 1040.38 323.47 1040.62 326.25C1040.87 329.03 1041.32 333.19 1041.67 336.67C1042.01 340.14 1042.29 343.61 1042.71 347.08C1043.12 350.56 1043.72 354.03 1044.17 357.5C1044.62 360.97 1045 364.44 1045.42 367.92C1045.83 371.39 1046.18 374.86 1046.67 378.33C1047.15 381.81 1047.85 385.28 1048.33 388.75C1048.82 392.22 1049.31 395.69 1049.58 399.17C1049.86 402.64 1049.97 406.11 1050 409.58C1050.03 413.06 1049.86 417.43 1049.79 420C1049.72 422.57 1049.51 423.12 1049.58 425C1049.65 426.88 1049.9 429.17 1050.21 431.25C1050.52 433.33 1050.73 435.42 1051.46 437.5C1052.19 439.58 1053.02 441.67 1054.58 443.75C1056.15 445.83 1058.44 447.92 1060.83 450C1063.23 452.08 1066.25 454.17 1068.96 456.25C1071.67 458.33 1074.48 460.42 1077.08 462.5C1079.69 464.58 1082.29 466.67 1084.58 468.75C1086.88 470.83 1089.06 472.92 1090.83 475C1092.6 477.08 1094.17 479.17 1095.21 481.25C1096.25 483.33 1096.7 485.62 1097.08 487.5C1097.47 489.38 1097.6 490.83 1097.5 492.5C1097.4 494.17 1097.15 495.62 1096.46 497.5C1095.76 499.38 1094.79 501.67 1093.33 503.75C1091.88 505.83 1089.79 507.92 1087.71 510C1085.62 512.08 1083.23 514.17 1080.83 516.25C1078.44 518.33 1075.73 520.42 1073.33 522.5C1070.94 524.58 1068.54 526.67 1066.46 528.75C1064.38 530.83 1062.5 532.92 1060.83 535C1059.17 537.08 1057.81 539.17 1056.46 541.25C1055.1 543.33 1053.85 545.42 1052.71 547.5C1051.56 549.58 1050.52 551.67 1049.58 553.75C1048.65 555.83 1047.92 557.47 1047.08 560C1046.25 562.53 1045.35 565.9 1044.58 568.96C1043.82 572.01 1043.06 575.38 1042.5 578.33C1041.94 581.28 1041.63 583.89 1041.25 586.67C1040.87 589.44 1040.49 592.4 1040.21 595C1039.93 597.6 1039.69 601.08 1039.58 602.29C1039.48 601.08 1039.24 597.6 1038.96 595C1038.68 592.4 1038.3 589.44 1037.92 586.67C1037.53 583.89 1037.22 581.28 1036.67 578.33C1036.11 575.38 1035.35 572.01 1034.58 568.96C1033.82 565.9 1032.92 562.53 1032.08 560C1031.25 557.47 1030.52 555.83 1029.58 553.75C1028.65 551.67 1027.6 549.58 1026.46 547.5C1025.31 545.42 1024.06 543.33 1022.71 541.25C1021.35 539.17 1020 537.08 1018.33 535C1016.67 532.92 1014.79 530.83 1012.71 528.75C1010.62 526.67 1008.23 524.58 1005.83 522.5C1003.44 520.42 1000.73 518.33 998.33 516.25C995.94 514.17 993.54 512.08 991.46 510C989.37 507.92 987.29 505.83 985.83 503.75C984.37 501.67 983.4 499.38 982.71 497.5C982.01 495.62 981.77 494.17 981.67 492.5C981.56 490.83 981.7 489.38 982.08 487.5C982.47 485.62 982.92 483.33 983.96 481.25C985 479.17 986.56 477.08 988.33 475C990.1 472.92 992.29 470.83 994.58 468.75C996.87 466.67 999.48 464.58 1002.08 462.5C1004.69 460.42 1007.5 458.33 1010.21 456.25C1012.92 454.17 1015.94 452.08 1018.33 450C1020.73 447.92 1023.02 445.83 1024.58 443.75C1026.15 441.67 1026.98 439.58 1027.71 437.5C1028.44 435.42 1028.65 433.33 1028.96 431.25C1029.27 429.17 1029.51 426.88 1029.58 425C1029.65 423.12 1029.44 422.57 1029.38 420C1029.31 417.43 1029.13 413.06 1029.17 409.58C1029.2 406.11 1029.31 402.64 1029.58 399.17C1029.86 395.69 1030.35 392.22 1030.83 388.75C1031.32 385.28 1032.01 381.81 1032.5 378.33C1032.99 374.86 1033.33 371.39 1033.75 367.92C1034.17 364.44 1034.55 360.97 1035 357.5C1035.45 354.03 1036.04 350.56 1036.46 347.08C1036.88 343.61 1037.15 340.14 1037.5 336.67C1037.85 333.19 1038.3 329.03 1038.54 326.25C1038.78 323.47 1038.78 322.26 1038.96 320C1039.13 317.74 1039.48 313.92 1039.58 312.71Z" fill="#5cbcf5" stroke="#1e1e1e" stroke-width="2.2" stroke-linejoin="round"/>
<path d="M1039.58 426.25V468.96M1039.58 509.58V564.79" stroke="#3a3636" stroke-width="2" fill="none"/>
<rect x="1010.62" y="468.96" width="57.92" height="40.62" fill="none" stroke="#3a3636" stroke-width="2.1"/>
<path d="M1010.62 490.21H1068.54" stroke="#3a3636" stroke-width="4.2"/>
<g fill="#000"><ellipse cx="1034.79" cy="350.21" rx="3.9" ry="3.25"/><ellipse cx="1028.75" cy="373.12" rx="3.9" ry="3.25"/><ellipse cx="1046.67" cy="391.46" rx="3.9" ry="3.25"/><ellipse cx="1038.75" cy="398.54" rx="3.9" ry="3.25"/><ellipse cx="1047.08" cy="407.92" rx="3.9" ry="3.25"/><ellipse cx="1032.08" cy="424.79" rx="3.9" ry="3.25"/><ellipse cx="1053.96" cy="426.88" rx="3.9" ry="3.25"/><ellipse cx="1022.29" cy="445.42" rx="3.9" ry="3.25"/><ellipse cx="1042.92" cy="450.21" rx="3.9" ry="3.25"/><ellipse cx="1021.67" cy="457.92" rx="3.9" ry="3.25"/><ellipse cx="1023.33" cy="468.96" rx="3.9" ry="3.25"/><ellipse cx="1030.62" cy="467.92" rx="3.9" ry="3.25"/><ellipse cx="1032.71" cy="472.08" rx="3.9" ry="3.25"/><ellipse cx="1053.96" cy="467.92" rx="3.9" ry="3.25"/><ellipse cx="1052.5" cy="473.12" rx="3.9" ry="3.25"/><ellipse cx="1050.83" cy="474.58" rx="3.9" ry="3.25"/><ellipse cx="1027.29" cy="480.42" rx="3.9" ry="3.25"/><ellipse cx="1027.29" cy="485" rx="3.9" ry="3.25"/><ellipse cx="1033.75" cy="484.58" rx="3.9" ry="3.25"/><ellipse cx="1046.25" cy="484.17" rx="3.9" ry="3.25"/><ellipse cx="1036.25" cy="488.33" rx="3.9" ry="3.25"/><ellipse cx="1041.46" cy="488.33" rx="3.9" ry="3.25"/><ellipse cx="1045.62" cy="488.75" rx="3.9" ry="3.25"/><ellipse cx="1031.04" cy="491.88" rx="3.9" ry="3.25"/><ellipse cx="1052.92" cy="490.42" rx="3.9" ry="3.25"/><ellipse cx="1027.92" cy="496.04" rx="3.9" ry="3.25"/><ellipse cx="1028.33" cy="498.12" rx="3.9" ry="3.25"/><ellipse cx="1049.17" cy="497.08" rx="3.9" ry="3.25"/><ellipse cx="1055" cy="498.12" rx="3.9" ry="3.25"/><ellipse cx="1051.88" cy="501.25" rx="3.9" ry="3.25"/><ellipse cx="1020" cy="502.29" rx="3.9" ry="3.25"/><ellipse cx="1022.71" cy="505.42" rx="3.9" ry="3.25"/><ellipse cx="1026.88" cy="507.5" rx="3.9" ry="3.25"/><ellipse cx="1039.38" cy="509.58" rx="3.9" ry="3.25"/><ellipse cx="1046.67" cy="507.92" rx="3.9" ry="3.25"/><ellipse cx="1044.58" cy="510.62" rx="3.9" ry="3.25"/><ellipse cx="1020" cy="514.38" rx="3.9" ry="3.25"/><ellipse cx="1023.75" cy="520" rx="3.9" ry="3.25"/><ellipse cx="1028.96" cy="522.08" rx="3.9" ry="3.25"/><ellipse cx="1044.58" cy="519.58" rx="3.9" ry="3.25"/><ellipse cx="1048.33" cy="523.12" rx="3.9" ry="3.25"/><ellipse cx="1054.58" cy="531.88" rx="3.9" ry="3.25"/><ellipse cx="1037.71" cy="538.33" rx="3.9" ry="3.25"/><ellipse cx="1028.33" cy="549.17" rx="3.9" ry="3.25"/><ellipse cx="1041.67" cy="548.75" rx="3.9" ry="3.25"/><ellipse cx="1046.04" cy="565.42" rx="3.9" ry="3.25"/></g>
<path d="M1230.17 415.33C1230.22 416.11 1230.36 418.39 1230.5 420C1230.64 421.61 1230.39 423.14 1231 425C1231.61 426.86 1232.92 429.08 1234.17 431.17C1235.42 433.25 1237.06 435.42 1238.5 437.5C1239.94 439.58 1241.47 441.58 1242.83 443.67C1244.19 445.75 1245.5 447.92 1246.67 450C1247.83 452.08 1248.47 454.08 1249.83 456.17C1251.19 458.25 1252.03 460.42 1254.83 462.5C1257.64 464.58 1262 466.58 1266.67 468.67C1271.33 470.75 1277.42 472.92 1282.83 475C1288.25 477.08 1294.36 479.08 1299.17 481.17C1303.97 483.25 1308.86 485.83 1311.67 487.5C1314.47 489.17 1315.14 490.22 1316 491.17C1316.86 492.11 1317.03 492.33 1316.83 493.17C1316.64 494 1316.64 494.61 1314.83 496.17C1313.03 497.72 1308.61 500.42 1306 502.5C1303.39 504.58 1301.03 506.58 1299.17 508.67C1297.31 510.75 1296.81 512.92 1294.83 515C1292.86 517.08 1290.36 519.08 1287.33 521.17C1284.31 523.25 1280.53 525.42 1276.67 527.5C1272.81 529.58 1268.22 531.58 1264.17 533.67C1260.11 535.75 1255.67 537.92 1252.33 540C1249 542.08 1246.36 544.08 1244.17 546.17C1241.97 548.25 1240.53 550.42 1239.17 552.5C1237.81 554.58 1236.94 556.58 1236 558.67C1235.06 560.75 1234.11 563.28 1233.5 565C1232.89 566.72 1232.75 567.47 1232.33 569C1231.92 570.53 1231.36 572.47 1231 574.17C1230.64 575.86 1230.31 578.33 1230.17 579.17C1230.03 578.33 1229.69 575.86 1229.33 574.17C1228.97 572.47 1228.42 570.53 1228 569C1227.58 567.47 1227.44 566.72 1226.83 565C1226.22 563.28 1225.28 560.75 1224.33 558.67C1223.39 556.58 1222.53 554.58 1221.17 552.5C1219.81 550.42 1218.36 548.25 1216.17 546.17C1213.97 544.08 1211.33 542.08 1208 540C1204.67 537.92 1200.22 535.75 1196.17 533.67C1192.11 531.58 1187.53 529.58 1183.67 527.5C1179.81 525.42 1176.03 523.25 1173 521.17C1169.97 519.08 1167.47 517.08 1165.5 515C1163.53 512.92 1163.03 510.75 1161.17 508.67C1159.31 506.58 1156.94 504.58 1154.33 502.5C1151.72 500.42 1147.31 497.72 1145.5 496.17C1143.69 494.61 1143.69 494 1143.5 493.17C1143.31 492.33 1143.47 492.11 1144.33 491.17C1145.19 490.22 1145.86 489.17 1148.67 487.5C1151.47 485.83 1156.36 483.25 1161.17 481.17C1165.97 479.08 1172.08 477.08 1177.5 475C1182.92 472.92 1189 470.75 1193.67 468.67C1198.33 466.58 1202.69 464.58 1205.5 462.5C1208.31 460.42 1209.14 458.25 1210.5 456.17C1211.86 454.08 1212.5 452.08 1213.67 450C1214.83 447.92 1216.14 445.75 1217.5 443.67C1218.86 441.58 1220.39 439.58 1221.83 437.5C1223.28 435.42 1224.92 433.25 1226.17 431.17C1227.42 429.08 1228.72 426.86 1229.33 425C1229.94 423.14 1229.69 421.61 1229.83 420C1229.97 418.39 1230.11 416.11 1230.17 415.33Z" fill="#49d43e" stroke="#1e1e1e" stroke-width="2.2" stroke-linejoin="round"/>
<path d="M1230.17 455.83V488.67M1230.17 517V551.33" stroke="#3a3636" stroke-width="2" fill="none"/>
<rect x="1201" y="488.67" width="58.33" height="28.33" fill="none" stroke="#3a3636" stroke-width="2.1"/>
<path d="M1201 498.33H1259.33" stroke="#3a3636" stroke-width="4.2"/>
<g fill="#000"><ellipse cx="1247" cy="442.5" rx="3.9" ry="3.25"/><ellipse cx="1214" cy="455" rx="3.9" ry="3.25"/><ellipse cx="1223.33" cy="456.67" rx="3.9" ry="3.25"/><ellipse cx="1212.33" cy="464.67" rx="3.9" ry="3.25"/><ellipse cx="1222.67" cy="470.83" rx="3.9" ry="3.25"/><ellipse cx="1245.67" cy="476.33" rx="3.9" ry="3.25"/><ellipse cx="1222.67" cy="478.33" rx="3.9" ry="3.25"/><ellipse cx="1229.33" cy="480.83" rx="3.9" ry="3.25"/><ellipse cx="1226.5" cy="485" rx="3.9" ry="3.25"/><ellipse cx="1247" cy="485" rx="3.9" ry="3.25"/><ellipse cx="1224.33" cy="488.67" rx="3.9" ry="3.25"/><ellipse cx="1229.33" cy="490" rx="3.9" ry="3.25"/><ellipse cx="1237.33" cy="490" rx="3.9" ry="3.25"/><ellipse cx="1246.5" cy="489.17" rx="3.9" ry="3.25"/><ellipse cx="1216" cy="494.17" rx="3.9" ry="3.25"/><ellipse cx="1229" cy="494.17" rx="3.9" ry="3.25"/><ellipse cx="1234.83" cy="494.17" rx="3.9" ry="3.25"/><ellipse cx="1214.83" cy="498.33" rx="3.9" ry="3.25"/><ellipse cx="1227.33" cy="499.17" rx="3.9" ry="3.25"/><ellipse cx="1247" cy="498.67" rx="3.9" ry="3.25"/><ellipse cx="1212" cy="504.67" rx="3.9" ry="3.25"/><ellipse cx="1232.33" cy="508" rx="3.9" ry="3.25"/><ellipse cx="1236.5" cy="508.33" rx="3.9" ry="3.25"/><ellipse cx="1228.17" cy="513" rx="3.9" ry="3.25"/><ellipse cx="1239" cy="513" rx="3.9" ry="3.25"/><ellipse cx="1243.17" cy="514.67" rx="3.9" ry="3.25"/><ellipse cx="1219.5" cy="517" rx="3.9" ry="3.25"/><ellipse cx="1234.83" cy="518.83" rx="3.9" ry="3.25"/><ellipse cx="1247.33" cy="520" rx="3.9" ry="3.25"/><ellipse cx="1242.33" cy="525" rx="3.9" ry="3.25"/><ellipse cx="1222" cy="526.33" rx="3.9" ry="3.25"/><ellipse cx="1213.17" cy="530" rx="3.9" ry="3.25"/><ellipse cx="1222.67" cy="530.33" rx="3.9" ry="3.25"/><ellipse cx="1228.17" cy="534.17" rx="3.9" ry="3.25"/><ellipse cx="1238.67" cy="535.5" rx="3.9" ry="3.25"/><ellipse cx="1237.33" cy="552" rx="3.9" ry="3.25"/></g>
<path d="M1420.79 268.54C1420.9 269.41 1421.14 272.19 1421.42 273.75C1421.69 275.31 1421.69 275.83 1422.46 277.92C1423.22 280 1424.72 283.47 1426 286.25C1427.28 289.03 1429.02 292.15 1430.17 294.58C1431.31 297.01 1432.18 298.75 1432.88 300.83C1433.57 302.92 1434.33 305 1434.33 307.08C1434.33 309.17 1433.81 310.9 1432.88 313.33C1431.94 315.76 1430.2 318.89 1428.71 321.67C1427.22 324.44 1425.1 327.22 1423.92 330C1422.74 332.78 1422.04 335.21 1421.62 338.33C1421.21 341.46 1421.45 345.28 1421.42 348.75C1421.38 352.22 1421.42 355.35 1421.42 359.17C1421.42 362.99 1421.35 368.19 1421.42 371.67C1421.49 375.14 1421.31 377.22 1421.83 380C1422.35 382.78 1423.33 385.56 1424.54 388.33C1425.76 391.11 1427.74 393.89 1429.12 396.67C1430.51 399.44 1432.01 402.57 1432.88 405C1433.74 407.43 1434.13 409.41 1434.33 411.25C1434.54 413.09 1434.58 414.2 1434.12 416.04C1433.67 417.88 1432.15 420.21 1431.62 422.29C1431.1 424.38 1430.58 426.46 1431 428.54C1431.42 430.62 1432.35 432.71 1434.12 434.79C1435.9 436.88 1438.71 438.96 1441.62 441.04C1444.54 443.12 1448.29 445.21 1451.62 447.29C1454.96 449.38 1458.29 451.46 1461.62 453.54C1464.96 455.62 1468.5 457.71 1471.62 459.79C1474.75 461.88 1477.98 464.17 1480.38 466.04C1482.77 467.92 1484.65 469.38 1486 471.04C1487.35 472.71 1488.5 474.38 1488.5 476.04C1488.5 477.71 1487.77 479.17 1486 481.04C1484.23 482.92 1480.69 485.21 1477.88 487.29C1475.06 489.38 1471.62 491.46 1469.12 493.54C1466.62 495.62 1464.44 497.71 1462.88 499.79C1461.31 501.88 1460.69 504.17 1459.75 506.04C1458.81 507.92 1458.5 509.38 1457.25 511.04C1456 512.71 1454.44 514.17 1452.25 516.04C1450.06 517.92 1446.73 520.21 1444.12 522.29C1441.52 524.38 1438.92 526.46 1436.62 528.54C1434.33 530.63 1432.15 532.71 1430.38 534.79C1428.6 536.88 1427.15 538.96 1426 541.04C1424.85 543.13 1424.19 545.21 1423.5 547.29C1422.81 549.38 1422.28 551.77 1421.83 553.54C1421.38 555.31 1420.97 557.19 1420.79 557.92C1420.62 557.19 1420.2 555.31 1419.75 553.54C1419.3 551.77 1418.78 549.38 1418.08 547.29C1417.39 545.21 1416.73 543.13 1415.58 541.04C1414.44 538.96 1412.98 536.88 1411.21 534.79C1409.44 532.71 1407.25 530.63 1404.96 528.54C1402.67 526.46 1400.06 524.38 1397.46 522.29C1394.85 520.21 1391.52 517.92 1389.33 516.04C1387.15 514.17 1385.58 512.71 1384.33 511.04C1383.08 509.38 1382.77 507.92 1381.83 506.04C1380.9 504.17 1380.27 501.88 1378.71 499.79C1377.15 497.71 1374.96 495.62 1372.46 493.54C1369.96 491.46 1366.52 489.38 1363.71 487.29C1360.9 485.21 1357.35 482.92 1355.58 481.04C1353.81 479.17 1353.08 477.71 1353.08 476.04C1353.08 474.38 1354.23 472.71 1355.58 471.04C1356.94 469.38 1358.81 467.92 1361.21 466.04C1363.6 464.17 1366.83 461.88 1369.96 459.79C1373.08 457.71 1376.63 455.62 1379.96 453.54C1383.29 451.46 1386.63 449.38 1389.96 447.29C1393.29 445.21 1397.04 443.12 1399.96 441.04C1402.88 438.96 1405.69 436.88 1407.46 434.79C1409.23 432.71 1410.17 430.62 1410.58 428.54C1411 426.46 1410.48 424.38 1409.96 422.29C1409.44 420.21 1407.91 417.88 1407.46 416.04C1407.01 414.2 1407.04 413.09 1407.25 411.25C1407.46 409.41 1407.84 407.43 1408.71 405C1409.58 402.57 1411.07 399.44 1412.46 396.67C1413.85 393.89 1415.83 391.11 1417.04 388.33C1418.26 385.56 1419.23 382.78 1419.75 380C1420.27 377.22 1420.1 375.14 1420.17 371.67C1420.24 368.19 1420.17 362.99 1420.17 359.17C1420.17 355.35 1420.2 352.22 1420.17 348.75C1420.13 345.28 1420.38 341.46 1419.96 338.33C1419.54 335.21 1418.85 332.78 1417.67 330C1416.49 327.22 1414.37 324.44 1412.88 321.67C1411.38 318.89 1409.65 315.76 1408.71 313.33C1407.77 310.9 1407.25 309.17 1407.25 307.08C1407.25 305 1408.01 302.92 1408.71 300.83C1409.4 298.75 1410.27 297.01 1411.42 294.58C1412.56 292.15 1414.3 289.03 1415.58 286.25C1416.87 283.47 1418.36 280 1419.12 277.92C1419.89 275.83 1419.89 275.31 1420.17 273.75C1420.44 272.19 1420.69 269.41 1420.79 268.54Z" fill="#ef6f6f" stroke="#1e1e1e" stroke-width="2.2" stroke-linejoin="round"/>
<path d="M1420.9 414.38V459.17M1420.9 491.04V515.83" stroke="#3a3636" stroke-width="2" fill="none"/>
<rect x="1392.04" y="459.17" width="57.71" height="31.88" fill="none" stroke="#3a3636" stroke-width="2.1"/>
<path d="M1392.04 477.29H1449.75" stroke="#3a3636" stroke-width="4.2"/>
<g fill="#000"><ellipse cx="1416.21" cy="308.75" rx="3.9" ry="3.25"/><ellipse cx="1410.38" cy="413.75" rx="3.9" ry="3.25"/><ellipse cx="1439.12" cy="454.58" rx="3.9" ry="3.25"/><ellipse cx="1421.42" cy="462.71" rx="3.9" ry="3.25"/><ellipse cx="1431.62" cy="473.12" rx="3.9" ry="3.25"/><ellipse cx="1415.58" cy="477.29" rx="3.9" ry="3.25"/><ellipse cx="1428.5" cy="477.29" rx="3.9" ry="3.25"/><ellipse cx="1435.17" cy="485.83" rx="3.9" ry="3.25"/><ellipse cx="1414.96" cy="496.67" rx="3.9" ry="3.25"/><ellipse cx="1413.5" cy="513.33" rx="3.9" ry="3.25"/><ellipse cx="1432.25" cy="516.04" rx="3.9" ry="3.25"/></g>
</g>
<g>
<g transform="translate(142.33 812.16) scale(0.08333 0.08367)" stroke="#2c2a00" stroke-opacity="0.72" stroke-width="7.5" stroke-linejoin="round">
<path d="M90 960C86 937.5 84.33 923.33 86 905C87.67 886.67 91 870.83 100 850C109 829.17 122.5 805 140 780C157.5 755 181.67 735 205 700C228.33 665 250.83 615 280 570C309.17 525 358.33 459.5 380 430C401.67 400.5 393.33 413 410 393C426.67 373 451.67 338.83 480 310C508.33 281.17 546.67 245 580 220C613.33 195 646.67 175.83 680 160C713.33 144.17 755 132 780 125C805 118 813.33 120.5 830 118C846.67 115.5 865.33 111.67 880 110C894.67 108.33 898 108.33 918 108C938 107.67 975 107 1000 108C1025 109 1043 111.67 1068 114C1093 116.33 1125 117.67 1150 122C1175 126.33 1191.67 132.83 1218 140C1244.33 147.17 1283 158 1308 165C1333 172 1333 169.5 1368 182C1403 194.5 1468 217 1518 240C1568 263 1623 291.67 1668 320C1713 348.33 1751.33 380 1788 410C1824.67 440 1858 470 1888 500C1918 530 1943 558.33 1968 590C1993 621.67 2016.33 656.67 2038 690C2059.67 723.33 2081.33 758.33 2098 790C2114.67 821.67 2128.83 851.67 2138 880C2147.17 908.33 2152.17 935 2153 960C2153.83 985 2150.5 1008.33 2143 1030C2135.5 1051.67 2122.17 1071.67 2108 1090C2093.83 1108.33 2069.33 1130 2058 1140C2046.67 1150 2049.67 1145 2040 1150C2030.33 1155 2020.33 1162.5 2000 1170C1979.67 1177.5 1948.33 1187.5 1918 1195C1887.67 1202.5 1851.33 1209.5 1818 1215C1784.67 1220.5 1745.5 1223.67 1718 1228C1690.5 1232.33 1673 1236.17 1653 1241C1633 1245.83 1613.83 1250 1598 1257C1582.17 1264 1568 1277.5 1558 1283C1548 1288.5 1544.67 1285.5 1538 1290C1531.33 1294.5 1524.67 1300.33 1518 1310C1511.33 1319.67 1504.67 1333.33 1498 1348C1491.33 1362.67 1485.5 1382.17 1478 1398C1470.5 1413.83 1463 1428.83 1453 1443C1443 1457.17 1432.17 1473 1418 1483C1403.83 1493 1379.67 1498.83 1368 1503C1356.33 1507.17 1361.33 1507.17 1348 1508C1334.67 1508.83 1314.67 1510.5 1288 1508C1261.33 1505.5 1221.33 1499.67 1188 1493C1154.67 1486.33 1121.33 1477.17 1088 1468C1054.67 1458.83 1021.33 1448.83 988 1438C954.67 1427.17 921.33 1415.5 888 1403C854.67 1390.5 821.33 1376.33 788 1363C754.67 1349.67 721.33 1337.17 688 1323C654.67 1308.83 621.33 1293 588 1278C554.67 1263 520.5 1247.67 488 1233C455.5 1218.33 426.33 1200.83 393 1190C359.67 1179.17 311.83 1174.67 288 1168C264.17 1161.33 271.33 1161.33 250 1150C228.67 1138.67 183.33 1118.33 160 1100C136.67 1081.67 121.67 1063.33 110 1040C98.33 1016.67 94 982.5 90 960Z" fill="#f0a02e" stroke="none"/>
<path d="M393 1190C359.67 1179.17 311.83 1174.67 288 1168C264.17 1161.33 271.33 1161.33 250 1150C228.67 1138.67 183.33 1118.33 160 1100C136.67 1081.67 121.67 1063.33 110 1040C98.33 1016.67 94 982.5 90 960C86 937.5 84.33 923.33 86 905C87.67 886.67 91 870.83 100 850C109 829.17 122.5 805 140 780C157.5 755 181.67 735 205 700L205 700C206.67 711.67 207.5 745 215 770C222.5 795 234.17 825 250 850C265.83 875 290 904.17 310 920C330 935.83 356 938.33 370 945C384 951.67 390 957.5 394 960L394 960C395.5 974.67 402.33 1021.33 403 1048C403.67 1074.67 399.67 1096.33 398 1120C396.33 1143.67 393.83 1178.33 393 1190Z" fill="#f28c28"/>
<path d="M205 700C228.33 665 250.83 615 280 570C309.17 525 358.33 459.5 380 430C401.67 400.5 393.33 413 410 393L410 393C415 392.83 425 396.5 440 392C455 387.5 480 372.5 500 366C520 359.5 536.67 355.67 560 353C583.33 350.33 610.83 348 640 350C669.17 352 719.17 362.5 735 365L735 365C727.5 374.17 699.17 397.5 690 420C680.83 442.5 680 470 680 500C680 530 686.67 566.67 690 600C693.33 633.33 691.67 674.67 700 700C708.33 725.33 733.33 743.33 740 752L740 752C733.33 765 710 807 700 830C690 853 689.17 875.5 680 890C670.83 904.5 650.83 912.5 645 917L645 917C635.5 913.83 610.83 901.17 588 898C565.17 894.83 533 894.67 508 898C483 901.33 457 907.67 438 918C419 928.33 401.33 953 394 960L394 960C390 957.5 384 951.67 370 945C356 938.33 330 935.83 310 920C290 904.17 265.83 875 250 850C234.17 825 222.5 795 215 770C207.5 745 206.67 711.67 205 700Z" fill="#f57e24"/>
<path d="M410 393C426.67 373 451.67 338.83 480 310C508.33 281.17 546.67 245 580 220C613.33 195 646.67 175.83 680 160C713.33 144.17 755 132 780 125C805 118 813.33 120.5 830 118L830 118C829.17 131.67 823.33 173 825 200C826.67 227 835.83 259.17 840 280C844.17 300.83 848.33 317.5 850 325L850 325C841.67 327.5 819.17 333.33 800 340C780.83 346.67 745.83 360.83 735 365L735 365C719.17 362.5 669.17 352 640 350C610.83 348 583.33 350.33 560 353C536.67 355.67 520 359.5 500 366C480 372.5 455 387.5 440 392C425 396.5 415 392.83 410 393Z" fill="#f48626"/>
<path d="M735 365C745.83 360.83 780.83 346.67 800 340C819.17 333.33 841.67 327.5 850 325L850 325C861.67 325.83 895 322.5 920 330C945 337.5 976.67 351.67 1000 370C1023.33 388.33 1041.67 415 1060 440C1078.33 465 1095 493.33 1110 520C1125 546.67 1140 573.33 1150 600C1160 626.67 1165 653.33 1170 680C1175 706.67 1181.17 738.33 1180 760C1178.83 781.67 1165.83 801.67 1163 810L1163 810C1153.83 813.67 1122.17 829 1108 832C1093.83 835 1086.33 827 1078 828C1069.67 829 1064.33 839.33 1058 838C1051.67 836.67 1056.33 829.67 1040 820C1023.67 810.33 983.33 788.33 960 780C936.67 771.67 918.33 775.83 900 770C881.67 764.17 864.17 750.5 850 745C835.83 739.5 824.17 735.33 815 737C805.83 738.67 807.5 752.5 795 755C782.5 757.5 749.17 752.5 740 752L740 752C733.33 743.33 708.33 725.33 700 700C691.67 674.67 693.33 633.33 690 600C686.67 566.67 680 530 680 500C680 470 680.83 442.5 690 420C699.17 397.5 727.5 374.17 735 365Z" fill="#f2942a"/>
<path d="M830 118C846.67 115.5 865.33 111.67 880 110C894.67 108.33 898 108.33 918 108C938 107.67 975 107 1000 108L1000 108C1005.5 121.67 1015 164.67 1033 190C1051 215.33 1082.17 235 1108 260C1133.83 285 1163 310 1188 340C1213 370 1238 406.67 1258 440C1278 473.33 1295.5 506.67 1308 540C1320.5 573.33 1326.33 606.67 1333 640C1339.67 673.33 1342.17 708.33 1348 740C1353.83 771.67 1360.5 810 1368 830C1375.5 850 1388.83 855 1393 860L1393 860C1382.17 858.33 1352.17 855.83 1328 850C1303.83 844.17 1275.5 831.67 1248 825C1220.5 818.33 1177.17 812.5 1163 810L1163 810C1165.83 801.67 1178.83 781.67 1180 760C1181.17 738.33 1175 706.67 1170 680C1165 653.33 1160 626.67 1150 600C1140 573.33 1125 546.67 1110 520C1095 493.33 1078.33 465 1060 440C1041.67 415 1023.33 388.33 1000 370C976.67 351.67 945 337.5 920 330C895 322.5 861.67 325.83 850 325L850 325C848.33 317.5 844.17 300.83 840 280C835.83 259.17 826.67 227 825 200C823.33 173 829.17 131.67 830 118Z" fill="#f0a02e"/>
<path d="M1000 108C1025 109 1043 111.67 1068 114C1093 116.33 1125 117.67 1150 122C1175 126.33 1191.67 132.83 1218 140C1244.33 147.17 1283 158 1308 165L1308 165C1323 179.17 1373 220.83 1398 250C1423 279.17 1443 311.67 1458 340C1473 368.33 1474.67 391.67 1488 420C1501.33 448.33 1521.33 480 1538 510C1554.67 540 1583 568.33 1588 600C1593 631.67 1578 670 1568 700C1558 730 1538 751.67 1528 780C1518 808.33 1513 853.33 1508 870C1503 886.67 1499.67 878.33 1498 880L1498 880C1489.67 880 1465.5 883.33 1448 880C1430.5 876.67 1402.17 863.33 1393 860L1393 860C1388.83 855 1375.5 850 1368 830C1360.5 810 1353.83 771.67 1348 740C1342.17 708.33 1339.67 673.33 1333 640C1326.33 606.67 1320.5 573.33 1308 540C1295.5 506.67 1278 473.33 1258 440C1238 406.67 1213 370 1188 340C1163 310 1133.83 285 1108 260C1082.17 235 1051 215.33 1033 190C1015 164.67 1005.5 121.67 1000 108Z" fill="#efae32"/>
<path d="M1308 165C1333 172 1333 169.5 1368 182C1403 194.5 1468 217 1518 240C1568 263 1623 291.67 1668 320C1713 348.33 1751.33 380 1788 410L1778 435C1759.67 424.17 1703 390.83 1668 370C1633 349.17 1601.33 327.5 1568 310C1534.67 292.5 1496.33 275 1468 265C1439.67 255 1409.67 252.5 1398 250L1398 250L1308 165Z" fill="#efe23c"/>
<path d="M1398 250C1409.67 252.5 1439.67 255 1468 265C1496.33 275 1534.67 292.5 1568 310C1601.33 327.5 1633 349.17 1668 370C1703 390.83 1759.67 424.17 1778 435L1778 435C1773.83 442.5 1756.33 465.83 1753 480C1749.67 494.17 1763.83 505 1758 520C1752.17 535 1725.5 555 1718 570C1710.5 585 1714.67 599.17 1713 610C1711.33 620.83 1708.83 630.83 1708 635L1708 635C1698 631.67 1668 620.83 1648 615C1628 609.17 1598 602.5 1588 600L1588 600C1579.67 585 1554.67 540 1538 510C1521.33 480 1501.33 448.33 1488 420C1474.67 391.67 1473 368.33 1458 340C1443 311.67 1408 265 1398 250Z" fill="#efd03a"/>
<path d="M1778 435L1788 410L1788 410C1824.67 440 1858 470 1888 500C1918 530 1943 558.33 1968 590C1993 621.67 2016.33 656.67 2038 690C2059.67 723.33 2081.33 758.33 2098 790C2114.67 821.67 2128.83 851.67 2138 880C2147.17 908.33 2152.17 935 2153 960C2153.83 985 2150.5 1008.33 2143 1030C2135.5 1051.67 2122.17 1071.67 2108 1090C2093.83 1108.33 2069.33 1130 2058 1140C2046.67 1150 2049.67 1145 2040 1150L2040 1150C2043.83 1141.67 2058.33 1114.17 2063 1100C2067.67 1085.83 2070.5 1075 2068 1065C2065.5 1055 2051.33 1044.17 2048 1040L2048 1040C2045.5 1033.33 2039.67 1020 2033 1000C2026.33 980 2018.83 945 2008 920C1997.17 895 1986.33 867.5 1968 850C1949.67 832.5 1923 823.33 1898 815C1873 806.67 1831.33 802.5 1818 800L1818 800C1816.33 796.67 1818 796.67 1808 780C1798 763.33 1774.67 724.17 1758 700C1741.33 675.83 1716.33 645.83 1708 635L1708 635C1708.83 630.83 1711.33 620.83 1713 610C1714.67 599.17 1710.5 585 1718 570C1725.5 555 1752.17 535 1758 520C1763.83 505 1749.67 494.17 1753 480C1756.33 465.83 1773.83 442.5 1778 435Z" fill="#f0ec40"/>
<path d="M1588 600C1598 602.5 1628 609.17 1648 615C1668 620.83 1698 631.67 1708 635L1708 635C1716.33 645.83 1741.33 675.83 1758 700C1774.67 724.17 1798 763.33 1808 780C1818 796.67 1816.33 796.67 1818 800L1818 800C1809.67 806.67 1784.67 825 1768 840C1751.33 855 1734.67 873.33 1718 890C1701.33 906.67 1679.67 928 1668 940C1656.33 952 1651.33 958.33 1648 962L1648 962C1638 955 1608 932 1588 920C1568 908 1543 896.67 1528 890C1513 883.33 1503 881.67 1498 880L1498 880C1499.67 878.33 1503 886.67 1508 870C1513 853.33 1518 808.33 1528 780C1538 751.67 1558 730 1568 700C1578 670 1584.67 616.67 1588 600Z" fill="#efc838"/>
<path d="M1818 800C1831.33 802.5 1873 806.67 1898 815C1923 823.33 1949.67 832.5 1968 850C1986.33 867.5 1997.17 895 2008 920C2018.83 945 2026.33 980 2033 1000C2039.67 1020 2045.5 1033.33 2048 1040L2048 1040C2034.67 1042.5 1998 1049.17 1968 1055C1938 1060.83 1894.67 1070 1868 1075C1841.33 1080 1818 1083.33 1808 1085L1808 1085C1799.67 1080.83 1774.67 1070.83 1758 1060C1741.33 1049.17 1724.67 1032.5 1708 1020C1691.33 1007.5 1668 994.67 1658 985C1648 975.33 1649.67 965.83 1648 962L1648 962C1651.33 958.33 1656.33 952 1668 940C1679.67 928 1701.33 906.67 1718 890C1734.67 873.33 1751.33 855 1768 840C1784.67 825 1809.67 806.67 1818 800Z" fill="#efd83a"/>
<path d="M1808 1085C1818 1083.33 1841.33 1080 1868 1075C1894.67 1070 1938 1060.83 1968 1055C1998 1049.17 2034.67 1042.5 2048 1040L2048 1040C2051.33 1044.17 2065.5 1055 2068 1065C2070.5 1075 2067.67 1085.83 2063 1100C2058.33 1114.17 2043.83 1141.67 2040 1150L2040 1150C2031.33 1150.33 2008.33 1152 1988 1152C1967.67 1152 1939.67 1153.67 1918 1150C1896.33 1146.33 1874.67 1137.5 1858 1130C1841.33 1122.5 1826.33 1112.5 1818 1105C1809.67 1097.5 1809.67 1088.33 1808 1085Z" fill="#efe23c"/>
<path d="M1648 962C1649.67 965.83 1648 975.33 1658 985C1668 994.67 1691.33 1007.5 1708 1020C1724.67 1032.5 1741.33 1049.17 1758 1060C1774.67 1070.83 1799.67 1080.83 1808 1085L1808 1085C1809.67 1088.33 1809.67 1097.5 1818 1105C1826.33 1112.5 1841.33 1122.5 1858 1130C1874.67 1137.5 1896.33 1146.33 1918 1150C1939.67 1153.67 1967.67 1152 1988 1152C2008.33 1152 2031.33 1150.33 2040 1150L2040 1150C2030.33 1155 2020.33 1162.5 2000 1170C1979.67 1177.5 1948.33 1187.5 1918 1195C1887.67 1202.5 1851.33 1209.5 1818 1215C1784.67 1220.5 1745.5 1223.67 1718 1228C1690.5 1232.33 1673 1236.17 1653 1241L1653 1241C1655.5 1232.17 1663.83 1210.17 1668 1188C1672.17 1165.83 1677.17 1134.67 1678 1108C1678.83 1081.33 1678 1052.33 1673 1028C1668 1003.67 1652.17 973 1648 962Z" fill="#efe63e"/>
<path d="M403 1048C417.17 1054.67 457.17 1069.67 488 1088C518.83 1106.33 554.67 1134.67 588 1158C621.33 1181.33 654.67 1206.33 688 1228C721.33 1249.67 754.67 1268.83 788 1288C821.33 1307.17 854.67 1325.5 888 1343C921.33 1360.5 954.67 1377.17 988 1393C1021.33 1408.83 1054.67 1424.67 1088 1438C1121.33 1451.33 1154.67 1463 1188 1473C1221.33 1483 1261.33 1492.17 1288 1498C1314.67 1503.83 1338 1506.33 1348 1508L1348 1508C1334.67 1508.83 1314.67 1510.5 1288 1508C1261.33 1505.5 1221.33 1499.67 1188 1493C1154.67 1486.33 1121.33 1477.17 1088 1468C1054.67 1458.83 1021.33 1448.83 988 1438C954.67 1427.17 921.33 1415.5 888 1403C854.67 1390.5 821.33 1376.33 788 1363C754.67 1349.67 721.33 1337.17 688 1323C654.67 1308.83 621.33 1293 588 1278C554.67 1263 520.5 1247.67 488 1233C455.5 1218.33 426.33 1200.83 393 1190L393 1190C393.83 1178.33 396.33 1143.67 398 1120C399.67 1096.33 402.17 1060 403 1048Z" fill="#f0a22e"/>
<path d="M394 960C401.33 953 419 928.33 438 918C457 907.67 483 901.33 508 898C533 894.67 565.17 894.83 588 898C610.83 901.17 635.5 913.83 645 917L645 917C648 927.17 655.83 959.5 663 978C670.17 996.5 677.17 1013.83 688 1028C698.83 1042.17 711.33 1054.67 728 1063C744.67 1071.33 768 1076.33 788 1078C808 1079.67 833 1074.67 848 1073C863 1071.33 873 1068.83 878 1068L878 1068C888 1074.67 911.33 1091.33 938 1108C964.67 1124.67 1004.67 1148 1038 1168C1071.33 1188 1104.67 1208 1138 1228C1171.33 1248 1204.67 1266.33 1238 1288C1271.33 1309.67 1309.67 1338 1338 1358C1366.33 1378 1388.83 1393.83 1408 1408C1427.17 1422.17 1445.5 1437.17 1453 1443L1453 1443C1443 1457.17 1432.17 1473 1418 1483C1403.83 1493 1379.67 1498.83 1368 1503C1356.33 1507.17 1361.33 1507.17 1348 1508L1348 1508C1338 1506.33 1314.67 1503.83 1288 1498C1261.33 1492.17 1221.33 1483 1188 1473C1154.67 1463 1121.33 1451.33 1088 1438C1054.67 1424.67 1021.33 1408.83 988 1393C954.67 1377.17 921.33 1360.5 888 1343C854.67 1325.5 821.33 1307.17 788 1288C754.67 1268.83 721.33 1249.67 688 1228C654.67 1206.33 621.33 1181.33 588 1158C554.67 1134.67 518.83 1106.33 488 1088C457.17 1069.67 417.17 1054.67 403 1048L403 1048L394 960Z" fill="#f19a2c"/>
<path d="M795 755C798.33 752 805.83 738.67 815 737C824.17 735.33 835.83 739.5 850 745C864.17 750.5 881.67 764.17 900 770C918.33 775.83 936.67 771.67 960 780C983.33 788.33 1023.67 810.33 1040 820C1056.33 829.67 1055 835 1058 838L1058 838C1063 848 1074.67 876.33 1088 898C1101.33 919.67 1121.33 946.33 1138 968C1154.67 989.67 1173.83 1013.83 1188 1028C1202.17 1042.17 1217.17 1048.83 1223 1053L1223 1053C1225.83 1047.5 1235.83 1030 1240 1020C1244.17 1010 1246.67 997.5 1248 993L1248 993C1254.67 998.83 1268 1008.83 1288 1028C1308 1047.17 1343 1084.67 1368 1108C1393 1131.33 1418 1149.67 1438 1168C1458 1186.33 1473.83 1201.33 1488 1218C1502.17 1234.67 1514.67 1256 1523 1268C1531.33 1280 1535.5 1286.33 1538 1290L1538 1290C1531.33 1294.5 1524.67 1300.33 1518 1310C1511.33 1319.67 1504.67 1333.33 1498 1348C1491.33 1362.67 1485.5 1382.17 1478 1398C1470.5 1413.83 1463 1428.83 1453 1443L1453 1443C1445.5 1437.17 1427.17 1422.17 1408 1408C1388.83 1393.83 1366.33 1378 1338 1358C1309.67 1338 1271.33 1309.67 1238 1288C1204.67 1266.33 1171.33 1248 1138 1228C1104.67 1208 1071.33 1188 1038 1168C1004.67 1148 964.67 1124.67 938 1108C911.33 1091.33 888 1074.67 878 1068L878 1068C873.83 1061.33 858.83 1041.33 853 1028C847.17 1014.67 841.33 1003 843 988C844.67 973 858.83 954.67 863 938C867.17 921.33 870.5 904.67 868 888C865.5 871.33 856.33 854.67 848 838C839.67 821.33 825.5 799.67 818 788C810.5 776.33 806.83 773.5 803 768C799.17 762.5 796.33 757.17 795 755Z" fill="#f0a02e"/>
<path d="M1108 832C1117.17 828.33 1139.67 811.17 1163 810C1186.33 808.83 1220.5 818.33 1248 825C1275.5 831.67 1303.83 844.17 1328 850C1352.17 855.83 1373 855 1393 860C1413 865 1430.5 876.67 1448 880C1465.5 883.33 1484.67 878.33 1498 880C1511.33 881.67 1513 883.33 1528 890C1543 896.67 1568 908 1588 920C1608 932 1638 955 1648 962L1648 962C1652.17 973 1668 1003.67 1673 1028C1678 1052.33 1678.83 1081.33 1678 1108C1677.17 1134.67 1672.17 1165.83 1668 1188C1663.83 1210.17 1655.5 1232.17 1653 1241L1653 1241C1633 1245.83 1613.83 1250 1598 1257C1582.17 1264 1568 1277.5 1558 1283C1548 1288.5 1544.67 1285.5 1538 1290L1538 1290C1535.5 1286.33 1531.33 1280 1523 1268C1514.67 1256 1502.17 1234.67 1488 1218C1473.83 1201.33 1458 1186.33 1438 1168C1418 1149.67 1393 1131.33 1368 1108C1343 1084.67 1308 1047.17 1288 1028C1268 1008.83 1254.67 998.83 1248 993L1248 993L1223 1008L1223 1008C1217.17 996.33 1200.5 959.67 1188 938C1175.5 916.33 1161.33 895.67 1148 878C1134.67 860.33 1114.67 839.67 1108 832Z" fill="#efb032"/>
<path d="M740 752L795 755L795 755C796.33 757.17 799.17 762.5 803 768C806.83 773.5 810.5 776.33 818 788C825.5 799.67 839.67 821.33 848 838C856.33 854.67 865.5 871.33 868 888C870.5 904.67 867.17 921.33 863 938C858.83 954.67 844.67 973 843 988C841.33 1003 847.17 1014.67 853 1028C858.83 1041.33 873.83 1061.33 878 1068L878 1068C873 1068.83 863 1071.33 848 1073C833 1074.67 808 1079.67 788 1078C768 1076.33 744.67 1071.33 728 1063C711.33 1054.67 698.83 1042.17 688 1028C677.17 1013.83 670.17 996.5 663 978C655.83 959.5 648 927.17 645 917L645 917C650.83 912.5 670.83 904.5 680 890C689.17 875.5 690 853 700 830C710 807 733.33 765 740 752Z" fill="#f67a22"/>
<path d="M1058 838C1063 848 1074.67 876.33 1088 898C1101.33 919.67 1121.33 946.33 1138 968C1154.67 989.67 1173.83 1013.83 1188 1028C1202.17 1042.17 1217.17 1048.83 1223 1053L1223 1053L1223 1008L1223 1008C1217.17 996.33 1200.5 959.67 1188 938C1175.5 916.33 1161.33 895.67 1148 878C1134.67 860.33 1114.67 839.67 1108 832L1108 832C1103 831.33 1086.33 827 1078 828C1069.67 829 1061.33 836.33 1058 838Z" fill="#f48426"/>
<path d="M90 960C86 937.5 84.33 923.33 86 905C87.67 886.67 91 870.83 100 850C109 829.17 122.5 805 140 780C157.5 755 181.67 735 205 700C228.33 665 250.83 615 280 570C309.17 525 358.33 459.5 380 430C401.67 400.5 393.33 413 410 393C426.67 373 451.67 338.83 480 310C508.33 281.17 546.67 245 580 220C613.33 195 646.67 175.83 680 160C713.33 144.17 755 132 780 125C805 118 813.33 120.5 830 118C846.67 115.5 865.33 111.67 880 110C894.67 108.33 898 108.33 918 108C938 107.67 975 107 1000 108C1025 109 1043 111.67 1068 114C1093 116.33 1125 117.67 1150 122C1175 126.33 1191.67 132.83 1218 140C1244.33 147.17 1283 158 1308 165C1333 172 1333 169.5 1368 182C1403 194.5 1468 217 1518 240C1568 263 1623 291.67 1668 320C1713 348.33 1751.33 380 1788 410C1824.67 440 1858 470 1888 500C1918 530 1943 558.33 1968 590C1993 621.67 2016.33 656.67 2038 690C2059.67 723.33 2081.33 758.33 2098 790C2114.67 821.67 2128.83 851.67 2138 880C2147.17 908.33 2152.17 935 2153 960C2153.83 985 2150.5 1008.33 2143 1030C2135.5 1051.67 2122.17 1071.67 2108 1090C2093.83 1108.33 2069.33 1130 2058 1140C2046.67 1150 2049.67 1145 2040 1150C2030.33 1155 2020.33 1162.5 2000 1170C1979.67 1177.5 1948.33 1187.5 1918 1195C1887.67 1202.5 1851.33 1209.5 1818 1215C1784.67 1220.5 1745.5 1223.67 1718 1228C1690.5 1232.33 1673 1236.17 1653 1241C1633 1245.83 1613.83 1250 1598 1257C1582.17 1264 1568 1277.5 1558 1283C1548 1288.5 1544.67 1285.5 1538 1290C1531.33 1294.5 1524.67 1300.33 1518 1310C1511.33 1319.67 1504.67 1333.33 1498 1348C1491.33 1362.67 1485.5 1382.17 1478 1398C1470.5 1413.83 1463 1428.83 1453 1443C1443 1457.17 1432.17 1473 1418 1483C1403.83 1493 1379.67 1498.83 1368 1503C1356.33 1507.17 1361.33 1507.17 1348 1508C1334.67 1508.83 1314.67 1510.5 1288 1508C1261.33 1505.5 1221.33 1499.67 1188 1493C1154.67 1486.33 1121.33 1477.17 1088 1468C1054.67 1458.83 1021.33 1448.83 988 1438C954.67 1427.17 921.33 1415.5 888 1403C854.67 1390.5 821.33 1376.33 788 1363C754.67 1349.67 721.33 1337.17 688 1323C654.67 1308.83 621.33 1293 588 1278C554.67 1263 520.5 1247.67 488 1233C455.5 1218.33 426.33 1200.83 393 1190C359.67 1179.17 311.83 1174.67 288 1168C264.17 1161.33 271.33 1161.33 250 1150C228.67 1138.67 183.33 1118.33 160 1100C136.67 1081.67 121.67 1063.33 110 1040C98.33 1016.67 94 982.5 90 960Z" fill="none" stroke="#4a4420" stroke-opacity="0.8" stroke-width="9"/>
</g>
<g transform="translate(332.63 812.16) scale(0.08333 0.08367)" stroke="#2c2a00" stroke-opacity="0.72" stroke-width="7.5" stroke-linejoin="round">
<path d="M90 960C86 937.5 84.33 923.33 86 905C87.67 886.67 91 870.83 100 850C109 829.17 122.5 805 140 780C157.5 755 181.67 735 205 700C228.33 665 250.83 615 280 570C309.17 525 358.33 459.5 380 430C401.67 400.5 393.33 413 410 393C426.67 373 451.67 338.83 480 310C508.33 281.17 546.67 245 580 220C613.33 195 646.67 175.83 680 160C713.33 144.17 755 132 780 125C805 118 813.33 120.5 830 118C846.67 115.5 865.33 111.67 880 110C894.67 108.33 898 108.33 918 108C938 107.67 975 107 1000 108C1025 109 1043 111.67 1068 114C1093 116.33 1125 117.67 1150 122C1175 126.33 1191.67 132.83 1218 140C1244.33 147.17 1283 158 1308 165C1333 172 1333 169.5 1368 182C1403 194.5 1468 217 1518 240C1568 263 1623 291.67 1668 320C1713 348.33 1751.33 380 1788 410C1824.67 440 1858 470 1888 500C1918 530 1943 558.33 1968 590C1993 621.67 2016.33 656.67 2038 690C2059.67 723.33 2081.33 758.33 2098 790C2114.67 821.67 2128.83 851.67 2138 880C2147.17 908.33 2152.17 935 2153 960C2153.83 985 2150.5 1008.33 2143 1030C2135.5 1051.67 2122.17 1071.67 2108 1090C2093.83 1108.33 2069.33 1130 2058 1140C2046.67 1150 2049.67 1145 2040 1150C2030.33 1155 2020.33 1162.5 2000 1170C1979.67 1177.5 1948.33 1187.5 1918 1195C1887.67 1202.5 1851.33 1209.5 1818 1215C1784.67 1220.5 1745.5 1223.67 1718 1228C1690.5 1232.33 1673 1236.17 1653 1241C1633 1245.83 1613.83 1250 1598 1257C1582.17 1264 1568 1277.5 1558 1283C1548 1288.5 1544.67 1285.5 1538 1290C1531.33 1294.5 1524.67 1300.33 1518 1310C1511.33 1319.67 1504.67 1333.33 1498 1348C1491.33 1362.67 1485.5 1382.17 1478 1398C1470.5 1413.83 1463 1428.83 1453 1443C1443 1457.17 1432.17 1473 1418 1483C1403.83 1493 1379.67 1498.83 1368 1503C1356.33 1507.17 1361.33 1507.17 1348 1508C1334.67 1508.83 1314.67 1510.5 1288 1508C1261.33 1505.5 1221.33 1499.67 1188 1493C1154.67 1486.33 1121.33 1477.17 1088 1468C1054.67 1458.83 1021.33 1448.83 988 1438C954.67 1427.17 921.33 1415.5 888 1403C854.67 1390.5 821.33 1376.33 788 1363C754.67 1349.67 721.33 1337.17 688 1323C654.67 1308.83 621.33 1293 588 1278C554.67 1263 520.5 1247.67 488 1233C455.5 1218.33 426.33 1200.83 393 1190C359.67 1179.17 311.83 1174.67 288 1168C264.17 1161.33 271.33 1161.33 250 1150C228.67 1138.67 183.33 1118.33 160 1100C136.67 1081.67 121.67 1063.33 110 1040C98.33 1016.67 94 982.5 90 960Z" fill="#f38a28" stroke="none"/>
<path d="M393 1190C359.67 1179.17 311.83 1174.67 288 1168C264.17 1161.33 271.33 1161.33 250 1150C228.67 1138.67 183.33 1118.33 160 1100C136.67 1081.67 121.67 1063.33 110 1040C98.33 1016.67 94 982.5 90 960C86 937.5 84.33 923.33 86 905C87.67 886.67 91 870.83 100 850C109 829.17 122.5 805 140 780C157.5 755 181.67 735 205 700L205 700C206.67 711.67 207.5 745 215 770C222.5 795 234.17 825 250 850C265.83 875 290 904.17 310 920C330 935.83 356 938.33 370 945C384 951.67 390 957.5 394 960L394 960C395.5 974.67 402.33 1021.33 403 1048C403.67 1074.67 399.67 1096.33 398 1120C396.33 1143.67 393.83 1178.33 393 1190Z" fill="#f57e24"/>
<path d="M205 700C228.33 665 250.83 615 280 570C309.17 525 358.33 459.5 380 430C401.67 400.5 393.33 413 410 393L410 393C415 392.83 425 396.5 440 392C455 387.5 480 372.5 500 366C520 359.5 536.67 355.67 560 353C583.33 350.33 610.83 348 640 350C669.17 352 719.17 362.5 735 365L735 365C727.5 374.17 699.17 397.5 690 420C680.83 442.5 680 470 680 500C680 530 686.67 566.67 690 600C693.33 633.33 691.67 674.67 700 700C708.33 725.33 733.33 743.33 740 752L740 752C733.33 765 710 807 700 830C690 853 689.17 875.5 680 890C670.83 904.5 650.83 912.5 645 917L645 917C635.5 913.83 610.83 901.17 588 898C565.17 894.83 533 894.67 508 898C483 901.33 457 907.67 438 918C419 928.33 401.33 953 394 960L394 960C390 957.5 384 951.67 370 945C356 938.33 330 935.83 310 920C290 904.17 265.83 875 250 850C234.17 825 222.5 795 215 770C207.5 745 206.67 711.67 205 700Z" fill="#f8701e"/>
<path d="M410 393C426.67 373 451.67 338.83 480 310C508.33 281.17 546.67 245 580 220C613.33 195 646.67 175.83 680 160C713.33 144.17 755 132 780 125C805 118 813.33 120.5 830 118L830 118C829.17 131.67 823.33 173 825 200C826.67 227 835.83 259.17 840 280C844.17 300.83 848.33 317.5 850 325L850 325C841.67 327.5 819.17 333.33 800 340C780.83 346.67 745.83 360.83 735 365L735 365C719.17 362.5 669.17 352 640 350C610.83 348 583.33 350.33 560 353C536.67 355.67 520 359.5 500 366C480 372.5 455 387.5 440 392C425 396.5 415 392.83 410 393Z" fill="#f57c22"/>
<path d="M735 365C745.83 360.83 780.83 346.67 800 340C819.17 333.33 841.67 327.5 850 325L850 325C861.67 325.83 895 322.5 920 330C945 337.5 976.67 351.67 1000 370C1023.33 388.33 1041.67 415 1060 440C1078.33 465 1095 493.33 1110 520C1125 546.67 1140 573.33 1150 600C1160 626.67 1165 653.33 1170 680C1175 706.67 1181.17 738.33 1180 760C1178.83 781.67 1165.83 801.67 1163 810L1163 810C1153.83 813.67 1122.17 829 1108 832C1093.83 835 1086.33 827 1078 828C1069.67 829 1064.33 839.33 1058 838C1051.67 836.67 1056.33 829.67 1040 820C1023.67 810.33 983.33 788.33 960 780C936.67 771.67 918.33 775.83 900 770C881.67 764.17 864.17 750.5 850 745C835.83 739.5 824.17 735.33 815 737C805.83 738.67 807.5 752.5 795 755C782.5 757.5 749.17 752.5 740 752L740 752C733.33 743.33 708.33 725.33 700 700C691.67 674.67 693.33 633.33 690 600C686.67 566.67 680 530 680 500C680 470 680.83 442.5 690 420C699.17 397.5 727.5 374.17 735 365Z" fill="#f38a28"/>
<path d="M830 118C846.67 115.5 865.33 111.67 880 110C894.67 108.33 898 108.33 918 108C938 107.67 975 107 1000 108L1000 108C1005.5 121.67 1015 164.67 1033 190C1051 215.33 1082.17 235 1108 260C1133.83 285 1163 310 1188 340C1213 370 1238 406.67 1258 440C1278 473.33 1295.5 506.67 1308 540C1320.5 573.33 1326.33 606.67 1333 640C1339.67 673.33 1342.17 708.33 1348 740C1353.83 771.67 1360.5 810 1368 830C1375.5 850 1388.83 855 1393 860L1393 860C1382.17 858.33 1352.17 855.83 1328 850C1303.83 844.17 1275.5 831.67 1248 825C1220.5 818.33 1177.17 812.5 1163 810L1163 810C1165.83 801.67 1178.83 781.67 1180 760C1181.17 738.33 1175 706.67 1170 680C1165 653.33 1160 626.67 1150 600C1140 573.33 1125 546.67 1110 520C1095 493.33 1078.33 465 1060 440C1041.67 415 1023.33 388.33 1000 370C976.67 351.67 945 337.5 920 330C895 322.5 861.67 325.83 850 325L850 325C848.33 317.5 844.17 300.83 840 280C835.83 259.17 826.67 227 825 200C823.33 173 829.17 131.67 830 118Z" fill="#f1962a"/>
<path d="M1000 108C1025 109 1043 111.67 1068 114C1093 116.33 1125 117.67 1150 122C1175 126.33 1191.67 132.83 1218 140C1244.33 147.17 1283 158 1308 165L1308 165C1323 179.17 1373 220.83 1398 250C1423 279.17 1443 311.67 1458 340C1473 368.33 1474.67 391.67 1488 420C1501.33 448.33 1521.33 480 1538 510C1554.67 540 1583 568.33 1588 600C1593 631.67 1578 670 1568 700C1558 730 1538 751.67 1528 780C1518 808.33 1513 853.33 1508 870C1503 886.67 1499.67 878.33 1498 880L1498 880C1489.67 880 1465.5 883.33 1448 880C1430.5 876.67 1402.17 863.33 1393 860L1393 860C1388.83 855 1375.5 850 1368 830C1360.5 810 1353.83 771.67 1348 740C1342.17 708.33 1339.67 673.33 1333 640C1326.33 606.67 1320.5 573.33 1308 540C1295.5 506.67 1278 473.33 1258 440C1238 406.67 1213 370 1188 340C1163 310 1133.83 285 1108 260C1082.17 235 1051 215.33 1033 190C1015 164.67 1005.5 121.67 1000 108Z" fill="#f0a02e"/>
<path d="M1308 165C1333 172 1333 169.5 1368 182C1403 194.5 1468 217 1518 240C1568 263 1623 291.67 1668 320C1713 348.33 1751.33 380 1788 410L1778 435C1759.67 424.17 1703 390.83 1668 370C1633 349.17 1601.33 327.5 1568 310C1534.67 292.5 1496.33 275 1468 265C1439.67 255 1409.67 252.5 1398 250L1398 250L1308 165Z" fill="#efd83a"/>
<path d="M1398 250C1409.67 252.5 1439.67 255 1468 265C1496.33 275 1534.67 292.5 1568 310C1601.33 327.5 1633 349.17 1668 370C1703 390.83 1759.67 424.17 1778 435L1778 435C1773.83 442.5 1756.33 465.83 1753 480C1749.67 494.17 1763.83 505 1758 520C1752.17 535 1725.5 555 1718 570C1710.5 585 1714.67 599.17 1713 610C1711.33 620.83 1708.83 630.83 1708 635L1708 635C1698 631.67 1668 620.83 1648 615C1628 609.17 1598 602.5 1588 600L1588 600C1579.67 585 1554.67 540 1538 510C1521.33 480 1501.33 448.33 1488 420C1474.67 391.67 1473 368.33 1458 340C1443 311.67 1408 265 1398 250Z" fill="#efc436"/>
<path d="M1778 435L1788 410L1788 410C1824.67 440 1858 470 1888 500C1918 530 1943 558.33 1968 590C1993 621.67 2016.33 656.67 2038 690C2059.67 723.33 2081.33 758.33 2098 790C2114.67 821.67 2128.83 851.67 2138 880C2147.17 908.33 2152.17 935 2153 960C2153.83 985 2150.5 1008.33 2143 1030C2135.5 1051.67 2122.17 1071.67 2108 1090C2093.83 1108.33 2069.33 1130 2058 1140C2046.67 1150 2049.67 1145 2040 1150L2040 1150C2043.83 1141.67 2058.33 1114.17 2063 1100C2067.67 1085.83 2070.5 1075 2068 1065C2065.5 1055 2051.33 1044.17 2048 1040L2048 1040C2045.5 1033.33 2039.67 1020 2033 1000C2026.33 980 2018.83 945 2008 920C1997.17 895 1986.33 867.5 1968 850C1949.67 832.5 1923 823.33 1898 815C1873 806.67 1831.33 802.5 1818 800L1818 800C1816.33 796.67 1818 796.67 1808 780C1798 763.33 1774.67 724.17 1758 700C1741.33 675.83 1716.33 645.83 1708 635L1708 635C1708.83 630.83 1711.33 620.83 1713 610C1714.67 599.17 1710.5 585 1718 570C1725.5 555 1752.17 535 1758 520C1763.83 505 1749.67 494.17 1753 480C1756.33 465.83 1773.83 442.5 1778 435Z" fill="#f0e83e"/>
<path d="M1588 600C1598 602.5 1628 609.17 1648 615C1668 620.83 1698 631.67 1708 635L1708 635C1716.33 645.83 1741.33 675.83 1758 700C1774.67 724.17 1798 763.33 1808 780C1818 796.67 1816.33 796.67 1818 800L1818 800C1809.67 806.67 1784.67 825 1768 840C1751.33 855 1734.67 873.33 1718 890C1701.33 906.67 1679.67 928 1668 940C1656.33 952 1651.33 958.33 1648 962L1648 962C1638 955 1608 932 1588 920C1568 908 1543 896.67 1528 890C1513 883.33 1503 881.67 1498 880L1498 880C1499.67 878.33 1503 886.67 1508 870C1513 853.33 1518 808.33 1528 780C1538 751.67 1558 730 1568 700C1578 670 1584.67 616.67 1588 600Z" fill="#efb434"/>
<path d="M1818 800C1831.33 802.5 1873 806.67 1898 815C1923 823.33 1949.67 832.5 1968 850C1986.33 867.5 1997.17 895 2008 920C2018.83 945 2026.33 980 2033 1000C2039.67 1020 2045.5 1033.33 2048 1040L2048 1040C2034.67 1042.5 1998 1049.17 1968 1055C1938 1060.83 1894.67 1070 1868 1075C1841.33 1080 1818 1083.33 1808 1085L1808 1085C1799.67 1080.83 1774.67 1070.83 1758 1060C1741.33 1049.17 1724.67 1032.5 1708 1020C1691.33 1007.5 1668 994.67 1658 985C1648 975.33 1649.67 965.83 1648 962L1648 962C1651.33 958.33 1656.33 952 1668 940C1679.67 928 1701.33 906.67 1718 890C1734.67 873.33 1751.33 855 1768 840C1784.67 825 1809.67 806.67 1818 800Z" fill="#efcc38"/>
<path d="M1808 1085C1818 1083.33 1841.33 1080 1868 1075C1894.67 1070 1938 1060.83 1968 1055C1998 1049.17 2034.67 1042.5 2048 1040L2048 1040C2051.33 1044.17 2065.5 1055 2068 1065C2070.5 1075 2067.67 1085.83 2063 1100C2058.33 1114.17 2043.83 1141.67 2040 1150L2040 1150C2031.33 1150.33 2008.33 1152 1988 1152C1967.67 1152 1939.67 1153.67 1918 1150C1896.33 1146.33 1874.67 1137.5 1858 1130C1841.33 1122.5 1826.33 1112.5 1818 1105C1809.67 1097.5 1809.67 1088.33 1808 1085Z" fill="#efd83a"/>
<path d="M1648 962C1649.67 965.83 1648 975.33 1658 985C1668 994.67 1691.33 1007.5 1708 1020C1724.67 1032.5 1741.33 1049.17 1758 1060C1774.67 1070.83 1799.67 1080.83 1808 1085L1808 1085C1809.67 1088.33 1809.67 1097.5 1818 1105C1826.33 1112.5 1841.33 1122.5 1858 1130C1874.67 1137.5 1896.33 1146.33 1918 1150C1939.67 1153.67 1967.67 1152 1988 1152C2008.33 1152 2031.33 1150.33 2040 1150L2040 1150C2030.33 1155 2020.33 1162.5 2000 1170C1979.67 1177.5 1948.33 1187.5 1918 1195C1887.67 1202.5 1851.33 1209.5 1818 1215C1784.67 1220.5 1745.5 1223.67 1718 1228C1690.5 1232.33 1673 1236.17 1653 1241L1653 1241C1655.5 1232.17 1663.83 1210.17 1668 1188C1672.17 1165.83 1677.17 1134.67 1678 1108C1678.83 1081.33 1678 1052.33 1673 1028C1668 1003.67 1652.17 973 1648 962Z" fill="#efd83a"/>
<path d="M403 1048C417.17 1054.67 457.17 1069.67 488 1088C518.83 1106.33 554.67 1134.67 588 1158C621.33 1181.33 654.67 1206.33 688 1228C721.33 1249.67 754.67 1268.83 788 1288C821.33 1307.17 854.67 1325.5 888 1343C921.33 1360.5 954.67 1377.17 988 1393C1021.33 1408.83 1054.67 1424.67 1088 1438C1121.33 1451.33 1154.67 1463 1188 1473C1221.33 1483 1261.33 1492.17 1288 1498C1314.67 1503.83 1338 1506.33 1348 1508L1348 1508C1334.67 1508.83 1314.67 1510.5 1288 1508C1261.33 1505.5 1221.33 1499.67 1188 1493C1154.67 1486.33 1121.33 1477.17 1088 1468C1054.67 1458.83 1021.33 1448.83 988 1438C954.67 1427.17 921.33 1415.5 888 1403C854.67 1390.5 821.33 1376.33 788 1363C754.67 1349.67 721.33 1337.17 688 1323C654.67 1308.83 621.33 1293 588 1278C554.67 1263 520.5 1247.67 488 1233C455.5 1218.33 426.33 1200.83 393 1190L393 1190C393.83 1178.33 396.33 1143.67 398 1120C399.67 1096.33 402.17 1060 403 1048Z" fill="#f48426"/>
<path d="M394 960C401.33 953 419 928.33 438 918C457 907.67 483 901.33 508 898C533 894.67 565.17 894.83 588 898C610.83 901.17 635.5 913.83 645 917L645 917C648 927.17 655.83 959.5 663 978C670.17 996.5 677.17 1013.83 688 1028C698.83 1042.17 711.33 1054.67 728 1063C744.67 1071.33 768 1076.33 788 1078C808 1079.67 833 1074.67 848 1073C863 1071.33 873 1068.83 878 1068L878 1068C888 1074.67 911.33 1091.33 938 1108C964.67 1124.67 1004.67 1148 1038 1168C1071.33 1188 1104.67 1208 1138 1228C1171.33 1248 1204.67 1266.33 1238 1288C1271.33 1309.67 1309.67 1338 1338 1358C1366.33 1378 1388.83 1393.83 1408 1408C1427.17 1422.17 1445.5 1437.17 1453 1443L1453 1443C1443 1457.17 1432.17 1473 1418 1483C1403.83 1493 1379.67 1498.83 1368 1503C1356.33 1507.17 1361.33 1507.17 1348 1508L1348 1508C1338 1506.33 1314.67 1503.83 1288 1498C1261.33 1492.17 1221.33 1483 1188 1473C1154.67 1463 1121.33 1451.33 1088 1438C1054.67 1424.67 1021.33 1408.83 988 1393C954.67 1377.17 921.33 1360.5 888 1343C854.67 1325.5 821.33 1307.17 788 1288C754.67 1268.83 721.33 1249.67 688 1228C654.67 1206.33 621.33 1181.33 588 1158C554.67 1134.67 518.83 1106.33 488 1088C457.17 1069.67 417.17 1054.67 403 1048L403 1048L394 960Z" fill="#f48426"/>
<path d="M795 755C798.33 752 805.83 738.67 815 737C824.17 735.33 835.83 739.5 850 745C864.17 750.5 881.67 764.17 900 770C918.33 775.83 936.67 771.67 960 780C983.33 788.33 1023.67 810.33 1040 820C1056.33 829.67 1055 835 1058 838L1058 838C1063 848 1074.67 876.33 1088 898C1101.33 919.67 1121.33 946.33 1138 968C1154.67 989.67 1173.83 1013.83 1188 1028C1202.17 1042.17 1217.17 1048.83 1223 1053L1223 1053C1225.83 1047.5 1235.83 1030 1240 1020C1244.17 1010 1246.67 997.5 1248 993L1248 993C1254.67 998.83 1268 1008.83 1288 1028C1308 1047.17 1343 1084.67 1368 1108C1393 1131.33 1418 1149.67 1438 1168C1458 1186.33 1473.83 1201.33 1488 1218C1502.17 1234.67 1514.67 1256 1523 1268C1531.33 1280 1535.5 1286.33 1538 1290L1538 1290C1531.33 1294.5 1524.67 1300.33 1518 1310C1511.33 1319.67 1504.67 1333.33 1498 1348C1491.33 1362.67 1485.5 1382.17 1478 1398C1470.5 1413.83 1463 1428.83 1453 1443L1453 1443C1445.5 1437.17 1427.17 1422.17 1408 1408C1388.83 1393.83 1366.33 1378 1338 1358C1309.67 1338 1271.33 1309.67 1238 1288C1204.67 1266.33 1171.33 1248 1138 1228C1104.67 1208 1071.33 1188 1038 1168C1004.67 1148 964.67 1124.67 938 1108C911.33 1091.33 888 1074.67 878 1068L878 1068C873.83 1061.33 858.83 1041.33 853 1028C847.17 1014.67 841.33 1003 843 988C844.67 973 858.83 954.67 863 938C867.17 921.33 870.5 904.67 868 888C865.5 871.33 856.33 854.67 848 838C839.67 821.33 825.5 799.67 818 788C810.5 776.33 806.83 773.5 803 768C799.17 762.5 796.33 757.17 795 755Z" fill="#f38a28"/>
<path d="M1108 832C1117.17 828.33 1139.67 811.17 1163 810C1186.33 808.83 1220.5 818.33 1248 825C1275.5 831.67 1303.83 844.17 1328 850C1352.17 855.83 1373 855 1393 860C1413 865 1430.5 876.67 1448 880C1465.5 883.33 1484.67 878.33 1498 880C1511.33 881.67 1513 883.33 1528 890C1543 896.67 1568 908 1588 920C1608 932 1638 955 1648 962L1648 962C1652.17 973 1668 1003.67 1673 1028C1678 1052.33 1678.83 1081.33 1678 1108C1677.17 1134.67 1672.17 1165.83 1668 1188C1663.83 1210.17 1655.5 1232.17 1653 1241L1653 1241C1633 1245.83 1613.83 1250 1598 1257C1582.17 1264 1568 1277.5 1558 1283C1548 1288.5 1544.67 1285.5 1538 1290L1538 1290C1535.5 1286.33 1531.33 1280 1523 1268C1514.67 1256 1502.17 1234.67 1488 1218C1473.83 1201.33 1458 1186.33 1438 1168C1418 1149.67 1393 1131.33 1368 1108C1343 1084.67 1308 1047.17 1288 1028C1268 1008.83 1254.67 998.83 1248 993L1248 993L1223 1008L1223 1008C1217.17 996.33 1200.5 959.67 1188 938C1175.5 916.33 1161.33 895.67 1148 878C1134.67 860.33 1114.67 839.67 1108 832Z" fill="#f19a2c"/>
<path d="M740 752L795 755L795 755C796.33 757.17 799.17 762.5 803 768C806.83 773.5 810.5 776.33 818 788C825.5 799.67 839.67 821.33 848 838C856.33 854.67 865.5 871.33 868 888C870.5 904.67 867.17 921.33 863 938C858.83 954.67 844.67 973 843 988C841.33 1003 847.17 1014.67 853 1028C858.83 1041.33 873.83 1061.33 878 1068L878 1068C873 1068.83 863 1071.33 848 1073C833 1074.67 808 1079.67 788 1078C768 1076.33 744.67 1071.33 728 1063C711.33 1054.67 698.83 1042.17 688 1028C677.17 1013.83 670.17 996.5 663 978C655.83 959.5 648 927.17 645 917L645 917C650.83 912.5 670.83 904.5 680 890C689.17 875.5 690 853 700 830C710 807 733.33 765 740 752Z" fill="#fc5c18"/>
<path d="M1058 838C1063 848 1074.67 876.33 1088 898C1101.33 919.67 1121.33 946.33 1138 968C1154.67 989.67 1173.83 1013.83 1188 1028C1202.17 1042.17 1217.17 1048.83 1223 1053L1223 1053L1223 1008L1223 1008C1217.17 996.33 1200.5 959.67 1188 938C1175.5 916.33 1161.33 895.67 1148 878C1134.67 860.33 1114.67 839.67 1108 832L1108 832C1103 831.33 1086.33 827 1078 828C1069.67 829 1061.33 836.33 1058 838Z" fill="#f57c22"/>
<path d="M90 960C86 937.5 84.33 923.33 86 905C87.67 886.67 91 870.83 100 850C109 829.17 122.5 805 140 780C157.5 755 181.67 735 205 700C228.33 665 250.83 615 280 570C309.17 525 358.33 459.5 380 430C401.67 400.5 393.33 413 410 393C426.67 373 451.67 338.83 480 310C508.33 281.17 546.67 245 580 220C613.33 195 646.67 175.83 680 160C713.33 144.17 755 132 780 125C805 118 813.33 120.5 830 118C846.67 115.5 865.33 111.67 880 110C894.67 108.33 898 108.33 918 108C938 107.67 975 107 1000 108C1025 109 1043 111.67 1068 114C1093 116.33 1125 117.67 1150 122C1175 126.33 1191.67 132.83 1218 140C1244.33 147.17 1283 158 1308 165C1333 172 1333 169.5 1368 182C1403 194.5 1468 217 1518 240C1568 263 1623 291.67 1668 320C1713 348.33 1751.33 380 1788 410C1824.67 440 1858 470 1888 500C1918 530 1943 558.33 1968 590C1993 621.67 2016.33 656.67 2038 690C2059.67 723.33 2081.33 758.33 2098 790C2114.67 821.67 2128.83 851.67 2138 880C2147.17 908.33 2152.17 935 2153 960C2153.83 985 2150.5 1008.33 2143 1030C2135.5 1051.67 2122.17 1071.67 2108 1090C2093.83 1108.33 2069.33 1130 2058 1140C2046.67 1150 2049.67 1145 2040 1150C2030.33 1155 2020.33 1162.5 2000 1170C1979.67 1177.5 1948.33 1187.5 1918 1195C1887.67 1202.5 1851.33 1209.5 1818 1215C1784.67 1220.5 1745.5 1223.67 1718 1228C1690.5 1232.33 1673 1236.17 1653 1241C1633 1245.83 1613.83 1250 1598 1257C1582.17 1264 1568 1277.5 1558 1283C1548 1288.5 1544.67 1285.5 1538 1290C1531.33 1294.5 1524.67 1300.33 1518 1310C1511.33 1319.67 1504.67 1333.33 1498 1348C1491.33 1362.67 1485.5 1382.17 1478 1398C1470.5 1413.83 1463 1428.83 1453 1443C1443 1457.17 1432.17 1473 1418 1483C1403.83 1493 1379.67 1498.83 1368 1503C1356.33 1507.17 1361.33 1507.17 1348 1508C1334.67 1508.83 1314.67 1510.5 1288 1508C1261.33 1505.5 1221.33 1499.67 1188 1493C1154.67 1486.33 1121.33 1477.17 1088 1468C1054.67 1458.83 1021.33 1448.83 988 1438C954.67 1427.17 921.33 1415.5 888 1403C854.67 1390.5 821.33 1376.33 788 1363C754.67 1349.67 721.33 1337.17 688 1323C654.67 1308.83 621.33 1293 588 1278C554.67 1263 520.5 1247.67 488 1233C455.5 1218.33 426.33 1200.83 393 1190C359.67 1179.17 311.83 1174.67 288 1168C264.17 1161.33 271.33 1161.33 250 1150C228.67 1138.67 183.33 1118.33 160 1100C136.67 1081.67 121.67 1063.33 110 1040C98.33 1016.67 94 982.5 90 960Z" fill="none" stroke="#4a4420" stroke-opacity="0.8" stroke-width="9"/>
</g>
<g transform="translate(524.03 812.36) scale(0.08333 0.08367)" stroke="#2c2a00" stroke-opacity="0.72" stroke-width="7.5" stroke-linejoin="round">
<path d="M90 960C86 937.5 84.33 923.33 86 905C87.67 886.67 91 870.83 100 850C109 829.17 122.5 805 140 780C157.5 755 181.67 735 205 700C228.33 665 250.83 615 280 570C309.17 525 358.33 459.5 380 430C401.67 400.5 393.33 413 410 393C426.67 373 451.67 338.83 480 310C508.33 281.17 546.67 245 580 220C613.33 195 646.67 175.83 680 160C713.33 144.17 755 132 780 125C805 118 813.33 120.5 830 118C846.67 115.5 865.33 111.67 880 110C894.67 108.33 898 108.33 918 108C938 107.67 975 107 1000 108C1025 109 1043 111.67 1068 114C1093 116.33 1125 117.67 1150 122C1175 126.33 1191.67 132.83 1218 140C1244.33 147.17 1283 158 1308 165C1333 172 1333 169.5 1368 182C1403 194.5 1468 217 1518 240C1568 263 1623 291.67 1668 320C1713 348.33 1751.33 380 1788 410C1824.67 440 1858 470 1888 500C1918 530 1943 558.33 1968 590C1993 621.67 2016.33 656.67 2038 690C2059.67 723.33 2081.33 758.33 2098 790C2114.67 821.67 2128.83 851.67 2138 880C2147.17 908.33 2152.17 935 2153 960C2153.83 985 2150.5 1008.33 2143 1030C2135.5 1051.67 2122.17 1071.67 2108 1090C2093.83 1108.33 2069.33 1130 2058 1140C2046.67 1150 2049.67 1145 2040 1150C2030.33 1155 2020.33 1162.5 2000 1170C1979.67 1177.5 1948.33 1187.5 1918 1195C1887.67 1202.5 1851.33 1209.5 1818 1215C1784.67 1220.5 1745.5 1223.67 1718 1228C1690.5 1232.33 1673 1236.17 1653 1241C1633 1245.83 1613.83 1250 1598 1257C1582.17 1264 1568 1277.5 1558 1283C1548 1288.5 1544.67 1285.5 1538 1290C1531.33 1294.5 1524.67 1300.33 1518 1310C1511.33 1319.67 1504.67 1333.33 1498 1348C1491.33 1362.67 1485.5 1382.17 1478 1398C1470.5 1413.83 1463 1428.83 1453 1443C1443 1457.17 1432.17 1473 1418 1483C1403.83 1493 1379.67 1498.83 1368 1503C1356.33 1507.17 1361.33 1507.17 1348 1508C1334.67 1508.83 1314.67 1510.5 1288 1508C1261.33 1505.5 1221.33 1499.67 1188 1493C1154.67 1486.33 1121.33 1477.17 1088 1468C1054.67 1458.83 1021.33 1448.83 988 1438C954.67 1427.17 921.33 1415.5 888 1403C854.67 1390.5 821.33 1376.33 788 1363C754.67 1349.67 721.33 1337.17 688 1323C654.67 1308.83 621.33 1293 588 1278C554.67 1263 520.5 1247.67 488 1233C455.5 1218.33 426.33 1200.83 393 1190C359.67 1179.17 311.83 1174.67 288 1168C264.17 1161.33 271.33 1161.33 250 1150C228.67 1138.67 183.33 1118.33 160 1100C136.67 1081.67 121.67 1063.33 110 1040C98.33 1016.67 94 982.5 90 960Z" fill="#efb634" stroke="none"/>
<path d="M393 1190C359.67 1179.17 311.83 1174.67 288 1168C264.17 1161.33 271.33 1161.33 250 1150C228.67 1138.67 183.33 1118.33 160 1100C136.67 1081.67 121.67 1063.33 110 1040C98.33 1016.67 94 982.5 90 960C86 937.5 84.33 923.33 86 905C87.67 886.67 91 870.83 100 850C109 829.17 122.5 805 140 780C157.5 755 181.67 735 205 700L205 700C206.67 711.67 207.5 745 215 770C222.5 795 234.17 825 250 850C265.83 875 290 904.17 310 920C330 935.83 356 938.33 370 945C384 951.67 390 957.5 394 960L394 960C395.5 974.67 402.33 1021.33 403 1048C403.67 1074.67 399.67 1096.33 398 1120C396.33 1143.67 393.83 1178.33 393 1190Z" fill="#efac30"/>
<path d="M205 700C228.33 665 250.83 615 280 570C309.17 525 358.33 459.5 380 430C401.67 400.5 393.33 413 410 393L410 393C415 392.83 425 396.5 440 392C455 387.5 480 372.5 500 366C520 359.5 536.67 355.67 560 353C583.33 350.33 610.83 348 640 350C669.17 352 719.17 362.5 735 365L735 365C727.5 374.17 699.17 397.5 690 420C680.83 442.5 680 470 680 500C680 530 686.67 566.67 690 600C693.33 633.33 691.67 674.67 700 700C708.33 725.33 733.33 743.33 740 752L740 752C733.33 765 710 807 700 830C690 853 689.17 875.5 680 890C670.83 904.5 650.83 912.5 645 917L645 917C635.5 913.83 610.83 901.17 588 898C565.17 894.83 533 894.67 508 898C483 901.33 457 907.67 438 918C419 928.33 401.33 953 394 960L394 960C390 957.5 384 951.67 370 945C356 938.33 330 935.83 310 920C290 904.17 265.83 875 250 850C234.17 825 222.5 795 215 770C207.5 745 206.67 711.67 205 700Z" fill="#f19a2c"/>
<path d="M410 393C426.67 373 451.67 338.83 480 310C508.33 281.17 546.67 245 580 220C613.33 195 646.67 175.83 680 160C713.33 144.17 755 132 780 125C805 118 813.33 120.5 830 118L830 118C829.17 131.67 823.33 173 825 200C826.67 227 835.83 259.17 840 280C844.17 300.83 848.33 317.5 850 325L850 325C841.67 327.5 819.17 333.33 800 340C780.83 346.67 745.83 360.83 735 365L735 365C719.17 362.5 669.17 352 640 350C610.83 348 583.33 350.33 560 353C536.67 355.67 520 359.5 500 366C480 372.5 455 387.5 440 392C425 396.5 415 392.83 410 393Z" fill="#f29a2c"/>
<path d="M735 365C745.83 360.83 780.83 346.67 800 340C819.17 333.33 841.67 327.5 850 325L850 325C861.67 325.83 895 322.5 920 330C945 337.5 976.67 351.67 1000 370C1023.33 388.33 1041.67 415 1060 440C1078.33 465 1095 493.33 1110 520C1125 546.67 1140 573.33 1150 600C1160 626.67 1165 653.33 1170 680C1175 706.67 1181.17 738.33 1180 760C1178.83 781.67 1165.83 801.67 1163 810L1163 810C1153.83 813.67 1122.17 829 1108 832C1093.83 835 1086.33 827 1078 828C1069.67 829 1064.33 839.33 1058 838C1051.67 836.67 1056.33 829.67 1040 820C1023.67 810.33 983.33 788.33 960 780C936.67 771.67 918.33 775.83 900 770C881.67 764.17 864.17 750.5 850 745C835.83 739.5 824.17 735.33 815 737C805.83 738.67 807.5 752.5 795 755C782.5 757.5 749.17 752.5 740 752L740 752C733.33 743.33 708.33 725.33 700 700C691.67 674.67 693.33 633.33 690 600C686.67 566.67 680 530 680 500C680 470 680.83 442.5 690 420C699.17 397.5 727.5 374.17 735 365Z" fill="#f0a830"/>
<path d="M830 118C846.67 115.5 865.33 111.67 880 110C894.67 108.33 898 108.33 918 108C938 107.67 975 107 1000 108L1000 108C1005.5 121.67 1015 164.67 1033 190C1051 215.33 1082.17 235 1108 260C1133.83 285 1163 310 1188 340C1213 370 1238 406.67 1258 440C1278 473.33 1295.5 506.67 1308 540C1320.5 573.33 1326.33 606.67 1333 640C1339.67 673.33 1342.17 708.33 1348 740C1353.83 771.67 1360.5 810 1368 830C1375.5 850 1388.83 855 1393 860L1393 860C1382.17 858.33 1352.17 855.83 1328 850C1303.83 844.17 1275.5 831.67 1248 825C1220.5 818.33 1177.17 812.5 1163 810L1163 810C1165.83 801.67 1178.83 781.67 1180 760C1181.17 738.33 1175 706.67 1170 680C1165 653.33 1160 626.67 1150 600C1140 573.33 1125 546.67 1110 520C1095 493.33 1078.33 465 1060 440C1041.67 415 1023.33 388.33 1000 370C976.67 351.67 945 337.5 920 330C895 322.5 861.67 325.83 850 325L850 325C848.33 317.5 844.17 300.83 840 280C835.83 259.17 826.67 227 825 200C823.33 173 829.17 131.67 830 118Z" fill="#efb634"/>
<path d="M1000 108C1025 109 1043 111.67 1068 114C1093 116.33 1125 117.67 1150 122C1175 126.33 1191.67 132.83 1218 140C1244.33 147.17 1283 158 1308 165L1308 165C1323 179.17 1373 220.83 1398 250C1423 279.17 1443 311.67 1458 340C1473 368.33 1474.67 391.67 1488 420C1501.33 448.33 1521.33 480 1538 510C1554.67 540 1583 568.33 1588 600C1593 631.67 1578 670 1568 700C1558 730 1538 751.67 1528 780C1518 808.33 1513 853.33 1508 870C1503 886.67 1499.67 878.33 1498 880L1498 880C1489.67 880 1465.5 883.33 1448 880C1430.5 876.67 1402.17 863.33 1393 860L1393 860C1388.83 855 1375.5 850 1368 830C1360.5 810 1353.83 771.67 1348 740C1342.17 708.33 1339.67 673.33 1333 640C1326.33 606.67 1320.5 573.33 1308 540C1295.5 506.67 1278 473.33 1258 440C1238 406.67 1213 370 1188 340C1163 310 1133.83 285 1108 260C1082.17 235 1051 215.33 1033 190C1015 164.67 1005.5 121.67 1000 108Z" fill="#efc436"/>
<path d="M1308 165C1333 172 1333 169.5 1368 182C1403 194.5 1468 217 1518 240C1568 263 1623 291.67 1668 320C1713 348.33 1751.33 380 1788 410L1778 435C1759.67 424.17 1703 390.83 1668 370C1633 349.17 1601.33 327.5 1568 310C1534.67 292.5 1496.33 275 1468 265C1439.67 255 1409.67 252.5 1398 250L1398 250L1308 165Z" fill="#f1f442"/>
<path d="M1398 250C1409.67 252.5 1439.67 255 1468 265C1496.33 275 1534.67 292.5 1568 310C1601.33 327.5 1633 349.17 1668 370C1703 390.83 1759.67 424.17 1778 435L1778 435C1773.83 442.5 1756.33 465.83 1753 480C1749.67 494.17 1763.83 505 1758 520C1752.17 535 1725.5 555 1718 570C1710.5 585 1714.67 599.17 1713 610C1711.33 620.83 1708.83 630.83 1708 635L1708 635C1698 631.67 1668 620.83 1648 615C1628 609.17 1598 602.5 1588 600L1588 600C1579.67 585 1554.67 540 1538 510C1521.33 480 1501.33 448.33 1488 420C1474.67 391.67 1473 368.33 1458 340C1443 311.67 1408 265 1398 250Z" fill="#efdc3c"/>
<path d="M1778 435L1788 410L1788 410C1824.67 440 1858 470 1888 500C1918 530 1943 558.33 1968 590C1993 621.67 2016.33 656.67 2038 690C2059.67 723.33 2081.33 758.33 2098 790C2114.67 821.67 2128.83 851.67 2138 880C2147.17 908.33 2152.17 935 2153 960C2153.83 985 2150.5 1008.33 2143 1030C2135.5 1051.67 2122.17 1071.67 2108 1090C2093.83 1108.33 2069.33 1130 2058 1140C2046.67 1150 2049.67 1145 2040 1150L2040 1150C2043.83 1141.67 2058.33 1114.17 2063 1100C2067.67 1085.83 2070.5 1075 2068 1065C2065.5 1055 2051.33 1044.17 2048 1040L2048 1040C2045.5 1033.33 2039.67 1020 2033 1000C2026.33 980 2018.83 945 2008 920C1997.17 895 1986.33 867.5 1968 850C1949.67 832.5 1923 823.33 1898 815C1873 806.67 1831.33 802.5 1818 800L1818 800C1816.33 796.67 1818 796.67 1808 780C1798 763.33 1774.67 724.17 1758 700C1741.33 675.83 1716.33 645.83 1708 635L1708 635C1708.83 630.83 1711.33 620.83 1713 610C1714.67 599.17 1710.5 585 1718 570C1725.5 555 1752.17 535 1758 520C1763.83 505 1749.67 494.17 1753 480C1756.33 465.83 1773.83 442.5 1778 435Z" fill="#f2f844"/>
<path d="M1588 600C1598 602.5 1628 609.17 1648 615C1668 620.83 1698 631.67 1708 635L1708 635C1716.33 645.83 1741.33 675.83 1758 700C1774.67 724.17 1798 763.33 1808 780C1818 796.67 1816.33 796.67 1818 800L1818 800C1809.67 806.67 1784.67 825 1768 840C1751.33 855 1734.67 873.33 1718 890C1701.33 906.67 1679.67 928 1668 940C1656.33 952 1651.33 958.33 1648 962L1648 962C1638 955 1608 932 1588 920C1568 908 1543 896.67 1528 890C1513 883.33 1503 881.67 1498 880L1498 880C1499.67 878.33 1503 886.67 1508 870C1513 853.33 1518 808.33 1528 780C1538 751.67 1558 730 1568 700C1578 670 1584.67 616.67 1588 600Z" fill="#efd83a"/>
<path d="M1818 800C1831.33 802.5 1873 806.67 1898 815C1923 823.33 1949.67 832.5 1968 850C1986.33 867.5 1997.17 895 2008 920C2018.83 945 2026.33 980 2033 1000C2039.67 1020 2045.5 1033.33 2048 1040L2048 1040C2034.67 1042.5 1998 1049.17 1968 1055C1938 1060.83 1894.67 1070 1868 1075C1841.33 1080 1818 1083.33 1808 1085L1808 1085C1799.67 1080.83 1774.67 1070.83 1758 1060C1741.33 1049.17 1724.67 1032.5 1708 1020C1691.33 1007.5 1668 994.67 1658 985C1648 975.33 1649.67 965.83 1648 962L1648 962C1651.33 958.33 1656.33 952 1668 940C1679.67 928 1701.33 906.67 1718 890C1734.67 873.33 1751.33 855 1768 840C1784.67 825 1809.67 806.67 1818 800Z" fill="#f0ea40"/>
<path d="M1808 1085C1818 1083.33 1841.33 1080 1868 1075C1894.67 1070 1938 1060.83 1968 1055C1998 1049.17 2034.67 1042.5 2048 1040L2048 1040C2051.33 1044.17 2065.5 1055 2068 1065C2070.5 1075 2067.67 1085.83 2063 1100C2058.33 1114.17 2043.83 1141.67 2040 1150L2040 1150C2031.33 1150.33 2008.33 1152 1988 1152C1967.67 1152 1939.67 1153.67 1918 1150C1896.33 1146.33 1874.67 1137.5 1858 1130C1841.33 1122.5 1826.33 1112.5 1818 1105C1809.67 1097.5 1809.67 1088.33 1808 1085Z" fill="#f1f242"/>
<path d="M1648 962C1649.67 965.83 1648 975.33 1658 985C1668 994.67 1691.33 1007.5 1708 1020C1724.67 1032.5 1741.33 1049.17 1758 1060C1774.67 1070.83 1799.67 1080.83 1808 1085L1808 1085C1809.67 1088.33 1809.67 1097.5 1818 1105C1826.33 1112.5 1841.33 1122.5 1858 1130C1874.67 1137.5 1896.33 1146.33 1918 1150C1939.67 1153.67 1967.67 1152 1988 1152C2008.33 1152 2031.33 1150.33 2040 1150L2040 1150C2030.33 1155 2020.33 1162.5 2000 1170C1979.67 1177.5 1948.33 1187.5 1918 1195C1887.67 1202.5 1851.33 1209.5 1818 1215C1784.67 1220.5 1745.5 1223.67 1718 1228C1690.5 1232.33 1673 1236.17 1653 1241L1653 1241C1655.5 1232.17 1663.83 1210.17 1668 1188C1672.17 1165.83 1677.17 1134.67 1678 1108C1678.83 1081.33 1678 1052.33 1673 1028C1668 1003.67 1652.17 973 1648 962Z" fill="#f1f040"/>
<path d="M403 1048C417.17 1054.67 457.17 1069.67 488 1088C518.83 1106.33 554.67 1134.67 588 1158C621.33 1181.33 654.67 1206.33 688 1228C721.33 1249.67 754.67 1268.83 788 1288C821.33 1307.17 854.67 1325.5 888 1343C921.33 1360.5 954.67 1377.17 988 1393C1021.33 1408.83 1054.67 1424.67 1088 1438C1121.33 1451.33 1154.67 1463 1188 1473C1221.33 1483 1261.33 1492.17 1288 1498C1314.67 1503.83 1338 1506.33 1348 1508L1348 1508C1334.67 1508.83 1314.67 1510.5 1288 1508C1261.33 1505.5 1221.33 1499.67 1188 1493C1154.67 1486.33 1121.33 1477.17 1088 1468C1054.67 1458.83 1021.33 1448.83 988 1438C954.67 1427.17 921.33 1415.5 888 1403C854.67 1390.5 821.33 1376.33 788 1363C754.67 1349.67 721.33 1337.17 688 1323C654.67 1308.83 621.33 1293 588 1278C554.67 1263 520.5 1247.67 488 1233C455.5 1218.33 426.33 1200.83 393 1190L393 1190C393.83 1178.33 396.33 1143.67 398 1120C399.67 1096.33 402.17 1060 403 1048Z" fill="#efd23a"/>
<path d="M394 960C401.33 953 419 928.33 438 918C457 907.67 483 901.33 508 898C533 894.67 565.17 894.83 588 898C610.83 901.17 635.5 913.83 645 917L645 917C648 927.17 655.83 959.5 663 978C670.17 996.5 677.17 1013.83 688 1028C698.83 1042.17 711.33 1054.67 728 1063C744.67 1071.33 768 1076.33 788 1078C808 1079.67 833 1074.67 848 1073C863 1071.33 873 1068.83 878 1068L878 1068C888 1074.67 911.33 1091.33 938 1108C964.67 1124.67 1004.67 1148 1038 1168C1071.33 1188 1104.67 1208 1138 1228C1171.33 1248 1204.67 1266.33 1238 1288C1271.33 1309.67 1309.67 1338 1338 1358C1366.33 1378 1388.83 1393.83 1408 1408C1427.17 1422.17 1445.5 1437.17 1453 1443L1453 1443C1443 1457.17 1432.17 1473 1418 1483C1403.83 1493 1379.67 1498.83 1368 1503C1356.33 1507.17 1361.33 1507.17 1348 1508L1348 1508C1338 1506.33 1314.67 1503.83 1288 1498C1261.33 1492.17 1221.33 1483 1188 1473C1154.67 1463 1121.33 1451.33 1088 1438C1054.67 1424.67 1021.33 1408.83 988 1393C954.67 1377.17 921.33 1360.5 888 1343C854.67 1325.5 821.33 1307.17 788 1288C754.67 1268.83 721.33 1249.67 688 1228C654.67 1206.33 621.33 1181.33 588 1158C554.67 1134.67 518.83 1106.33 488 1088C457.17 1069.67 417.17 1054.67 403 1048L403 1048L394 960Z" fill="#efbc34"/>
<path d="M795 755C798.33 752 805.83 738.67 815 737C824.17 735.33 835.83 739.5 850 745C864.17 750.5 881.67 764.17 900 770C918.33 775.83 936.67 771.67 960 780C983.33 788.33 1023.67 810.33 1040 820C1056.33 829.67 1055 835 1058 838L1058 838C1063 848 1074.67 876.33 1088 898C1101.33 919.67 1121.33 946.33 1138 968C1154.67 989.67 1173.83 1013.83 1188 1028C1202.17 1042.17 1217.17 1048.83 1223 1053L1223 1053C1225.83 1047.5 1235.83 1030 1240 1020C1244.17 1010 1246.67 997.5 1248 993L1248 993C1254.67 998.83 1268 1008.83 1288 1028C1308 1047.17 1343 1084.67 1368 1108C1393 1131.33 1418 1149.67 1438 1168C1458 1186.33 1473.83 1201.33 1488 1218C1502.17 1234.67 1514.67 1256 1523 1268C1531.33 1280 1535.5 1286.33 1538 1290L1538 1290C1531.33 1294.5 1524.67 1300.33 1518 1310C1511.33 1319.67 1504.67 1333.33 1498 1348C1491.33 1362.67 1485.5 1382.17 1478 1398C1470.5 1413.83 1463 1428.83 1453 1443L1453 1443C1445.5 1437.17 1427.17 1422.17 1408 1408C1388.83 1393.83 1366.33 1378 1338 1358C1309.67 1338 1271.33 1309.67 1238 1288C1204.67 1266.33 1171.33 1248 1138 1228C1104.67 1208 1071.33 1188 1038 1168C1004.67 1148 964.67 1124.67 938 1108C911.33 1091.33 888 1074.67 878 1068L878 1068C873.83 1061.33 858.83 1041.33 853 1028C847.17 1014.67 841.33 1003 843 988C844.67 973 858.83 954.67 863 938C867.17 921.33 870.5 904.67 868 888C865.5 871.33 856.33 854.67 848 838C839.67 821.33 825.5 799.67 818 788C810.5 776.33 806.83 773.5 803 768C799.17 762.5 796.33 757.17 795 755Z" fill="#efb634"/>
<path d="M1108 832C1117.17 828.33 1139.67 811.17 1163 810C1186.33 808.83 1220.5 818.33 1248 825C1275.5 831.67 1303.83 844.17 1328 850C1352.17 855.83 1373 855 1393 860C1413 865 1430.5 876.67 1448 880C1465.5 883.33 1484.67 878.33 1498 880C1511.33 881.67 1513 883.33 1528 890C1543 896.67 1568 908 1588 920C1608 932 1638 955 1648 962L1648 962C1652.17 973 1668 1003.67 1673 1028C1678 1052.33 1678.83 1081.33 1678 1108C1677.17 1134.67 1672.17 1165.83 1668 1188C1663.83 1210.17 1655.5 1232.17 1653 1241L1653 1241C1633 1245.83 1613.83 1250 1598 1257C1582.17 1264 1568 1277.5 1558 1283C1548 1288.5 1544.67 1285.5 1538 1290L1538 1290C1535.5 1286.33 1531.33 1280 1523 1268C1514.67 1256 1502.17 1234.67 1488 1218C1473.83 1201.33 1458 1186.33 1438 1168C1418 1149.67 1393 1131.33 1368 1108C1343 1084.67 1308 1047.17 1288 1028C1268 1008.83 1254.67 998.83 1248 993L1248 993L1223 1008L1223 1008C1217.17 996.33 1200.5 959.67 1188 938C1175.5 916.33 1161.33 895.67 1148 878C1134.67 860.33 1114.67 839.67 1108 832Z" fill="#efd83a"/>
<path d="M740 752L795 755L795 755C796.33 757.17 799.17 762.5 803 768C806.83 773.5 810.5 776.33 818 788C825.5 799.67 839.67 821.33 848 838C856.33 854.67 865.5 871.33 868 888C870.5 904.67 867.17 921.33 863 938C858.83 954.67 844.67 973 843 988C841.33 1003 847.17 1014.67 853 1028C858.83 1041.33 873.83 1061.33 878 1068L878 1068C873 1068.83 863 1071.33 848 1073C833 1074.67 808 1079.67 788 1078C768 1076.33 744.67 1071.33 728 1063C711.33 1054.67 698.83 1042.17 688 1028C677.17 1013.83 670.17 996.5 663 978C655.83 959.5 648 927.17 645 917L645 917C650.83 912.5 670.83 904.5 680 890C689.17 875.5 690 853 700 830C710 807 733.33 765 740 752Z" fill="#f0a22e"/>
<path d="M1058 838C1063 848 1074.67 876.33 1088 898C1101.33 919.67 1121.33 946.33 1138 968C1154.67 989.67 1173.83 1013.83 1188 1028C1202.17 1042.17 1217.17 1048.83 1223 1053L1223 1053L1223 1008L1223 1008C1217.17 996.33 1200.5 959.67 1188 938C1175.5 916.33 1161.33 895.67 1148 878C1134.67 860.33 1114.67 839.67 1108 832L1108 832C1103 831.33 1086.33 827 1078 828C1069.67 829 1061.33 836.33 1058 838Z" fill="#f0a630"/>
<path d="M90 960C86 937.5 84.33 923.33 86 905C87.67 886.67 91 870.83 100 850C109 829.17 122.5 805 140 780C157.5 755 181.67 735 205 700C228.33 665 250.83 615 280 570C309.17 525 358.33 459.5 380 430C401.67 400.5 393.33 413 410 393C426.67 373 451.67 338.83 480 310C508.33 281.17 546.67 245 580 220C613.33 195 646.67 175.83 680 160C713.33 144.17 755 132 780 125C805 118 813.33 120.5 830 118C846.67 115.5 865.33 111.67 880 110C894.67 108.33 898 108.33 918 108C938 107.67 975 107 1000 108C1025 109 1043 111.67 1068 114C1093 116.33 1125 117.67 1150 122C1175 126.33 1191.67 132.83 1218 140C1244.33 147.17 1283 158 1308 165C1333 172 1333 169.5 1368 182C1403 194.5 1468 217 1518 240C1568 263 1623 291.67 1668 320C1713 348.33 1751.33 380 1788 410C1824.67 440 1858 470 1888 500C1918 530 1943 558.33 1968 590C1993 621.67 2016.33 656.67 2038 690C2059.67 723.33 2081.33 758.33 2098 790C2114.67 821.67 2128.83 851.67 2138 880C2147.17 908.33 2152.17 935 2153 960C2153.83 985 2150.5 1008.33 2143 1030C2135.5 1051.67 2122.17 1071.67 2108 1090C2093.83 1108.33 2069.33 1130 2058 1140C2046.67 1150 2049.67 1145 2040 1150C2030.33 1155 2020.33 1162.5 2000 1170C1979.67 1177.5 1948.33 1187.5 1918 1195C1887.67 1202.5 1851.33 1209.5 1818 1215C1784.67 1220.5 1745.5 1223.67 1718 1228C1690.5 1232.33 1673 1236.17 1653 1241C1633 1245.83 1613.83 1250 1598 1257C1582.17 1264 1568 1277.5 1558 1283C1548 1288.5 1544.67 1285.5 1538 1290C1531.33 1294.5 1524.67 1300.33 1518 1310C1511.33 1319.67 1504.67 1333.33 1498 1348C1491.33 1362.67 1485.5 1382.17 1478 1398C1470.5 1413.83 1463 1428.83 1453 1443C1443 1457.17 1432.17 1473 1418 1483C1403.83 1493 1379.67 1498.83 1368 1503C1356.33 1507.17 1361.33 1507.17 1348 1508C1334.67 1508.83 1314.67 1510.5 1288 1508C1261.33 1505.5 1221.33 1499.67 1188 1493C1154.67 1486.33 1121.33 1477.17 1088 1468C1054.67 1458.83 1021.33 1448.83 988 1438C954.67 1427.17 921.33 1415.5 888 1403C854.67 1390.5 821.33 1376.33 788 1363C754.67 1349.67 721.33 1337.17 688 1323C654.67 1308.83 621.33 1293 588 1278C554.67 1263 520.5 1247.67 488 1233C455.5 1218.33 426.33 1200.83 393 1190C359.67 1179.17 311.83 1174.67 288 1168C264.17 1161.33 271.33 1161.33 250 1150C228.67 1138.67 183.33 1118.33 160 1100C136.67 1081.67 121.67 1063.33 110 1040C98.33 1016.67 94 982.5 90 960Z" fill="none" stroke="#4a4420" stroke-opacity="0.8" stroke-width="9"/>
</g>
<text transform="translate(426.5 803) scale(0.88 1)" font-size="20.8" text-anchor="middle" font-weight="bold">Alpha</text>
<path d="M121.2 952.3V1495H731.5" fill="none" stroke="#000" stroke-width="2.2" stroke-linejoin="miter"/>
<text transform="translate(71.4 1031.2) scale(0.85 1)" font-size="22" text-anchor="middle" >0.80</text>
<text transform="translate(71.4 1129.2) scale(0.85 1)" font-size="22" text-anchor="middle" >0.60</text>
<text transform="translate(71.4 1229) scale(0.85 1)" font-size="22" text-anchor="middle" >0.40</text>
<text transform="translate(71.4 1328.9) scale(0.85 1)" font-size="22" text-anchor="middle" >0.20</text>
<text transform="translate(71.4 1427.8) scale(0.85 1)" font-size="22" text-anchor="middle" >0</text>
<text transform="translate(22.6 1219.9) rotate(-90) scale(0.841 1)" font-size="21.5" text-anchor="middle">Alpha-band relative power</text>
<text transform="translate(234 1523.7) scale(0.882 1)" font-size="21.7" text-anchor="middle" >Aβ-/Tau-</text>
<text transform="translate(426.7 1523.7) scale(0.882 1)" font-size="21.7" text-anchor="middle" >Aβ+/Tau-</text>
<text transform="translate(616.7 1523.7) scale(0.882 1)" font-size="21.7" text-anchor="middle" >Aβ+/Tau+</text>
<path d="M232.9 994.8V986.3H616.9V994.8" fill="none" stroke="#000" stroke-width="1.8"/>
<path d="M425.3 1019.1V1010.6H616.9V1019.1" fill="none" stroke="#000" stroke-width="1.8"/>
<path d="M232.9 1044.2V1035.7H425.3V1044.2" fill="none" stroke="#000" stroke-width="1.8"/>
<text transform="translate(425.9 981) scale(0.88 1)" font-size="22.5" text-anchor="middle" font-style="italic">ns</text>
<text transform="translate(330.1 1030.5) scale(0.88 1)" font-size="22.5" text-anchor="middle" font-style="italic">ns</text>
<text transform="translate(482.5 1005.2) scale(0.9 1)" font-size="17.6"><tspan font-style="italic" font-size="19">p</tspan><tspan font-style="italic" font-size="12" dy="3.4" dx="-0.4" letter-spacing="-0.35">adj</tspan><tspan dy="-3.4" dx="3.3">=</tspan><tspan dx="4.2">0.054</tspan></text>
<path d="M235.42 1098.33C235.52 1099.72 235.87 1103.89 236.04 1106.67C236.22 1109.44 236.15 1111.53 236.46 1115C236.77 1118.47 237.4 1123.68 237.92 1127.5C238.44 1131.32 239.24 1134.44 239.58 1137.92C239.93 1141.39 240.07 1144.86 240 1148.33C239.93 1151.81 239.58 1155.28 239.17 1158.75C238.75 1162.22 237.81 1166.04 237.5 1169.17C237.19 1172.29 237.22 1175.07 237.29 1177.5C237.36 1179.93 237.55 1181.67 237.92 1183.75C238.28 1185.83 238.65 1187.85 239.48 1190C240.31 1192.15 241.56 1194.41 242.92 1196.67C244.27 1198.92 245.8 1201.28 247.6 1203.54C249.41 1205.8 251.72 1207.95 253.75 1210.21C255.78 1212.47 257.88 1214.83 259.79 1217.08C261.7 1219.34 263.51 1221.49 265.21 1223.75C266.91 1226.01 268.54 1228.37 270 1230.62C271.46 1232.88 272.6 1235.03 273.96 1237.29C275.31 1239.55 276.77 1241.91 278.12 1244.17C279.48 1246.42 280.63 1248.58 282.08 1250.83C283.54 1253.09 285.07 1255.45 286.88 1257.71C288.68 1259.97 290.76 1262.12 292.92 1264.38C295.07 1266.63 297.41 1268.99 299.79 1271.25C302.17 1273.51 304.83 1275.66 307.19 1277.92C309.55 1280.17 312.03 1282.53 313.96 1284.79C315.89 1287.05 317.57 1289.2 318.75 1291.46C319.93 1293.72 320.59 1296.53 321.04 1298.33C321.49 1300.14 321.63 1300.73 321.46 1302.29C321.28 1303.85 321.02 1305.66 320 1307.71C318.98 1309.76 317.33 1312.33 315.31 1314.58C313.3 1316.84 310.62 1318.99 307.92 1321.25C305.21 1323.51 302.01 1325.87 299.06 1328.12C296.11 1330.38 293.14 1332.53 290.21 1334.79C287.27 1337.05 284.38 1339.41 281.46 1341.67C278.54 1343.92 275.64 1346.08 272.71 1348.33C269.77 1350.59 266.68 1352.95 263.85 1355.21C261.02 1357.47 258.21 1359.62 255.73 1361.88C253.25 1364.13 250.89 1366.49 248.96 1368.75C247.03 1371.01 245.52 1373.16 244.17 1375.42C242.81 1377.67 241.74 1380.03 240.83 1382.29C239.93 1384.55 239.38 1386.35 238.75 1388.96C238.13 1391.56 237.53 1394.41 237.08 1397.92C236.63 1401.42 236.32 1406.81 236.04 1410C235.76 1413.19 235.52 1415.9 235.42 1417.08C235.31 1415.9 235.07 1413.19 234.79 1410C234.51 1406.81 234.2 1401.42 233.75 1397.92C233.3 1394.41 232.71 1391.56 232.08 1388.96C231.46 1386.35 230.9 1384.55 230 1382.29C229.1 1380.03 228.02 1377.67 226.67 1375.42C225.31 1373.16 223.8 1371.01 221.88 1368.75C219.95 1366.49 217.59 1364.13 215.1 1361.88C212.62 1359.62 209.81 1357.47 206.98 1355.21C204.15 1352.95 201.06 1350.59 198.12 1348.33C195.19 1346.08 192.29 1343.92 189.38 1341.67C186.46 1339.41 183.56 1337.05 180.62 1334.79C177.69 1332.53 174.72 1330.38 171.77 1328.12C168.82 1325.87 165.63 1323.51 162.92 1321.25C160.21 1318.99 157.53 1316.84 155.52 1314.58C153.51 1312.33 151.86 1309.76 150.83 1307.71C149.81 1305.66 149.55 1303.85 149.38 1302.29C149.2 1300.73 149.34 1300.14 149.79 1298.33C150.24 1296.53 150.9 1293.72 152.08 1291.46C153.26 1289.2 154.95 1287.05 156.88 1284.79C158.8 1282.53 161.28 1280.17 163.65 1277.92C166.01 1275.66 168.66 1273.51 171.04 1271.25C173.42 1268.99 175.76 1266.63 177.92 1264.38C180.07 1262.12 182.15 1259.97 183.96 1257.71C185.76 1255.45 187.29 1253.09 188.75 1250.83C190.21 1248.58 191.35 1246.42 192.71 1244.17C194.06 1241.91 195.52 1239.55 196.88 1237.29C198.23 1235.03 199.38 1232.88 200.83 1230.62C202.29 1228.37 203.92 1226.01 205.63 1223.75C207.33 1221.49 209.13 1219.34 211.04 1217.08C212.95 1214.83 215.05 1212.47 217.08 1210.21C219.11 1207.95 221.42 1205.8 223.23 1203.54C225.03 1201.28 226.56 1198.92 227.92 1196.67C229.27 1194.41 230.52 1192.15 231.35 1190C232.19 1187.85 232.55 1185.83 232.92 1183.75C233.28 1181.67 233.47 1179.93 233.54 1177.5C233.61 1175.07 233.65 1172.29 233.33 1169.17C233.02 1166.04 232.08 1162.22 231.67 1158.75C231.25 1155.28 230.9 1151.81 230.83 1148.33C230.76 1144.86 230.9 1141.39 231.25 1137.92C231.6 1134.44 232.4 1131.32 232.92 1127.5C233.44 1123.68 234.06 1118.47 234.38 1115C234.69 1111.53 234.62 1109.44 234.79 1106.67C234.97 1103.89 235.31 1099.72 235.42 1098.33Z" fill="#5cbcf5" stroke="#1e1e1e" stroke-width="2.2" stroke-linejoin="round"/>
<path d="M235.21 1210.83V1270.21M235.21 1325.42V1367.08" stroke="#3a3636" stroke-width="2" fill="none"/>
<rect x="206.25" y="1270.21" width="57.92" height="55.21" fill="none" stroke="#3a3636" stroke-width="2.1"/>
<path d="M206.25 1297.71H264.17" stroke="#3a3636" stroke-width="4.2"/>
<g fill="#000"><ellipse cx="243.33" cy="1149.38" rx="3.9" ry="3.25"/><ellipse cx="228.12" cy="1210.42" rx="3.9" ry="3.25"/><ellipse cx="221.46" cy="1223.96" rx="3.9" ry="3.25"/><ellipse cx="251.04" cy="1224.38" rx="3.9" ry="3.25"/><ellipse cx="222.5" cy="1244.58" rx="3.9" ry="3.25"/><ellipse cx="232.71" cy="1245.21" rx="3.9" ry="3.25"/><ellipse cx="241.25" cy="1240" rx="3.9" ry="3.25"/><ellipse cx="223.33" cy="1252.08" rx="3.9" ry="3.25"/><ellipse cx="235.42" cy="1251.46" rx="3.9" ry="3.25"/><ellipse cx="239.58" cy="1249.38" rx="3.9" ry="3.25"/><ellipse cx="240.21" cy="1256.04" rx="3.9" ry="3.25"/><ellipse cx="247.5" cy="1269.17" rx="3.9" ry="3.25"/><ellipse cx="248.33" cy="1272.29" rx="3.9" ry="3.25"/><ellipse cx="231.67" cy="1273.33" rx="3.9" ry="3.25"/><ellipse cx="216.67" cy="1278.54" rx="3.9" ry="3.25"/><ellipse cx="223.96" cy="1281.67" rx="3.9" ry="3.25"/><ellipse cx="230.21" cy="1285.42" rx="3.9" ry="3.25"/><ellipse cx="218.33" cy="1291.67" rx="3.9" ry="3.25"/><ellipse cx="223.33" cy="1290.62" rx="3.9" ry="3.25"/><ellipse cx="248.96" cy="1292.08" rx="3.9" ry="3.25"/><ellipse cx="222.92" cy="1296.25" rx="3.9" ry="3.25"/><ellipse cx="228.12" cy="1297.29" rx="3.9" ry="3.25"/><ellipse cx="237.5" cy="1299.38" rx="3.9" ry="3.25"/><ellipse cx="242.29" cy="1297.92" rx="3.9" ry="3.25"/><ellipse cx="219.79" cy="1308.75" rx="3.9" ry="3.25"/><ellipse cx="217.29" cy="1312.5" rx="3.9" ry="3.25"/><ellipse cx="234.38" cy="1310.42" rx="3.9" ry="3.25"/><ellipse cx="228.75" cy="1312.5" rx="3.9" ry="3.25"/><ellipse cx="226.67" cy="1316.46" rx="3.9" ry="3.25"/><ellipse cx="247.5" cy="1310.83" rx="3.9" ry="3.25"/><ellipse cx="248.96" cy="1315" rx="3.9" ry="3.25"/><ellipse cx="243.33" cy="1317.08" rx="3.9" ry="3.25"/><ellipse cx="246.25" cy="1323.33" rx="3.9" ry="3.25"/><ellipse cx="248.96" cy="1326.04" rx="3.9" ry="3.25"/><ellipse cx="218.75" cy="1326.46" rx="3.9" ry="3.25"/><ellipse cx="218.33" cy="1330.62" rx="3.9" ry="3.25"/><ellipse cx="232.71" cy="1332.29" rx="3.9" ry="3.25"/><ellipse cx="253.75" cy="1336.25" rx="3.9" ry="3.25"/><ellipse cx="225.62" cy="1345.62" rx="3.9" ry="3.25"/><ellipse cx="239.58" cy="1346.67" rx="3.9" ry="3.25"/><ellipse cx="245.83" cy="1351.46" rx="3.9" ry="3.25"/><ellipse cx="251.04" cy="1352.08" rx="3.9" ry="3.25"/><ellipse cx="225.62" cy="1358.12" rx="3.9" ry="3.25"/><ellipse cx="235.42" cy="1367.08" rx="3.9" ry="3.25"/></g>
<path d="M426.17 1133.12C426.27 1134.34 426.62 1138.16 426.79 1140.42C426.97 1142.67 426.86 1144.24 427.21 1146.67C427.56 1149.1 427.94 1152.22 428.88 1155C429.81 1157.78 431.44 1160.83 432.83 1163.33C434.22 1165.83 435.33 1167.78 437.21 1170C439.08 1172.22 441.93 1174.41 444.08 1176.67C446.24 1178.92 448.44 1181.28 450.12 1183.54C451.81 1185.8 453.18 1187.95 454.19 1190.21C455.19 1192.47 455.77 1195.28 456.17 1197.08C456.57 1198.89 456.69 1199.24 456.58 1201.04C456.48 1202.85 456.06 1205.66 455.54 1207.92C455.02 1210.17 454.07 1212.33 453.46 1214.58C452.85 1216.84 452.1 1219.41 451.9 1221.46C451.69 1223.51 451.83 1225.07 452.21 1226.88C452.59 1228.68 453.18 1230.49 454.19 1232.29C455.19 1234.1 456.32 1235.69 458.25 1237.71C460.18 1239.72 462.94 1242.12 465.75 1244.38C468.56 1246.63 471.97 1248.99 475.12 1251.25C478.28 1253.51 481.55 1255.66 484.71 1257.92C487.87 1260.17 491.17 1262.53 494.08 1264.79C497 1267.05 499.83 1269.2 502.21 1271.46C504.59 1273.72 506.76 1276.08 508.35 1278.33C509.95 1280.59 511.11 1282.99 511.79 1285C512.47 1287.01 512.47 1288.61 512.42 1290.42C512.36 1292.22 512.28 1293.78 511.48 1295.83C510.68 1297.88 509.27 1300.45 507.62 1302.71C505.98 1304.97 503.94 1307.12 501.58 1309.38C499.22 1311.63 496.39 1313.99 493.46 1316.25C490.52 1318.51 487.24 1320.66 483.98 1322.92C480.72 1325.17 477.26 1327.53 473.88 1329.79C470.49 1332.05 466.95 1334.2 463.67 1336.46C460.39 1338.72 457.24 1341.08 454.19 1343.33C451.13 1345.59 447.92 1347.74 445.33 1350C442.75 1352.26 440.58 1354.62 438.67 1356.88C436.76 1359.13 435.23 1361.28 433.88 1363.54C432.52 1365.8 431.44 1368.02 430.54 1370.42C429.64 1372.81 429.05 1375.28 428.46 1377.92C427.87 1380.56 427.38 1383.47 427 1386.25C426.62 1389.03 426.31 1393.19 426.17 1394.58C426.03 1393.19 425.72 1389.03 425.33 1386.25C424.95 1383.47 424.47 1380.56 423.88 1377.92C423.28 1375.28 422.69 1372.81 421.79 1370.42C420.89 1368.02 419.81 1365.8 418.46 1363.54C417.1 1361.28 415.58 1359.13 413.67 1356.88C411.76 1354.62 409.59 1352.26 407 1350C404.41 1347.74 401.2 1345.59 398.15 1343.33C395.09 1341.08 391.95 1338.72 388.67 1336.46C385.39 1334.2 381.84 1332.05 378.46 1329.79C375.07 1327.53 371.62 1325.17 368.35 1322.92C365.09 1320.66 361.81 1318.51 358.88 1316.25C355.94 1313.99 353.11 1311.63 350.75 1309.38C348.39 1307.12 346.36 1304.97 344.71 1302.71C343.06 1300.45 341.65 1297.88 340.85 1295.83C340.06 1293.78 339.97 1292.22 339.92 1290.42C339.86 1288.61 339.86 1287.01 340.54 1285C341.22 1282.99 342.38 1280.59 343.98 1278.33C345.58 1276.08 347.75 1273.72 350.12 1271.46C352.5 1269.2 355.33 1267.05 358.25 1264.79C361.17 1262.53 364.47 1260.17 367.62 1257.92C370.78 1255.66 374.05 1253.51 377.21 1251.25C380.37 1248.99 383.77 1246.63 386.58 1244.38C389.4 1242.12 392.16 1239.72 394.08 1237.71C396.01 1235.69 397.14 1234.1 398.15 1232.29C399.15 1230.49 399.74 1228.68 400.12 1226.88C400.51 1225.07 400.65 1223.51 400.44 1221.46C400.23 1219.41 399.48 1216.84 398.88 1214.58C398.27 1212.33 397.31 1210.17 396.79 1207.92C396.27 1205.66 395.85 1202.85 395.75 1201.04C395.65 1199.24 395.77 1198.89 396.17 1197.08C396.57 1195.28 397.14 1192.47 398.15 1190.21C399.15 1187.95 400.52 1185.8 402.21 1183.54C403.89 1181.28 406.1 1178.92 408.25 1176.67C410.4 1174.41 413.25 1172.22 415.12 1170C417 1167.78 418.11 1165.83 419.5 1163.33C420.89 1160.83 422.52 1157.78 423.46 1155C424.4 1152.22 424.78 1149.1 425.12 1146.67C425.47 1144.24 425.37 1142.67 425.54 1140.42C425.72 1138.16 426.06 1134.34 426.17 1133.12Z" fill="#49d43e" stroke="#1e1e1e" stroke-width="2.2" stroke-linejoin="round"/>
<path d="M425.85 1185.83V1259.17M425.85 1312.92V1338.33" stroke="#3a3636" stroke-width="2" fill="none"/>
<rect x="396.58" y="1259.17" width="58.54" height="53.75" fill="none" stroke="#3a3636" stroke-width="2.1"/>
<path d="M396.58 1287.71H455.12" stroke="#3a3636" stroke-width="4.2"/>
<g fill="#000"><ellipse cx="410.12" cy="1187.71" rx="3.9" ry="3.25"/><ellipse cx="441.38" cy="1184.79" rx="3.9" ry="3.25"/><ellipse cx="442.62" cy="1200.42" rx="3.9" ry="3.25"/><ellipse cx="415.33" cy="1203.96" rx="3.9" ry="3.25"/><ellipse cx="420.12" cy="1201.46" rx="3.9" ry="3.25"/><ellipse cx="425.33" cy="1200.83" rx="3.9" ry="3.25"/><ellipse cx="407.21" cy="1225.83" rx="3.9" ry="3.25"/><ellipse cx="428.46" cy="1230.62" rx="3.9" ry="3.25"/><ellipse cx="428.04" cy="1242.08" rx="3.9" ry="3.25"/><ellipse cx="410.75" cy="1253.96" rx="3.9" ry="3.25"/><ellipse cx="434.29" cy="1257.71" rx="3.9" ry="3.25"/><ellipse cx="439.92" cy="1263.33" rx="3.9" ry="3.25"/><ellipse cx="410.33" cy="1265" rx="3.9" ry="3.25"/><ellipse cx="425.33" cy="1263.33" rx="3.9" ry="3.25"/><ellipse cx="410.75" cy="1271.67" rx="3.9" ry="3.25"/><ellipse cx="425.96" cy="1271.04" rx="3.9" ry="3.25"/><ellipse cx="421.17" cy="1277.5" rx="3.9" ry="3.25"/><ellipse cx="424.29" cy="1281.04" rx="3.9" ry="3.25"/><ellipse cx="417" cy="1283.12" rx="3.9" ry="3.25"/><ellipse cx="412.42" cy="1288.33" rx="3.9" ry="3.25"/><ellipse cx="433.67" cy="1287.29" rx="3.9" ry="3.25"/><ellipse cx="431.58" cy="1290" rx="3.9" ry="3.25"/><ellipse cx="421.17" cy="1292.5" rx="3.9" ry="3.25"/><ellipse cx="429.5" cy="1294.58" rx="3.9" ry="3.25"/><ellipse cx="422.21" cy="1297.71" rx="3.9" ry="3.25"/><ellipse cx="440.96" cy="1299.17" rx="3.9" ry="3.25"/><ellipse cx="433.67" cy="1301.88" rx="3.9" ry="3.25"/><ellipse cx="428.46" cy="1304.58" rx="3.9" ry="3.25"/><ellipse cx="431.58" cy="1310.21" rx="3.9" ry="3.25"/><ellipse cx="437.83" cy="1313.33" rx="3.9" ry="3.25"/><ellipse cx="422.83" cy="1316.46" rx="3.9" ry="3.25"/><ellipse cx="421.17" cy="1320.62" rx="3.9" ry="3.25"/><ellipse cx="417.42" cy="1323.75" rx="3.9" ry="3.25"/><ellipse cx="408.25" cy="1323.12" rx="3.9" ry="3.25"/><ellipse cx="439.92" cy="1328.54" rx="3.9" ry="3.25"/><ellipse cx="410.75" cy="1330" rx="3.9" ry="3.25"/><ellipse cx="425.33" cy="1333.75" rx="3.9" ry="3.25"/><ellipse cx="428.04" cy="1336.25" rx="3.9" ry="3.25"/><ellipse cx="421.17" cy="1341.04" rx="3.9" ry="3.25"/><ellipse cx="413.46" cy="1342.5" rx="3.9" ry="3.25"/></g>
<path d="M616.38 1162.5C616.48 1163.89 616.83 1168.4 617 1170.83C617.17 1173.26 616.9 1174.31 617.42 1177.08C617.94 1179.86 619.33 1184.72 620.12 1187.5C620.92 1190.28 621.44 1191.67 622.21 1193.75C622.97 1195.83 623.39 1197.85 624.71 1200C626.03 1202.15 628.2 1204.41 630.12 1206.67C632.05 1208.92 634.22 1211.28 636.27 1213.54C638.32 1215.8 640.49 1217.95 642.42 1220.21C644.34 1222.47 646.15 1224.83 647.83 1227.08C649.52 1229.34 651.17 1231.49 652.52 1233.75C653.88 1236.01 655.06 1238.37 655.96 1240.62C656.86 1242.88 657.49 1245.03 657.94 1247.29C658.39 1249.55 658.51 1251.91 658.67 1254.17C658.82 1256.42 658.77 1258.58 658.88 1260.83C658.98 1263.09 659.07 1265.45 659.29 1267.71C659.52 1269.97 659.78 1272.12 660.23 1274.38C660.68 1276.63 661.15 1278.99 662 1281.25C662.85 1283.51 663.98 1285.66 665.33 1287.92C666.69 1290.17 668.42 1292.53 670.12 1294.79C671.83 1297.05 673.74 1299.2 675.54 1301.46C677.35 1303.72 679.38 1306.08 680.96 1308.33C682.54 1310.59 683.94 1312.74 685.02 1315C686.1 1317.26 686.84 1319.62 687.42 1321.88C687.99 1324.13 688.41 1326.28 688.46 1328.54C688.51 1330.8 688.3 1333.16 687.73 1335.42C687.16 1337.67 686.25 1339.83 685.02 1342.08C683.79 1344.34 682.14 1346.7 680.33 1348.96C678.53 1351.22 676.34 1353.37 674.19 1355.62C672.03 1357.88 669.67 1360.24 667.42 1362.5C665.16 1364.76 662.9 1366.91 660.65 1369.17C658.39 1371.42 656.13 1373.78 653.88 1376.04C651.62 1378.3 649.26 1380.45 647.1 1382.71C644.95 1384.97 642.89 1387.33 640.96 1389.58C639.03 1391.84 637.23 1393.99 635.54 1396.25C633.86 1398.51 632.09 1401.18 630.85 1403.12C629.62 1405.07 629.31 1405.66 628.15 1407.92C626.98 1410.17 625.14 1413.82 623.88 1416.67C622.61 1419.51 621.44 1422.22 620.54 1425C619.64 1427.78 618.98 1430.56 618.46 1433.33C617.94 1436.11 617.76 1437.85 617.42 1441.67C617.07 1445.49 616.55 1453.82 616.38 1456.25C616.2 1453.82 615.68 1445.49 615.33 1441.67C614.99 1437.85 614.81 1436.11 614.29 1433.33C613.77 1430.56 613.11 1427.78 612.21 1425C611.31 1422.22 610.14 1419.51 608.88 1416.67C607.61 1413.82 605.77 1410.17 604.6 1407.92C603.44 1405.66 603.13 1405.07 601.9 1403.12C600.66 1401.18 598.89 1398.51 597.21 1396.25C595.52 1393.99 593.72 1391.84 591.79 1389.58C589.86 1387.33 587.8 1384.97 585.65 1382.71C583.49 1380.45 581.13 1378.3 578.88 1376.04C576.62 1373.78 574.36 1371.42 572.1 1369.17C569.85 1366.91 567.59 1364.76 565.33 1362.5C563.08 1360.24 560.72 1357.88 558.56 1355.62C556.41 1353.37 554.22 1351.22 552.42 1348.96C550.61 1346.7 548.96 1344.34 547.73 1342.08C546.5 1339.83 545.59 1337.67 545.02 1335.42C544.45 1333.16 544.24 1330.8 544.29 1328.54C544.34 1326.28 544.76 1324.13 545.33 1321.88C545.91 1319.62 546.65 1317.26 547.73 1315C548.81 1312.74 550.21 1310.59 551.79 1308.33C553.37 1306.08 555.4 1303.72 557.21 1301.46C559.01 1299.2 560.92 1297.05 562.62 1294.79C564.33 1292.53 566.06 1290.17 567.42 1287.92C568.77 1285.66 569.9 1283.51 570.75 1281.25C571.6 1278.99 572.07 1276.63 572.52 1274.38C572.97 1272.12 573.23 1269.97 573.46 1267.71C573.68 1265.45 573.77 1263.09 573.88 1260.83C573.98 1258.58 573.93 1256.42 574.08 1254.17C574.24 1251.91 574.36 1249.55 574.81 1247.29C575.26 1245.03 575.89 1242.88 576.79 1240.62C577.69 1238.37 578.88 1236.01 580.23 1233.75C581.58 1231.49 583.23 1229.34 584.92 1227.08C586.6 1224.83 588.41 1222.47 590.33 1220.21C592.26 1217.95 594.43 1215.8 596.48 1213.54C598.53 1211.28 600.7 1208.92 602.62 1206.67C604.55 1204.41 606.72 1202.15 608.04 1200C609.36 1197.85 609.78 1195.83 610.54 1193.75C611.31 1191.67 611.83 1190.28 612.62 1187.5C613.42 1184.72 614.81 1179.86 615.33 1177.08C615.85 1174.31 615.58 1173.26 615.75 1170.83C615.92 1168.4 616.27 1163.89 616.38 1162.5Z" fill="#ef6f6f" stroke="#1e1e1e" stroke-width="2.2" stroke-linejoin="round"/>
<path d="M616.38 1241.67V1279.17M616.38 1343.33V1377.08" stroke="#3a3636" stroke-width="2" fill="none"/>
<rect x="587.21" y="1279.17" width="58.33" height="64.17" fill="none" stroke="#3a3636" stroke-width="2.1"/>
<path d="M587.21 1324.58H645.54" stroke="#3a3636" stroke-width="4.2"/>
<g fill="#000"><ellipse cx="614.29" cy="1241.25" rx="3.9" ry="3.25"/><ellipse cx="627.42" cy="1243.12" rx="3.9" ry="3.25"/><ellipse cx="609.71" cy="1268.33" rx="3.9" ry="3.25"/><ellipse cx="610.75" cy="1290.21" rx="3.9" ry="3.25"/><ellipse cx="628.25" cy="1318.75" rx="3.9" ry="3.25"/><ellipse cx="612.21" cy="1324.58" rx="3.9" ry="3.25"/><ellipse cx="629.08" cy="1334.38" rx="3.9" ry="3.25"/><ellipse cx="617" cy="1343.33" rx="3.9" ry="3.25"/><ellipse cx="633.04" cy="1343.33" rx="3.9" ry="3.25"/><ellipse cx="631.58" cy="1371.46" rx="3.9" ry="3.25"/><ellipse cx="615.33" cy="1377.08" rx="3.9" ry="3.25"/></g>
</g>
<g>
<g transform="translate(945.53 811.76) scale(0.08333 0.08367)" stroke="#2c2a00" stroke-opacity="0.72" stroke-width="7.5" stroke-linejoin="round">
<path d="M90 960C86 937.5 84.33 923.33 86 905C87.67 886.67 91 870.83 100 850C109 829.17 122.5 805 140 780C157.5 755 181.67 735 205 700C228.33 665 250.83 615 280 570C309.17 525 358.33 459.5 380 430C401.67 400.5 393.33 413 410 393C426.67 373 451.67 338.83 480 310C508.33 281.17 546.67 245 580 220C613.33 195 646.67 175.83 680 160C713.33 144.17 755 132 780 125C805 118 813.33 120.5 830 118C846.67 115.5 865.33 111.67 880 110C894.67 108.33 898 108.33 918 108C938 107.67 975 107 1000 108C1025 109 1043 111.67 1068 114C1093 116.33 1125 117.67 1150 122C1175 126.33 1191.67 132.83 1218 140C1244.33 147.17 1283 158 1308 165C1333 172 1333 169.5 1368 182C1403 194.5 1468 217 1518 240C1568 263 1623 291.67 1668 320C1713 348.33 1751.33 380 1788 410C1824.67 440 1858 470 1888 500C1918 530 1943 558.33 1968 590C1993 621.67 2016.33 656.67 2038 690C2059.67 723.33 2081.33 758.33 2098 790C2114.67 821.67 2128.83 851.67 2138 880C2147.17 908.33 2152.17 935 2153 960C2153.83 985 2150.5 1008.33 2143 1030C2135.5 1051.67 2122.17 1071.67 2108 1090C2093.83 1108.33 2069.33 1130 2058 1140C2046.67 1150 2049.67 1145 2040 1150C2030.33 1155 2020.33 1162.5 2000 1170C1979.67 1177.5 1948.33 1187.5 1918 1195C1887.67 1202.5 1851.33 1209.5 1818 1215C1784.67 1220.5 1745.5 1223.67 1718 1228C1690.5 1232.33 1673 1236.17 1653 1241C1633 1245.83 1613.83 1250 1598 1257C1582.17 1264 1568 1277.5 1558 1283C1548 1288.5 1544.67 1285.5 1538 1290C1531.33 1294.5 1524.67 1300.33 1518 1310C1511.33 1319.67 1504.67 1333.33 1498 1348C1491.33 1362.67 1485.5 1382.17 1478 1398C1470.5 1413.83 1463 1428.83 1453 1443C1443 1457.17 1432.17 1473 1418 1483C1403.83 1493 1379.67 1498.83 1368 1503C1356.33 1507.17 1361.33 1507.17 1348 1508C1334.67 1508.83 1314.67 1510.5 1288 1508C1261.33 1505.5 1221.33 1499.67 1188 1493C1154.67 1486.33 1121.33 1477.17 1088 1468C1054.67 1458.83 1021.33 1448.83 988 1438C954.67 1427.17 921.33 1415.5 888 1403C854.67 1390.5 821.33 1376.33 788 1363C754.67 1349.67 721.33 1337.17 688 1323C654.67 1308.83 621.33 1293 588 1278C554.67 1263 520.5 1247.67 488 1233C455.5 1218.33 426.33 1200.83 393 1190C359.67 1179.17 311.83 1174.67 288 1168C264.17 1161.33 271.33 1161.33 250 1150C228.67 1138.67 183.33 1118.33 160 1100C136.67 1081.67 121.67 1063.33 110 1040C98.33 1016.67 94 982.5 90 960Z" fill="#efd23a" stroke="none"/>
<path d="M393 1190C359.67 1179.17 311.83 1174.67 288 1168C264.17 1161.33 271.33 1161.33 250 1150C228.67 1138.67 183.33 1118.33 160 1100C136.67 1081.67 121.67 1063.33 110 1040C98.33 1016.67 94 982.5 90 960C86 937.5 84.33 923.33 86 905C87.67 886.67 91 870.83 100 850C109 829.17 122.5 805 140 780C157.5 755 181.67 735 205 700L205 700C206.67 711.67 207.5 745 215 770C222.5 795 234.17 825 250 850C265.83 875 290 904.17 310 920C330 935.83 356 938.33 370 945C384 951.67 390 957.5 394 960L394 960C395.5 974.67 402.33 1021.33 403 1048C403.67 1074.67 399.67 1096.33 398 1120C396.33 1143.67 393.83 1178.33 393 1190Z" fill="#efc238"/>
<path d="M205 700C228.33 665 250.83 615 280 570C309.17 525 358.33 459.5 380 430C401.67 400.5 393.33 413 410 393L410 393C415 392.83 425 396.5 440 392C455 387.5 480 372.5 500 366C520 359.5 536.67 355.67 560 353C583.33 350.33 610.83 348 640 350C669.17 352 719.17 362.5 735 365L735 365C727.5 374.17 699.17 397.5 690 420C680.83 442.5 680 470 680 500C680 530 686.67 566.67 690 600C693.33 633.33 691.67 674.67 700 700C708.33 725.33 733.33 743.33 740 752L740 752C733.33 765 710 807 700 830C690 853 689.17 875.5 680 890C670.83 904.5 650.83 912.5 645 917L645 917C635.5 913.83 610.83 901.17 588 898C565.17 894.83 533 894.67 508 898C483 901.33 457 907.67 438 918C419 928.33 401.33 953 394 960L394 960C390 957.5 384 951.67 370 945C356 938.33 330 935.83 310 920C290 904.17 265.83 875 250 850C234.17 825 222.5 795 215 770C207.5 745 206.67 711.67 205 700Z" fill="#f2902a"/>
<path d="M410 393C426.67 373 451.67 338.83 480 310C508.33 281.17 546.67 245 580 220C613.33 195 646.67 175.83 680 160C713.33 144.17 755 132 780 125C805 118 813.33 120.5 830 118L830 118C829.17 131.67 823.33 173 825 200C826.67 227 835.83 259.17 840 280C844.17 300.83 848.33 317.5 850 325L850 325C841.67 327.5 819.17 333.33 800 340C780.83 346.67 745.83 360.83 735 365L735 365C719.17 362.5 669.17 352 640 350C610.83 348 583.33 350.33 560 353C536.67 355.67 520 359.5 500 366C480 372.5 455 387.5 440 392C425 396.5 415 392.83 410 393Z" fill="#f58224"/>
<path d="M735 365C745.83 360.83 780.83 346.67 800 340C819.17 333.33 841.67 327.5 850 325L850 325C861.67 325.83 895 322.5 920 330C945 337.5 976.67 351.67 1000 370C1023.33 388.33 1041.67 415 1060 440C1078.33 465 1095 493.33 1110 520C1125 546.67 1140 573.33 1150 600C1160 626.67 1165 653.33 1170 680C1175 706.67 1181.17 738.33 1180 760C1178.83 781.67 1165.83 801.67 1163 810L1163 810C1153.83 813.67 1122.17 829 1108 832C1093.83 835 1086.33 827 1078 828C1069.67 829 1064.33 839.33 1058 838C1051.67 836.67 1056.33 829.67 1040 820C1023.67 810.33 983.33 788.33 960 780C936.67 771.67 918.33 775.83 900 770C881.67 764.17 864.17 750.5 850 745C835.83 739.5 824.17 735.33 815 737C805.83 738.67 807.5 752.5 795 755C782.5 757.5 749.17 752.5 740 752L740 752C733.33 743.33 708.33 725.33 700 700C691.67 674.67 693.33 633.33 690 600C686.67 566.67 680 530 680 500C680 470 680.83 442.5 690 420C699.17 397.5 727.5 374.17 735 365Z" fill="#f67a22"/>
<path d="M830 118C846.67 115.5 865.33 111.67 880 110C894.67 108.33 898 108.33 918 108C938 107.67 975 107 1000 108L1000 108C1005.5 121.67 1015 164.67 1033 190C1051 215.33 1082.17 235 1108 260C1133.83 285 1163 310 1188 340C1213 370 1238 406.67 1258 440C1278 473.33 1295.5 506.67 1308 540C1320.5 573.33 1326.33 606.67 1333 640C1339.67 673.33 1342.17 708.33 1348 740C1353.83 771.67 1360.5 810 1368 830C1375.5 850 1388.83 855 1393 860L1393 860C1382.17 858.33 1352.17 855.83 1328 850C1303.83 844.17 1275.5 831.67 1248 825C1220.5 818.33 1177.17 812.5 1163 810L1163 810C1165.83 801.67 1178.83 781.67 1180 760C1181.17 738.33 1175 706.67 1170 680C1165 653.33 1160 626.67 1150 600C1140 573.33 1125 546.67 1110 520C1095 493.33 1078.33 465 1060 440C1041.67 415 1023.33 388.33 1000 370C976.67 351.67 945 337.5 920 330C895 322.5 861.67 325.83 850 325L850 325C848.33 317.5 844.17 300.83 840 280C835.83 259.17 826.67 227 825 200C823.33 173 829.17 131.67 830 118Z" fill="#fb6018"/>
<path d="M1000 108C1025 109 1043 111.67 1068 114C1093 116.33 1125 117.67 1150 122C1175 126.33 1191.67 132.83 1218 140C1244.33 147.17 1283 158 1308 165L1308 165C1323 179.17 1373 220.83 1398 250C1423 279.17 1443 311.67 1458 340C1473 368.33 1474.67 391.67 1488 420C1501.33 448.33 1521.33 480 1538 510C1554.67 540 1583 568.33 1588 600C1593 631.67 1578 670 1568 700C1558 730 1538 751.67 1528 780C1518 808.33 1513 853.33 1508 870C1503 886.67 1499.67 878.33 1498 880L1498 880C1489.67 880 1465.5 883.33 1448 880C1430.5 876.67 1402.17 863.33 1393 860L1393 860C1388.83 855 1375.5 850 1368 830C1360.5 810 1353.83 771.67 1348 740C1342.17 708.33 1339.67 673.33 1333 640C1326.33 606.67 1320.5 573.33 1308 540C1295.5 506.67 1278 473.33 1258 440C1238 406.67 1213 370 1188 340C1163 310 1133.83 285 1108 260C1082.17 235 1051 215.33 1033 190C1015 164.67 1005.5 121.67 1000 108Z" fill="#f96a1c"/>
<path d="M1308 165C1333 172 1333 169.5 1368 182C1403 194.5 1468 217 1518 240C1568 263 1623 291.67 1668 320C1713 348.33 1751.33 380 1788 410L1778 435C1759.67 424.17 1703 390.83 1668 370C1633 349.17 1601.33 327.5 1568 310C1534.67 292.5 1496.33 275 1468 265C1439.67 255 1409.67 252.5 1398 250L1398 250L1308 165Z" fill="#f38a28"/>
<path d="M1398 250C1409.67 252.5 1439.67 255 1468 265C1496.33 275 1534.67 292.5 1568 310C1601.33 327.5 1633 349.17 1668 370C1703 390.83 1759.67 424.17 1778 435L1778 435C1773.83 442.5 1756.33 465.83 1753 480C1749.67 494.17 1763.83 505 1758 520C1752.17 535 1725.5 555 1718 570C1710.5 585 1714.67 599.17 1713 610C1711.33 620.83 1708.83 630.83 1708 635L1708 635C1698 631.67 1668 620.83 1648 615C1628 609.17 1598 602.5 1588 600L1588 600C1579.67 585 1554.67 540 1538 510C1521.33 480 1501.33 448.33 1488 420C1474.67 391.67 1473 368.33 1458 340C1443 311.67 1408 265 1398 250Z" fill="#f67c22"/>
<path d="M1778 435L1788 410L1788 410C1824.67 440 1858 470 1888 500C1918 530 1943 558.33 1968 590C1993 621.67 2016.33 656.67 2038 690C2059.67 723.33 2081.33 758.33 2098 790C2114.67 821.67 2128.83 851.67 2138 880C2147.17 908.33 2152.17 935 2153 960C2153.83 985 2150.5 1008.33 2143 1030C2135.5 1051.67 2122.17 1071.67 2108 1090C2093.83 1108.33 2069.33 1130 2058 1140C2046.67 1150 2049.67 1145 2040 1150L2040 1150C2043.83 1141.67 2058.33 1114.17 2063 1100C2067.67 1085.83 2070.5 1075 2068 1065C2065.5 1055 2051.33 1044.17 2048 1040L2048 1040C2045.5 1033.33 2039.67 1020 2033 1000C2026.33 980 2018.83 945 2008 920C1997.17 895 1986.33 867.5 1968 850C1949.67 832.5 1923 823.33 1898 815C1873 806.67 1831.33 802.5 1818 800L1818 800C1816.33 796.67 1818 796.67 1808 780C1798 763.33 1774.67 724.17 1758 700C1741.33 675.83 1716.33 645.83 1708 635L1708 635C1708.83 630.83 1711.33 620.83 1713 610C1714.67 599.17 1710.5 585 1718 570C1725.5 555 1752.17 535 1758 520C1763.83 505 1749.67 494.17 1753 480C1756.33 465.83 1773.83 442.5 1778 435Z" fill="#f19a2c"/>
<path d="M1588 600C1598 602.5 1628 609.17 1648 615C1668 620.83 1698 631.67 1708 635L1708 635C1716.33 645.83 1741.33 675.83 1758 700C1774.67 724.17 1798 763.33 1808 780C1818 796.67 1816.33 796.67 1818 800L1818 800C1809.67 806.67 1784.67 825 1768 840C1751.33 855 1734.67 873.33 1718 890C1701.33 906.67 1679.67 928 1668 940C1656.33 952 1651.33 958.33 1648 962L1648 962C1638 955 1608 932 1588 920C1568 908 1543 896.67 1528 890C1513 883.33 1503 881.67 1498 880L1498 880C1499.67 878.33 1503 886.67 1508 870C1513 853.33 1518 808.33 1528 780C1538 751.67 1558 730 1568 700C1578 670 1584.67 616.67 1588 600Z" fill="#f1982c"/>
<path d="M1818 800C1831.33 802.5 1873 806.67 1898 815C1923 823.33 1949.67 832.5 1968 850C1986.33 867.5 1997.17 895 2008 920C2018.83 945 2026.33 980 2033 1000C2039.67 1020 2045.5 1033.33 2048 1040L2048 1040C2034.67 1042.5 1998 1049.17 1968 1055C1938 1060.83 1894.67 1070 1868 1075C1841.33 1080 1818 1083.33 1808 1085L1808 1085C1799.67 1080.83 1774.67 1070.83 1758 1060C1741.33 1049.17 1724.67 1032.5 1708 1020C1691.33 1007.5 1668 994.67 1658 985C1648 975.33 1649.67 965.83 1648 962L1648 962C1651.33 958.33 1656.33 952 1668 940C1679.67 928 1701.33 906.67 1718 890C1734.67 873.33 1751.33 855 1768 840C1784.67 825 1809.67 806.67 1818 800Z" fill="#f0a22e"/>
<path d="M1808 1085C1818 1083.33 1841.33 1080 1868 1075C1894.67 1070 1938 1060.83 1968 1055C1998 1049.17 2034.67 1042.5 2048 1040L2048 1040C2051.33 1044.17 2065.5 1055 2068 1065C2070.5 1075 2067.67 1085.83 2063 1100C2058.33 1114.17 2043.83 1141.67 2040 1150L2040 1150C2031.33 1150.33 2008.33 1152 1988 1152C1967.67 1152 1939.67 1153.67 1918 1150C1896.33 1146.33 1874.67 1137.5 1858 1130C1841.33 1122.5 1826.33 1112.5 1818 1105C1809.67 1097.5 1809.67 1088.33 1808 1085Z" fill="#efc838"/>
<path d="M1648 962C1649.67 965.83 1648 975.33 1658 985C1668 994.67 1691.33 1007.5 1708 1020C1724.67 1032.5 1741.33 1049.17 1758 1060C1774.67 1070.83 1799.67 1080.83 1808 1085L1808 1085C1809.67 1088.33 1809.67 1097.5 1818 1105C1826.33 1112.5 1841.33 1122.5 1858 1130C1874.67 1137.5 1896.33 1146.33 1918 1150C1939.67 1153.67 1967.67 1152 1988 1152C2008.33 1152 2031.33 1150.33 2040 1150L2040 1150C2030.33 1155 2020.33 1162.5 2000 1170C1979.67 1177.5 1948.33 1187.5 1918 1195C1887.67 1202.5 1851.33 1209.5 1818 1215C1784.67 1220.5 1745.5 1223.67 1718 1228C1690.5 1232.33 1673 1236.17 1653 1241L1653 1241C1655.5 1232.17 1663.83 1210.17 1668 1188C1672.17 1165.83 1677.17 1134.67 1678 1108C1678.83 1081.33 1678 1052.33 1673 1028C1668 1003.67 1652.17 973 1648 962Z" fill="#efe23c"/>
<path d="M403 1048C417.17 1054.67 457.17 1069.67 488 1088C518.83 1106.33 554.67 1134.67 588 1158C621.33 1181.33 654.67 1206.33 688 1228C721.33 1249.67 754.67 1268.83 788 1288C821.33 1307.17 854.67 1325.5 888 1343C921.33 1360.5 954.67 1377.17 988 1393C1021.33 1408.83 1054.67 1424.67 1088 1438C1121.33 1451.33 1154.67 1463 1188 1473C1221.33 1483 1261.33 1492.17 1288 1498C1314.67 1503.83 1338 1506.33 1348 1508L1348 1508C1334.67 1508.83 1314.67 1510.5 1288 1508C1261.33 1505.5 1221.33 1499.67 1188 1493C1154.67 1486.33 1121.33 1477.17 1088 1468C1054.67 1458.83 1021.33 1448.83 988 1438C954.67 1427.17 921.33 1415.5 888 1403C854.67 1390.5 821.33 1376.33 788 1363C754.67 1349.67 721.33 1337.17 688 1323C654.67 1308.83 621.33 1293 588 1278C554.67 1263 520.5 1247.67 488 1233C455.5 1218.33 426.33 1200.83 393 1190L393 1190C393.83 1178.33 396.33 1143.67 398 1120C399.67 1096.33 402.17 1060 403 1048Z" fill="#efe03c"/>
<path d="M394 960C401.33 953 419 928.33 438 918C457 907.67 483 901.33 508 898C533 894.67 565.17 894.83 588 898C610.83 901.17 635.5 913.83 645 917L645 917C648 927.17 655.83 959.5 663 978C670.17 996.5 677.17 1013.83 688 1028C698.83 1042.17 711.33 1054.67 728 1063C744.67 1071.33 768 1076.33 788 1078C808 1079.67 833 1074.67 848 1073C863 1071.33 873 1068.83 878 1068L878 1068C888 1074.67 911.33 1091.33 938 1108C964.67 1124.67 1004.67 1148 1038 1168C1071.33 1188 1104.67 1208 1138 1228C1171.33 1248 1204.67 1266.33 1238 1288C1271.33 1309.67 1309.67 1338 1338 1358C1366.33 1378 1388.83 1393.83 1408 1408C1427.17 1422.17 1445.5 1437.17 1453 1443L1453 1443C1443 1457.17 1432.17 1473 1418 1483C1403.83 1493 1379.67 1498.83 1368 1503C1356.33 1507.17 1361.33 1507.17 1348 1508L1348 1508C1338 1506.33 1314.67 1503.83 1288 1498C1261.33 1492.17 1221.33 1483 1188 1473C1154.67 1463 1121.33 1451.33 1088 1438C1054.67 1424.67 1021.33 1408.83 988 1393C954.67 1377.17 921.33 1360.5 888 1343C854.67 1325.5 821.33 1307.17 788 1288C754.67 1268.83 721.33 1249.67 688 1228C654.67 1206.33 621.33 1181.33 588 1158C554.67 1134.67 518.83 1106.33 488 1088C457.17 1069.67 417.17 1054.67 403 1048L403 1048L394 960Z" fill="#efdc3c"/>
<path d="M795 755C798.33 752 805.83 738.67 815 737C824.17 735.33 835.83 739.5 850 745C864.17 750.5 881.67 764.17 900 770C918.33 775.83 936.67 771.67 960 780C983.33 788.33 1023.67 810.33 1040 820C1056.33 829.67 1055 835 1058 838L1058 838C1063 848 1074.67 876.33 1088 898C1101.33 919.67 1121.33 946.33 1138 968C1154.67 989.67 1173.83 1013.83 1188 1028C1202.17 1042.17 1217.17 1048.83 1223 1053L1223 1053C1225.83 1047.5 1235.83 1030 1240 1020C1244.17 1010 1246.67 997.5 1248 993L1248 993C1254.67 998.83 1268 1008.83 1288 1028C1308 1047.17 1343 1084.67 1368 1108C1393 1131.33 1418 1149.67 1438 1168C1458 1186.33 1473.83 1201.33 1488 1218C1502.17 1234.67 1514.67 1256 1523 1268C1531.33 1280 1535.5 1286.33 1538 1290L1538 1290C1531.33 1294.5 1524.67 1300.33 1518 1310C1511.33 1319.67 1504.67 1333.33 1498 1348C1491.33 1362.67 1485.5 1382.17 1478 1398C1470.5 1413.83 1463 1428.83 1453 1443L1453 1443C1445.5 1437.17 1427.17 1422.17 1408 1408C1388.83 1393.83 1366.33 1378 1338 1358C1309.67 1338 1271.33 1309.67 1238 1288C1204.67 1266.33 1171.33 1248 1138 1228C1104.67 1208 1071.33 1188 1038 1168C1004.67 1148 964.67 1124.67 938 1108C911.33 1091.33 888 1074.67 878 1068L878 1068C873.83 1061.33 858.83 1041.33 853 1028C847.17 1014.67 841.33 1003 843 988C844.67 973 858.83 954.67 863 938C867.17 921.33 870.5 904.67 868 888C865.5 871.33 856.33 854.67 848 838C839.67 821.33 825.5 799.67 818 788C810.5 776.33 806.83 773.5 803 768C799.17 762.5 796.33 757.17 795 755Z" fill="#efd23a"/>
<path d="M1108 832C1117.17 828.33 1139.67 811.17 1163 810C1186.33 808.83 1220.5 818.33 1248 825C1275.5 831.67 1303.83 844.17 1328 850C1352.17 855.83 1373 855 1393 860C1413 865 1430.5 876.67 1448 880C1465.5 883.33 1484.67 878.33 1498 880C1511.33 881.67 1513 883.33 1528 890C1543 896.67 1568 908 1588 920C1608 932 1638 955 1648 962L1648 962C1652.17 973 1668 1003.67 1673 1028C1678 1052.33 1678.83 1081.33 1678 1108C1677.17 1134.67 1672.17 1165.83 1668 1188C1663.83 1210.17 1655.5 1232.17 1653 1241L1653 1241C1633 1245.83 1613.83 1250 1598 1257C1582.17 1264 1568 1277.5 1558 1283C1548 1288.5 1544.67 1285.5 1538 1290L1538 1290C1535.5 1286.33 1531.33 1280 1523 1268C1514.67 1256 1502.17 1234.67 1488 1218C1473.83 1201.33 1458 1186.33 1438 1168C1418 1149.67 1393 1131.33 1368 1108C1343 1084.67 1308 1047.17 1288 1028C1268 1008.83 1254.67 998.83 1248 993L1248 993L1223 1008L1223 1008C1217.17 996.33 1200.5 959.67 1188 938C1175.5 916.33 1161.33 895.67 1148 878C1134.67 860.33 1114.67 839.67 1108 832Z" fill="#efd83a"/>
<path d="M740 752L795 755L795 755C796.33 757.17 799.17 762.5 803 768C806.83 773.5 810.5 776.33 818 788C825.5 799.67 839.67 821.33 848 838C856.33 854.67 865.5 871.33 868 888C870.5 904.67 867.17 921.33 863 938C858.83 954.67 844.67 973 843 988C841.33 1003 847.17 1014.67 853 1028C858.83 1041.33 873.83 1061.33 878 1068L878 1068C873 1068.83 863 1071.33 848 1073C833 1074.67 808 1079.67 788 1078C768 1076.33 744.67 1071.33 728 1063C711.33 1054.67 698.83 1042.17 688 1028C677.17 1013.83 670.17 996.5 663 978C655.83 959.5 648 927.17 645 917L645 917C650.83 912.5 670.83 904.5 680 890C689.17 875.5 690 853 700 830C710 807 733.33 765 740 752Z" fill="#f0a830"/>
<path d="M1058 838C1063 848 1074.67 876.33 1088 898C1101.33 919.67 1121.33 946.33 1138 968C1154.67 989.67 1173.83 1013.83 1188 1028C1202.17 1042.17 1217.17 1048.83 1223 1053L1223 1053L1223 1008L1223 1008C1217.17 996.33 1200.5 959.67 1188 938C1175.5 916.33 1161.33 895.67 1148 878C1134.67 860.33 1114.67 839.67 1108 832L1108 832C1103 831.33 1086.33 827 1078 828C1069.67 829 1061.33 836.33 1058 838Z" fill="#f19c2c"/>
<path d="M90 960C86 937.5 84.33 923.33 86 905C87.67 886.67 91 870.83 100 850C109 829.17 122.5 805 140 780C157.5 755 181.67 735 205 700C228.33 665 250.83 615 280 570C309.17 525 358.33 459.5 380 430C401.67 400.5 393.33 413 410 393C426.67 373 451.67 338.83 480 310C508.33 281.17 546.67 245 580 220C613.33 195 646.67 175.83 680 160C713.33 144.17 755 132 780 125C805 118 813.33 120.5 830 118C846.67 115.5 865.33 111.67 880 110C894.67 108.33 898 108.33 918 108C938 107.67 975 107 1000 108C1025 109 1043 111.67 1068 114C1093 116.33 1125 117.67 1150 122C1175 126.33 1191.67 132.83 1218 140C1244.33 147.17 1283 158 1308 165C1333 172 1333 169.5 1368 182C1403 194.5 1468 217 1518 240C1568 263 1623 291.67 1668 320C1713 348.33 1751.33 380 1788 410C1824.67 440 1858 470 1888 500C1918 530 1943 558.33 1968 590C1993 621.67 2016.33 656.67 2038 690C2059.67 723.33 2081.33 758.33 2098 790C2114.67 821.67 2128.83 851.67 2138 880C2147.17 908.33 2152.17 935 2153 960C2153.83 985 2150.5 1008.33 2143 1030C2135.5 1051.67 2122.17 1071.67 2108 1090C2093.83 1108.33 2069.33 1130 2058 1140C2046.67 1150 2049.67 1145 2040 1150C2030.33 1155 2020.33 1162.5 2000 1170C1979.67 1177.5 1948.33 1187.5 1918 1195C1887.67 1202.5 1851.33 1209.5 1818 1215C1784.67 1220.5 1745.5 1223.67 1718 1228C1690.5 1232.33 1673 1236.17 1653 1241C1633 1245.83 1613.83 1250 1598 1257C1582.17 1264 1568 1277.5 1558 1283C1548 1288.5 1544.67 1285.5 1538 1290C1531.33 1294.5 1524.67 1300.33 1518 1310C1511.33 1319.67 1504.67 1333.33 1498 1348C1491.33 1362.67 1485.5 1382.17 1478 1398C1470.5 1413.83 1463 1428.83 1453 1443C1443 1457.17 1432.17 1473 1418 1483C1403.83 1493 1379.67 1498.83 1368 1503C1356.33 1507.17 1361.33 1507.17 1348 1508C1334.67 1508.83 1314.67 1510.5 1288 1508C1261.33 1505.5 1221.33 1499.67 1188 1493C1154.67 1486.33 1121.33 1477.17 1088 1468C1054.67 1458.83 1021.33 1448.83 988 1438C954.67 1427.17 921.33 1415.5 888 1403C854.67 1390.5 821.33 1376.33 788 1363C754.67 1349.67 721.33 1337.17 688 1323C654.67 1308.83 621.33 1293 588 1278C554.67 1263 520.5 1247.67 488 1233C455.5 1218.33 426.33 1200.83 393 1190C359.67 1179.17 311.83 1174.67 288 1168C264.17 1161.33 271.33 1161.33 250 1150C228.67 1138.67 183.33 1118.33 160 1100C136.67 1081.67 121.67 1063.33 110 1040C98.33 1016.67 94 982.5 90 960Z" fill="none" stroke="#4a4420" stroke-opacity="0.8" stroke-width="9"/>
</g>
<g transform="translate(1136.93 811.76) scale(0.08333 0.08367)" stroke="#2c2a00" stroke-opacity="0.72" stroke-width="7.5" stroke-linejoin="round">
<path d="M90 960C86 937.5 84.33 923.33 86 905C87.67 886.67 91 870.83 100 850C109 829.17 122.5 805 140 780C157.5 755 181.67 735 205 700C228.33 665 250.83 615 280 570C309.17 525 358.33 459.5 380 430C401.67 400.5 393.33 413 410 393C426.67 373 451.67 338.83 480 310C508.33 281.17 546.67 245 580 220C613.33 195 646.67 175.83 680 160C713.33 144.17 755 132 780 125C805 118 813.33 120.5 830 118C846.67 115.5 865.33 111.67 880 110C894.67 108.33 898 108.33 918 108C938 107.67 975 107 1000 108C1025 109 1043 111.67 1068 114C1093 116.33 1125 117.67 1150 122C1175 126.33 1191.67 132.83 1218 140C1244.33 147.17 1283 158 1308 165C1333 172 1333 169.5 1368 182C1403 194.5 1468 217 1518 240C1568 263 1623 291.67 1668 320C1713 348.33 1751.33 380 1788 410C1824.67 440 1858 470 1888 500C1918 530 1943 558.33 1968 590C1993 621.67 2016.33 656.67 2038 690C2059.67 723.33 2081.33 758.33 2098 790C2114.67 821.67 2128.83 851.67 2138 880C2147.17 908.33 2152.17 935 2153 960C2153.83 985 2150.5 1008.33 2143 1030C2135.5 1051.67 2122.17 1071.67 2108 1090C2093.83 1108.33 2069.33 1130 2058 1140C2046.67 1150 2049.67 1145 2040 1150C2030.33 1155 2020.33 1162.5 2000 1170C1979.67 1177.5 1948.33 1187.5 1918 1195C1887.67 1202.5 1851.33 1209.5 1818 1215C1784.67 1220.5 1745.5 1223.67 1718 1228C1690.5 1232.33 1673 1236.17 1653 1241C1633 1245.83 1613.83 1250 1598 1257C1582.17 1264 1568 1277.5 1558 1283C1548 1288.5 1544.67 1285.5 1538 1290C1531.33 1294.5 1524.67 1300.33 1518 1310C1511.33 1319.67 1504.67 1333.33 1498 1348C1491.33 1362.67 1485.5 1382.17 1478 1398C1470.5 1413.83 1463 1428.83 1453 1443C1443 1457.17 1432.17 1473 1418 1483C1403.83 1493 1379.67 1498.83 1368 1503C1356.33 1507.17 1361.33 1507.17 1348 1508C1334.67 1508.83 1314.67 1510.5 1288 1508C1261.33 1505.5 1221.33 1499.67 1188 1493C1154.67 1486.33 1121.33 1477.17 1088 1468C1054.67 1458.83 1021.33 1448.83 988 1438C954.67 1427.17 921.33 1415.5 888 1403C854.67 1390.5 821.33 1376.33 788 1363C754.67 1349.67 721.33 1337.17 688 1323C654.67 1308.83 621.33 1293 588 1278C554.67 1263 520.5 1247.67 488 1233C455.5 1218.33 426.33 1200.83 393 1190C359.67 1179.17 311.83 1174.67 288 1168C264.17 1161.33 271.33 1161.33 250 1150C228.67 1138.67 183.33 1118.33 160 1100C136.67 1081.67 121.67 1063.33 110 1040C98.33 1016.67 94 982.5 90 960Z" fill="#efc236" stroke="none"/>
<path d="M393 1190C359.67 1179.17 311.83 1174.67 288 1168C264.17 1161.33 271.33 1161.33 250 1150C228.67 1138.67 183.33 1118.33 160 1100C136.67 1081.67 121.67 1063.33 110 1040C98.33 1016.67 94 982.5 90 960C86 937.5 84.33 923.33 86 905C87.67 886.67 91 870.83 100 850C109 829.17 122.5 805 140 780C157.5 755 181.67 735 205 700L205 700C206.67 711.67 207.5 745 215 770C222.5 795 234.17 825 250 850C265.83 875 290 904.17 310 920C330 935.83 356 938.33 370 945C384 951.67 390 957.5 394 960L394 960C395.5 974.67 402.33 1021.33 403 1048C403.67 1074.67 399.67 1096.33 398 1120C396.33 1143.67 393.83 1178.33 393 1190Z" fill="#f0b236"/>
<path d="M205 700C228.33 665 250.83 615 280 570C309.17 525 358.33 459.5 380 430C401.67 400.5 393.33 413 410 393L410 393C415 392.83 425 396.5 440 392C455 387.5 480 372.5 500 366C520 359.5 536.67 355.67 560 353C583.33 350.33 610.83 348 640 350C669.17 352 719.17 362.5 735 365L735 365C727.5 374.17 699.17 397.5 690 420C680.83 442.5 680 470 680 500C680 530 686.67 566.67 690 600C693.33 633.33 691.67 674.67 700 700C708.33 725.33 733.33 743.33 740 752L740 752C733.33 765 710 807 700 830C690 853 689.17 875.5 680 890C670.83 904.5 650.83 912.5 645 917L645 917C635.5 913.83 610.83 901.17 588 898C565.17 894.83 533 894.67 508 898C483 901.33 457 907.67 438 918C419 928.33 401.33 953 394 960L394 960C390 957.5 384 951.67 370 945C356 938.33 330 935.83 310 920C290 904.17 265.83 875 250 850C234.17 825 222.5 795 215 770C207.5 745 206.67 711.67 205 700Z" fill="#f48426"/>
<path d="M410 393C426.67 373 451.67 338.83 480 310C508.33 281.17 546.67 245 580 220C613.33 195 646.67 175.83 680 160C713.33 144.17 755 132 780 125C805 118 813.33 120.5 830 118L830 118C829.17 131.67 823.33 173 825 200C826.67 227 835.83 259.17 840 280C844.17 300.83 848.33 317.5 850 325L850 325C841.67 327.5 819.17 333.33 800 340C780.83 346.67 745.83 360.83 735 365L735 365C719.17 362.5 669.17 352 640 350C610.83 348 583.33 350.33 560 353C536.67 355.67 520 359.5 500 366C480 372.5 455 387.5 440 392C425 396.5 415 392.83 410 393Z" fill="#f77420"/>
<path d="M735 365C745.83 360.83 780.83 346.67 800 340C819.17 333.33 841.67 327.5 850 325L850 325C861.67 325.83 895 322.5 920 330C945 337.5 976.67 351.67 1000 370C1023.33 388.33 1041.67 415 1060 440C1078.33 465 1095 493.33 1110 520C1125 546.67 1140 573.33 1150 600C1160 626.67 1165 653.33 1170 680C1175 706.67 1181.17 738.33 1180 760C1178.83 781.67 1165.83 801.67 1163 810L1163 810C1153.83 813.67 1122.17 829 1108 832C1093.83 835 1086.33 827 1078 828C1069.67 829 1064.33 839.33 1058 838C1051.67 836.67 1056.33 829.67 1040 820C1023.67 810.33 983.33 788.33 960 780C936.67 771.67 918.33 775.83 900 770C881.67 764.17 864.17 750.5 850 745C835.83 739.5 824.17 735.33 815 737C805.83 738.67 807.5 752.5 795 755C782.5 757.5 749.17 752.5 740 752L740 752C733.33 743.33 708.33 725.33 700 700C691.67 674.67 693.33 633.33 690 600C686.67 566.67 680 530 680 500C680 470 680.83 442.5 690 420C699.17 397.5 727.5 374.17 735 365Z" fill="#f96a1c"/>
<path d="M830 118C846.67 115.5 865.33 111.67 880 110C894.67 108.33 898 108.33 918 108C938 107.67 975 107 1000 108L1000 108C1005.5 121.67 1015 164.67 1033 190C1051 215.33 1082.17 235 1108 260C1133.83 285 1163 310 1188 340C1213 370 1238 406.67 1258 440C1278 473.33 1295.5 506.67 1308 540C1320.5 573.33 1326.33 606.67 1333 640C1339.67 673.33 1342.17 708.33 1348 740C1353.83 771.67 1360.5 810 1368 830C1375.5 850 1388.83 855 1393 860L1393 860C1382.17 858.33 1352.17 855.83 1328 850C1303.83 844.17 1275.5 831.67 1248 825C1220.5 818.33 1177.17 812.5 1163 810L1163 810C1165.83 801.67 1178.83 781.67 1180 760C1181.17 738.33 1175 706.67 1170 680C1165 653.33 1160 626.67 1150 600C1140 573.33 1125 546.67 1110 520C1095 493.33 1078.33 465 1060 440C1041.67 415 1023.33 388.33 1000 370C976.67 351.67 945 337.5 920 330C895 322.5 861.67 325.83 850 325L850 325C848.33 317.5 844.17 300.83 840 280C835.83 259.17 826.67 227 825 200C823.33 173 829.17 131.67 830 118Z" fill="#ff3c10"/>
<path d="M1000 108C1025 109 1043 111.67 1068 114C1093 116.33 1125 117.67 1150 122C1175 126.33 1191.67 132.83 1218 140C1244.33 147.17 1283 158 1308 165L1308 165C1323 179.17 1373 220.83 1398 250C1423 279.17 1443 311.67 1458 340C1473 368.33 1474.67 391.67 1488 420C1501.33 448.33 1521.33 480 1538 510C1554.67 540 1583 568.33 1588 600C1593 631.67 1578 670 1568 700C1558 730 1538 751.67 1528 780C1518 808.33 1513 853.33 1508 870C1503 886.67 1499.67 878.33 1498 880L1498 880C1489.67 880 1465.5 883.33 1448 880C1430.5 876.67 1402.17 863.33 1393 860L1393 860C1388.83 855 1375.5 850 1368 830C1360.5 810 1353.83 771.67 1348 740C1342.17 708.33 1339.67 673.33 1333 640C1326.33 606.67 1320.5 573.33 1308 540C1295.5 506.67 1278 473.33 1258 440C1238 406.67 1213 370 1188 340C1163 310 1133.83 285 1108 260C1082.17 235 1051 215.33 1033 190C1015 164.67 1005.5 121.67 1000 108Z" fill="#fe4814"/>
<path d="M1308 165C1333 172 1333 169.5 1368 182C1403 194.5 1468 217 1518 240C1568 263 1623 291.67 1668 320C1713 348.33 1751.33 380 1788 410L1778 435C1759.67 424.17 1703 390.83 1668 370C1633 349.17 1601.33 327.5 1568 310C1534.67 292.5 1496.33 275 1468 265C1439.67 255 1409.67 252.5 1398 250L1398 250L1308 165Z" fill="#f67a22"/>
<path d="M1398 250C1409.67 252.5 1439.67 255 1468 265C1496.33 275 1534.67 292.5 1568 310C1601.33 327.5 1633 349.17 1668 370C1703 390.83 1759.67 424.17 1778 435L1778 435C1773.83 442.5 1756.33 465.83 1753 480C1749.67 494.17 1763.83 505 1758 520C1752.17 535 1725.5 555 1718 570C1710.5 585 1714.67 599.17 1713 610C1711.33 620.83 1708.83 630.83 1708 635L1708 635C1698 631.67 1668 620.83 1648 615C1628 609.17 1598 602.5 1588 600L1588 600C1579.67 585 1554.67 540 1538 510C1521.33 480 1501.33 448.33 1488 420C1474.67 391.67 1473 368.33 1458 340C1443 311.67 1408 265 1398 250Z" fill="#f96c1c"/>
<path d="M1778 435L1788 410L1788 410C1824.67 440 1858 470 1888 500C1918 530 1943 558.33 1968 590C1993 621.67 2016.33 656.67 2038 690C2059.67 723.33 2081.33 758.33 2098 790C2114.67 821.67 2128.83 851.67 2138 880C2147.17 908.33 2152.17 935 2153 960C2153.83 985 2150.5 1008.33 2143 1030C2135.5 1051.67 2122.17 1071.67 2108 1090C2093.83 1108.33 2069.33 1130 2058 1140C2046.67 1150 2049.67 1145 2040 1150L2040 1150C2043.83 1141.67 2058.33 1114.17 2063 1100C2067.67 1085.83 2070.5 1075 2068 1065C2065.5 1055 2051.33 1044.17 2048 1040L2048 1040C2045.5 1033.33 2039.67 1020 2033 1000C2026.33 980 2018.83 945 2008 920C1997.17 895 1986.33 867.5 1968 850C1949.67 832.5 1923 823.33 1898 815C1873 806.67 1831.33 802.5 1818 800L1818 800C1816.33 796.67 1818 796.67 1808 780C1798 763.33 1774.67 724.17 1758 700C1741.33 675.83 1716.33 645.83 1708 635L1708 635C1708.83 630.83 1711.33 620.83 1713 610C1714.67 599.17 1710.5 585 1718 570C1725.5 555 1752.17 535 1758 520C1763.83 505 1749.67 494.17 1753 480C1756.33 465.83 1773.83 442.5 1778 435Z" fill="#f2902a"/>
<path d="M1588 600C1598 602.5 1628 609.17 1648 615C1668 620.83 1698 631.67 1708 635L1708 635C1716.33 645.83 1741.33 675.83 1758 700C1774.67 724.17 1798 763.33 1808 780C1818 796.67 1816.33 796.67 1818 800L1818 800C1809.67 806.67 1784.67 825 1768 840C1751.33 855 1734.67 873.33 1718 890C1701.33 906.67 1679.67 928 1668 940C1656.33 952 1651.33 958.33 1648 962L1648 962C1638 955 1608 932 1588 920C1568 908 1543 896.67 1528 890C1513 883.33 1503 881.67 1498 880L1498 880C1499.67 878.33 1503 886.67 1508 870C1513 853.33 1518 808.33 1528 780C1538 751.67 1558 730 1568 700C1578 670 1584.67 616.67 1588 600Z" fill="#f48626"/>
<path d="M1818 800C1831.33 802.5 1873 806.67 1898 815C1923 823.33 1949.67 832.5 1968 850C1986.33 867.5 1997.17 895 2008 920C2018.83 945 2026.33 980 2033 1000C2039.67 1020 2045.5 1033.33 2048 1040L2048 1040C2034.67 1042.5 1998 1049.17 1968 1055C1938 1060.83 1894.67 1070 1868 1075C1841.33 1080 1818 1083.33 1808 1085L1808 1085C1799.67 1080.83 1774.67 1070.83 1758 1060C1741.33 1049.17 1724.67 1032.5 1708 1020C1691.33 1007.5 1668 994.67 1658 985C1648 975.33 1649.67 965.83 1648 962L1648 962C1651.33 958.33 1656.33 952 1668 940C1679.67 928 1701.33 906.67 1718 890C1734.67 873.33 1751.33 855 1768 840C1784.67 825 1809.67 806.67 1818 800Z" fill="#f3902a"/>
<path d="M1808 1085C1818 1083.33 1841.33 1080 1868 1075C1894.67 1070 1938 1060.83 1968 1055C1998 1049.17 2034.67 1042.5 2048 1040L2048 1040C2051.33 1044.17 2065.5 1055 2068 1065C2070.5 1075 2067.67 1085.83 2063 1100C2058.33 1114.17 2043.83 1141.67 2040 1150L2040 1150C2031.33 1150.33 2008.33 1152 1988 1152C1967.67 1152 1939.67 1153.67 1918 1150C1896.33 1146.33 1874.67 1137.5 1858 1130C1841.33 1122.5 1826.33 1112.5 1818 1105C1809.67 1097.5 1809.67 1088.33 1808 1085Z" fill="#efbc34"/>
<path d="M1648 962C1649.67 965.83 1648 975.33 1658 985C1668 994.67 1691.33 1007.5 1708 1020C1724.67 1032.5 1741.33 1049.17 1758 1060C1774.67 1070.83 1799.67 1080.83 1808 1085L1808 1085C1809.67 1088.33 1809.67 1097.5 1818 1105C1826.33 1112.5 1841.33 1122.5 1858 1130C1874.67 1137.5 1896.33 1146.33 1918 1150C1939.67 1153.67 1967.67 1152 1988 1152C2008.33 1152 2031.33 1150.33 2040 1150L2040 1150C2030.33 1155 2020.33 1162.5 2000 1170C1979.67 1177.5 1948.33 1187.5 1918 1195C1887.67 1202.5 1851.33 1209.5 1818 1215C1784.67 1220.5 1745.5 1223.67 1718 1228C1690.5 1232.33 1673 1236.17 1653 1241L1653 1241C1655.5 1232.17 1663.83 1210.17 1668 1188C1672.17 1165.83 1677.17 1134.67 1678 1108C1678.83 1081.33 1678 1052.33 1673 1028C1668 1003.67 1652.17 973 1648 962Z" fill="#efd83a"/>
<path d="M403 1048C417.17 1054.67 457.17 1069.67 488 1088C518.83 1106.33 554.67 1134.67 588 1158C621.33 1181.33 654.67 1206.33 688 1228C721.33 1249.67 754.67 1268.83 788 1288C821.33 1307.17 854.67 1325.5 888 1343C921.33 1360.5 954.67 1377.17 988 1393C1021.33 1408.83 1054.67 1424.67 1088 1438C1121.33 1451.33 1154.67 1463 1188 1473C1221.33 1483 1261.33 1492.17 1288 1498C1314.67 1503.83 1338 1506.33 1348 1508L1348 1508C1334.67 1508.83 1314.67 1510.5 1288 1508C1261.33 1505.5 1221.33 1499.67 1188 1493C1154.67 1486.33 1121.33 1477.17 1088 1468C1054.67 1458.83 1021.33 1448.83 988 1438C954.67 1427.17 921.33 1415.5 888 1403C854.67 1390.5 821.33 1376.33 788 1363C754.67 1349.67 721.33 1337.17 688 1323C654.67 1308.83 621.33 1293 588 1278C554.67 1263 520.5 1247.67 488 1233C455.5 1218.33 426.33 1200.83 393 1190L393 1190C393.83 1178.33 396.33 1143.67 398 1120C399.67 1096.33 402.17 1060 403 1048Z" fill="#f0d03a"/>
<path d="M394 960C401.33 953 419 928.33 438 918C457 907.67 483 901.33 508 898C533 894.67 565.17 894.83 588 898C610.83 901.17 635.5 913.83 645 917L645 917C648 927.17 655.83 959.5 663 978C670.17 996.5 677.17 1013.83 688 1028C698.83 1042.17 711.33 1054.67 728 1063C744.67 1071.33 768 1076.33 788 1078C808 1079.67 833 1074.67 848 1073C863 1071.33 873 1068.83 878 1068L878 1068C888 1074.67 911.33 1091.33 938 1108C964.67 1124.67 1004.67 1148 1038 1168C1071.33 1188 1104.67 1208 1138 1228C1171.33 1248 1204.67 1266.33 1238 1288C1271.33 1309.67 1309.67 1338 1338 1358C1366.33 1378 1388.83 1393.83 1408 1408C1427.17 1422.17 1445.5 1437.17 1453 1443L1453 1443C1443 1457.17 1432.17 1473 1418 1483C1403.83 1493 1379.67 1498.83 1368 1503C1356.33 1507.17 1361.33 1507.17 1348 1508L1348 1508C1338 1506.33 1314.67 1503.83 1288 1498C1261.33 1492.17 1221.33 1483 1188 1473C1154.67 1463 1121.33 1451.33 1088 1438C1054.67 1424.67 1021.33 1408.83 988 1393C954.67 1377.17 921.33 1360.5 888 1343C854.67 1325.5 821.33 1307.17 788 1288C754.67 1268.83 721.33 1249.67 688 1228C654.67 1206.33 621.33 1181.33 588 1158C554.67 1134.67 518.83 1106.33 488 1088C457.17 1069.67 417.17 1054.67 403 1048L403 1048L394 960Z" fill="#efc838"/>
<path d="M795 755C798.33 752 805.83 738.67 815 737C824.17 735.33 835.83 739.5 850 745C864.17 750.5 881.67 764.17 900 770C918.33 775.83 936.67 771.67 960 780C983.33 788.33 1023.67 810.33 1040 820C1056.33 829.67 1055 835 1058 838L1058 838C1063 848 1074.67 876.33 1088 898C1101.33 919.67 1121.33 946.33 1138 968C1154.67 989.67 1173.83 1013.83 1188 1028C1202.17 1042.17 1217.17 1048.83 1223 1053L1223 1053C1225.83 1047.5 1235.83 1030 1240 1020C1244.17 1010 1246.67 997.5 1248 993L1248 993C1254.67 998.83 1268 1008.83 1288 1028C1308 1047.17 1343 1084.67 1368 1108C1393 1131.33 1418 1149.67 1438 1168C1458 1186.33 1473.83 1201.33 1488 1218C1502.17 1234.67 1514.67 1256 1523 1268C1531.33 1280 1535.5 1286.33 1538 1290L1538 1290C1531.33 1294.5 1524.67 1300.33 1518 1310C1511.33 1319.67 1504.67 1333.33 1498 1348C1491.33 1362.67 1485.5 1382.17 1478 1398C1470.5 1413.83 1463 1428.83 1453 1443L1453 1443C1445.5 1437.17 1427.17 1422.17 1408 1408C1388.83 1393.83 1366.33 1378 1338 1358C1309.67 1338 1271.33 1309.67 1238 1288C1204.67 1266.33 1171.33 1248 1138 1228C1104.67 1208 1071.33 1188 1038 1168C1004.67 1148 964.67 1124.67 938 1108C911.33 1091.33 888 1074.67 878 1068L878 1068C873.83 1061.33 858.83 1041.33 853 1028C847.17 1014.67 841.33 1003 843 988C844.67 973 858.83 954.67 863 938C867.17 921.33 870.5 904.67 868 888C865.5 871.33 856.33 854.67 848 838C839.67 821.33 825.5 799.67 818 788C810.5 776.33 806.83 773.5 803 768C799.17 762.5 796.33 757.17 795 755Z" fill="#efc236"/>
<path d="M1108 832C1117.17 828.33 1139.67 811.17 1163 810C1186.33 808.83 1220.5 818.33 1248 825C1275.5 831.67 1303.83 844.17 1328 850C1352.17 855.83 1373 855 1393 860C1413 865 1430.5 876.67 1448 880C1465.5 883.33 1484.67 878.33 1498 880C1511.33 881.67 1513 883.33 1528 890C1543 896.67 1568 908 1588 920C1608 932 1638 955 1648 962L1648 962C1652.17 973 1668 1003.67 1673 1028C1678 1052.33 1678.83 1081.33 1678 1108C1677.17 1134.67 1672.17 1165.83 1668 1188C1663.83 1210.17 1655.5 1232.17 1653 1241L1653 1241C1633 1245.83 1613.83 1250 1598 1257C1582.17 1264 1568 1277.5 1558 1283C1548 1288.5 1544.67 1285.5 1538 1290L1538 1290C1535.5 1286.33 1531.33 1280 1523 1268C1514.67 1256 1502.17 1234.67 1488 1218C1473.83 1201.33 1458 1186.33 1438 1168C1418 1149.67 1393 1131.33 1368 1108C1343 1084.67 1308 1047.17 1288 1028C1268 1008.83 1254.67 998.83 1248 993L1248 993L1223 1008L1223 1008C1217.17 996.33 1200.5 959.67 1188 938C1175.5 916.33 1161.33 895.67 1148 878C1134.67 860.33 1114.67 839.67 1108 832Z" fill="#efc838"/>
<path d="M740 752L795 755L795 755C796.33 757.17 799.17 762.5 803 768C806.83 773.5 810.5 776.33 818 788C825.5 799.67 839.67 821.33 848 838C856.33 854.67 865.5 871.33 868 888C870.5 904.67 867.17 921.33 863 938C858.83 954.67 844.67 973 843 988C841.33 1003 847.17 1014.67 853 1028C858.83 1041.33 873.83 1061.33 878 1068L878 1068C873 1068.83 863 1071.33 848 1073C833 1074.67 808 1079.67 788 1078C768 1076.33 744.67 1071.33 728 1063C711.33 1054.67 698.83 1042.17 688 1028C677.17 1013.83 670.17 996.5 663 978C655.83 959.5 648 927.17 645 917L645 917C650.83 912.5 670.83 904.5 680 890C689.17 875.5 690 853 700 830C710 807 733.33 765 740 752Z" fill="#f0a02e"/>
<path d="M1058 838C1063 848 1074.67 876.33 1088 898C1101.33 919.67 1121.33 946.33 1138 968C1154.67 989.67 1173.83 1013.83 1188 1028C1202.17 1042.17 1217.17 1048.83 1223 1053L1223 1053L1223 1008L1223 1008C1217.17 996.33 1200.5 959.67 1188 938C1175.5 916.33 1161.33 895.67 1148 878C1134.67 860.33 1114.67 839.67 1108 832L1108 832C1103 831.33 1086.33 827 1078 828C1069.67 829 1061.33 836.33 1058 838Z" fill="#f2962a"/>
<path d="M90 960C86 937.5 84.33 923.33 86 905C87.67 886.67 91 870.83 100 850C109 829.17 122.5 805 140 780C157.5 755 181.67 735 205 700C228.33 665 250.83 615 280 570C309.17 525 358.33 459.5 380 430C401.67 400.5 393.33 413 410 393C426.67 373 451.67 338.83 480 310C508.33 281.17 546.67 245 580 220C613.33 195 646.67 175.83 680 160C713.33 144.17 755 132 780 125C805 118 813.33 120.5 830 118C846.67 115.5 865.33 111.67 880 110C894.67 108.33 898 108.33 918 108C938 107.67 975 107 1000 108C1025 109 1043 111.67 1068 114C1093 116.33 1125 117.67 1150 122C1175 126.33 1191.67 132.83 1218 140C1244.33 147.17 1283 158 1308 165C1333 172 1333 169.5 1368 182C1403 194.5 1468 217 1518 240C1568 263 1623 291.67 1668 320C1713 348.33 1751.33 380 1788 410C1824.67 440 1858 470 1888 500C1918 530 1943 558.33 1968 590C1993 621.67 2016.33 656.67 2038 690C2059.67 723.33 2081.33 758.33 2098 790C2114.67 821.67 2128.83 851.67 2138 880C2147.17 908.33 2152.17 935 2153 960C2153.83 985 2150.5 1008.33 2143 1030C2135.5 1051.67 2122.17 1071.67 2108 1090C2093.83 1108.33 2069.33 1130 2058 1140C2046.67 1150 2049.67 1145 2040 1150C2030.33 1155 2020.33 1162.5 2000 1170C1979.67 1177.5 1948.33 1187.5 1918 1195C1887.67 1202.5 1851.33 1209.5 1818 1215C1784.67 1220.5 1745.5 1223.67 1718 1228C1690.5 1232.33 1673 1236.17 1653 1241C1633 1245.83 1613.83 1250 1598 1257C1582.17 1264 1568 1277.5 1558 1283C1548 1288.5 1544.67 1285.5 1538 1290C1531.33 1294.5 1524.67 1300.33 1518 1310C1511.33 1319.67 1504.67 1333.33 1498 1348C1491.33 1362.67 1485.5 1382.17 1478 1398C1470.5 1413.83 1463 1428.83 1453 1443C1443 1457.17 1432.17 1473 1418 1483C1403.83 1493 1379.67 1498.83 1368 1503C1356.33 1507.17 1361.33 1507.17 1348 1508C1334.67 1508.83 1314.67 1510.5 1288 1508C1261.33 1505.5 1221.33 1499.67 1188 1493C1154.67 1486.33 1121.33 1477.17 1088 1468C1054.67 1458.83 1021.33 1448.83 988 1438C954.67 1427.17 921.33 1415.5 888 1403C854.67 1390.5 821.33 1376.33 788 1363C754.67 1349.67 721.33 1337.17 688 1323C654.67 1308.83 621.33 1293 588 1278C554.67 1263 520.5 1247.67 488 1233C455.5 1218.33 426.33 1200.83 393 1190C359.67 1179.17 311.83 1174.67 288 1168C264.17 1161.33 271.33 1161.33 250 1150C228.67 1138.67 183.33 1118.33 160 1100C136.67 1081.67 121.67 1063.33 110 1040C98.33 1016.67 94 982.5 90 960Z" fill="none" stroke="#4a4420" stroke-opacity="0.8" stroke-width="9"/>
</g>
<g transform="translate(1327.13 812.26) scale(0.08333 0.08367)" stroke="#2c2a00" stroke-opacity="0.72" stroke-width="7.5" stroke-linejoin="round">
<path d="M90 960C86 937.5 84.33 923.33 86 905C87.67 886.67 91 870.83 100 850C109 829.17 122.5 805 140 780C157.5 755 181.67 735 205 700C228.33 665 250.83 615 280 570C309.17 525 358.33 459.5 380 430C401.67 400.5 393.33 413 410 393C426.67 373 451.67 338.83 480 310C508.33 281.17 546.67 245 580 220C613.33 195 646.67 175.83 680 160C713.33 144.17 755 132 780 125C805 118 813.33 120.5 830 118C846.67 115.5 865.33 111.67 880 110C894.67 108.33 898 108.33 918 108C938 107.67 975 107 1000 108C1025 109 1043 111.67 1068 114C1093 116.33 1125 117.67 1150 122C1175 126.33 1191.67 132.83 1218 140C1244.33 147.17 1283 158 1308 165C1333 172 1333 169.5 1368 182C1403 194.5 1468 217 1518 240C1568 263 1623 291.67 1668 320C1713 348.33 1751.33 380 1788 410C1824.67 440 1858 470 1888 500C1918 530 1943 558.33 1968 590C1993 621.67 2016.33 656.67 2038 690C2059.67 723.33 2081.33 758.33 2098 790C2114.67 821.67 2128.83 851.67 2138 880C2147.17 908.33 2152.17 935 2153 960C2153.83 985 2150.5 1008.33 2143 1030C2135.5 1051.67 2122.17 1071.67 2108 1090C2093.83 1108.33 2069.33 1130 2058 1140C2046.67 1150 2049.67 1145 2040 1150C2030.33 1155 2020.33 1162.5 2000 1170C1979.67 1177.5 1948.33 1187.5 1918 1195C1887.67 1202.5 1851.33 1209.5 1818 1215C1784.67 1220.5 1745.5 1223.67 1718 1228C1690.5 1232.33 1673 1236.17 1653 1241C1633 1245.83 1613.83 1250 1598 1257C1582.17 1264 1568 1277.5 1558 1283C1548 1288.5 1544.67 1285.5 1538 1290C1531.33 1294.5 1524.67 1300.33 1518 1310C1511.33 1319.67 1504.67 1333.33 1498 1348C1491.33 1362.67 1485.5 1382.17 1478 1398C1470.5 1413.83 1463 1428.83 1453 1443C1443 1457.17 1432.17 1473 1418 1483C1403.83 1493 1379.67 1498.83 1368 1503C1356.33 1507.17 1361.33 1507.17 1348 1508C1334.67 1508.83 1314.67 1510.5 1288 1508C1261.33 1505.5 1221.33 1499.67 1188 1493C1154.67 1486.33 1121.33 1477.17 1088 1468C1054.67 1458.83 1021.33 1448.83 988 1438C954.67 1427.17 921.33 1415.5 888 1403C854.67 1390.5 821.33 1376.33 788 1363C754.67 1349.67 721.33 1337.17 688 1323C654.67 1308.83 621.33 1293 588 1278C554.67 1263 520.5 1247.67 488 1233C455.5 1218.33 426.33 1200.83 393 1190C359.67 1179.17 311.83 1174.67 288 1168C264.17 1161.33 271.33 1161.33 250 1150C228.67 1138.67 183.33 1118.33 160 1100C136.67 1081.67 121.67 1063.33 110 1040C98.33 1016.67 94 982.5 90 960Z" fill="#efe03c" stroke="none"/>
<path d="M393 1190C359.67 1179.17 311.83 1174.67 288 1168C264.17 1161.33 271.33 1161.33 250 1150C228.67 1138.67 183.33 1118.33 160 1100C136.67 1081.67 121.67 1063.33 110 1040C98.33 1016.67 94 982.5 90 960C86 937.5 84.33 923.33 86 905C87.67 886.67 91 870.83 100 850C109 829.17 122.5 805 140 780C157.5 755 181.67 735 205 700L205 700C206.67 711.67 207.5 745 215 770C222.5 795 234.17 825 250 850C265.83 875 290 904.17 310 920C330 935.83 356 938.33 370 945C384 951.67 390 957.5 394 960L394 960C395.5 974.67 402.33 1021.33 403 1048C403.67 1074.67 399.67 1096.33 398 1120C396.33 1143.67 393.83 1178.33 393 1190Z" fill="#efd03a"/>
<path d="M205 700C228.33 665 250.83 615 280 570C309.17 525 358.33 459.5 380 430C401.67 400.5 393.33 413 410 393L410 393C415 392.83 425 396.5 440 392C455 387.5 480 372.5 500 366C520 359.5 536.67 355.67 560 353C583.33 350.33 610.83 348 640 350C669.17 352 719.17 362.5 735 365L735 365C727.5 374.17 699.17 397.5 690 420C680.83 442.5 680 470 680 500C680 530 686.67 566.67 690 600C693.33 633.33 691.67 674.67 700 700C708.33 725.33 733.33 743.33 740 752L740 752C733.33 765 710 807 700 830C690 853 689.17 875.5 680 890C670.83 904.5 650.83 912.5 645 917L645 917C635.5 913.83 610.83 901.17 588 898C565.17 894.83 533 894.67 508 898C483 901.33 457 907.67 438 918C419 928.33 401.33 953 394 960L394 960C390 957.5 384 951.67 370 945C356 938.33 330 935.83 310 920C290 904.17 265.83 875 250 850C234.17 825 222.5 795 215 770C207.5 745 206.67 711.67 205 700Z" fill="#f0a22e"/>
<path d="M410 393C426.67 373 451.67 338.83 480 310C508.33 281.17 546.67 245 580 220C613.33 195 646.67 175.83 680 160C713.33 144.17 755 132 780 125C805 118 813.33 120.5 830 118L830 118C829.17 131.67 823.33 173 825 200C826.67 227 835.83 259.17 840 280C844.17 300.83 848.33 317.5 850 325L850 325C841.67 327.5 819.17 333.33 800 340C780.83 346.67 745.83 360.83 735 365L735 365C719.17 362.5 669.17 352 640 350C610.83 348 583.33 350.33 560 353C536.67 355.67 520 359.5 500 366C480 372.5 455 387.5 440 392C425 396.5 415 392.83 410 393Z" fill="#f1982c"/>
<path d="M735 365C745.83 360.83 780.83 346.67 800 340C819.17 333.33 841.67 327.5 850 325L850 325C861.67 325.83 895 322.5 920 330C945 337.5 976.67 351.67 1000 370C1023.33 388.33 1041.67 415 1060 440C1078.33 465 1095 493.33 1110 520C1125 546.67 1140 573.33 1150 600C1160 626.67 1165 653.33 1170 680C1175 706.67 1181.17 738.33 1180 760C1178.83 781.67 1165.83 801.67 1163 810L1163 810C1153.83 813.67 1122.17 829 1108 832C1093.83 835 1086.33 827 1078 828C1069.67 829 1064.33 839.33 1058 838C1051.67 836.67 1056.33 829.67 1040 820C1023.67 810.33 983.33 788.33 960 780C936.67 771.67 918.33 775.83 900 770C881.67 764.17 864.17 750.5 850 745C835.83 739.5 824.17 735.33 815 737C805.83 738.67 807.5 752.5 795 755C782.5 757.5 749.17 752.5 740 752L740 752C733.33 743.33 708.33 725.33 700 700C691.67 674.67 693.33 633.33 690 600C686.67 566.67 680 530 680 500C680 470 680.83 442.5 690 420C699.17 397.5 727.5 374.17 735 365Z" fill="#f29028"/>
<path d="M830 118C846.67 115.5 865.33 111.67 880 110C894.67 108.33 898 108.33 918 108C938 107.67 975 107 1000 108L1000 108C1005.5 121.67 1015 164.67 1033 190C1051 215.33 1082.17 235 1108 260C1133.83 285 1163 310 1188 340C1213 370 1238 406.67 1258 440C1278 473.33 1295.5 506.67 1308 540C1320.5 573.33 1326.33 606.67 1333 640C1339.67 673.33 1342.17 708.33 1348 740C1353.83 771.67 1360.5 810 1368 830C1375.5 850 1388.83 855 1393 860L1393 860C1382.17 858.33 1352.17 855.83 1328 850C1303.83 844.17 1275.5 831.67 1248 825C1220.5 818.33 1177.17 812.5 1163 810L1163 810C1165.83 801.67 1178.83 781.67 1180 760C1181.17 738.33 1175 706.67 1170 680C1165 653.33 1160 626.67 1150 600C1140 573.33 1125 546.67 1110 520C1095 493.33 1078.33 465 1060 440C1041.67 415 1023.33 388.33 1000 370C976.67 351.67 945 337.5 920 330C895 322.5 861.67 325.83 850 325L850 325C848.33 317.5 844.17 300.83 840 280C835.83 259.17 826.67 227 825 200C823.33 173 829.17 131.67 830 118Z" fill="#f48626"/>
<path d="M1000 108C1025 109 1043 111.67 1068 114C1093 116.33 1125 117.67 1150 122C1175 126.33 1191.67 132.83 1218 140C1244.33 147.17 1283 158 1308 165L1308 165C1323 179.17 1373 220.83 1398 250C1423 279.17 1443 311.67 1458 340C1473 368.33 1474.67 391.67 1488 420C1501.33 448.33 1521.33 480 1538 510C1554.67 540 1583 568.33 1588 600C1593 631.67 1578 670 1568 700C1558 730 1538 751.67 1528 780C1518 808.33 1513 853.33 1508 870C1503 886.67 1499.67 878.33 1498 880L1498 880C1489.67 880 1465.5 883.33 1448 880C1430.5 876.67 1402.17 863.33 1393 860L1393 860C1388.83 855 1375.5 850 1368 830C1360.5 810 1353.83 771.67 1348 740C1342.17 708.33 1339.67 673.33 1333 640C1326.33 606.67 1320.5 573.33 1308 540C1295.5 506.67 1278 473.33 1258 440C1238 406.67 1213 370 1188 340C1163 310 1133.83 285 1108 260C1082.17 235 1051 215.33 1033 190C1015 164.67 1005.5 121.67 1000 108Z" fill="#f38c28"/>
<path d="M1308 165C1333 172 1333 169.5 1368 182C1403 194.5 1468 217 1518 240C1568 263 1623 291.67 1668 320C1713 348.33 1751.33 380 1788 410L1778 435C1759.67 424.17 1703 390.83 1668 370C1633 349.17 1601.33 327.5 1568 310C1534.67 292.5 1496.33 275 1468 265C1439.67 255 1409.67 252.5 1398 250L1398 250L1308 165Z" fill="#efe03c"/>
<path d="M1398 250C1409.67 252.5 1439.67 255 1468 265C1496.33 275 1534.67 292.5 1568 310C1601.33 327.5 1633 349.17 1668 370C1703 390.83 1759.67 424.17 1778 435L1778 435C1773.83 442.5 1756.33 465.83 1753 480C1749.67 494.17 1763.83 505 1758 520C1752.17 535 1725.5 555 1718 570C1710.5 585 1714.67 599.17 1713 610C1711.33 620.83 1708.83 630.83 1708 635L1708 635C1698 631.67 1668 620.83 1648 615C1628 609.17 1598 602.5 1588 600L1588 600C1579.67 585 1554.67 540 1538 510C1521.33 480 1501.33 448.33 1488 420C1474.67 391.67 1473 368.33 1458 340C1443 311.67 1408 265 1398 250Z" fill="#f0a630"/>
<path d="M1778 435L1788 410L1788 410C1824.67 440 1858 470 1888 500C1918 530 1943 558.33 1968 590C1993 621.67 2016.33 656.67 2038 690C2059.67 723.33 2081.33 758.33 2098 790C2114.67 821.67 2128.83 851.67 2138 880C2147.17 908.33 2152.17 935 2153 960C2153.83 985 2150.5 1008.33 2143 1030C2135.5 1051.67 2122.17 1071.67 2108 1090C2093.83 1108.33 2069.33 1130 2058 1140C2046.67 1150 2049.67 1145 2040 1150L2040 1150C2043.83 1141.67 2058.33 1114.17 2063 1100C2067.67 1085.83 2070.5 1075 2068 1065C2065.5 1055 2051.33 1044.17 2048 1040L2048 1040C2045.5 1033.33 2039.67 1020 2033 1000C2026.33 980 2018.83 945 2008 920C1997.17 895 1986.33 867.5 1968 850C1949.67 832.5 1923 823.33 1898 815C1873 806.67 1831.33 802.5 1818 800L1818 800C1816.33 796.67 1818 796.67 1808 780C1798 763.33 1774.67 724.17 1758 700C1741.33 675.83 1716.33 645.83 1708 635L1708 635C1708.83 630.83 1711.33 620.83 1713 610C1714.67 599.17 1710.5 585 1718 570C1725.5 555 1752.17 535 1758 520C1763.83 505 1749.67 494.17 1753 480C1756.33 465.83 1773.83 442.5 1778 435Z" fill="#efdc3c"/>
<path d="M1588 600C1598 602.5 1628 609.17 1648 615C1668 620.83 1698 631.67 1708 635L1708 635C1716.33 645.83 1741.33 675.83 1758 700C1774.67 724.17 1798 763.33 1808 780C1818 796.67 1816.33 796.67 1818 800L1818 800C1809.67 806.67 1784.67 825 1768 840C1751.33 855 1734.67 873.33 1718 890C1701.33 906.67 1679.67 928 1668 940C1656.33 952 1651.33 958.33 1648 962L1648 962C1638 955 1608 932 1588 920C1568 908 1543 896.67 1528 890C1513 883.33 1503 881.67 1498 880L1498 880C1499.67 878.33 1503 886.67 1508 870C1513 853.33 1518 808.33 1528 780C1538 751.67 1558 730 1568 700C1578 670 1584.67 616.67 1588 600Z" fill="#efb032"/>
<path d="M1818 800C1831.33 802.5 1873 806.67 1898 815C1923 823.33 1949.67 832.5 1968 850C1986.33 867.5 1997.17 895 2008 920C2018.83 945 2026.33 980 2033 1000C2039.67 1020 2045.5 1033.33 2048 1040L2048 1040C2034.67 1042.5 1998 1049.17 1968 1055C1938 1060.83 1894.67 1070 1868 1075C1841.33 1080 1818 1083.33 1808 1085L1808 1085C1799.67 1080.83 1774.67 1070.83 1758 1060C1741.33 1049.17 1724.67 1032.5 1708 1020C1691.33 1007.5 1668 994.67 1658 985C1648 975.33 1649.67 965.83 1648 962L1648 962C1651.33 958.33 1656.33 952 1668 940C1679.67 928 1701.33 906.67 1718 890C1734.67 873.33 1751.33 855 1768 840C1784.67 825 1809.67 806.67 1818 800Z" fill="#efb834"/>
<path d="M1808 1085C1818 1083.33 1841.33 1080 1868 1075C1894.67 1070 1938 1060.83 1968 1055C1998 1049.17 2034.67 1042.5 2048 1040L2048 1040C2051.33 1044.17 2065.5 1055 2068 1065C2070.5 1075 2067.67 1085.83 2063 1100C2058.33 1114.17 2043.83 1141.67 2040 1150L2040 1150C2031.33 1150.33 2008.33 1152 1988 1152C1967.67 1152 1939.67 1153.67 1918 1150C1896.33 1146.33 1874.67 1137.5 1858 1130C1841.33 1122.5 1826.33 1112.5 1818 1105C1809.67 1097.5 1809.67 1088.33 1808 1085Z" fill="#efe63e"/>
<path d="M1648 962C1649.67 965.83 1648 975.33 1658 985C1668 994.67 1691.33 1007.5 1708 1020C1724.67 1032.5 1741.33 1049.17 1758 1060C1774.67 1070.83 1799.67 1080.83 1808 1085L1808 1085C1809.67 1088.33 1809.67 1097.5 1818 1105C1826.33 1112.5 1841.33 1122.5 1858 1130C1874.67 1137.5 1896.33 1146.33 1918 1150C1939.67 1153.67 1967.67 1152 1988 1152C2008.33 1152 2031.33 1150.33 2040 1150L2040 1150C2030.33 1155 2020.33 1162.5 2000 1170C1979.67 1177.5 1948.33 1187.5 1918 1195C1887.67 1202.5 1851.33 1209.5 1818 1215C1784.67 1220.5 1745.5 1223.67 1718 1228C1690.5 1232.33 1673 1236.17 1653 1241L1653 1241C1655.5 1232.17 1663.83 1210.17 1668 1188C1672.17 1165.83 1677.17 1134.67 1678 1108C1678.83 1081.33 1678 1052.33 1673 1028C1668 1003.67 1652.17 973 1648 962Z" fill="#f1f442"/>
<path d="M403 1048C417.17 1054.67 457.17 1069.67 488 1088C518.83 1106.33 554.67 1134.67 588 1158C621.33 1181.33 654.67 1206.33 688 1228C721.33 1249.67 754.67 1268.83 788 1288C821.33 1307.17 854.67 1325.5 888 1343C921.33 1360.5 954.67 1377.17 988 1393C1021.33 1408.83 1054.67 1424.67 1088 1438C1121.33 1451.33 1154.67 1463 1188 1473C1221.33 1483 1261.33 1492.17 1288 1498C1314.67 1503.83 1338 1506.33 1348 1508L1348 1508C1334.67 1508.83 1314.67 1510.5 1288 1508C1261.33 1505.5 1221.33 1499.67 1188 1493C1154.67 1486.33 1121.33 1477.17 1088 1468C1054.67 1458.83 1021.33 1448.83 988 1438C954.67 1427.17 921.33 1415.5 888 1403C854.67 1390.5 821.33 1376.33 788 1363C754.67 1349.67 721.33 1337.17 688 1323C654.67 1308.83 621.33 1293 588 1278C554.67 1263 520.5 1247.67 488 1233C455.5 1218.33 426.33 1200.83 393 1190L393 1190C393.83 1178.33 396.33 1143.67 398 1120C399.67 1096.33 402.17 1060 403 1048Z" fill="#f0ec40"/>
<path d="M394 960C401.33 953 419 928.33 438 918C457 907.67 483 901.33 508 898C533 894.67 565.17 894.83 588 898C610.83 901.17 635.5 913.83 645 917L645 917C648 927.17 655.83 959.5 663 978C670.17 996.5 677.17 1013.83 688 1028C698.83 1042.17 711.33 1054.67 728 1063C744.67 1071.33 768 1076.33 788 1078C808 1079.67 833 1074.67 848 1073C863 1071.33 873 1068.83 878 1068L878 1068C888 1074.67 911.33 1091.33 938 1108C964.67 1124.67 1004.67 1148 1038 1168C1071.33 1188 1104.67 1208 1138 1228C1171.33 1248 1204.67 1266.33 1238 1288C1271.33 1309.67 1309.67 1338 1338 1358C1366.33 1378 1388.83 1393.83 1408 1408C1427.17 1422.17 1445.5 1437.17 1453 1443L1453 1443C1443 1457.17 1432.17 1473 1418 1483C1403.83 1493 1379.67 1498.83 1368 1503C1356.33 1507.17 1361.33 1507.17 1348 1508L1348 1508C1338 1506.33 1314.67 1503.83 1288 1498C1261.33 1492.17 1221.33 1483 1188 1473C1154.67 1463 1121.33 1451.33 1088 1438C1054.67 1424.67 1021.33 1408.83 988 1393C954.67 1377.17 921.33 1360.5 888 1343C854.67 1325.5 821.33 1307.17 788 1288C754.67 1268.83 721.33 1249.67 688 1228C654.67 1206.33 621.33 1181.33 588 1158C554.67 1134.67 518.83 1106.33 488 1088C457.17 1069.67 417.17 1054.67 403 1048L403 1048L394 960Z" fill="#efe23c"/>
<path d="M795 755C798.33 752 805.83 738.67 815 737C824.17 735.33 835.83 739.5 850 745C864.17 750.5 881.67 764.17 900 770C918.33 775.83 936.67 771.67 960 780C983.33 788.33 1023.67 810.33 1040 820C1056.33 829.67 1055 835 1058 838L1058 838C1063 848 1074.67 876.33 1088 898C1101.33 919.67 1121.33 946.33 1138 968C1154.67 989.67 1173.83 1013.83 1188 1028C1202.17 1042.17 1217.17 1048.83 1223 1053L1223 1053C1225.83 1047.5 1235.83 1030 1240 1020C1244.17 1010 1246.67 997.5 1248 993L1248 993C1254.67 998.83 1268 1008.83 1288 1028C1308 1047.17 1343 1084.67 1368 1108C1393 1131.33 1418 1149.67 1438 1168C1458 1186.33 1473.83 1201.33 1488 1218C1502.17 1234.67 1514.67 1256 1523 1268C1531.33 1280 1535.5 1286.33 1538 1290L1538 1290C1531.33 1294.5 1524.67 1300.33 1518 1310C1511.33 1319.67 1504.67 1333.33 1498 1348C1491.33 1362.67 1485.5 1382.17 1478 1398C1470.5 1413.83 1463 1428.83 1453 1443L1453 1443C1445.5 1437.17 1427.17 1422.17 1408 1408C1388.83 1393.83 1366.33 1378 1338 1358C1309.67 1338 1271.33 1309.67 1238 1288C1204.67 1266.33 1171.33 1248 1138 1228C1104.67 1208 1071.33 1188 1038 1168C1004.67 1148 964.67 1124.67 938 1108C911.33 1091.33 888 1074.67 878 1068L878 1068C873.83 1061.33 858.83 1041.33 853 1028C847.17 1014.67 841.33 1003 843 988C844.67 973 858.83 954.67 863 938C867.17 921.33 870.5 904.67 868 888C865.5 871.33 856.33 854.67 848 838C839.67 821.33 825.5 799.67 818 788C810.5 776.33 806.83 773.5 803 768C799.17 762.5 796.33 757.17 795 755Z" fill="#efe03c"/>
<path d="M1108 832C1117.17 828.33 1139.67 811.17 1163 810C1186.33 808.83 1220.5 818.33 1248 825C1275.5 831.67 1303.83 844.17 1328 850C1352.17 855.83 1373 855 1393 860C1413 865 1430.5 876.67 1448 880C1465.5 883.33 1484.67 878.33 1498 880C1511.33 881.67 1513 883.33 1528 890C1543 896.67 1568 908 1588 920C1608 932 1638 955 1648 962L1648 962C1652.17 973 1668 1003.67 1673 1028C1678 1052.33 1678.83 1081.33 1678 1108C1677.17 1134.67 1672.17 1165.83 1668 1188C1663.83 1210.17 1655.5 1232.17 1653 1241L1653 1241C1633 1245.83 1613.83 1250 1598 1257C1582.17 1264 1568 1277.5 1558 1283C1548 1288.5 1544.67 1285.5 1538 1290L1538 1290C1535.5 1286.33 1531.33 1280 1523 1268C1514.67 1256 1502.17 1234.67 1488 1218C1473.83 1201.33 1458 1186.33 1438 1168C1418 1149.67 1393 1131.33 1368 1108C1343 1084.67 1308 1047.17 1288 1028C1268 1008.83 1254.67 998.83 1248 993L1248 993L1223 1008L1223 1008C1217.17 996.33 1200.5 959.67 1188 938C1175.5 916.33 1161.33 895.67 1148 878C1134.67 860.33 1114.67 839.67 1108 832Z" fill="#f0ea40"/>
<path d="M740 752L795 755L795 755C796.33 757.17 799.17 762.5 803 768C806.83 773.5 810.5 776.33 818 788C825.5 799.67 839.67 821.33 848 838C856.33 854.67 865.5 871.33 868 888C870.5 904.67 867.17 921.33 863 938C858.83 954.67 844.67 973 843 988C841.33 1003 847.17 1014.67 853 1028C858.83 1041.33 873.83 1061.33 878 1068L878 1068C873 1068.83 863 1071.33 848 1073C833 1074.67 808 1079.67 788 1078C768 1076.33 744.67 1071.33 728 1063C711.33 1054.67 698.83 1042.17 688 1028C677.17 1013.83 670.17 996.5 663 978C655.83 959.5 648 927.17 645 917L645 917C650.83 912.5 670.83 904.5 680 890C689.17 875.5 690 853 700 830C710 807 733.33 765 740 752Z" fill="#efb032"/>
<path d="M1058 838C1063 848 1074.67 876.33 1088 898C1101.33 919.67 1121.33 946.33 1138 968C1154.67 989.67 1173.83 1013.83 1188 1028C1202.17 1042.17 1217.17 1048.83 1223 1053L1223 1053L1223 1008L1223 1008C1217.17 996.33 1200.5 959.67 1188 938C1175.5 916.33 1161.33 895.67 1148 878C1134.67 860.33 1114.67 839.67 1108 832L1108 832C1103 831.33 1086.33 827 1078 828C1069.67 829 1061.33 836.33 1058 838Z" fill="#efb032"/>
<path d="M90 960C86 937.5 84.33 923.33 86 905C87.67 886.67 91 870.83 100 850C109 829.17 122.5 805 140 780C157.5 755 181.67 735 205 700C228.33 665 250.83 615 280 570C309.17 525 358.33 459.5 380 430C401.67 400.5 393.33 413 410 393C426.67 373 451.67 338.83 480 310C508.33 281.17 546.67 245 580 220C613.33 195 646.67 175.83 680 160C713.33 144.17 755 132 780 125C805 118 813.33 120.5 830 118C846.67 115.5 865.33 111.67 880 110C894.67 108.33 898 108.33 918 108C938 107.67 975 107 1000 108C1025 109 1043 111.67 1068 114C1093 116.33 1125 117.67 1150 122C1175 126.33 1191.67 132.83 1218 140C1244.33 147.17 1283 158 1308 165C1333 172 1333 169.5 1368 182C1403 194.5 1468 217 1518 240C1568 263 1623 291.67 1668 320C1713 348.33 1751.33 380 1788 410C1824.67 440 1858 470 1888 500C1918 530 1943 558.33 1968 590C1993 621.67 2016.33 656.67 2038 690C2059.67 723.33 2081.33 758.33 2098 790C2114.67 821.67 2128.83 851.67 2138 880C2147.17 908.33 2152.17 935 2153 960C2153.83 985 2150.5 1008.33 2143 1030C2135.5 1051.67 2122.17 1071.67 2108 1090C2093.83 1108.33 2069.33 1130 2058 1140C2046.67 1150 2049.67 1145 2040 1150C2030.33 1155 2020.33 1162.5 2000 1170C1979.67 1177.5 1948.33 1187.5 1918 1195C1887.67 1202.5 1851.33 1209.5 1818 1215C1784.67 1220.5 1745.5 1223.67 1718 1228C1690.5 1232.33 1673 1236.17 1653 1241C1633 1245.83 1613.83 1250 1598 1257C1582.17 1264 1568 1277.5 1558 1283C1548 1288.5 1544.67 1285.5 1538 1290C1531.33 1294.5 1524.67 1300.33 1518 1310C1511.33 1319.67 1504.67 1333.33 1498 1348C1491.33 1362.67 1485.5 1382.17 1478 1398C1470.5 1413.83 1463 1428.83 1453 1443C1443 1457.17 1432.17 1473 1418 1483C1403.83 1493 1379.67 1498.83 1368 1503C1356.33 1507.17 1361.33 1507.17 1348 1508C1334.67 1508.83 1314.67 1510.5 1288 1508C1261.33 1505.5 1221.33 1499.67 1188 1493C1154.67 1486.33 1121.33 1477.17 1088 1468C1054.67 1458.83 1021.33 1448.83 988 1438C954.67 1427.17 921.33 1415.5 888 1403C854.67 1390.5 821.33 1376.33 788 1363C754.67 1349.67 721.33 1337.17 688 1323C654.67 1308.83 621.33 1293 588 1278C554.67 1263 520.5 1247.67 488 1233C455.5 1218.33 426.33 1200.83 393 1190C359.67 1179.17 311.83 1174.67 288 1168C264.17 1161.33 271.33 1161.33 250 1150C228.67 1138.67 183.33 1118.33 160 1100C136.67 1081.67 121.67 1063.33 110 1040C98.33 1016.67 94 982.5 90 960Z" fill="none" stroke="#4a4420" stroke-opacity="0.8" stroke-width="9"/>
</g>
<text transform="translate(1226.8 803.5) scale(0.88 1)" font-size="20.8" text-anchor="middle" font-weight="bold">Beta</text>
<path d="M925.2 952.3V1495H1535.5" fill="none" stroke="#000" stroke-width="2.2" stroke-linejoin="miter"/>
<text transform="translate(877 1031) scale(0.85 1)" font-size="22" text-anchor="middle" >0.40</text>
<text transform="translate(877 1129.2) scale(0.85 1)" font-size="22" text-anchor="middle" >0.30</text>
<text transform="translate(877 1229) scale(0.85 1)" font-size="22" text-anchor="middle" >0.20</text>
<text transform="translate(877 1328.9) scale(0.85 1)" font-size="22" text-anchor="middle" >0.10</text>
<text transform="translate(877 1427.8) scale(0.85 1)" font-size="22" text-anchor="middle" >0</text>
<text transform="translate(827.1 1219) rotate(-90) scale(0.841 1)" font-size="21.5" text-anchor="middle">Beta-band relative power</text>
<text transform="translate(1040 1523.7) scale(0.882 1)" font-size="21.7" text-anchor="middle" >Aβ-/Tau-</text>
<text transform="translate(1232.7 1523.7) scale(0.882 1)" font-size="21.7" text-anchor="middle" >Aβ+/Tau-</text>
<text transform="translate(1422.7 1523.7) scale(0.882 1)" font-size="21.7" text-anchor="middle" >Aβ+/Tau+</text>
<path d="M1038.9 995V986.5H1422.9V995" fill="none" stroke="#000" stroke-width="1.8"/>
<path d="M1231.3 1018.7V1010.2H1422.9V1018.7" fill="none" stroke="#000" stroke-width="1.8"/>
<path d="M1038.9 1044.5V1036H1231.3V1044.5" fill="none" stroke="#000" stroke-width="1.8"/>
<text transform="translate(1231.9 981) scale(0.88 1)" font-size="22.5" text-anchor="middle" font-style="italic">ns</text>
<text transform="translate(1136.1 1030.3) scale(0.88 1)" font-size="22.5" text-anchor="middle" font-style="italic">ns</text>
<text transform="translate(1288.4 1004.9) scale(0.9 1)" font-size="17.6"><tspan font-style="italic" font-size="19">p</tspan><tspan font-style="italic" font-size="12" dy="3.4" dx="-0.4" letter-spacing="-0.35">adj</tspan><tspan dy="-3.4" dx="3.3">=</tspan><tspan dx="4.2">0.025</tspan></text>
<path d="M1039.58 1150.83C1039.69 1152.64 1040.03 1158.12 1040.21 1161.67C1040.38 1165.21 1040.31 1168.61 1040.62 1172.08C1040.94 1175.56 1041.49 1179.03 1042.08 1182.5C1042.67 1185.97 1043.51 1189.44 1044.17 1192.92C1044.83 1196.39 1045.45 1199.65 1046.04 1203.33C1046.63 1207.01 1047.08 1211.94 1047.71 1215C1048.33 1218.06 1048.99 1219.41 1049.79 1221.67C1050.59 1223.92 1051.49 1226.28 1052.5 1228.54C1053.51 1230.8 1054.48 1232.95 1055.83 1235.21C1057.19 1237.47 1058.82 1239.83 1060.62 1242.08C1062.43 1244.34 1064.53 1246.49 1066.67 1248.75C1068.8 1251.01 1071.18 1253.37 1073.44 1255.62C1075.69 1257.88 1077.95 1260.03 1080.21 1262.29C1082.47 1264.55 1084.95 1266.91 1086.98 1269.17C1089.01 1271.42 1090.82 1273.58 1092.4 1275.83C1093.98 1278.09 1095.56 1280.66 1096.46 1282.71C1097.36 1284.76 1097.52 1286.56 1097.81 1288.12C1098.11 1289.69 1098.35 1290.73 1098.23 1292.08C1098.11 1293.44 1097.83 1294.44 1097.08 1296.25C1096.34 1298.06 1094.98 1300.66 1093.75 1302.92C1092.52 1305.17 1090.82 1307.53 1089.69 1309.79C1088.56 1312.05 1087.66 1314.2 1086.98 1316.46C1086.3 1318.72 1086.08 1321.08 1085.62 1323.33C1085.17 1325.59 1084.95 1327.74 1084.27 1330C1083.59 1332.26 1082.69 1334.62 1081.56 1336.88C1080.43 1339.13 1079.08 1341.28 1077.5 1343.54C1075.92 1345.8 1073.99 1348.16 1072.08 1350.42C1070.17 1352.67 1068.07 1354.83 1066.04 1357.08C1064.01 1359.34 1061.82 1361.7 1059.9 1363.96C1057.97 1366.22 1056.06 1368.37 1054.48 1370.62C1052.9 1372.88 1051.65 1375.24 1050.42 1377.5C1049.18 1379.76 1048.09 1381.91 1047.08 1384.17C1046.08 1386.42 1045.14 1388.78 1044.38 1391.04C1043.61 1393.3 1043 1395.45 1042.5 1397.71C1042 1399.97 1041.68 1402.33 1041.35 1404.58C1041.02 1406.84 1040.82 1408.78 1040.52 1411.25C1040.23 1413.72 1039.74 1418.02 1039.58 1419.38C1039.43 1418.02 1038.94 1413.72 1038.65 1411.25C1038.35 1408.78 1038.14 1406.84 1037.81 1404.58C1037.48 1402.33 1037.17 1399.97 1036.67 1397.71C1036.16 1395.45 1035.56 1393.3 1034.79 1391.04C1034.03 1388.78 1033.09 1386.42 1032.08 1384.17C1031.08 1381.91 1029.98 1379.76 1028.75 1377.5C1027.52 1375.24 1026.27 1372.88 1024.69 1370.62C1023.11 1368.37 1021.2 1366.22 1019.27 1363.96C1017.34 1361.7 1015.16 1359.34 1013.12 1357.08C1011.09 1354.83 1008.99 1352.67 1007.08 1350.42C1005.17 1348.16 1003.25 1345.8 1001.67 1343.54C1000.09 1341.28 998.73 1339.13 997.6 1336.88C996.48 1334.62 995.57 1332.26 994.9 1330C994.22 1327.74 993.99 1325.59 993.54 1323.33C993.09 1321.08 992.86 1318.72 992.19 1316.46C991.51 1314.2 990.61 1312.05 989.48 1309.79C988.35 1307.53 986.65 1305.17 985.42 1302.92C984.18 1300.66 982.83 1298.06 982.08 1296.25C981.34 1294.44 981.06 1293.44 980.94 1292.08C980.82 1290.73 981.06 1289.69 981.35 1288.12C981.65 1286.56 981.81 1284.76 982.71 1282.71C983.61 1280.66 985.19 1278.09 986.77 1275.83C988.35 1273.58 990.16 1271.42 992.19 1269.17C994.22 1266.91 996.7 1264.55 998.96 1262.29C1001.22 1260.03 1003.47 1257.88 1005.73 1255.62C1007.99 1253.37 1010.36 1251.01 1012.5 1248.75C1014.64 1246.49 1016.74 1244.34 1018.54 1242.08C1020.35 1239.83 1021.98 1237.47 1023.33 1235.21C1024.69 1232.95 1025.66 1230.8 1026.67 1228.54C1027.67 1226.28 1028.58 1223.92 1029.38 1221.67C1030.17 1219.41 1030.83 1218.06 1031.46 1215C1032.08 1211.94 1032.53 1207.01 1033.12 1203.33C1033.72 1199.65 1034.34 1196.39 1035 1192.92C1035.66 1189.44 1036.49 1185.97 1037.08 1182.5C1037.67 1179.03 1038.23 1175.56 1038.54 1172.08C1038.85 1168.61 1038.78 1165.21 1038.96 1161.67C1039.13 1158.12 1039.48 1152.64 1039.58 1150.83Z" fill="#5cbcf5" stroke="#1e1e1e" stroke-width="2.2" stroke-linejoin="round"/>
<path d="M1039.38 1199.79V1277.92M1039.38 1335.62V1370" stroke="#3a3636" stroke-width="2" fill="none"/>
<rect x="1010.21" y="1277.92" width="58.33" height="57.71" fill="none" stroke="#3a3636" stroke-width="2.1"/>
<path d="M1010.21 1297.08H1068.54" stroke="#3a3636" stroke-width="4.2"/>
<g fill="#000"><ellipse cx="1051.46" cy="1199.17" rx="3.9" ry="3.25"/><ellipse cx="1023.75" cy="1221.46" rx="3.9" ry="3.25"/><ellipse cx="1020.21" cy="1225.21" rx="3.9" ry="3.25"/><ellipse cx="1041.88" cy="1249.17" rx="3.9" ry="3.25"/><ellipse cx="1052.92" cy="1246.04" rx="3.9" ry="3.25"/><ellipse cx="1054.58" cy="1251.67" rx="3.9" ry="3.25"/><ellipse cx="1036.67" cy="1268.54" rx="3.9" ry="3.25"/><ellipse cx="1045.62" cy="1271.04" rx="3.9" ry="3.25"/><ellipse cx="1051.88" cy="1263.75" rx="3.9" ry="3.25"/><ellipse cx="1056.67" cy="1265.83" rx="3.9" ry="3.25"/><ellipse cx="1057.71" cy="1270" rx="3.9" ry="3.25"/><ellipse cx="1040.42" cy="1276.25" rx="3.9" ry="3.25"/><ellipse cx="1055.62" cy="1280.42" rx="3.9" ry="3.25"/><ellipse cx="1039.38" cy="1283.54" rx="3.9" ry="3.25"/><ellipse cx="1031.46" cy="1285.62" rx="3.9" ry="3.25"/><ellipse cx="1041.46" cy="1287.71" rx="3.9" ry="3.25"/><ellipse cx="1026.88" cy="1290.83" rx="3.9" ry="3.25"/><ellipse cx="1046.25" cy="1292.5" rx="3.9" ry="3.25"/><ellipse cx="1025.83" cy="1296.04" rx="3.9" ry="3.25"/><ellipse cx="1033.12" cy="1296.67" rx="3.9" ry="3.25"/><ellipse cx="1039.38" cy="1297.08" rx="3.9" ry="3.25"/><ellipse cx="1035.21" cy="1300.21" rx="3.9" ry="3.25"/><ellipse cx="1023.33" cy="1303.96" rx="3.9" ry="3.25"/><ellipse cx="1045.62" cy="1315.83" rx="3.9" ry="3.25"/><ellipse cx="1053.96" cy="1317.92" rx="3.9" ry="3.25"/><ellipse cx="1040.42" cy="1320" rx="3.9" ry="3.25"/><ellipse cx="1052.92" cy="1321.67" rx="3.9" ry="3.25"/><ellipse cx="1020.21" cy="1321.04" rx="3.9" ry="3.25"/><ellipse cx="1037.29" cy="1323.12" rx="3.9" ry="3.25"/><ellipse cx="1034.58" cy="1325.83" rx="3.9" ry="3.25"/><ellipse cx="1032.71" cy="1333.96" rx="3.9" ry="3.25"/><ellipse cx="1055.62" cy="1336.67" rx="3.9" ry="3.25"/><ellipse cx="1022.71" cy="1337.71" rx="3.9" ry="3.25"/><ellipse cx="1028.33" cy="1339.17" rx="3.9" ry="3.25"/><ellipse cx="1048.33" cy="1341.88" rx="3.9" ry="3.25"/><ellipse cx="1046.04" cy="1346.67" rx="3.9" ry="3.25"/><ellipse cx="1055.62" cy="1348.12" rx="3.9" ry="3.25"/><ellipse cx="1023.12" cy="1354.38" rx="3.9" ry="3.25"/><ellipse cx="1034.58" cy="1356.88" rx="3.9" ry="3.25"/><ellipse cx="1049.17" cy="1357.5" rx="3.9" ry="3.25"/><ellipse cx="1047.71" cy="1360.62" rx="3.9" ry="3.25"/><ellipse cx="1026.46" cy="1366.46" rx="3.9" ry="3.25"/><ellipse cx="1025.42" cy="1371.04" rx="3.9" ry="3.25"/></g>
<path d="M1229.71 1150.83C1229.81 1152.29 1230.19 1156.74 1230.33 1159.58C1230.47 1162.43 1230.3 1164.79 1230.54 1167.92C1230.78 1171.04 1231.24 1174.86 1231.79 1178.33C1232.35 1181.81 1233.15 1185.28 1233.88 1188.75C1234.6 1192.22 1235.58 1196.46 1236.17 1199.17C1236.76 1201.88 1236.86 1202.92 1237.42 1205C1237.97 1207.08 1238.82 1209.41 1239.5 1211.67C1240.18 1213.92 1240.7 1216.28 1241.48 1218.54C1242.26 1220.8 1243.06 1222.95 1244.19 1225.21C1245.32 1227.47 1246.57 1229.83 1248.25 1232.08C1249.93 1234.34 1252.03 1236.49 1254.29 1238.75C1256.55 1241.01 1259.19 1243.37 1261.79 1245.62C1264.4 1247.88 1267.21 1250.03 1269.92 1252.29C1272.62 1254.55 1275.33 1256.91 1278.04 1259.17C1280.75 1261.42 1283.46 1263.58 1286.17 1265.83C1288.87 1268.09 1291.69 1270.45 1294.29 1272.71C1296.9 1274.97 1299.76 1277.36 1301.79 1279.38C1303.82 1281.39 1305.47 1283.19 1306.48 1284.79C1307.49 1286.39 1307.71 1287.6 1307.83 1288.96C1307.95 1290.31 1308.22 1291.35 1307.21 1292.92C1306.2 1294.48 1304.05 1296.53 1301.79 1298.33C1299.53 1300.14 1296.72 1301.7 1293.67 1303.75C1290.61 1305.8 1286.86 1308.37 1283.46 1310.62C1280.06 1312.88 1276.31 1315.03 1273.25 1317.29C1270.19 1319.55 1267.49 1321.91 1265.12 1324.17C1262.76 1326.42 1260.89 1328.58 1259.08 1330.83C1257.28 1333.09 1255.75 1335.45 1254.29 1337.71C1252.83 1339.97 1251.57 1342.12 1250.33 1344.38C1249.1 1346.63 1247.92 1348.99 1246.9 1351.25C1245.87 1353.51 1244.97 1355.66 1244.19 1357.92C1243.41 1360.17 1242.89 1362.53 1242.21 1364.79C1241.53 1367.05 1240.92 1369.2 1240.12 1371.46C1239.33 1373.72 1238.32 1376.08 1237.42 1378.33C1236.51 1380.59 1235.51 1382.74 1234.71 1385C1233.91 1387.26 1233.18 1389.62 1232.62 1391.88C1232.07 1394.13 1231.76 1396.28 1231.38 1398.54C1230.99 1400.8 1230.61 1403.26 1230.33 1405.42C1230.06 1407.57 1229.81 1410.45 1229.71 1411.46C1229.6 1410.45 1229.36 1407.57 1229.08 1405.42C1228.81 1403.26 1228.42 1400.8 1228.04 1398.54C1227.66 1396.28 1227.35 1394.13 1226.79 1391.88C1226.24 1389.62 1225.51 1387.26 1224.71 1385C1223.91 1382.74 1222.9 1380.59 1222 1378.33C1221.1 1376.08 1220.09 1373.72 1219.29 1371.46C1218.49 1369.2 1217.89 1367.05 1217.21 1364.79C1216.53 1362.53 1216.01 1360.17 1215.23 1357.92C1214.45 1355.66 1213.55 1353.51 1212.52 1351.25C1211.5 1348.99 1210.32 1346.63 1209.08 1344.38C1207.85 1342.12 1206.58 1339.97 1205.12 1337.71C1203.67 1335.45 1202.14 1333.09 1200.33 1330.83C1198.53 1328.58 1196.65 1326.42 1194.29 1324.17C1191.93 1321.91 1189.22 1319.55 1186.17 1317.29C1183.11 1315.03 1179.36 1312.88 1175.96 1310.62C1172.56 1308.37 1168.81 1305.8 1165.75 1303.75C1162.69 1301.7 1159.88 1300.14 1157.62 1298.33C1155.37 1296.53 1153.22 1294.48 1152.21 1292.92C1151.2 1291.35 1151.46 1290.31 1151.58 1288.96C1151.7 1287.6 1151.93 1286.39 1152.94 1284.79C1153.94 1283.19 1155.59 1281.39 1157.62 1279.38C1159.66 1277.36 1162.52 1274.97 1165.12 1272.71C1167.73 1270.45 1170.54 1268.09 1173.25 1265.83C1175.96 1263.58 1178.67 1261.42 1181.38 1259.17C1184.08 1256.91 1186.79 1254.55 1189.5 1252.29C1192.21 1250.03 1195.02 1247.88 1197.62 1245.62C1200.23 1243.37 1202.87 1241.01 1205.12 1238.75C1207.38 1236.49 1209.48 1234.34 1211.17 1232.08C1212.85 1229.83 1214.1 1227.47 1215.23 1225.21C1216.36 1222.95 1217.16 1220.8 1217.94 1218.54C1218.72 1216.28 1219.24 1213.92 1219.92 1211.67C1220.59 1209.41 1221.44 1207.08 1222 1205C1222.56 1202.92 1222.66 1201.88 1223.25 1199.17C1223.84 1196.46 1224.81 1192.22 1225.54 1188.75C1226.27 1185.28 1227.07 1181.81 1227.62 1178.33C1228.18 1174.86 1228.63 1171.04 1228.88 1167.92C1229.12 1164.79 1228.94 1162.43 1229.08 1159.58C1229.22 1156.74 1229.6 1152.29 1229.71 1150.83Z" fill="#49d43e" stroke="#1e1e1e" stroke-width="2.2" stroke-linejoin="round"/>
<path d="M1230.12 1220V1266.88M1230.12 1308.54V1366.88" stroke="#3a3636" stroke-width="2" fill="none"/>
<rect x="1201.17" y="1266.88" width="57.92" height="41.67" fill="none" stroke="#3a3636" stroke-width="2.1"/>
<path d="M1201.17 1290.21H1259.08" stroke="#3a3636" stroke-width="4.2"/>
<g fill="#000"><ellipse cx="1220.33" cy="1189.38" rx="3.9" ry="3.25"/><ellipse cx="1216.79" cy="1218.96" rx="3.9" ry="3.25"/><ellipse cx="1241.17" cy="1221.67" rx="3.9" ry="3.25"/><ellipse cx="1228.25" cy="1248.54" rx="3.9" ry="3.25"/><ellipse cx="1241.79" cy="1247.5" rx="3.9" ry="3.25"/><ellipse cx="1243.25" cy="1253.96" rx="3.9" ry="3.25"/><ellipse cx="1215.75" cy="1259.17" rx="3.9" ry="3.25"/><ellipse cx="1218.46" cy="1261.67" rx="3.9" ry="3.25"/><ellipse cx="1241.79" cy="1263.12" rx="3.9" ry="3.25"/><ellipse cx="1211.17" cy="1267.5" rx="3.9" ry="3.25"/><ellipse cx="1216.79" cy="1266.88" rx="3.9" ry="3.25"/><ellipse cx="1244.92" cy="1272.08" rx="3.9" ry="3.25"/><ellipse cx="1220.33" cy="1277.29" rx="3.9" ry="3.25"/><ellipse cx="1226.17" cy="1280" rx="3.9" ry="3.25"/><ellipse cx="1233.04" cy="1280" rx="3.9" ry="3.25"/><ellipse cx="1215.75" cy="1284.58" rx="3.9" ry="3.25"/><ellipse cx="1234.5" cy="1285.62" rx="3.9" ry="3.25"/><ellipse cx="1238.67" cy="1286.25" rx="3.9" ry="3.25"/><ellipse cx="1242.83" cy="1287.71" rx="3.9" ry="3.25"/><ellipse cx="1212.21" cy="1290.83" rx="3.9" ry="3.25"/><ellipse cx="1226.17" cy="1291.88" rx="3.9" ry="3.25"/><ellipse cx="1245.96" cy="1290.42" rx="3.9" ry="3.25"/><ellipse cx="1214.29" cy="1296.04" rx="3.9" ry="3.25"/><ellipse cx="1229.29" cy="1294.58" rx="3.9" ry="3.25"/><ellipse cx="1240.75" cy="1297.08" rx="3.9" ry="3.25"/><ellipse cx="1243.88" cy="1298.12" rx="3.9" ry="3.25"/><ellipse cx="1222" cy="1301.25" rx="3.9" ry="3.25"/><ellipse cx="1215.33" cy="1304.38" rx="3.9" ry="3.25"/><ellipse cx="1237.62" cy="1303.33" rx="3.9" ry="3.25"/><ellipse cx="1242.83" cy="1309.17" rx="3.9" ry="3.25"/><ellipse cx="1247" cy="1311.67" rx="3.9" ry="3.25"/><ellipse cx="1235.12" cy="1315.83" rx="3.9" ry="3.25"/><ellipse cx="1222.42" cy="1325.83" rx="3.9" ry="3.25"/><ellipse cx="1216.79" cy="1329.38" rx="3.9" ry="3.25"/><ellipse cx="1219.92" cy="1339.17" rx="3.9" ry="3.25"/><ellipse cx="1236.58" cy="1338.75" rx="3.9" ry="3.25"/><ellipse cx="1229.29" cy="1341.88" rx="3.9" ry="3.25"/><ellipse cx="1234.5" cy="1366.46" rx="3.9" ry="3.25"/><ellipse cx="1230.33" cy="1367.92" rx="3.9" ry="3.25"/></g>
<path d="M1420.83 1232.5C1420.94 1233.19 1421.12 1235.42 1421.5 1236.67C1421.88 1237.92 1422.4 1238.83 1423.08 1240C1423.76 1241.17 1424.33 1242.42 1425.58 1243.67C1426.83 1244.92 1428.29 1246.03 1430.58 1247.5C1432.88 1248.97 1436.21 1250.64 1439.33 1252.5C1442.46 1254.36 1446.31 1256.58 1449.33 1258.67C1452.36 1260.75 1455.11 1262.92 1457.5 1265C1459.89 1267.08 1461.49 1269.08 1463.67 1271.17C1465.85 1273.25 1468.08 1275.42 1470.58 1277.5C1473.08 1279.58 1475.54 1281.58 1478.67 1283.67C1481.79 1285.75 1486 1287.92 1489.33 1290C1492.67 1292.08 1496.06 1294.08 1498.67 1296.17C1501.28 1298.25 1503.53 1300.61 1505 1302.5C1506.47 1304.39 1507.61 1305.83 1507.5 1307.5C1507.39 1309.17 1506.42 1310.64 1504.33 1312.5C1502.25 1314.36 1498.75 1316.58 1495 1318.67C1491.25 1320.75 1486.42 1322.92 1481.83 1325C1477.25 1327.08 1472.19 1329.08 1467.5 1331.17C1462.81 1333.25 1457.94 1335.42 1453.67 1337.5C1449.39 1339.58 1445.26 1341.58 1441.83 1343.67C1438.4 1345.75 1435.58 1347.92 1433.08 1350C1430.58 1352.08 1428.19 1354.5 1426.83 1356.17C1425.47 1357.83 1425.57 1358.72 1424.93 1360C1424.29 1361.28 1423.45 1362.53 1423 1363.83C1422.55 1365.14 1422.29 1366.53 1422.23 1367.83C1422.17 1369.14 1422.31 1370.36 1422.63 1371.67C1422.96 1372.97 1423.33 1374.36 1424.17 1375.67C1425.01 1376.97 1426.22 1378.19 1427.67 1379.5C1429.11 1380.81 1431 1382.19 1432.83 1383.5C1434.67 1384.81 1436.78 1386.06 1438.67 1387.33C1440.56 1388.61 1442.42 1389.86 1444.17 1391.17C1445.92 1392.47 1447.67 1393.86 1449.17 1395.17C1450.67 1396.47 1452.19 1397.69 1453.17 1399C1454.14 1400.31 1454.62 1401.83 1455 1403C1455.38 1404.17 1455.49 1404.97 1455.43 1406C1455.38 1407.03 1455.32 1407.97 1454.67 1409.17C1454.01 1410.36 1452.86 1411.86 1451.5 1413.17C1450.14 1414.47 1448.31 1415.69 1446.5 1417C1444.69 1418.31 1442.64 1419.69 1440.67 1421C1438.69 1422.31 1436.5 1423.56 1434.67 1424.83C1432.83 1426.11 1431.08 1427.36 1429.67 1428.67C1428.25 1429.97 1427.14 1431.36 1426.17 1432.67C1425.19 1433.97 1424.44 1435.19 1423.83 1436.5C1423.22 1437.81 1422.86 1439.19 1422.5 1440.5C1422.14 1441.81 1421.94 1442.97 1421.67 1444.33C1421.39 1445.69 1420.97 1447.94 1420.83 1448.67C1420.69 1447.94 1420.28 1445.69 1420 1444.33C1419.72 1442.97 1419.53 1441.81 1419.17 1440.5C1418.81 1439.19 1418.44 1437.81 1417.83 1436.5C1417.22 1435.19 1416.47 1433.97 1415.5 1432.67C1414.53 1431.36 1413.42 1429.97 1412 1428.67C1410.58 1427.36 1408.83 1426.11 1407 1424.83C1405.17 1423.56 1402.97 1422.31 1401 1421C1399.03 1419.69 1396.97 1418.31 1395.17 1417C1393.36 1415.69 1391.53 1414.47 1390.17 1413.17C1388.81 1411.86 1387.66 1410.36 1387 1409.17C1386.34 1407.97 1386.29 1407.03 1386.23 1406C1386.18 1404.97 1386.29 1404.17 1386.67 1403C1387.04 1401.83 1387.53 1400.31 1388.5 1399C1389.47 1397.69 1391 1396.47 1392.5 1395.17C1394 1393.86 1395.75 1392.47 1397.5 1391.17C1399.25 1389.86 1401.11 1388.61 1403 1387.33C1404.89 1386.06 1407 1384.81 1408.83 1383.5C1410.67 1382.19 1412.56 1380.81 1414 1379.5C1415.44 1378.19 1416.66 1376.97 1417.5 1375.67C1418.34 1374.36 1418.71 1372.97 1419.03 1371.67C1419.36 1370.36 1419.49 1369.14 1419.43 1367.83C1419.37 1366.53 1419.12 1365.14 1418.67 1363.83C1418.22 1362.53 1417.37 1361.28 1416.73 1360C1416.09 1358.72 1416.19 1357.83 1414.83 1356.17C1413.47 1354.5 1411.08 1352.08 1408.58 1350C1406.08 1347.92 1403.26 1345.75 1399.83 1343.67C1396.4 1341.58 1392.28 1339.58 1388 1337.5C1383.72 1335.42 1378.86 1333.25 1374.17 1331.17C1369.47 1329.08 1364.42 1327.08 1359.83 1325C1355.25 1322.92 1350.42 1320.75 1346.67 1318.67C1342.92 1316.58 1339.42 1314.36 1337.33 1312.5C1335.25 1310.64 1334.28 1309.17 1334.17 1307.5C1334.06 1305.83 1335.19 1304.39 1336.67 1302.5C1338.14 1300.61 1340.39 1298.25 1343 1296.17C1345.61 1294.08 1349 1292.08 1352.33 1290C1355.67 1287.92 1359.88 1285.75 1363 1283.67C1366.12 1281.58 1368.58 1279.58 1371.08 1277.5C1373.58 1275.42 1375.82 1273.25 1378 1271.17C1380.18 1269.08 1381.78 1267.08 1384.17 1265C1386.56 1262.92 1389.31 1260.75 1392.33 1258.67C1395.36 1256.58 1399.21 1254.36 1402.33 1252.5C1405.46 1250.64 1408.79 1248.97 1411.08 1247.5C1413.38 1246.03 1414.83 1244.92 1416.08 1243.67C1417.33 1242.42 1417.9 1241.17 1418.58 1240C1419.26 1238.83 1419.79 1237.92 1420.17 1236.67C1420.54 1235.42 1420.72 1233.19 1420.83 1232.5Z" fill="#ef6f6f" stroke="#1e1e1e" stroke-width="2.2" stroke-linejoin="round"/>
<path d="M1420.83 1270.83V1301.17M1420.83 1330.83V1335" stroke="#3a3636" stroke-width="2" fill="none"/>
<rect x="1391.67" y="1301.17" width="58.33" height="29.67" fill="none" stroke="#3a3636" stroke-width="2.1"/>
<path d="M1391.67 1308.33H1450" stroke="#3a3636" stroke-width="4.2"/>
<g fill="#000"><ellipse cx="1438.83" cy="1270" rx="3.9" ry="3.25"/><ellipse cx="1425.5" cy="1280.83" rx="3.9" ry="3.25"/><ellipse cx="1421.67" cy="1297.83" rx="3.9" ry="3.25"/><ellipse cx="1410.5" cy="1303.83" rx="3.9" ry="3.25"/><ellipse cx="1413" cy="1308.33" rx="3.9" ry="3.25"/><ellipse cx="1438.33" cy="1305.83" rx="3.9" ry="3.25"/><ellipse cx="1403.67" cy="1320.83" rx="3.9" ry="3.25"/><ellipse cx="1422" cy="1325.83" rx="3.9" ry="3.25"/><ellipse cx="1407" cy="1335.33" rx="3.9" ry="3.25"/><ellipse cx="1416.33" cy="1401.67" rx="3.9" ry="3.25"/><ellipse cx="1420.5" cy="1410.83" rx="3.9" ry="3.25"/></g>
</g>
</svg></body></html>
